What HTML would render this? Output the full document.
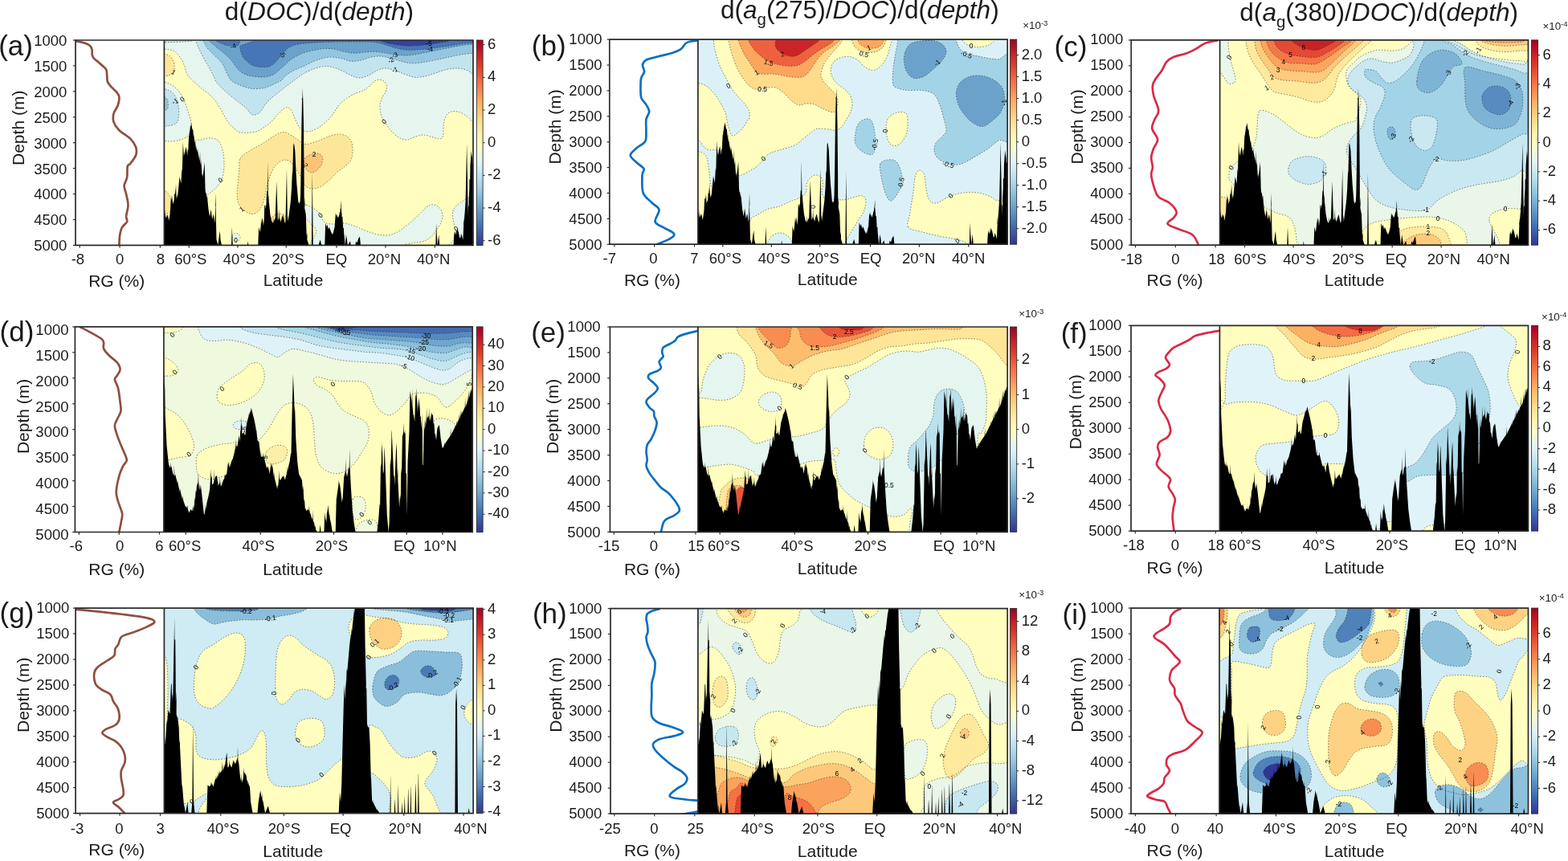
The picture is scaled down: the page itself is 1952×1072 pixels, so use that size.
<!DOCTYPE html>
<html><head><meta charset="utf-8"><title>Vertical gradients of DOC and CDOM along ocean sections</title>
<style>html,body{margin:0;padding:0;background:#fff;overflow:hidden}svg{display:block}</style>
</head><body>
<svg width="1952" height="1072" viewBox="0 0 1952 1072" font-family="'Liberation Sans', Arial, sans-serif" fill="#1a1a1a"><rect width="1952" height="1072" fill="#fff"/><text x="279.8" y="25.1" font-size="31.6">d(<tspan font-style="italic">DOC</tspan>)/d(<tspan font-style="italic">depth</tspan>)</text><text x="896.9" y="22.5" font-size="31.6">d(<tspan font-style="italic">a</tspan><tspan font-size="20.4" dy="8">g</tspan><tspan dy="-8">(275)/</tspan><tspan font-style="italic">DOC</tspan>)/d(<tspan font-style="italic">depth</tspan>)</text><text x="1543.3" y="25.6" font-size="31.6">d(<tspan font-style="italic">a</tspan><tspan font-size="20.4" dy="8">g</tspan><tspan dy="-8">(380)/</tspan><tspan font-style="italic">DOC</tspan>)/d(<tspan font-style="italic">depth</tspan>)</text><clipPath id="clip00"><rect x="204.4" y="50.0" width="384.6" height="255.4"/></clipPath><g clip-path="url(#clip00)"><rect x="204.4" y="50.0" width="384.6" height="255.39999999999998" fill="#fffebe"/><path d="M199.0,61.0 C200.2,64.1 201.2,60.6 204.0,61.0 C206.8,61.4 212.6,61.5 216.0,63.2 C219.4,65.0 222.2,68.7 224.5,71.8 C226.8,74.8 228.1,78.0 229.5,81.5 C230.9,85.0 231.2,89.2 233.0,92.5 C234.8,95.8 237.7,98.2 240.5,101.0 C243.3,103.8 246.6,106.7 250.0,109.5 C253.4,112.3 257.8,115.0 261.0,118.0 C264.2,121.0 266.9,123.9 269.5,127.5 C272.1,131.1 274.5,135.9 276.8,139.8 C279.0,143.6 280.3,147.1 282.8,150.5 C285.2,153.9 288.6,157.5 291.5,160.0 C294.4,162.5 295.5,164.6 300.0,165.2 C304.5,165.9 313.9,165.0 318.5,164.0 C323.1,163.0 324.7,161.0 327.8,159.0 C330.8,157.0 333.9,155.1 337.0,152.2 C340.1,149.4 343.4,145.0 346.2,142.0 C349.1,139.0 352.2,135.8 354.2,134.5 C356.3,133.2 357.3,134.0 358.5,134.2 C359.7,134.5 360.5,134.5 361.5,135.8 C362.5,137.0 363.7,139.8 364.8,142.0 C365.8,144.2 366.8,147.0 367.8,149.2 C368.8,151.5 369.7,153.7 370.8,155.5 C371.8,157.3 372.5,158.9 374.0,160.2 C375.5,161.6 378.0,163.0 380.0,163.5 C382.0,164.0 384.2,163.9 386.2,163.5 C388.3,163.1 390.0,162.3 392.5,161.0 C395.0,159.7 398.5,157.9 401.5,155.5 C404.5,153.1 408.2,149.6 410.8,146.8 C413.3,143.9 415.0,141.0 417.0,138.2 C419.0,135.5 420.3,132.6 422.8,130.0 C425.2,127.4 428.2,124.8 431.5,122.5 C434.8,120.2 439.2,117.9 442.8,116.2 C446.3,114.6 449.8,114.0 452.8,112.5 C455.7,111.0 458.0,108.9 460.2,107.0 C462.5,105.1 464.0,102.5 466.0,101.2 C468.0,100.0 470.0,99.2 472.0,99.2 C474.0,99.2 476.2,100.0 477.8,101.2 C479.3,102.5 481.1,104.8 481.5,107.0 C481.9,109.2 481.0,112.0 480.0,114.5 C479.0,117.0 476.7,119.3 475.5,122.0 C474.3,124.7 473.2,127.0 473.0,130.5 C472.8,134.0 473.4,139.2 474.5,143.0 C475.6,146.8 477.4,149.7 479.5,153.0 C481.6,156.3 484.1,159.9 487.0,163.0 C489.9,166.1 493.7,169.7 497.0,171.5 C500.3,173.3 503.7,174.2 507.0,174.0 C510.3,173.8 513.7,171.2 517.0,170.2 C520.3,169.2 523.7,168.0 527.0,168.0 C530.3,168.0 533.8,169.4 537.0,170.2 C540.2,171.1 544.1,173.1 546.5,173.0 C548.9,172.9 550.5,172.5 551.5,169.5 C552.5,166.5 551.6,159.2 552.2,155.0 C552.9,150.8 553.9,146.7 555.5,144.0 C557.1,141.3 559.3,139.8 562.0,139.0 C564.7,138.2 568.2,138.5 571.5,139.5 C574.8,140.5 578.6,142.8 581.5,145.0 C584.4,147.2 586.5,150.8 589.0,152.5 C591.5,154.2 595.2,173.3 596.5,155.0 C597.8,136.7 663.2,61.2 596.5,42.5 C529.8,23.8 262.8,39.4 196.5,42.5 C130.2,45.6 197.8,57.9 199.0,61.0Z" fill="#e6f5ed"/><path d="M199.0,102.0 C199.8,89.8 202.0,101.6 204.0,102.0 C206.0,102.4 208.6,103.1 211.2,104.5 C213.9,105.9 217.1,107.9 219.8,110.5 C222.4,113.1 225.0,116.6 227.0,120.2 C229.0,123.9 230.6,128.7 232.0,132.5 C233.4,136.3 234.5,139.8 235.5,143.2 C236.5,146.7 237.8,149.8 238.0,153.0 C238.2,156.2 237.6,159.9 236.8,162.8 C235.9,165.6 235.4,168.0 233.0,170.0 C230.6,172.0 226.3,173.8 222.2,174.8 C218.2,175.8 211.8,175.9 208.8,176.0 C205.7,176.1 205.6,175.6 204.0,175.5 C202.4,175.4 199.8,187.8 199.0,175.5 C198.2,163.2 198.2,114.2 199.0,102.0Z" fill="#e6f5ed"/><path d="M241.5,182.5 C243.2,169.8 247.8,175.5 251.5,173.8 C255.2,172.0 260.5,171.6 264.0,172.0 C267.5,172.4 270.5,173.2 272.8,176.2 C275.0,179.2 276.7,184.8 277.8,190.0 C278.8,195.2 279.2,202.1 279.0,207.5 C278.8,212.9 278.0,218.3 276.5,222.5 C275.0,226.7 273.0,229.4 270.2,232.5 C267.5,235.6 263.4,238.8 260.2,241.2 C257.1,243.8 254.6,246.0 251.5,247.5 C248.4,249.0 243.2,260.8 241.5,250.0 C239.8,239.2 239.8,195.2 241.5,182.5Z" fill="#e6f5ed"/><path d="M381.2,255.2 C384.4,256.2 389.5,258.7 392.5,260.8 C395.5,262.8 397.4,264.8 399.2,267.5 C401.1,270.2 401.1,274.8 403.8,276.8 C406.4,278.7 410.9,278.8 415.0,279.0 C419.1,279.2 423.8,277.2 428.5,277.8 C433.2,278.3 438.0,280.4 443.2,282.2 C448.5,284.1 454.6,287.2 460.2,289.0 C465.9,290.8 472.1,292.6 477.0,293.0 C481.9,293.4 485.8,292.5 489.5,291.2 C493.2,290.0 495.9,288.2 499.5,285.8 C503.1,283.3 507.2,280.0 511.0,276.8 C514.8,273.5 518.9,269.7 522.2,266.5 C525.6,263.3 528.5,259.5 531.2,257.5 C534.0,255.5 536.4,254.6 539.0,254.8 C541.6,254.9 545.0,256.4 547.0,258.5 C549.0,260.6 550.6,264.5 551.0,267.5 C551.4,270.5 550.5,273.7 549.2,276.8 C548.0,279.8 545.6,282.8 543.5,285.8 C541.4,288.8 539.4,292.3 536.8,294.8 C534.1,297.2 531.1,299.0 527.8,300.2 C524.4,301.5 519.9,301.4 516.5,302.0 C513.1,302.6 509.8,303.2 507.5,303.8 C505.2,304.3 503.8,303.4 503.0,305.2 C502.2,307.1 521.4,313.4 503.0,315.0 C484.6,316.6 410.7,319.5 392.5,315.0 C374.3,310.5 394.7,294.0 393.8,288.0 C392.8,282.0 389.1,281.6 387.0,279.0 C384.9,276.4 383.0,274.9 381.2,272.2 C379.5,269.6 378.0,265.8 376.8,263.0 C375.5,260.2 372.8,256.5 373.5,255.2 C374.2,254.0 378.1,254.3 381.2,255.2Z" fill="#e6f5ed"/><path d="M563.8,263.0 C564.5,260.3 566.0,258.5 568.2,256.2 C570.5,254.0 574.6,251.2 577.2,249.5 C579.9,247.8 582.0,247.0 584.2,246.2 C586.5,245.5 589.4,245.2 591.0,245.0 C592.6,244.8 593.5,233.3 594.0,245.0 C594.5,256.7 599.8,303.3 594.0,315.0 C588.2,326.7 565.0,316.6 559.2,315.0 C553.5,313.4 558.5,307.9 559.2,305.2 C560.0,302.6 562.4,301.8 563.8,299.2 C565.1,296.8 566.9,293.2 567.2,290.2 C567.6,287.2 566.6,284.2 566.0,281.2 C565.4,278.2 564.1,275.3 563.8,272.2 C563.4,269.2 563.0,265.7 563.8,263.0Z" fill="#e6f5ed"/><path d="M289.0,293.8 C289.1,292.2 291.4,290.9 292.8,290.5 C294.1,290.1 296.0,290.7 297.0,291.5 C298.0,292.3 299.0,294.2 299.0,295.5 C299.0,296.8 298.2,298.8 297.0,299.5 C295.8,300.2 293.3,301.0 292.0,300.0 C290.7,299.0 288.9,295.3 289.0,293.8Z" fill="#e6f5ed"/><path d="M243.8,42.5 C185.0,43.8 243.1,47.5 243.8,50.5 C244.4,53.5 246.1,57.0 247.5,60.2 C248.9,63.5 250.6,66.9 252.2,70.0 C253.9,73.1 255.7,76.1 257.2,78.8 C258.8,81.4 260.1,83.3 261.5,86.0 C262.9,88.7 264.4,92.0 265.8,94.8 C267.1,97.5 267.7,100.0 269.5,102.5 C271.3,105.0 273.7,107.3 276.5,110.0 C279.3,112.7 283.6,116.2 286.5,118.8 C289.4,121.2 291.8,123.2 294.0,125.0 C296.2,126.8 298.0,127.9 300.0,129.5 C302.0,131.1 304.0,132.3 306.2,134.5 C308.5,136.7 311.3,141.2 313.5,142.5 C315.7,143.8 317.3,143.2 319.2,142.5 C321.2,141.8 323.2,140.2 325.0,138.2 C326.8,136.3 327.8,133.3 329.8,130.8 C331.8,128.2 334.2,125.3 337.0,122.8 C339.8,120.2 343.2,118.0 346.2,115.5 C349.3,113.0 352.4,110.4 355.5,108.0 C358.6,105.6 361.2,103.8 364.8,101.2 C368.2,98.7 372.0,95.1 376.5,92.5 C381.0,89.9 386.5,87.2 391.5,85.5 C396.5,83.8 401.5,82.4 406.5,82.5 C411.5,82.6 416.5,84.4 421.5,86.2 C426.5,88.1 432.1,92.0 436.5,93.8 C440.9,95.5 444.0,97.0 447.8,97.0 C451.5,97.0 455.5,95.2 459.0,93.8 C462.5,92.2 465.7,89.5 469.0,88.0 C472.3,86.5 475.2,85.1 479.0,85.0 C482.8,84.9 487.3,86.2 491.5,87.5 C495.7,88.8 499.8,91.0 504.0,92.5 C508.2,94.0 512.3,95.8 516.5,96.2 C520.7,96.7 524.8,95.8 529.0,95.0 C533.2,94.2 537.3,92.6 541.5,91.2 C545.7,89.9 549.4,88.0 554.0,87.0 C558.6,86.0 564.4,84.9 569.0,85.0 C573.6,85.1 578.2,86.2 581.5,87.5 C584.8,88.8 586.5,91.5 589.0,92.5 C591.5,93.5 595.2,102.1 596.5,93.8 C597.8,85.4 655.3,51.0 596.5,42.5 C537.7,34.0 302.5,41.2 243.8,42.5Z" fill="#c1e4ef"/><path d="M196.5,42.5 C204.0,40.8 234.0,41.2 241.5,42.5 C249.0,43.8 243.6,48.4 241.5,50.0 C239.4,51.6 233.6,51.6 229.0,52.0 C224.4,52.4 218.2,52.3 214.0,52.5 C209.8,52.7 206.9,52.9 204.0,53.0 C201.1,53.1 197.8,54.8 196.5,53.0 C195.2,51.2 189.0,44.2 196.5,42.5Z" fill="#c1e4ef"/><path d="M199.0,110.8 C199.8,103.1 202.0,110.4 204.0,110.8 C206.0,111.1 208.8,111.4 211.2,113.0 C213.7,114.6 216.7,117.0 218.5,120.2 C220.3,123.5 221.6,128.0 222.2,132.5 C222.9,137.0 222.9,143.4 222.2,147.0 C221.6,150.6 220.8,152.6 218.5,154.2 C216.2,155.9 211.2,156.3 208.8,156.8 C206.3,157.2 205.6,156.8 204.0,156.8 C202.4,156.8 199.8,164.4 199.0,156.8 C198.2,149.1 198.2,118.4 199.0,110.8Z" fill="#c1e4ef"/><path d="M199.0,120.2 C199.8,117.4 202.4,119.5 204.0,120.2 C205.6,121.0 208.0,122.5 208.8,125.0 C209.5,127.5 209.5,133.0 208.8,135.0 C208.0,137.0 205.6,136.9 204.0,137.2 C202.4,137.6 199.8,140.1 199.0,137.2 C198.2,134.4 198.2,123.1 199.0,120.2Z" fill="#94c7df"/><path d="M253.2,42.5 C196.0,43.8 252.4,47.5 253.2,50.5 C254.1,53.5 256.6,57.6 258.5,60.2 C260.4,62.9 262.2,64.2 264.5,66.5 C266.8,68.8 269.9,71.6 272.0,73.8 C274.1,75.9 275.7,77.2 277.0,79.2 C278.3,81.3 278.8,83.4 280.0,86.0 C281.2,88.6 282.8,92.2 284.2,94.8 C285.8,97.3 286.2,99.2 289.0,101.2 C291.8,103.3 297.1,105.5 301.0,107.0 C304.9,108.5 308.3,109.7 312.2,110.2 C316.2,110.8 320.9,110.6 324.5,110.2 C328.1,109.9 330.9,109.1 334.0,108.0 C337.1,106.9 340.2,105.1 343.0,103.8 C345.8,102.4 348.7,101.3 350.5,100.0 C352.3,98.7 352.2,97.5 353.8,96.0 C355.3,94.5 357.5,92.6 360.0,91.0 C362.5,89.4 365.8,87.8 369.0,86.2 C372.2,84.8 374.8,83.9 379.0,82.0 C383.2,80.1 389.0,76.8 394.0,75.0 C399.0,73.2 404.0,71.7 409.0,71.2 C414.0,70.8 419.4,71.7 424.0,72.5 C428.6,73.3 432.3,75.8 436.5,76.2 C440.7,76.7 444.8,75.8 449.0,75.0 C453.2,74.2 457.3,72.1 461.5,71.2 C465.7,70.4 469.8,69.8 474.0,70.0 C478.2,70.2 482.3,71.5 486.5,72.5 C490.7,73.5 494.8,75.2 499.0,76.2 C503.2,77.3 507.3,78.5 511.5,78.8 C515.7,79.0 519.8,78.5 524.0,78.0 C528.2,77.5 532.3,76.5 536.5,75.8 C540.7,75.0 544.8,74.1 549.0,73.2 C553.2,72.4 557.3,71.4 561.5,70.5 C565.7,69.6 569.4,68.7 574.0,68.0 C578.6,67.3 585.2,66.5 589.0,66.2 C592.8,66.0 595.2,70.2 596.5,66.2 C597.8,62.3 653.7,46.5 596.5,42.5 C539.3,38.5 310.5,41.2 253.2,42.5Z" fill="#94c7df"/><path d="M260.5,42.5 C204.5,43.8 259.3,48.0 260.5,50.5 C261.7,53.0 265.4,55.2 267.8,57.2 C270.1,59.3 272.4,61.0 274.5,62.8 C276.6,64.5 278.5,65.9 280.5,67.8 C282.5,69.6 285.0,71.8 286.8,73.8 C288.5,75.7 289.6,77.4 291.0,79.2 C292.4,81.1 293.7,83.2 295.2,85.0 C296.8,86.8 298.2,88.3 300.2,89.8 C302.3,91.2 304.8,92.6 307.5,93.5 C310.2,94.4 313.5,94.8 316.8,95.2 C320.0,95.7 324.2,96.1 327.2,96.0 C330.3,95.9 332.9,95.4 335.2,94.8 C337.6,94.1 339.5,93.5 341.5,92.2 C343.5,91.0 345.5,89.0 347.5,87.2 C349.5,85.5 351.7,83.7 353.8,81.8 C355.8,79.8 357.5,77.7 360.0,75.8 C362.5,73.8 365.8,71.7 369.0,70.0 C372.2,68.3 375.2,66.8 379.0,65.5 C382.8,64.2 387.3,63.3 391.5,62.5 C395.7,61.7 399.8,60.7 404.0,60.5 C408.2,60.3 412.3,60.6 416.5,61.2 C420.7,61.9 424.8,63.7 429.0,64.5 C433.2,65.3 437.3,66.2 441.5,66.2 C445.7,66.3 449.8,65.3 454.0,65.0 C458.2,64.7 462.3,64.1 466.5,64.2 C470.7,64.4 474.8,65.1 479.0,65.8 C483.2,66.4 487.3,67.5 491.5,68.0 C495.7,68.5 499.8,69.0 504.0,69.0 C508.2,69.0 512.3,68.6 516.5,68.0 C520.7,67.4 524.8,66.3 529.0,65.5 C533.2,64.7 537.3,63.8 541.5,63.0 C545.7,62.2 549.8,61.3 554.0,60.5 C558.2,59.7 562.3,58.8 566.5,58.0 C570.7,57.2 575.2,56.5 579.0,56.0 C582.8,55.5 586.1,55.2 589.0,55.0 C591.9,54.8 595.2,57.1 596.5,55.0 C597.8,52.9 652.5,44.6 596.5,42.5 C540.5,40.4 316.5,41.2 260.5,42.5Z" fill="#6ba2cb"/><path d="M315.5,42.5 C268.7,43.9 316.8,48.8 315.5,50.8 C314.2,52.7 310.2,52.9 307.5,54.0 C304.8,55.1 300.4,56.2 299.0,57.2 C297.6,58.3 298.8,58.8 299.0,60.2 C299.2,61.7 299.5,63.8 300.2,65.8 C301.0,67.7 302.0,70.2 303.2,72.0 C304.5,73.8 305.8,74.7 307.5,76.2 C309.2,77.8 311.5,80.1 313.8,81.2 C316.0,82.4 318.5,82.9 321.0,83.2 C323.5,83.6 326.5,83.6 329.0,83.5 C331.5,83.4 333.9,83.3 336.0,82.5 C338.1,81.7 339.8,80.2 341.5,78.8 C343.2,77.3 344.8,75.5 346.2,73.8 C347.8,72.0 349.0,70.1 350.5,68.2 C352.0,66.4 353.9,64.3 355.5,62.8 C357.1,61.2 357.8,60.2 360.0,59.0 C362.2,57.8 365.0,56.4 369.0,55.5 C373.0,54.6 378.2,54.0 384.0,53.5 C389.8,53.0 396.5,52.8 404.0,52.5 C411.5,52.2 420.7,52.1 429.0,52.0 C437.3,51.9 447.3,51.8 454.0,52.0 C460.7,52.2 464.8,52.4 469.0,53.0 C473.2,53.6 475.2,54.4 479.0,55.5 C482.8,56.6 487.3,58.4 491.5,59.5 C495.7,60.6 499.4,61.6 504.0,62.0 C508.6,62.4 514.0,62.2 519.0,62.0 C524.0,61.8 529.0,61.3 534.0,60.8 C539.0,60.2 544.0,59.2 549.0,58.5 C554.0,57.8 559.0,57.0 564.0,56.2 C569.0,55.5 573.6,54.6 579.0,54.0 C584.4,53.4 593.6,54.4 596.5,52.5 C599.4,50.6 643.3,44.2 596.5,42.5 C549.7,40.8 362.3,41.1 315.5,42.5Z" fill="#4676b5"/><path d="M269.0,42.5 C264.3,43.8 268.1,48.7 269.0,50.5 C269.9,52.3 272.7,52.6 274.5,53.5 C276.3,54.4 278.1,55.4 280.0,56.0 C281.9,56.6 283.8,56.9 286.0,57.0 C288.2,57.1 291.6,56.8 293.5,56.5 C295.4,56.2 296.6,57.8 297.2,55.5 C297.9,53.2 302.0,44.7 297.2,42.5 C292.5,40.3 273.7,41.2 269.0,42.5Z" fill="#4676b5"/><path d="M469.0,42.5 C454.0,43.7 468.2,48.1 469.0,49.5 C469.8,50.9 471.1,50.2 474.0,51.0 C476.9,51.8 481.5,53.5 486.5,54.5 C491.5,55.5 498.6,56.6 504.0,57.0 C509.4,57.4 514.0,57.0 519.0,56.8 C524.0,56.5 529.0,55.9 534.0,55.2 C539.0,54.6 544.8,53.5 549.0,52.8 C553.2,52.0 557.3,52.2 559.0,50.5 C560.7,48.8 574.0,43.8 559.0,42.5 C544.0,41.2 484.0,41.3 469.0,42.5Z" fill="#35429b"/><path d="M199.0,67.0 C199.8,62.4 202.0,66.6 204.0,67.0 C206.0,67.4 209.2,67.9 211.2,69.5 C213.2,71.1 215.0,74.1 216.0,76.8 C217.0,79.4 217.4,82.8 217.2,85.2 C217.1,87.7 216.4,89.8 215.0,91.2 C213.6,92.8 210.6,93.7 208.8,94.2 C206.9,94.8 205.6,94.7 204.0,94.8 C202.4,94.8 199.8,99.4 199.0,94.8 C198.2,90.1 198.2,71.6 199.0,67.0Z" fill="#fee699"/><path d="M199.0,236.2 C199.8,231.0 202.1,235.2 204.0,236.2 C205.9,237.3 208.6,239.8 210.2,242.5 C211.9,245.2 213.6,249.2 214.0,252.5 C214.4,255.8 214.4,260.0 212.8,262.5 C211.1,265.0 206.3,266.7 204.0,267.5 C201.7,268.3 199.8,272.7 199.0,267.5 C198.2,262.3 198.2,241.5 199.0,236.2Z" fill="#fee699"/><path d="M299.0,197.5 C300.9,194.0 304.0,192.1 309.0,188.8 C314.0,185.4 323.2,181.0 329.0,177.5 C334.8,174.0 339.8,169.7 344.0,167.5 C348.2,165.3 350.7,164.2 354.0,164.5 C357.3,164.8 360.7,167.5 364.0,169.5 C367.3,171.5 371.1,174.6 374.0,176.2 C376.9,177.9 378.2,179.5 381.5,179.5 C384.8,179.5 389.4,177.8 394.0,176.2 C398.6,174.7 404.4,171.5 409.0,170.0 C413.6,168.5 417.8,167.1 421.5,167.0 C425.2,166.9 428.8,167.8 431.5,169.5 C434.2,171.2 436.5,174.1 437.8,177.5 C439.0,180.9 439.2,186.2 439.0,190.0 C438.8,193.8 438.2,197.1 436.5,200.0 C434.8,202.9 431.9,205.0 429.0,207.5 C426.1,210.0 422.3,212.1 419.0,215.0 C415.7,217.9 412.3,222.1 409.0,225.0 C405.7,227.9 402.3,230.8 399.0,232.5 C395.7,234.2 391.9,235.0 389.0,235.0 C386.1,235.0 383.6,234.2 381.5,232.5 C379.4,230.8 378.2,227.9 376.5,225.0 C374.8,222.1 373.2,217.9 371.5,215.0 C369.8,212.1 368.2,209.8 366.5,207.5 C364.8,205.2 363.6,202.6 361.5,201.2 C359.4,199.9 356.5,199.0 354.0,199.2 C351.5,199.5 348.8,200.7 346.5,202.5 C344.2,204.3 342.1,206.7 340.2,210.0 C338.4,213.3 336.7,218.3 335.2,222.5 C333.8,226.7 332.5,230.8 331.5,235.0 C330.5,239.2 330.2,243.3 329.0,247.5 C327.8,251.7 326.1,256.9 324.0,260.0 C321.9,263.1 319.0,265.4 316.5,266.2 C314.0,267.1 311.5,266.0 309.0,265.0 C306.5,264.0 303.6,262.1 301.5,260.0 C299.4,257.9 297.5,255.8 296.5,252.5 C295.5,249.2 295.2,244.6 295.2,240.0 C295.2,235.4 296.1,230.0 296.5,225.0 C296.9,220.0 297.3,214.6 297.8,210.0 C298.2,205.4 297.1,201.0 299.0,197.5Z" fill="#fee699"/><path d="M339.0,270.0 C340.5,267.3 344.0,266.7 346.5,266.2 C349.0,265.8 351.9,266.0 354.0,267.5 C356.1,269.0 358.4,271.7 359.0,275.0 C359.6,278.3 359.0,284.2 357.8,287.5 C356.5,290.8 354.2,294.0 351.5,295.0 C348.8,296.0 343.8,295.8 341.5,293.8 C339.2,291.7 338.2,286.5 337.8,282.5 C337.3,278.5 337.5,272.7 339.0,270.0Z" fill="#fee699"/><path d="M379.0,197.5 C380.2,195.4 383.6,193.5 386.5,192.5 C389.4,191.5 394.0,190.6 396.5,191.2 C399.0,191.9 400.9,194.0 401.5,196.2 C402.1,198.5 401.5,202.3 400.2,205.0 C399.0,207.7 396.1,210.8 394.0,212.5 C391.9,214.2 389.8,215.2 387.8,215.0 C385.7,214.8 383.0,212.9 381.5,211.2 C380.0,209.6 379.4,207.3 379.0,205.0 C378.6,202.7 377.8,199.6 379.0,197.5Z" fill="#fdc374"/><g fill="none" stroke="#222" stroke-width="0.7" stroke-dasharray="1.5 2" stroke-opacity="0.8"><path d="M199.0,61.0 C200.2,64.1 201.2,60.6 204.0,61.0 C206.8,61.4 212.6,61.5 216.0,63.2 C219.4,65.0 222.2,68.7 224.5,71.8 C226.8,74.8 228.1,78.0 229.5,81.5 C230.9,85.0 231.2,89.2 233.0,92.5 C234.8,95.8 237.7,98.2 240.5,101.0 C243.3,103.8 246.6,106.7 250.0,109.5 C253.4,112.3 257.8,115.0 261.0,118.0 C264.2,121.0 266.9,123.9 269.5,127.5 C272.1,131.1 274.5,135.9 276.8,139.8 C279.0,143.6 280.3,147.1 282.8,150.5 C285.2,153.9 288.6,157.5 291.5,160.0 C294.4,162.5 295.5,164.6 300.0,165.2 C304.5,165.9 313.9,165.0 318.5,164.0 C323.1,163.0 324.7,161.0 327.8,159.0 C330.8,157.0 333.9,155.1 337.0,152.2 C340.1,149.4 343.4,145.0 346.2,142.0 C349.1,139.0 352.2,135.8 354.2,134.5 C356.3,133.2 357.3,134.0 358.5,134.2 C359.7,134.5 360.5,134.5 361.5,135.8 C362.5,137.0 363.7,139.8 364.8,142.0 C365.8,144.2 366.8,147.0 367.8,149.2 C368.8,151.5 369.7,153.7 370.8,155.5 C371.8,157.3 372.5,158.9 374.0,160.2 C375.5,161.6 378.0,163.0 380.0,163.5 C382.0,164.0 384.2,163.9 386.2,163.5 C388.3,163.1 390.0,162.3 392.5,161.0 C395.0,159.7 398.5,157.9 401.5,155.5 C404.5,153.1 408.2,149.6 410.8,146.8 C413.3,143.9 415.0,141.0 417.0,138.2 C419.0,135.5 420.3,132.6 422.8,130.0 C425.2,127.4 428.2,124.8 431.5,122.5 C434.8,120.2 439.2,117.9 442.8,116.2 C446.3,114.6 449.8,114.0 452.8,112.5 C455.7,111.0 458.0,108.9 460.2,107.0 C462.5,105.1 464.0,102.5 466.0,101.2 C468.0,100.0 470.0,99.2 472.0,99.2 C474.0,99.2 476.2,100.0 477.8,101.2 C479.3,102.5 481.1,104.8 481.5,107.0 C481.9,109.2 481.0,112.0 480.0,114.5 C479.0,117.0 476.7,119.3 475.5,122.0 C474.3,124.7 473.2,127.0 473.0,130.5 C472.8,134.0 473.4,139.2 474.5,143.0 C475.6,146.8 477.4,149.7 479.5,153.0 C481.6,156.3 484.1,159.9 487.0,163.0 C489.9,166.1 493.7,169.7 497.0,171.5 C500.3,173.3 503.7,174.2 507.0,174.0 C510.3,173.8 513.7,171.2 517.0,170.2 C520.3,169.2 523.7,168.0 527.0,168.0 C530.3,168.0 533.8,169.4 537.0,170.2 C540.2,171.1 544.1,173.1 546.5,173.0 C548.9,172.9 550.5,172.5 551.5,169.5 C552.5,166.5 551.6,159.2 552.2,155.0 C552.9,150.8 553.9,146.7 555.5,144.0 C557.1,141.3 559.3,139.8 562.0,139.0 C564.7,138.2 568.2,138.5 571.5,139.5 C574.8,140.5 578.6,142.8 581.5,145.0 C584.4,147.2 586.5,150.8 589.0,152.5 C591.5,154.2 595.2,173.3 596.5,155.0 C597.8,136.7 663.2,61.2 596.5,42.5 C529.8,23.8 262.8,39.4 196.5,42.5 C130.2,45.6 197.8,57.9 199.0,61.0Z"/><path d="M199.0,102.0 C199.8,89.8 202.0,101.6 204.0,102.0 C206.0,102.4 208.6,103.1 211.2,104.5 C213.9,105.9 217.1,107.9 219.8,110.5 C222.4,113.1 225.0,116.6 227.0,120.2 C229.0,123.9 230.6,128.7 232.0,132.5 C233.4,136.3 234.5,139.8 235.5,143.2 C236.5,146.7 237.8,149.8 238.0,153.0 C238.2,156.2 237.6,159.9 236.8,162.8 C235.9,165.6 235.4,168.0 233.0,170.0 C230.6,172.0 226.3,173.8 222.2,174.8 C218.2,175.8 211.8,175.9 208.8,176.0 C205.7,176.1 205.6,175.6 204.0,175.5 C202.4,175.4 199.8,187.8 199.0,175.5 C198.2,163.2 198.2,114.2 199.0,102.0Z"/><path d="M241.5,182.5 C243.2,169.8 247.8,175.5 251.5,173.8 C255.2,172.0 260.5,171.6 264.0,172.0 C267.5,172.4 270.5,173.2 272.8,176.2 C275.0,179.2 276.7,184.8 277.8,190.0 C278.8,195.2 279.2,202.1 279.0,207.5 C278.8,212.9 278.0,218.3 276.5,222.5 C275.0,226.7 273.0,229.4 270.2,232.5 C267.5,235.6 263.4,238.8 260.2,241.2 C257.1,243.8 254.6,246.0 251.5,247.5 C248.4,249.0 243.2,260.8 241.5,250.0 C239.8,239.2 239.8,195.2 241.5,182.5Z"/><path d="M381.2,255.2 C384.4,256.2 389.5,258.7 392.5,260.8 C395.5,262.8 397.4,264.8 399.2,267.5 C401.1,270.2 401.1,274.8 403.8,276.8 C406.4,278.7 410.9,278.8 415.0,279.0 C419.1,279.2 423.8,277.2 428.5,277.8 C433.2,278.3 438.0,280.4 443.2,282.2 C448.5,284.1 454.6,287.2 460.2,289.0 C465.9,290.8 472.1,292.6 477.0,293.0 C481.9,293.4 485.8,292.5 489.5,291.2 C493.2,290.0 495.9,288.2 499.5,285.8 C503.1,283.3 507.2,280.0 511.0,276.8 C514.8,273.5 518.9,269.7 522.2,266.5 C525.6,263.3 528.5,259.5 531.2,257.5 C534.0,255.5 536.4,254.6 539.0,254.8 C541.6,254.9 545.0,256.4 547.0,258.5 C549.0,260.6 550.6,264.5 551.0,267.5 C551.4,270.5 550.5,273.7 549.2,276.8 C548.0,279.8 545.6,282.8 543.5,285.8 C541.4,288.8 539.4,292.3 536.8,294.8 C534.1,297.2 531.1,299.0 527.8,300.2 C524.4,301.5 519.9,301.4 516.5,302.0 C513.1,302.6 509.8,303.2 507.5,303.8 C505.2,304.3 503.8,303.4 503.0,305.2 C502.2,307.1 521.4,313.4 503.0,315.0 C484.6,316.6 410.7,319.5 392.5,315.0 C374.3,310.5 394.7,294.0 393.8,288.0 C392.8,282.0 389.1,281.6 387.0,279.0 C384.9,276.4 383.0,274.9 381.2,272.2 C379.5,269.6 378.0,265.8 376.8,263.0 C375.5,260.2 372.8,256.5 373.5,255.2 C374.2,254.0 378.1,254.3 381.2,255.2Z"/><path d="M563.8,263.0 C564.5,260.3 566.0,258.5 568.2,256.2 C570.5,254.0 574.6,251.2 577.2,249.5 C579.9,247.8 582.0,247.0 584.2,246.2 C586.5,245.5 589.4,245.2 591.0,245.0 C592.6,244.8 593.5,233.3 594.0,245.0 C594.5,256.7 599.8,303.3 594.0,315.0 C588.2,326.7 565.0,316.6 559.2,315.0 C553.5,313.4 558.5,307.9 559.2,305.2 C560.0,302.6 562.4,301.8 563.8,299.2 C565.1,296.8 566.9,293.2 567.2,290.2 C567.6,287.2 566.6,284.2 566.0,281.2 C565.4,278.2 564.1,275.3 563.8,272.2 C563.4,269.2 563.0,265.7 563.8,263.0Z"/><path d="M289.0,293.8 C289.1,292.2 291.4,290.9 292.8,290.5 C294.1,290.1 296.0,290.7 297.0,291.5 C298.0,292.3 299.0,294.2 299.0,295.5 C299.0,296.8 298.2,298.8 297.0,299.5 C295.8,300.2 293.3,301.0 292.0,300.0 C290.7,299.0 288.9,295.3 289.0,293.8Z"/><path d="M243.8,42.5 C185.0,43.8 243.1,47.5 243.8,50.5 C244.4,53.5 246.1,57.0 247.5,60.2 C248.9,63.5 250.6,66.9 252.2,70.0 C253.9,73.1 255.7,76.1 257.2,78.8 C258.8,81.4 260.1,83.3 261.5,86.0 C262.9,88.7 264.4,92.0 265.8,94.8 C267.1,97.5 267.7,100.0 269.5,102.5 C271.3,105.0 273.7,107.3 276.5,110.0 C279.3,112.7 283.6,116.2 286.5,118.8 C289.4,121.2 291.8,123.2 294.0,125.0 C296.2,126.8 298.0,127.9 300.0,129.5 C302.0,131.1 304.0,132.3 306.2,134.5 C308.5,136.7 311.3,141.2 313.5,142.5 C315.7,143.8 317.3,143.2 319.2,142.5 C321.2,141.8 323.2,140.2 325.0,138.2 C326.8,136.3 327.8,133.3 329.8,130.8 C331.8,128.2 334.2,125.3 337.0,122.8 C339.8,120.2 343.2,118.0 346.2,115.5 C349.3,113.0 352.4,110.4 355.5,108.0 C358.6,105.6 361.2,103.8 364.8,101.2 C368.2,98.7 372.0,95.1 376.5,92.5 C381.0,89.9 386.5,87.2 391.5,85.5 C396.5,83.8 401.5,82.4 406.5,82.5 C411.5,82.6 416.5,84.4 421.5,86.2 C426.5,88.1 432.1,92.0 436.5,93.8 C440.9,95.5 444.0,97.0 447.8,97.0 C451.5,97.0 455.5,95.2 459.0,93.8 C462.5,92.2 465.7,89.5 469.0,88.0 C472.3,86.5 475.2,85.1 479.0,85.0 C482.8,84.9 487.3,86.2 491.5,87.5 C495.7,88.8 499.8,91.0 504.0,92.5 C508.2,94.0 512.3,95.8 516.5,96.2 C520.7,96.7 524.8,95.8 529.0,95.0 C533.2,94.2 537.3,92.6 541.5,91.2 C545.7,89.9 549.4,88.0 554.0,87.0 C558.6,86.0 564.4,84.9 569.0,85.0 C573.6,85.1 578.2,86.2 581.5,87.5 C584.8,88.8 586.5,91.5 589.0,92.5 C591.5,93.5 595.2,102.1 596.5,93.8 C597.8,85.4 655.3,51.0 596.5,42.5 C537.7,34.0 302.5,41.2 243.8,42.5Z"/><path d="M196.5,42.5 C204.0,40.8 234.0,41.2 241.5,42.5 C249.0,43.8 243.6,48.4 241.5,50.0 C239.4,51.6 233.6,51.6 229.0,52.0 C224.4,52.4 218.2,52.3 214.0,52.5 C209.8,52.7 206.9,52.9 204.0,53.0 C201.1,53.1 197.8,54.8 196.5,53.0 C195.2,51.2 189.0,44.2 196.5,42.5Z"/><path d="M199.0,110.8 C199.8,103.1 202.0,110.4 204.0,110.8 C206.0,111.1 208.8,111.4 211.2,113.0 C213.7,114.6 216.7,117.0 218.5,120.2 C220.3,123.5 221.6,128.0 222.2,132.5 C222.9,137.0 222.9,143.4 222.2,147.0 C221.6,150.6 220.8,152.6 218.5,154.2 C216.2,155.9 211.2,156.3 208.8,156.8 C206.3,157.2 205.6,156.8 204.0,156.8 C202.4,156.8 199.8,164.4 199.0,156.8 C198.2,149.1 198.2,118.4 199.0,110.8Z"/><path d="M199.0,120.2 C199.8,117.4 202.4,119.5 204.0,120.2 C205.6,121.0 208.0,122.5 208.8,125.0 C209.5,127.5 209.5,133.0 208.8,135.0 C208.0,137.0 205.6,136.9 204.0,137.2 C202.4,137.6 199.8,140.1 199.0,137.2 C198.2,134.4 198.2,123.1 199.0,120.2Z"/><path d="M253.2,42.5 C196.0,43.8 252.4,47.5 253.2,50.5 C254.1,53.5 256.6,57.6 258.5,60.2 C260.4,62.9 262.2,64.2 264.5,66.5 C266.8,68.8 269.9,71.6 272.0,73.8 C274.1,75.9 275.7,77.2 277.0,79.2 C278.3,81.3 278.8,83.4 280.0,86.0 C281.2,88.6 282.8,92.2 284.2,94.8 C285.8,97.3 286.2,99.2 289.0,101.2 C291.8,103.3 297.1,105.5 301.0,107.0 C304.9,108.5 308.3,109.7 312.2,110.2 C316.2,110.8 320.9,110.6 324.5,110.2 C328.1,109.9 330.9,109.1 334.0,108.0 C337.1,106.9 340.2,105.1 343.0,103.8 C345.8,102.4 348.7,101.3 350.5,100.0 C352.3,98.7 352.2,97.5 353.8,96.0 C355.3,94.5 357.5,92.6 360.0,91.0 C362.5,89.4 365.8,87.8 369.0,86.2 C372.2,84.8 374.8,83.9 379.0,82.0 C383.2,80.1 389.0,76.8 394.0,75.0 C399.0,73.2 404.0,71.7 409.0,71.2 C414.0,70.8 419.4,71.7 424.0,72.5 C428.6,73.3 432.3,75.8 436.5,76.2 C440.7,76.7 444.8,75.8 449.0,75.0 C453.2,74.2 457.3,72.1 461.5,71.2 C465.7,70.4 469.8,69.8 474.0,70.0 C478.2,70.2 482.3,71.5 486.5,72.5 C490.7,73.5 494.8,75.2 499.0,76.2 C503.2,77.3 507.3,78.5 511.5,78.8 C515.7,79.0 519.8,78.5 524.0,78.0 C528.2,77.5 532.3,76.5 536.5,75.8 C540.7,75.0 544.8,74.1 549.0,73.2 C553.2,72.4 557.3,71.4 561.5,70.5 C565.7,69.6 569.4,68.7 574.0,68.0 C578.6,67.3 585.2,66.5 589.0,66.2 C592.8,66.0 595.2,70.2 596.5,66.2 C597.8,62.3 653.7,46.5 596.5,42.5 C539.3,38.5 310.5,41.2 253.2,42.5Z"/><path d="M260.5,42.5 C204.5,43.8 259.3,48.0 260.5,50.5 C261.7,53.0 265.4,55.2 267.8,57.2 C270.1,59.3 272.4,61.0 274.5,62.8 C276.6,64.5 278.5,65.9 280.5,67.8 C282.5,69.6 285.0,71.8 286.8,73.8 C288.5,75.7 289.6,77.4 291.0,79.2 C292.4,81.1 293.7,83.2 295.2,85.0 C296.8,86.8 298.2,88.3 300.2,89.8 C302.3,91.2 304.8,92.6 307.5,93.5 C310.2,94.4 313.5,94.8 316.8,95.2 C320.0,95.7 324.2,96.1 327.2,96.0 C330.3,95.9 332.9,95.4 335.2,94.8 C337.6,94.1 339.5,93.5 341.5,92.2 C343.5,91.0 345.5,89.0 347.5,87.2 C349.5,85.5 351.7,83.7 353.8,81.8 C355.8,79.8 357.5,77.7 360.0,75.8 C362.5,73.8 365.8,71.7 369.0,70.0 C372.2,68.3 375.2,66.8 379.0,65.5 C382.8,64.2 387.3,63.3 391.5,62.5 C395.7,61.7 399.8,60.7 404.0,60.5 C408.2,60.3 412.3,60.6 416.5,61.2 C420.7,61.9 424.8,63.7 429.0,64.5 C433.2,65.3 437.3,66.2 441.5,66.2 C445.7,66.3 449.8,65.3 454.0,65.0 C458.2,64.7 462.3,64.1 466.5,64.2 C470.7,64.4 474.8,65.1 479.0,65.8 C483.2,66.4 487.3,67.5 491.5,68.0 C495.7,68.5 499.8,69.0 504.0,69.0 C508.2,69.0 512.3,68.6 516.5,68.0 C520.7,67.4 524.8,66.3 529.0,65.5 C533.2,64.7 537.3,63.8 541.5,63.0 C545.7,62.2 549.8,61.3 554.0,60.5 C558.2,59.7 562.3,58.8 566.5,58.0 C570.7,57.2 575.2,56.5 579.0,56.0 C582.8,55.5 586.1,55.2 589.0,55.0 C591.9,54.8 595.2,57.1 596.5,55.0 C597.8,52.9 652.5,44.6 596.5,42.5 C540.5,40.4 316.5,41.2 260.5,42.5Z"/><path d="M315.5,42.5 C268.7,43.9 316.8,48.8 315.5,50.8 C314.2,52.7 310.2,52.9 307.5,54.0 C304.8,55.1 300.4,56.2 299.0,57.2 C297.6,58.3 298.8,58.8 299.0,60.2 C299.2,61.7 299.5,63.8 300.2,65.8 C301.0,67.7 302.0,70.2 303.2,72.0 C304.5,73.8 305.8,74.7 307.5,76.2 C309.2,77.8 311.5,80.1 313.8,81.2 C316.0,82.4 318.5,82.9 321.0,83.2 C323.5,83.6 326.5,83.6 329.0,83.5 C331.5,83.4 333.9,83.3 336.0,82.5 C338.1,81.7 339.8,80.2 341.5,78.8 C343.2,77.3 344.8,75.5 346.2,73.8 C347.8,72.0 349.0,70.1 350.5,68.2 C352.0,66.4 353.9,64.3 355.5,62.8 C357.1,61.2 357.8,60.2 360.0,59.0 C362.2,57.8 365.0,56.4 369.0,55.5 C373.0,54.6 378.2,54.0 384.0,53.5 C389.8,53.0 396.5,52.8 404.0,52.5 C411.5,52.2 420.7,52.1 429.0,52.0 C437.3,51.9 447.3,51.8 454.0,52.0 C460.7,52.2 464.8,52.4 469.0,53.0 C473.2,53.6 475.2,54.4 479.0,55.5 C482.8,56.6 487.3,58.4 491.5,59.5 C495.7,60.6 499.4,61.6 504.0,62.0 C508.6,62.4 514.0,62.2 519.0,62.0 C524.0,61.8 529.0,61.3 534.0,60.8 C539.0,60.2 544.0,59.2 549.0,58.5 C554.0,57.8 559.0,57.0 564.0,56.2 C569.0,55.5 573.6,54.6 579.0,54.0 C584.4,53.4 593.6,54.4 596.5,52.5 C599.4,50.6 643.3,44.2 596.5,42.5 C549.7,40.8 362.3,41.1 315.5,42.5Z"/><path d="M269.0,42.5 C264.3,43.8 268.1,48.7 269.0,50.5 C269.9,52.3 272.7,52.6 274.5,53.5 C276.3,54.4 278.1,55.4 280.0,56.0 C281.9,56.6 283.8,56.9 286.0,57.0 C288.2,57.1 291.6,56.8 293.5,56.5 C295.4,56.2 296.6,57.8 297.2,55.5 C297.9,53.2 302.0,44.7 297.2,42.5 C292.5,40.3 273.7,41.2 269.0,42.5Z"/><path d="M469.0,42.5 C454.0,43.7 468.2,48.1 469.0,49.5 C469.8,50.9 471.1,50.2 474.0,51.0 C476.9,51.8 481.5,53.5 486.5,54.5 C491.5,55.5 498.6,56.6 504.0,57.0 C509.4,57.4 514.0,57.0 519.0,56.8 C524.0,56.5 529.0,55.9 534.0,55.2 C539.0,54.6 544.8,53.5 549.0,52.8 C553.2,52.0 557.3,52.2 559.0,50.5 C560.7,48.8 574.0,43.8 559.0,42.5 C544.0,41.2 484.0,41.3 469.0,42.5Z"/><path d="M199.0,67.0 C199.8,62.4 202.0,66.6 204.0,67.0 C206.0,67.4 209.2,67.9 211.2,69.5 C213.2,71.1 215.0,74.1 216.0,76.8 C217.0,79.4 217.4,82.8 217.2,85.2 C217.1,87.7 216.4,89.8 215.0,91.2 C213.6,92.8 210.6,93.7 208.8,94.2 C206.9,94.8 205.6,94.7 204.0,94.8 C202.4,94.8 199.8,99.4 199.0,94.8 C198.2,90.1 198.2,71.6 199.0,67.0Z"/><path d="M199.0,236.2 C199.8,231.0 202.1,235.2 204.0,236.2 C205.9,237.3 208.6,239.8 210.2,242.5 C211.9,245.2 213.6,249.2 214.0,252.5 C214.4,255.8 214.4,260.0 212.8,262.5 C211.1,265.0 206.3,266.7 204.0,267.5 C201.7,268.3 199.8,272.7 199.0,267.5 C198.2,262.3 198.2,241.5 199.0,236.2Z"/><path d="M299.0,197.5 C300.9,194.0 304.0,192.1 309.0,188.8 C314.0,185.4 323.2,181.0 329.0,177.5 C334.8,174.0 339.8,169.7 344.0,167.5 C348.2,165.3 350.7,164.2 354.0,164.5 C357.3,164.8 360.7,167.5 364.0,169.5 C367.3,171.5 371.1,174.6 374.0,176.2 C376.9,177.9 378.2,179.5 381.5,179.5 C384.8,179.5 389.4,177.8 394.0,176.2 C398.6,174.7 404.4,171.5 409.0,170.0 C413.6,168.5 417.8,167.1 421.5,167.0 C425.2,166.9 428.8,167.8 431.5,169.5 C434.2,171.2 436.5,174.1 437.8,177.5 C439.0,180.9 439.2,186.2 439.0,190.0 C438.8,193.8 438.2,197.1 436.5,200.0 C434.8,202.9 431.9,205.0 429.0,207.5 C426.1,210.0 422.3,212.1 419.0,215.0 C415.7,217.9 412.3,222.1 409.0,225.0 C405.7,227.9 402.3,230.8 399.0,232.5 C395.7,234.2 391.9,235.0 389.0,235.0 C386.1,235.0 383.6,234.2 381.5,232.5 C379.4,230.8 378.2,227.9 376.5,225.0 C374.8,222.1 373.2,217.9 371.5,215.0 C369.8,212.1 368.2,209.8 366.5,207.5 C364.8,205.2 363.6,202.6 361.5,201.2 C359.4,199.9 356.5,199.0 354.0,199.2 C351.5,199.5 348.8,200.7 346.5,202.5 C344.2,204.3 342.1,206.7 340.2,210.0 C338.4,213.3 336.7,218.3 335.2,222.5 C333.8,226.7 332.5,230.8 331.5,235.0 C330.5,239.2 330.2,243.3 329.0,247.5 C327.8,251.7 326.1,256.9 324.0,260.0 C321.9,263.1 319.0,265.4 316.5,266.2 C314.0,267.1 311.5,266.0 309.0,265.0 C306.5,264.0 303.6,262.1 301.5,260.0 C299.4,257.9 297.5,255.8 296.5,252.5 C295.5,249.2 295.2,244.6 295.2,240.0 C295.2,235.4 296.1,230.0 296.5,225.0 C296.9,220.0 297.3,214.6 297.8,210.0 C298.2,205.4 297.1,201.0 299.0,197.5Z"/><path d="M339.0,270.0 C340.5,267.3 344.0,266.7 346.5,266.2 C349.0,265.8 351.9,266.0 354.0,267.5 C356.1,269.0 358.4,271.7 359.0,275.0 C359.6,278.3 359.0,284.2 357.8,287.5 C356.5,290.8 354.2,294.0 351.5,295.0 C348.8,296.0 343.8,295.8 341.5,293.8 C339.2,291.7 338.2,286.5 337.8,282.5 C337.3,278.5 337.5,272.7 339.0,270.0Z"/><path d="M379.0,197.5 C380.2,195.4 383.6,193.5 386.5,192.5 C389.4,191.5 394.0,190.6 396.5,191.2 C399.0,191.9 400.9,194.0 401.5,196.2 C402.1,198.5 401.5,202.3 400.2,205.0 C399.0,207.7 396.1,210.8 394.0,212.5 C391.9,214.2 389.8,215.2 387.8,215.0 C385.7,214.8 383.0,212.9 381.5,211.2 C380.0,209.6 379.4,207.3 379.0,205.0 C378.6,202.7 377.8,199.6 379.0,197.5Z"/></g><g font-size="8.4" fill="#000" text-anchor="middle"><text x="290.2" y="60.3" transform="rotate(-15 290.2 57.5)">-4</text><text x="351.5" y="70.8" transform="rotate(40 351.5 68.0)">-5</text><text x="534.0" y="56.5" transform="rotate(0 534.0 53.8)">-5</text><text x="535.2" y="64.0" transform="rotate(0 535.2 61.2)">-4</text><text x="491.5" y="71.5" transform="rotate(-20 491.5 68.8)">-3</text><text x="486.5" y="77.8" transform="rotate(-30 486.5 75.0)">-2</text><text x="491.5" y="89.8" transform="rotate(-20 491.5 87.0)">-1</text><text x="216.0" y="92.8" transform="rotate(30 216.0 90.0)">1</text><text x="217.8" y="129.1" transform="rotate(-30 217.8 126.2)">-1</text><text x="227.0" y="126.5" transform="rotate(-40 227.0 123.8)">0</text><text x="478.2" y="154.1" transform="rotate(-40 478.2 151.2)">0</text><text x="274.5" y="227.1" transform="rotate(-40 274.5 224.2)">0</text><text x="301.0" y="263.3" transform="rotate(-40 301.0 260.5)">1</text><text x="391.0" y="195.3" transform="rotate(0 391.0 192.5)">2</text><text x="380.2" y="208.6" transform="rotate(60 380.2 205.8)">2</text><text x="399.0" y="270.8" transform="rotate(-40 399.0 268.0)">0</text><text x="567.8" y="287.8" transform="rotate(-30 567.8 285.0)">0</text><text x="293.5" y="302.3" transform="rotate(0 293.5 299.5)">0</text></g><path d="M203.2,310.4 L203.2,314.5 L204.0,266.9 L204.8,266.9 L205.1,269.1 L205.5,260.7 L205.9,269.1 L206.6,272.1 L207.0,264.9 L207.4,272.1 L207.1,271.6 L208.7,266.9 L210.3,274.8 L211.9,263.7 L212.6,249.5 L213.0,247.2 L213.4,249.5 L213.5,241.5 L214.1,250.2 L214.5,243.7 L214.9,250.2 L215.1,254.2 L216.7,249.4 L217.1,242.1 L217.5,241.0 L217.9,242.1 L218.2,233.6 L218.6,240.9 L219.0,228.1 L219.4,240.9 L219.8,247.9 L220.1,246.1 L220.5,242.3 L220.9,246.1 L221.4,241.5 L223.1,224.5 L223.5,219.1 L223.9,224.5 L223.8,220.9 L225.4,228.8 L226.1,214.4 L226.5,209.6 L226.9,214.4 L227.0,206.6 L227.8,176.5 L228.9,195.5 L229.1,193.3 L229.5,188.8 L229.9,193.3 L230.5,187.6 L231.7,182.8 L233.3,193.9 L233.6,187.3 L234.0,185.4 L234.4,187.3 L234.6,179.7 L235.1,170.3 L235.5,167.2 L235.9,170.3 L235.7,167.0 L236.8,159.0 L236.6,159.0 L237.0,155.9 L237.4,159.0 L238.1,152.7 L239.3,160.6 L240.4,162.2 L241.1,171.8 L241.5,166.7 L241.9,171.8 L241.6,171.7 L242.8,178.1 L242.6,179.8 L243.0,175.9 L243.4,179.8 L244.1,186.0 L244.1,187.1 L244.5,181.0 L244.9,187.1 L245.6,188.4 L246.0,184.5 L246.4,188.4 L246.0,187.6 L247.6,195.5 L248.6,200.5 L249.0,187.8 L249.4,200.5 L249.2,200.3 L250.1,206.3 L250.5,198.7 L250.9,206.3 L250.8,206.6 L251.6,219.5 L252.0,216.0 L252.4,219.5 L252.3,222.5 L253.6,211.4 L254.7,201.9 L255.5,235.2 L256.1,240.7 L256.5,239.9 L256.9,240.7 L256.8,241.5 L257.9,247.9 L257.6,249.2 L258.0,242.3 L258.4,249.2 L259.5,260.5 L261.1,270.1 L262.6,260.5 L264.2,273.2 L265.1,269.1 L265.5,266.5 L265.9,269.1 L265.8,266.9 L267.4,278.0 L268.1,257.6 L268.5,240.1 L268.9,257.6 L268.5,255.8 L269.5,298.6 L271.4,304.9 L273.0,292.3 L273.8,287.5 L274.5,298.6 L276.1,305.7 L288.0,305.7 L288.8,282.7 L289.8,305.7 L307.9,305.7 L308.6,300.2 L309.4,305.7 L321.3,305.7 L322.1,282.7 L323.7,289.1 L324.7,281.4 L325.1,271.4 L325.5,281.4 L325.3,279.6 L326.2,273.7 L326.6,271.1 L327.0,273.7 L326.9,271.6 L327.7,281.1 L328.1,273.6 L328.5,281.1 L328.5,282.7 L329.3,254.2 L329.2,256.4 L329.6,254.9 L330.0,256.4 L330.8,260.5 L330.7,256.9 L331.1,254.2 L331.5,256.9 L331.6,247.9 L332.2,238.8 L332.6,237.1 L333.0,238.8 L332.9,235.2 L333.2,200.3 L333.9,243.1 L333.7,246.1 L334.1,242.3 L334.5,246.1 L334.8,251.0 L336.4,266.9 L338.0,274.8 L339.6,278.0 L339.7,277.7 L340.1,269.3 L340.5,277.7 L341.2,274.8 L342.7,271.6 L344.3,225.6 L345.1,251.0 L345.9,274.8 L347.5,270.1 L347.2,271.3 L347.6,260.1 L348.0,271.3 L349.1,276.4 L348.7,277.1 L349.1,273.1 L349.5,277.1 L350.7,271.6 L352.3,266.9 L353.2,274.5 L353.6,268.3 L354.0,274.5 L353.8,274.8 L354.7,278.2 L355.1,275.2 L355.5,278.2 L355.4,278.0 L357.0,209.8 L357.8,270.1 L357.7,273.4 L358.1,268.0 L358.5,273.4 L358.6,276.4 L360.2,263.7 L361.8,251.0 L363.0,235.2 L363.7,217.4 L364.1,213.9 L364.5,217.4 L364.2,216.1 L365.2,180.2 L365.6,179.1 L366.0,180.2 L365.7,176.5 L367.3,187.6 L368.4,211.4 L369.4,228.8 L371.3,251.0 L372.9,254.2 L372.7,252.8 L373.1,250.7 L373.5,252.8 L374.1,243.1 L374.8,203.4 L375.4,155.9 L376.1,124.1 L375.7,123.2 L376.1,121.2 L376.5,123.2 L376.7,109.5 L377.3,124.1 L378.0,155.9 L378.6,219.3 L378.7,253.7 L379.1,245.2 L379.5,253.7 L379.2,259.0 L380.8,266.9 L381.7,294.0 L382.1,289.4 L382.5,294.0 L382.4,298.6 L384.8,305.7 L387.9,305.7 L388.4,251.0 L388.7,214.5 L389.2,251.0 L389.7,305.7 L396.3,305.7 L398.7,298.6 L400.3,305.7 L404.3,305.7 L405.1,278.0 L406.7,282.7 L407.4,279.6 L409.0,285.9 L409.2,284.6 L409.6,282.9 L410.0,284.6 L409.8,282.7 L412.2,289.1 L413.8,292.3 L413.7,292.2 L414.1,288.5 L414.5,292.2 L415.4,287.5 L416.6,282.7 L417.8,265.3 L418.5,270.1 L418.2,270.8 L418.6,264.5 L419.0,270.8 L419.3,266.9 L420.9,271.6 L422.5,266.9 L422.7,264.5 L423.1,263.5 L423.5,264.5 L423.6,260.5 L424.2,258.2 L424.6,249.1 L425.0,258.2 L424.6,257.4 L425.5,266.9 L425.7,270.4 L426.1,269.5 L426.5,270.4 L426.5,271.6 L427.2,284.4 L427.6,283.3 L428.0,284.4 L428.1,289.1 L429.7,305.7 L430.9,292.3 L432.0,298.6 L432.8,305.7 L436.0,300.2 L436.9,305.7 L442.3,305.7 L443.1,300.2 L444.2,302.5 L444.6,301.6 L445.0,302.5 L444.7,301.8 L446.3,297.0 L447.9,294.6 L449.0,305.7 L542.3,305.7 L543.1,278.0 L543.8,292.3 L544.6,305.7 L546.2,292.3 L547.3,305.7 L564.5,305.7 L565.3,292.3 L566.1,287.5 L566.4,291.1 L566.8,289.6 L567.2,291.1 L566.8,290.7 L567.6,292.3 L567.9,290.0 L568.3,284.7 L568.7,290.0 L569.2,284.3 L570.8,289.1 L572.4,297.0 L572.4,296.4 L572.8,295.5 L573.2,296.4 L574.0,290.7 L575.6,295.4 L576.4,298.6 L577.2,279.6 L576.9,279.5 L577.3,271.4 L577.7,279.5 L577.9,273.2 L578.7,263.7 L579.5,251.0 L580.3,219.3 L581.1,178.1 L581.9,219.3 L582.7,270.1 L582.9,257.6 L583.3,255.2 L583.7,257.6 L583.5,251.0 L584.3,235.2 L584.4,223.9 L584.8,222.5 L585.2,223.9 L585.4,206.6 L586.7,187.6 L587.5,195.5 L587.4,199.3 L587.8,192.9 L588.2,199.3 L588.3,203.4 L588.9,204.2 L589.3,201.2 L589.7,204.2 L590.4,204.2 L590.8,202.4 L591.2,204.2 L591.4,203.4 L591.4,314.5 L591.4,310.4Z" fill="#000"/></g><rect x="94.0" y="50.0" width="110.4" height="255.4" fill="#fff"/><clipPath id="lclip00"><rect x="94.0" y="50.0" width="110.4" height="255.4"/></clipPath><path d="M94.80,51.30 C96.43,51.65 101.88,52.58 104.60,53.40 C107.32,54.22 109.47,54.92 111.10,56.20 C112.73,57.48 113.78,59.05 114.40,61.10 C115.02,63.15 114.38,66.58 114.80,68.50 C115.22,70.42 115.60,71.10 116.90,72.60 C118.20,74.10 120.55,75.72 122.60,77.50 C124.65,79.28 127.55,81.65 129.20,83.30 C130.85,84.95 131.82,85.35 132.50,87.40 C133.18,89.45 133.03,93.15 133.30,95.60 C133.57,98.05 133.15,99.92 134.10,102.10 C135.05,104.28 137.18,106.63 139.00,108.70 C140.82,110.77 143.43,112.48 145.00,114.50 C146.57,116.52 148.12,118.02 148.40,120.80 C148.68,123.58 147.85,127.75 146.70,131.20 C145.55,134.65 142.37,138.05 141.50,141.50 C140.63,144.95 140.35,148.45 141.50,151.90 C142.65,155.35 144.95,158.75 148.40,162.20 C151.85,165.65 158.75,169.13 162.20,172.60 C165.65,176.07 167.95,179.55 169.10,183.00 C170.25,186.45 170.25,189.85 169.10,193.30 C167.95,196.75 163.92,201.40 162.20,203.70 C160.48,206.00 159.48,204.23 158.80,207.10 C158.12,209.97 158.80,216.87 158.10,220.90 C157.40,224.93 154.77,227.85 154.60,231.30 C154.43,234.75 156.28,237.58 157.10,241.60 C157.92,245.62 159.50,250.80 159.50,255.40 C159.50,260.00 157.33,265.75 157.10,269.20 C156.87,272.65 158.97,273.78 158.10,276.10 C157.23,278.42 153.40,280.22 151.90,283.10 C150.40,285.98 149.68,289.67 149.10,293.40 C148.52,297.13 148.52,303.48 148.40,305.50" fill="none" stroke="#8f4f3f" stroke-width="2.7" stroke-linejoin="round" stroke-linecap="round" clip-path="url(#lclip00)"/><path d="M94.0,50.0 H589.0 V305.4 H94.0 Z M204.4,50.0 V305.4" fill="none" stroke="#2b2b2b" stroke-width="1.7"/><line x1="90.8" y1="50.0" x2="94.0" y2="50.0" stroke="#2b2b2b" stroke-width="1.2"/><text x="83.4" y="56.9" font-size="18.5" text-anchor="end">1000</text><line x1="90.8" y1="81.9" x2="94.0" y2="81.9" stroke="#2b2b2b" stroke-width="1.2"/><text x="83.4" y="88.8" font-size="18.5" text-anchor="end">1500</text><line x1="90.8" y1="113.8" x2="94.0" y2="113.8" stroke="#2b2b2b" stroke-width="1.2"/><text x="83.4" y="120.7" font-size="18.5" text-anchor="end">2000</text><line x1="90.8" y1="145.8" x2="94.0" y2="145.8" stroke="#2b2b2b" stroke-width="1.2"/><text x="83.4" y="152.6" font-size="18.5" text-anchor="end">2500</text><line x1="90.8" y1="177.7" x2="94.0" y2="177.7" stroke="#2b2b2b" stroke-width="1.2"/><text x="83.4" y="184.5" font-size="18.5" text-anchor="end">3000</text><line x1="90.8" y1="209.6" x2="94.0" y2="209.6" stroke="#2b2b2b" stroke-width="1.2"/><text x="83.4" y="216.5" font-size="18.5" text-anchor="end">3500</text><line x1="90.8" y1="241.5" x2="94.0" y2="241.5" stroke="#2b2b2b" stroke-width="1.2"/><text x="83.4" y="248.4" font-size="18.5" text-anchor="end">4000</text><line x1="90.8" y1="273.5" x2="94.0" y2="273.5" stroke="#2b2b2b" stroke-width="1.2"/><text x="83.4" y="280.3" font-size="18.5" text-anchor="end">4500</text><line x1="90.8" y1="305.4" x2="94.0" y2="305.4" stroke="#2b2b2b" stroke-width="1.2"/><text x="83.4" y="312.2" font-size="18.5" text-anchor="end">5000</text><line x1="99.2" y1="305.4" x2="99.2" y2="308.6" stroke="#2b2b2b" stroke-width="1.2"/><text x="96.9" y="328.9" font-size="18.5" text-anchor="middle">-8</text><line x1="149.1" y1="305.4" x2="149.1" y2="308.6" stroke="#2b2b2b" stroke-width="1.2"/><text x="149.1" y="328.9" font-size="18.5" text-anchor="middle">0</text><line x1="199.4" y1="305.4" x2="199.4" y2="308.6" stroke="#2b2b2b" stroke-width="1.2"/><text x="199.8" y="328.9" font-size="18.5" text-anchor="middle">8</text><line x1="235.3" y1="305.4" x2="235.3" y2="308.6" stroke="#2b2b2b" stroke-width="1.2"/><text x="237.3" y="328.9" font-size="18.5" text-anchor="middle">60°S</text><line x1="295.9" y1="305.4" x2="295.9" y2="308.6" stroke="#2b2b2b" stroke-width="1.2"/><text x="297.9" y="328.9" font-size="18.5" text-anchor="middle">40°S</text><line x1="356.2" y1="305.4" x2="356.2" y2="308.6" stroke="#2b2b2b" stroke-width="1.2"/><text x="358.7" y="328.9" font-size="18.5" text-anchor="middle">20°S</text><line x1="419.0" y1="305.4" x2="419.0" y2="308.6" stroke="#2b2b2b" stroke-width="1.2"/><text x="418.8" y="328.9" font-size="18.5" text-anchor="middle">EQ</text><line x1="479.9" y1="305.4" x2="479.9" y2="308.6" stroke="#2b2b2b" stroke-width="1.2"/><text x="478.4" y="328.9" font-size="18.5" text-anchor="middle">20°N</text><line x1="541.3" y1="305.4" x2="541.3" y2="308.6" stroke="#2b2b2b" stroke-width="1.2"/><text x="539.6" y="328.9" font-size="18.5" text-anchor="middle">40°N</text><text x="145.2" y="356.7" font-size="21" text-anchor="middle">RG (%)</text><text x="365.0" y="356.3" font-size="21" text-anchor="middle">Latitude</text><text x="0" y="0" font-size="21" text-anchor="middle" transform="translate(29.9,159.3) rotate(-90)">Depth (m)</text><text x="40.9" y="68.9" font-size="35" text-anchor="end">(a)</text><linearGradient id="cbg00" x1="0" y1="0" x2="0" y2="1"><stop offset="0.000" stop-color="#a50026"/><stop offset="0.025" stop-color="#b10b26"/><stop offset="0.050" stop-color="#bd1726"/><stop offset="0.075" stop-color="#ca2427"/><stop offset="0.100" stop-color="#d62f27"/><stop offset="0.125" stop-color="#dd3d2d"/><stop offset="0.150" stop-color="#e54e35"/><stop offset="0.175" stop-color="#ec5c3b"/><stop offset="0.200" stop-color="#f46d43"/><stop offset="0.225" stop-color="#f67c4a"/><stop offset="0.250" stop-color="#f88c51"/><stop offset="0.275" stop-color="#fb9d59"/><stop offset="0.300" stop-color="#fdad60"/><stop offset="0.325" stop-color="#fdbb6d"/><stop offset="0.350" stop-color="#fdc778"/><stop offset="0.375" stop-color="#fed283"/><stop offset="0.400" stop-color="#fee090"/><stop offset="0.425" stop-color="#fee79b"/><stop offset="0.450" stop-color="#fff0a8"/><stop offset="0.475" stop-color="#fff7b3"/><stop offset="0.500" stop-color="#fffebe"/><stop offset="0.525" stop-color="#f7fcce"/><stop offset="0.550" stop-color="#f0f9db"/><stop offset="0.575" stop-color="#e7f6eb"/><stop offset="0.600" stop-color="#e0f3f8"/><stop offset="0.625" stop-color="#d4edf4"/><stop offset="0.650" stop-color="#c5e6f0"/><stop offset="0.675" stop-color="#b9e0ed"/><stop offset="0.700" stop-color="#aad8e9"/><stop offset="0.725" stop-color="#9dcee3"/><stop offset="0.750" stop-color="#90c3dd"/><stop offset="0.775" stop-color="#81b7d7"/><stop offset="0.800" stop-color="#74add1"/><stop offset="0.825" stop-color="#679ec9"/><stop offset="0.850" stop-color="#5c90c2"/><stop offset="0.875" stop-color="#5183bb"/><stop offset="0.900" stop-color="#4574b3"/><stop offset="0.925" stop-color="#4065ac"/><stop offset="0.950" stop-color="#3a54a4"/><stop offset="0.975" stop-color="#36459c"/><stop offset="1.000" stop-color="#313695"/></linearGradient><rect x="593.3" y="50.0" width="7.8" height="255.4" fill="url(#cbg00)" stroke="#2b2b2b" stroke-width="0.9"/><line x1="601.1" y1="55.7" x2="603.6" y2="55.7" stroke="#2b2b2b" stroke-width="1"/><text x="607.1" y="60.7" font-size="18.5" text-anchor="start">6</text><line x1="601.1" y1="96.4" x2="603.6" y2="96.4" stroke="#2b2b2b" stroke-width="1"/><text x="607.1" y="101.4" font-size="18.5" text-anchor="start">4</text><line x1="601.1" y1="137.0" x2="603.6" y2="137.0" stroke="#2b2b2b" stroke-width="1"/><text x="607.1" y="142.0" font-size="18.5" text-anchor="start">2</text><line x1="601.1" y1="177.7" x2="603.6" y2="177.7" stroke="#2b2b2b" stroke-width="1"/><text x="607.1" y="182.7" font-size="18.5" text-anchor="start">0</text><line x1="601.1" y1="218.4" x2="603.6" y2="218.4" stroke="#2b2b2b" stroke-width="1"/><text x="607.1" y="223.4" font-size="18.5" text-anchor="start">-2</text><line x1="601.1" y1="259.0" x2="603.6" y2="259.0" stroke="#2b2b2b" stroke-width="1"/><text x="607.1" y="264.0" font-size="18.5" text-anchor="start">-4</text><line x1="601.1" y1="299.7" x2="603.6" y2="299.7" stroke="#2b2b2b" stroke-width="1"/><text x="607.1" y="304.7" font-size="18.5" text-anchor="start">-6</text><clipPath id="clip01"><rect x="868.9" y="49.1" width="385.3" height="255.1"/></clipPath><g clip-path="url(#clip01)"><rect x="868.9" y="49.1" width="385.3" height="255.1" fill="#dcf1f7"/><path d="M888.5,42.5 C851.3,43.8 888.3,47.0 888.5,50.0 C888.7,53.0 888.6,56.0 889.5,60.2 C890.4,64.5 892.2,71.1 893.8,75.8 C895.3,80.4 896.9,84.1 898.8,88.0 C900.6,91.9 903.0,95.5 905.0,99.2 C907.0,103.0 908.6,106.9 911.0,110.5 C913.4,114.1 916.5,117.5 919.2,120.8 C922.0,124.0 925.2,126.9 927.5,130.0 C929.8,133.1 931.9,136.3 932.8,139.2 C933.6,142.2 933.1,145.7 932.8,147.5 C932.4,149.3 931.7,148.2 930.5,150.0 C929.3,151.8 927.7,155.5 925.5,158.2 C923.3,161.0 919.7,164.8 917.2,166.5 C914.8,168.2 912.7,169.9 911.0,168.5 C909.3,167.1 908.0,161.3 907.0,158.2 C906.0,155.2 905.7,153.0 905.0,150.0 C904.3,147.0 904.4,143.9 903.0,140.2 C901.6,136.6 899.2,132.1 896.8,128.0 C894.3,123.9 891.6,119.3 888.5,115.8 C885.4,112.2 881.7,108.6 878.2,106.5 C874.8,104.4 871.0,103.8 868.0,103.2 C865.0,102.7 861.8,91.3 860.5,103.2 C859.2,115.2 858.9,162.8 860.5,174.8 C862.1,186.7 867.4,173.4 870.0,174.8 C872.6,176.1 874.2,180.8 876.2,182.8 C878.3,184.7 879.7,185.8 882.2,186.5 C884.8,187.2 887.6,186.0 891.5,187.0 C895.4,188.0 901.2,187.5 905.5,192.5 C909.8,197.5 913.9,212.7 917.2,216.8 C920.6,220.8 922.8,217.5 925.5,216.8 C928.2,216.0 931.0,214.0 933.8,212.5 C936.5,211.0 939.5,209.5 942.0,207.5 C944.5,205.5 946.8,202.7 949.0,200.2 C951.2,197.8 953.0,194.9 955.2,193.0 C957.5,191.1 960.0,190.0 962.5,189.0 C965.0,188.0 967.4,187.9 970.5,187.0 C973.6,186.1 977.5,185.0 981.0,183.8 C984.5,182.5 987.8,181.8 991.2,179.8 C994.7,177.7 997.6,174.6 1001.5,171.5 C1005.4,168.4 1011.3,163.1 1014.8,161.2 C1018.2,159.4 1019.1,160.2 1022.0,160.2 C1024.9,160.2 1029.2,160.9 1032.2,161.2 C1035.3,161.6 1038.0,162.8 1040.5,162.2 C1043.0,161.8 1045.4,160.3 1047.5,158.2 C1049.6,156.2 1051.1,153.2 1053.0,150.0 C1054.9,146.8 1057.4,142.6 1058.8,139.2 C1060.1,135.9 1061.0,133.2 1061.0,130.0 C1061.0,126.8 1060.3,122.8 1058.8,119.8 C1057.2,116.7 1054.5,114.0 1051.8,111.5 C1049.0,109.0 1045.1,107.0 1042.5,104.5 C1039.9,102.0 1037.6,99.3 1036.2,96.2 C1034.9,93.2 1033.9,89.2 1034.2,86.0 C1034.6,82.8 1036.0,79.2 1038.2,76.8 C1040.5,74.3 1044.2,72.5 1047.5,71.5 C1050.8,70.5 1054.3,70.0 1057.8,70.5 C1061.2,71.0 1065.0,72.8 1068.0,74.8 C1071.0,76.8 1072.6,80.4 1075.5,82.5 C1078.4,84.6 1082.6,87.1 1085.5,87.5 C1088.4,87.9 1090.5,86.7 1093.0,85.0 C1095.5,83.3 1098.4,80.4 1100.5,77.5 C1102.6,74.6 1104.2,70.8 1105.5,67.5 C1106.8,64.2 1107.2,60.4 1108.0,57.5 C1108.8,54.6 1109.9,52.5 1110.5,50.0 C1111.1,47.5 1148.8,43.8 1111.8,42.5 C1074.8,41.2 925.7,41.2 888.5,42.5Z" fill="#fffebe"/><path d="M1198.0,42.5 C1191.3,43.8 1196.8,47.7 1198.0,50.0 C1199.2,52.3 1202.2,54.8 1205.5,56.2 C1208.8,57.7 1213.8,58.8 1218.0,58.8 C1222.2,58.8 1227.2,57.7 1230.5,56.2 C1233.8,54.8 1236.8,52.3 1238.0,50.0 C1239.2,47.7 1244.7,43.8 1238.0,42.5 C1231.3,41.2 1204.7,41.2 1198.0,42.5Z" fill="#fffebe"/><path d="M860.5,189.0 C862.1,168.0 867.4,188.7 870.0,189.0 C872.6,189.3 874.5,189.6 876.2,191.0 C878.0,192.4 879.2,194.5 880.2,197.2 C881.2,200.0 881.7,203.8 882.2,207.5 C882.8,211.2 883.1,216.0 883.5,219.8 C883.9,223.5 883.8,227.4 884.5,230.0 C885.2,232.6 886.5,231.9 887.5,235.2 C888.5,238.6 890.0,236.7 890.5,250.0 C891.0,263.3 895.5,304.2 890.5,315.0 C885.5,325.8 865.5,336.0 860.5,315.0 C855.5,294.0 858.9,210.0 860.5,189.0Z" fill="#fffebe"/><path d="M930.5,315.0 C911.4,308.5 931.4,284.2 933.5,276.2 C935.6,268.3 939.3,270.1 943.0,267.5 C946.7,264.9 951.3,262.2 955.5,260.5 C959.7,258.8 963.4,259.0 968.0,257.5 C972.6,256.0 978.0,253.3 983.0,251.2 C988.0,249.2 994.6,247.0 998.0,245.0 C1001.4,243.0 1002.4,242.1 1003.5,239.2 C1004.6,236.4 1003.5,231.1 1004.5,228.0 C1005.5,224.9 1007.6,222.5 1009.5,220.8 C1011.4,219.0 1013.7,217.8 1015.8,217.8 C1017.8,217.8 1020.5,218.7 1022.0,220.8 C1023.5,222.8 1024.3,226.9 1024.5,230.0 C1024.7,233.1 1022.4,236.3 1023.0,239.2 C1023.6,242.2 1024.7,245.9 1028.0,247.5 C1031.3,249.1 1038.9,248.6 1043.0,248.8 C1047.1,248.9 1049.4,249.0 1052.8,248.5 C1056.1,248.0 1059.6,246.3 1063.0,245.5 C1066.4,244.7 1070.5,243.0 1073.0,243.8 C1075.5,244.5 1077.6,246.9 1078.0,250.0 C1078.4,253.1 1077.2,258.3 1075.5,262.5 C1073.8,266.7 1070.5,270.8 1068.0,275.0 C1065.5,279.2 1063.0,283.3 1060.5,287.5 C1058.0,291.7 1055.1,295.4 1053.0,300.0 C1050.9,304.6 1068.4,312.5 1048.0,315.0 C1027.6,317.5 949.6,321.5 930.5,315.0Z" fill="#fffebe"/><path d="M1130.5,282.5 C1128.0,278.5 1132.0,272.1 1133.0,265.0 C1134.0,257.9 1135.7,247.5 1136.8,240.0 C1137.8,232.5 1138.0,224.7 1139.2,220.0 C1140.5,215.3 1142.4,212.5 1144.2,212.0 C1146.1,211.5 1149.0,213.2 1150.5,217.0 C1152.0,220.8 1152.0,229.7 1153.0,235.0 C1154.0,240.3 1154.7,245.8 1156.8,248.8 C1158.8,251.8 1161.5,253.5 1165.5,253.0 C1169.5,252.5 1175.1,247.7 1180.5,245.5 C1185.9,243.3 1191.8,240.9 1198.0,240.0 C1204.2,239.1 1212.2,239.2 1218.0,240.0 C1223.8,240.8 1228.8,243.3 1233.0,245.0 C1237.2,246.7 1238.4,250.0 1243.0,250.0 C1247.6,250.0 1257.6,234.2 1260.5,245.0 C1263.4,255.8 1268.4,303.3 1260.5,315.0 C1252.6,326.7 1222.6,317.1 1213.0,315.0 C1203.4,312.9 1207.2,305.4 1203.0,302.5 C1198.8,299.6 1193.8,299.0 1188.0,297.5 C1182.2,296.0 1174.7,295.2 1168.0,293.8 C1161.3,292.3 1154.2,290.6 1148.0,288.8 C1141.8,286.9 1133.0,286.5 1130.5,282.5Z" fill="#fffebe"/><path d="M1103.0,160.0 C1103.0,155.4 1103.4,150.8 1105.5,147.5 C1107.6,144.2 1111.8,141.5 1115.5,140.5 C1119.2,139.5 1125.6,138.8 1128.0,141.2 C1130.4,143.7 1130.0,150.6 1130.0,155.0 C1130.0,159.4 1129.6,163.5 1128.0,167.5 C1126.4,171.5 1123.2,176.5 1120.5,178.8 C1117.8,181.0 1114.2,181.9 1111.8,181.2 C1109.2,180.6 1107.0,178.5 1105.5,175.0 C1104.0,171.5 1103.0,164.6 1103.0,160.0Z" fill="#fffebe"/><path d="M955.5,315.0 C950.5,312.1 955.9,301.6 958.0,297.5 C960.1,293.4 964.7,291.4 968.0,290.5 C971.3,289.6 975.1,290.4 978.0,292.0 C980.9,293.6 983.8,296.2 985.5,300.0 C987.2,303.8 993.0,312.5 988.0,315.0 C983.0,317.5 960.5,317.9 955.5,315.0Z" fill="#dcf1f7"/><path d="M907.0,42.5 C883.4,43.8 906.3,46.0 907.0,50.0 C907.7,54.0 909.3,60.9 911.0,66.5 C912.7,72.1 914.8,78.5 917.2,83.8 C919.7,89.0 922.6,94.1 925.5,98.2 C928.4,102.4 931.7,106.3 934.8,108.5 C937.8,110.7 940.6,111.3 944.0,111.5 C947.4,111.7 951.7,109.9 955.2,109.5 C958.8,109.1 962.1,108.0 965.5,109.0 C968.9,110.0 972.3,112.9 975.8,115.8 C979.2,118.6 982.8,123.5 986.0,126.0 C989.2,128.5 992.3,130.5 995.2,131.0 C998.2,131.5 1000.4,129.2 1003.5,129.0 C1006.6,128.8 1010.3,129.0 1013.8,130.0 C1017.2,131.0 1020.6,133.7 1024.0,135.2 C1027.4,136.8 1031.5,138.8 1034.2,139.2 C1037.0,139.8 1039.0,140.6 1040.5,138.2 C1042.0,135.9 1043.4,128.9 1043.0,125.0 C1042.6,121.1 1040.1,117.9 1038.0,115.0 C1035.9,112.1 1032.8,110.0 1030.5,107.5 C1028.2,105.0 1025.7,102.2 1024.2,100.0 C1022.8,97.8 1022.0,97.0 1022.0,94.2 C1022.0,91.5 1023.0,86.8 1024.0,83.8 C1025.0,80.7 1026.0,78.8 1028.0,75.8 C1030.0,72.7 1033.5,68.8 1036.2,65.5 C1039.0,62.2 1042.5,58.8 1044.5,56.2 C1046.5,53.7 1047.8,52.3 1048.5,50.0 C1049.2,47.7 1072.1,43.8 1048.5,42.5 C1024.9,41.2 930.6,41.2 907.0,42.5Z" fill="#fedc8c"/><path d="M1060.5,42.5 C1053.4,43.8 1059.7,47.1 1060.5,50.0 C1061.3,52.9 1063.0,57.5 1065.5,60.0 C1068.0,62.5 1071.8,64.2 1075.5,65.0 C1079.2,65.8 1084.2,65.8 1088.0,65.0 C1091.8,64.2 1095.5,62.5 1098.0,60.0 C1100.5,57.5 1102.2,52.9 1103.0,50.0 C1103.8,47.1 1110.1,43.8 1103.0,42.5 C1095.9,41.2 1067.6,41.2 1060.5,42.5Z" fill="#fedc8c"/><path d="M919.2,42.5 C898.2,43.8 918.2,46.2 919.2,50.0 C920.3,53.8 923.1,60.7 925.5,65.5 C927.9,70.3 930.7,74.5 933.8,78.8 C936.8,83.0 939.6,88.8 944.0,91.0 C948.4,93.2 955.8,91.7 960.2,92.0 C964.7,92.3 967.0,92.5 970.5,93.0 C974.0,93.5 976.7,94.7 981.0,95.2 C985.3,95.8 992.5,96.6 996.2,96.2 C1000.0,95.9 1001.3,94.7 1003.5,93.0 C1005.7,91.3 1007.8,88.2 1009.5,86.0 C1011.2,83.8 1012.0,82.3 1013.8,79.8 C1015.5,77.2 1017.6,73.2 1020.0,70.5 C1022.4,67.8 1025.3,65.3 1028.0,63.2 C1030.7,61.2 1033.8,60.0 1036.2,58.2 C1038.7,56.5 1041.0,54.4 1042.5,53.0 C1044.0,51.6 1045.0,51.8 1045.5,50.0 C1046.0,48.2 1066.5,43.8 1045.5,42.5 C1024.5,41.2 940.3,41.2 919.2,42.5Z" fill="#fca55d"/><path d="M1068.0,42.5 C1062.6,43.3 1067.6,45.4 1068.0,47.5 C1068.4,49.6 1068.4,52.9 1070.5,55.0 C1072.6,57.1 1076.8,59.4 1080.5,60.0 C1084.2,60.6 1089.9,60.0 1093.0,58.8 C1096.1,57.5 1098.0,55.2 1099.2,52.5 C1100.5,49.8 1105.7,44.2 1100.5,42.5 C1095.3,40.8 1073.4,41.7 1068.0,42.5Z" fill="#fca55d"/><path d="M931.8,42.5 C914.0,43.8 930.8,47.0 931.8,50.0 C932.8,53.0 935.0,56.8 937.8,60.2 C940.5,63.7 944.2,67.6 948.0,70.5 C951.8,73.4 955.6,75.9 960.2,77.8 C964.9,79.6 970.6,81.1 975.8,81.8 C980.9,82.4 987.0,82.6 991.2,81.8 C995.5,80.9 998.1,79.0 1001.5,76.8 C1004.9,74.5 1008.3,71.1 1011.8,68.5 C1015.2,65.9 1018.6,63.5 1022.0,61.2 C1025.4,59.0 1029.5,57.1 1032.2,55.2 C1035.0,53.4 1037.2,52.1 1038.2,50.0 C1039.2,47.9 1056.0,43.8 1038.2,42.5 C1020.5,41.2 949.5,41.2 931.8,42.5Z" fill="#ee613e"/><path d="M965.5,42.5 C956.4,43.8 965.5,47.4 965.5,50.0 C965.5,52.6 964.7,55.9 965.5,58.2 C966.3,60.6 967.9,62.4 970.5,64.2 C973.1,66.1 977.5,68.6 981.0,69.5 C984.5,70.4 987.8,70.5 991.2,69.5 C994.7,68.5 998.1,65.5 1001.5,63.2 C1004.9,61.0 1008.7,58.5 1011.8,56.2 C1014.8,54.0 1018.6,52.3 1020.0,50.0 C1021.4,47.7 1029.1,43.8 1020.0,42.5 C1010.9,41.2 974.6,41.2 965.5,42.5Z" fill="#ca2427"/><path d="M1118.0,42.5 C1105.9,43.8 1118.6,45.4 1118.0,50.0 C1117.4,54.6 1115.3,63.8 1114.2,70.0 C1113.2,76.2 1112.2,81.7 1111.8,87.5 C1111.3,93.3 1110.7,101.2 1111.8,105.0 C1112.8,108.8 1114.9,108.8 1118.0,110.0 C1121.1,111.2 1125.5,112.1 1130.5,112.5 C1135.5,112.9 1142.6,111.7 1148.0,112.5 C1153.4,113.3 1159.2,114.2 1163.0,117.5 C1166.8,120.8 1168.4,127.1 1170.5,132.5 C1172.6,137.9 1174.2,145.0 1175.5,150.0 C1176.8,155.0 1178.4,159.2 1178.0,162.5 C1177.6,165.8 1175.1,167.5 1173.0,170.0 C1170.9,172.5 1167.2,174.6 1165.5,177.5 C1163.8,180.4 1162.6,184.2 1163.0,187.5 C1163.4,190.8 1165.1,194.8 1168.0,197.5 C1170.9,200.2 1176.3,202.5 1180.5,203.8 C1184.7,205.0 1188.8,205.6 1193.0,205.0 C1197.2,204.4 1201.3,202.1 1205.5,200.0 C1209.7,197.9 1213.8,195.0 1218.0,192.5 C1222.2,190.0 1226.3,187.9 1230.5,185.0 C1234.7,182.1 1238.0,177.9 1243.0,175.0 C1248.0,172.1 1257.6,184.6 1260.5,167.5 C1263.4,150.4 1263.4,88.1 1260.5,72.5 C1257.6,56.9 1248.0,73.8 1243.0,73.8 C1238.0,73.8 1234.7,73.1 1230.5,72.5 C1226.3,71.9 1222.2,70.8 1218.0,70.0 C1213.8,69.2 1208.8,68.5 1205.5,67.5 C1202.2,66.5 1200.1,65.4 1198.0,63.8 C1195.9,62.1 1194.2,59.8 1193.0,57.5 C1191.8,55.2 1190.9,52.5 1190.5,50.0 C1190.1,47.5 1202.6,43.8 1190.5,42.5 C1178.4,41.2 1130.1,41.2 1118.0,42.5Z" fill="#a3d3e6"/><path d="M1064.2,172.5 C1064.5,167.9 1065.7,159.1 1068.0,155.0 C1070.3,150.9 1075.1,148.6 1078.0,148.0 C1080.9,147.4 1083.6,148.0 1085.5,151.2 C1087.4,154.5 1088.6,161.9 1089.2,167.5 C1089.9,173.1 1089.9,180.8 1089.2,185.0 C1088.6,189.2 1087.8,191.7 1085.5,192.5 C1083.2,193.3 1078.6,191.7 1075.5,190.0 C1072.4,188.3 1068.6,185.4 1066.8,182.5 C1064.9,179.6 1064.0,177.1 1064.2,172.5Z" fill="#a3d3e6"/><path d="M1095.5,205.0 C1096.3,200.8 1099.9,200.3 1103.0,199.5 C1106.1,198.7 1111.3,198.2 1114.2,200.0 C1117.2,201.8 1119.0,205.8 1120.5,210.0 C1122.0,214.2 1123.4,220.0 1123.0,225.0 C1122.6,230.0 1120.3,235.8 1118.0,240.0 C1115.7,244.2 1111.8,249.6 1109.2,250.0 C1106.8,250.4 1104.9,246.7 1103.0,242.5 C1101.1,238.3 1099.2,231.2 1098.0,225.0 C1096.8,218.8 1094.7,209.2 1095.5,205.0Z" fill="#a3d3e6"/><path d="M1126.8,65.0 C1128.0,61.2 1129.9,57.3 1133.0,55.0 C1136.1,52.7 1140.5,52.0 1145.5,51.2 C1150.5,50.5 1158.2,49.9 1163.0,50.8 C1167.8,51.6 1171.8,53.9 1174.2,56.2 C1176.8,58.6 1178.2,61.9 1178.0,65.0 C1177.8,68.1 1175.5,71.7 1173.0,75.0 C1170.5,78.3 1166.8,81.7 1163.0,85.0 C1159.2,88.3 1154.7,92.9 1150.5,95.0 C1146.3,97.1 1141.5,98.3 1138.0,97.5 C1134.5,96.7 1131.3,93.3 1129.2,90.0 C1127.2,86.7 1125.9,81.7 1125.5,77.5 C1125.1,73.3 1125.5,68.8 1126.8,65.0Z" fill="#6ba2cb"/><path d="M1190.5,115.0 C1190.9,110.4 1192.6,105.8 1195.5,102.5 C1198.4,99.2 1203.4,96.3 1208.0,95.0 C1212.6,93.7 1218.0,93.7 1223.0,94.5 C1228.0,95.3 1233.8,97.4 1238.0,100.0 C1242.2,102.6 1245.9,105.8 1248.0,110.0 C1250.1,114.2 1250.9,120.0 1250.5,125.0 C1250.1,130.0 1248.0,135.8 1245.5,140.0 C1243.0,144.2 1239.2,147.1 1235.5,150.0 C1231.8,152.9 1227.2,157.1 1223.0,157.5 C1218.8,157.9 1214.2,155.0 1210.5,152.5 C1206.8,150.0 1203.4,146.2 1200.5,142.5 C1197.6,138.8 1194.7,134.6 1193.0,130.0 C1191.3,125.4 1190.1,119.6 1190.5,115.0Z" fill="#6ba2cb"/><g fill="none" stroke="#222" stroke-width="0.7" stroke-dasharray="1.5 2" stroke-opacity="0.8"><path d="M888.5,42.5 C851.3,43.8 888.3,47.0 888.5,50.0 C888.7,53.0 888.6,56.0 889.5,60.2 C890.4,64.5 892.2,71.1 893.8,75.8 C895.3,80.4 896.9,84.1 898.8,88.0 C900.6,91.9 903.0,95.5 905.0,99.2 C907.0,103.0 908.6,106.9 911.0,110.5 C913.4,114.1 916.5,117.5 919.2,120.8 C922.0,124.0 925.2,126.9 927.5,130.0 C929.8,133.1 931.9,136.3 932.8,139.2 C933.6,142.2 933.1,145.7 932.8,147.5 C932.4,149.3 931.7,148.2 930.5,150.0 C929.3,151.8 927.7,155.5 925.5,158.2 C923.3,161.0 919.7,164.8 917.2,166.5 C914.8,168.2 912.7,169.9 911.0,168.5 C909.3,167.1 908.0,161.3 907.0,158.2 C906.0,155.2 905.7,153.0 905.0,150.0 C904.3,147.0 904.4,143.9 903.0,140.2 C901.6,136.6 899.2,132.1 896.8,128.0 C894.3,123.9 891.6,119.3 888.5,115.8 C885.4,112.2 881.7,108.6 878.2,106.5 C874.8,104.4 871.0,103.8 868.0,103.2 C865.0,102.7 861.8,91.3 860.5,103.2 C859.2,115.2 858.9,162.8 860.5,174.8 C862.1,186.7 867.4,173.4 870.0,174.8 C872.6,176.1 874.2,180.8 876.2,182.8 C878.3,184.7 879.7,185.8 882.2,186.5 C884.8,187.2 887.6,186.0 891.5,187.0 C895.4,188.0 901.2,187.5 905.5,192.5 C909.8,197.5 913.9,212.7 917.2,216.8 C920.6,220.8 922.8,217.5 925.5,216.8 C928.2,216.0 931.0,214.0 933.8,212.5 C936.5,211.0 939.5,209.5 942.0,207.5 C944.5,205.5 946.8,202.7 949.0,200.2 C951.2,197.8 953.0,194.9 955.2,193.0 C957.5,191.1 960.0,190.0 962.5,189.0 C965.0,188.0 967.4,187.9 970.5,187.0 C973.6,186.1 977.5,185.0 981.0,183.8 C984.5,182.5 987.8,181.8 991.2,179.8 C994.7,177.7 997.6,174.6 1001.5,171.5 C1005.4,168.4 1011.3,163.1 1014.8,161.2 C1018.2,159.4 1019.1,160.2 1022.0,160.2 C1024.9,160.2 1029.2,160.9 1032.2,161.2 C1035.3,161.6 1038.0,162.8 1040.5,162.2 C1043.0,161.8 1045.4,160.3 1047.5,158.2 C1049.6,156.2 1051.1,153.2 1053.0,150.0 C1054.9,146.8 1057.4,142.6 1058.8,139.2 C1060.1,135.9 1061.0,133.2 1061.0,130.0 C1061.0,126.8 1060.3,122.8 1058.8,119.8 C1057.2,116.7 1054.5,114.0 1051.8,111.5 C1049.0,109.0 1045.1,107.0 1042.5,104.5 C1039.9,102.0 1037.6,99.3 1036.2,96.2 C1034.9,93.2 1033.9,89.2 1034.2,86.0 C1034.6,82.8 1036.0,79.2 1038.2,76.8 C1040.5,74.3 1044.2,72.5 1047.5,71.5 C1050.8,70.5 1054.3,70.0 1057.8,70.5 C1061.2,71.0 1065.0,72.8 1068.0,74.8 C1071.0,76.8 1072.6,80.4 1075.5,82.5 C1078.4,84.6 1082.6,87.1 1085.5,87.5 C1088.4,87.9 1090.5,86.7 1093.0,85.0 C1095.5,83.3 1098.4,80.4 1100.5,77.5 C1102.6,74.6 1104.2,70.8 1105.5,67.5 C1106.8,64.2 1107.2,60.4 1108.0,57.5 C1108.8,54.6 1109.9,52.5 1110.5,50.0 C1111.1,47.5 1148.8,43.8 1111.8,42.5 C1074.8,41.2 925.7,41.2 888.5,42.5Z"/><path d="M1198.0,42.5 C1191.3,43.8 1196.8,47.7 1198.0,50.0 C1199.2,52.3 1202.2,54.8 1205.5,56.2 C1208.8,57.7 1213.8,58.8 1218.0,58.8 C1222.2,58.8 1227.2,57.7 1230.5,56.2 C1233.8,54.8 1236.8,52.3 1238.0,50.0 C1239.2,47.7 1244.7,43.8 1238.0,42.5 C1231.3,41.2 1204.7,41.2 1198.0,42.5Z"/><path d="M860.5,189.0 C862.1,168.0 867.4,188.7 870.0,189.0 C872.6,189.3 874.5,189.6 876.2,191.0 C878.0,192.4 879.2,194.5 880.2,197.2 C881.2,200.0 881.7,203.8 882.2,207.5 C882.8,211.2 883.1,216.0 883.5,219.8 C883.9,223.5 883.8,227.4 884.5,230.0 C885.2,232.6 886.5,231.9 887.5,235.2 C888.5,238.6 890.0,236.7 890.5,250.0 C891.0,263.3 895.5,304.2 890.5,315.0 C885.5,325.8 865.5,336.0 860.5,315.0 C855.5,294.0 858.9,210.0 860.5,189.0Z"/><path d="M930.5,315.0 C911.4,308.5 931.4,284.2 933.5,276.2 C935.6,268.3 939.3,270.1 943.0,267.5 C946.7,264.9 951.3,262.2 955.5,260.5 C959.7,258.8 963.4,259.0 968.0,257.5 C972.6,256.0 978.0,253.3 983.0,251.2 C988.0,249.2 994.6,247.0 998.0,245.0 C1001.4,243.0 1002.4,242.1 1003.5,239.2 C1004.6,236.4 1003.5,231.1 1004.5,228.0 C1005.5,224.9 1007.6,222.5 1009.5,220.8 C1011.4,219.0 1013.7,217.8 1015.8,217.8 C1017.8,217.8 1020.5,218.7 1022.0,220.8 C1023.5,222.8 1024.3,226.9 1024.5,230.0 C1024.7,233.1 1022.4,236.3 1023.0,239.2 C1023.6,242.2 1024.7,245.9 1028.0,247.5 C1031.3,249.1 1038.9,248.6 1043.0,248.8 C1047.1,248.9 1049.4,249.0 1052.8,248.5 C1056.1,248.0 1059.6,246.3 1063.0,245.5 C1066.4,244.7 1070.5,243.0 1073.0,243.8 C1075.5,244.5 1077.6,246.9 1078.0,250.0 C1078.4,253.1 1077.2,258.3 1075.5,262.5 C1073.8,266.7 1070.5,270.8 1068.0,275.0 C1065.5,279.2 1063.0,283.3 1060.5,287.5 C1058.0,291.7 1055.1,295.4 1053.0,300.0 C1050.9,304.6 1068.4,312.5 1048.0,315.0 C1027.6,317.5 949.6,321.5 930.5,315.0Z"/><path d="M1130.5,282.5 C1128.0,278.5 1132.0,272.1 1133.0,265.0 C1134.0,257.9 1135.7,247.5 1136.8,240.0 C1137.8,232.5 1138.0,224.7 1139.2,220.0 C1140.5,215.3 1142.4,212.5 1144.2,212.0 C1146.1,211.5 1149.0,213.2 1150.5,217.0 C1152.0,220.8 1152.0,229.7 1153.0,235.0 C1154.0,240.3 1154.7,245.8 1156.8,248.8 C1158.8,251.8 1161.5,253.5 1165.5,253.0 C1169.5,252.5 1175.1,247.7 1180.5,245.5 C1185.9,243.3 1191.8,240.9 1198.0,240.0 C1204.2,239.1 1212.2,239.2 1218.0,240.0 C1223.8,240.8 1228.8,243.3 1233.0,245.0 C1237.2,246.7 1238.4,250.0 1243.0,250.0 C1247.6,250.0 1257.6,234.2 1260.5,245.0 C1263.4,255.8 1268.4,303.3 1260.5,315.0 C1252.6,326.7 1222.6,317.1 1213.0,315.0 C1203.4,312.9 1207.2,305.4 1203.0,302.5 C1198.8,299.6 1193.8,299.0 1188.0,297.5 C1182.2,296.0 1174.7,295.2 1168.0,293.8 C1161.3,292.3 1154.2,290.6 1148.0,288.8 C1141.8,286.9 1133.0,286.5 1130.5,282.5Z"/><path d="M1103.0,160.0 C1103.0,155.4 1103.4,150.8 1105.5,147.5 C1107.6,144.2 1111.8,141.5 1115.5,140.5 C1119.2,139.5 1125.6,138.8 1128.0,141.2 C1130.4,143.7 1130.0,150.6 1130.0,155.0 C1130.0,159.4 1129.6,163.5 1128.0,167.5 C1126.4,171.5 1123.2,176.5 1120.5,178.8 C1117.8,181.0 1114.2,181.9 1111.8,181.2 C1109.2,180.6 1107.0,178.5 1105.5,175.0 C1104.0,171.5 1103.0,164.6 1103.0,160.0Z"/><path d="M955.5,315.0 C950.5,312.1 955.9,301.6 958.0,297.5 C960.1,293.4 964.7,291.4 968.0,290.5 C971.3,289.6 975.1,290.4 978.0,292.0 C980.9,293.6 983.8,296.2 985.5,300.0 C987.2,303.8 993.0,312.5 988.0,315.0 C983.0,317.5 960.5,317.9 955.5,315.0Z"/><path d="M907.0,42.5 C883.4,43.8 906.3,46.0 907.0,50.0 C907.7,54.0 909.3,60.9 911.0,66.5 C912.7,72.1 914.8,78.5 917.2,83.8 C919.7,89.0 922.6,94.1 925.5,98.2 C928.4,102.4 931.7,106.3 934.8,108.5 C937.8,110.7 940.6,111.3 944.0,111.5 C947.4,111.7 951.7,109.9 955.2,109.5 C958.8,109.1 962.1,108.0 965.5,109.0 C968.9,110.0 972.3,112.9 975.8,115.8 C979.2,118.6 982.8,123.5 986.0,126.0 C989.2,128.5 992.3,130.5 995.2,131.0 C998.2,131.5 1000.4,129.2 1003.5,129.0 C1006.6,128.8 1010.3,129.0 1013.8,130.0 C1017.2,131.0 1020.6,133.7 1024.0,135.2 C1027.4,136.8 1031.5,138.8 1034.2,139.2 C1037.0,139.8 1039.0,140.6 1040.5,138.2 C1042.0,135.9 1043.4,128.9 1043.0,125.0 C1042.6,121.1 1040.1,117.9 1038.0,115.0 C1035.9,112.1 1032.8,110.0 1030.5,107.5 C1028.2,105.0 1025.7,102.2 1024.2,100.0 C1022.8,97.8 1022.0,97.0 1022.0,94.2 C1022.0,91.5 1023.0,86.8 1024.0,83.8 C1025.0,80.7 1026.0,78.8 1028.0,75.8 C1030.0,72.7 1033.5,68.8 1036.2,65.5 C1039.0,62.2 1042.5,58.8 1044.5,56.2 C1046.5,53.7 1047.8,52.3 1048.5,50.0 C1049.2,47.7 1072.1,43.8 1048.5,42.5 C1024.9,41.2 930.6,41.2 907.0,42.5Z"/><path d="M1060.5,42.5 C1053.4,43.8 1059.7,47.1 1060.5,50.0 C1061.3,52.9 1063.0,57.5 1065.5,60.0 C1068.0,62.5 1071.8,64.2 1075.5,65.0 C1079.2,65.8 1084.2,65.8 1088.0,65.0 C1091.8,64.2 1095.5,62.5 1098.0,60.0 C1100.5,57.5 1102.2,52.9 1103.0,50.0 C1103.8,47.1 1110.1,43.8 1103.0,42.5 C1095.9,41.2 1067.6,41.2 1060.5,42.5Z"/><path d="M919.2,42.5 C898.2,43.8 918.2,46.2 919.2,50.0 C920.3,53.8 923.1,60.7 925.5,65.5 C927.9,70.3 930.7,74.5 933.8,78.8 C936.8,83.0 939.6,88.8 944.0,91.0 C948.4,93.2 955.8,91.7 960.2,92.0 C964.7,92.3 967.0,92.5 970.5,93.0 C974.0,93.5 976.7,94.7 981.0,95.2 C985.3,95.8 992.5,96.6 996.2,96.2 C1000.0,95.9 1001.3,94.7 1003.5,93.0 C1005.7,91.3 1007.8,88.2 1009.5,86.0 C1011.2,83.8 1012.0,82.3 1013.8,79.8 C1015.5,77.2 1017.6,73.2 1020.0,70.5 C1022.4,67.8 1025.3,65.3 1028.0,63.2 C1030.7,61.2 1033.8,60.0 1036.2,58.2 C1038.7,56.5 1041.0,54.4 1042.5,53.0 C1044.0,51.6 1045.0,51.8 1045.5,50.0 C1046.0,48.2 1066.5,43.8 1045.5,42.5 C1024.5,41.2 940.3,41.2 919.2,42.5Z"/><path d="M1068.0,42.5 C1062.6,43.3 1067.6,45.4 1068.0,47.5 C1068.4,49.6 1068.4,52.9 1070.5,55.0 C1072.6,57.1 1076.8,59.4 1080.5,60.0 C1084.2,60.6 1089.9,60.0 1093.0,58.8 C1096.1,57.5 1098.0,55.2 1099.2,52.5 C1100.5,49.8 1105.7,44.2 1100.5,42.5 C1095.3,40.8 1073.4,41.7 1068.0,42.5Z"/><path d="M931.8,42.5 C914.0,43.8 930.8,47.0 931.8,50.0 C932.8,53.0 935.0,56.8 937.8,60.2 C940.5,63.7 944.2,67.6 948.0,70.5 C951.8,73.4 955.6,75.9 960.2,77.8 C964.9,79.6 970.6,81.1 975.8,81.8 C980.9,82.4 987.0,82.6 991.2,81.8 C995.5,80.9 998.1,79.0 1001.5,76.8 C1004.9,74.5 1008.3,71.1 1011.8,68.5 C1015.2,65.9 1018.6,63.5 1022.0,61.2 C1025.4,59.0 1029.5,57.1 1032.2,55.2 C1035.0,53.4 1037.2,52.1 1038.2,50.0 C1039.2,47.9 1056.0,43.8 1038.2,42.5 C1020.5,41.2 949.5,41.2 931.8,42.5Z"/><path d="M965.5,42.5 C956.4,43.8 965.5,47.4 965.5,50.0 C965.5,52.6 964.7,55.9 965.5,58.2 C966.3,60.6 967.9,62.4 970.5,64.2 C973.1,66.1 977.5,68.6 981.0,69.5 C984.5,70.4 987.8,70.5 991.2,69.5 C994.7,68.5 998.1,65.5 1001.5,63.2 C1004.9,61.0 1008.7,58.5 1011.8,56.2 C1014.8,54.0 1018.6,52.3 1020.0,50.0 C1021.4,47.7 1029.1,43.8 1020.0,42.5 C1010.9,41.2 974.6,41.2 965.5,42.5Z"/><path d="M1118.0,42.5 C1105.9,43.8 1118.6,45.4 1118.0,50.0 C1117.4,54.6 1115.3,63.8 1114.2,70.0 C1113.2,76.2 1112.2,81.7 1111.8,87.5 C1111.3,93.3 1110.7,101.2 1111.8,105.0 C1112.8,108.8 1114.9,108.8 1118.0,110.0 C1121.1,111.2 1125.5,112.1 1130.5,112.5 C1135.5,112.9 1142.6,111.7 1148.0,112.5 C1153.4,113.3 1159.2,114.2 1163.0,117.5 C1166.8,120.8 1168.4,127.1 1170.5,132.5 C1172.6,137.9 1174.2,145.0 1175.5,150.0 C1176.8,155.0 1178.4,159.2 1178.0,162.5 C1177.6,165.8 1175.1,167.5 1173.0,170.0 C1170.9,172.5 1167.2,174.6 1165.5,177.5 C1163.8,180.4 1162.6,184.2 1163.0,187.5 C1163.4,190.8 1165.1,194.8 1168.0,197.5 C1170.9,200.2 1176.3,202.5 1180.5,203.8 C1184.7,205.0 1188.8,205.6 1193.0,205.0 C1197.2,204.4 1201.3,202.1 1205.5,200.0 C1209.7,197.9 1213.8,195.0 1218.0,192.5 C1222.2,190.0 1226.3,187.9 1230.5,185.0 C1234.7,182.1 1238.0,177.9 1243.0,175.0 C1248.0,172.1 1257.6,184.6 1260.5,167.5 C1263.4,150.4 1263.4,88.1 1260.5,72.5 C1257.6,56.9 1248.0,73.8 1243.0,73.8 C1238.0,73.8 1234.7,73.1 1230.5,72.5 C1226.3,71.9 1222.2,70.8 1218.0,70.0 C1213.8,69.2 1208.8,68.5 1205.5,67.5 C1202.2,66.5 1200.1,65.4 1198.0,63.8 C1195.9,62.1 1194.2,59.8 1193.0,57.5 C1191.8,55.2 1190.9,52.5 1190.5,50.0 C1190.1,47.5 1202.6,43.8 1190.5,42.5 C1178.4,41.2 1130.1,41.2 1118.0,42.5Z"/><path d="M1064.2,172.5 C1064.5,167.9 1065.7,159.1 1068.0,155.0 C1070.3,150.9 1075.1,148.6 1078.0,148.0 C1080.9,147.4 1083.6,148.0 1085.5,151.2 C1087.4,154.5 1088.6,161.9 1089.2,167.5 C1089.9,173.1 1089.9,180.8 1089.2,185.0 C1088.6,189.2 1087.8,191.7 1085.5,192.5 C1083.2,193.3 1078.6,191.7 1075.5,190.0 C1072.4,188.3 1068.6,185.4 1066.8,182.5 C1064.9,179.6 1064.0,177.1 1064.2,172.5Z"/><path d="M1095.5,205.0 C1096.3,200.8 1099.9,200.3 1103.0,199.5 C1106.1,198.7 1111.3,198.2 1114.2,200.0 C1117.2,201.8 1119.0,205.8 1120.5,210.0 C1122.0,214.2 1123.4,220.0 1123.0,225.0 C1122.6,230.0 1120.3,235.8 1118.0,240.0 C1115.7,244.2 1111.8,249.6 1109.2,250.0 C1106.8,250.4 1104.9,246.7 1103.0,242.5 C1101.1,238.3 1099.2,231.2 1098.0,225.0 C1096.8,218.8 1094.7,209.2 1095.5,205.0Z"/><path d="M1126.8,65.0 C1128.0,61.2 1129.9,57.3 1133.0,55.0 C1136.1,52.7 1140.5,52.0 1145.5,51.2 C1150.5,50.5 1158.2,49.9 1163.0,50.8 C1167.8,51.6 1171.8,53.9 1174.2,56.2 C1176.8,58.6 1178.2,61.9 1178.0,65.0 C1177.8,68.1 1175.5,71.7 1173.0,75.0 C1170.5,78.3 1166.8,81.7 1163.0,85.0 C1159.2,88.3 1154.7,92.9 1150.5,95.0 C1146.3,97.1 1141.5,98.3 1138.0,97.5 C1134.5,96.7 1131.3,93.3 1129.2,90.0 C1127.2,86.7 1125.9,81.7 1125.5,77.5 C1125.1,73.3 1125.5,68.8 1126.8,65.0Z"/><path d="M1190.5,115.0 C1190.9,110.4 1192.6,105.8 1195.5,102.5 C1198.4,99.2 1203.4,96.3 1208.0,95.0 C1212.6,93.7 1218.0,93.7 1223.0,94.5 C1228.0,95.3 1233.8,97.4 1238.0,100.0 C1242.2,102.6 1245.9,105.8 1248.0,110.0 C1250.1,114.2 1250.9,120.0 1250.5,125.0 C1250.1,130.0 1248.0,135.8 1245.5,140.0 C1243.0,144.2 1239.2,147.1 1235.5,150.0 C1231.8,152.9 1227.2,157.1 1223.0,157.5 C1218.8,157.9 1214.2,155.0 1210.5,152.5 C1206.8,150.0 1203.4,146.2 1200.5,142.5 C1197.6,138.8 1194.7,134.6 1193.0,130.0 C1191.3,125.4 1190.1,119.6 1190.5,115.0Z"/></g><g font-size="8.4" fill="#000" text-anchor="middle"><text x="974.2" y="70.3" transform="rotate(-20 974.2 67.5)">2</text><text x="956.8" y="80.8" transform="rotate(15 956.8 78.0)">1.5</text><text x="941.8" y="93.3" transform="rotate(-30 941.8 90.5)">1</text><text x="906.8" y="109.8" transform="rotate(-30 906.8 107.0)">0</text><text x="949.2" y="114.0" transform="rotate(0 949.2 111.2)">0.5</text><text x="1075.5" y="70.3" transform="rotate(15 1075.5 67.5)">0.5</text><text x="1081.8" y="62.3" transform="rotate(-20 1081.8 59.5)">1</text><text x="1209.2" y="59.8" transform="rotate(0 1209.2 57.0)">0</text><text x="1203.0" y="70.8" transform="rotate(20 1203.0 68.0)">-0.5</text><text x="1166.8" y="81.0" transform="rotate(-40 1166.8 78.2)">-1</text><text x="1101.8" y="165.8" transform="rotate(-90 1101.8 163.0)">0</text><text x="1089.2" y="182.8" transform="rotate(-80 1089.2 180.0)">-0.5</text><text x="1121.8" y="230.8" transform="rotate(-80 1121.8 228.0)">-0.5</text><text x="950.5" y="200.3" transform="rotate(-40 950.5 197.5)">0</text><text x="1183.5" y="246.6" transform="rotate(-40 1183.5 243.8)">0</text><text x="1180.5" y="207.8" transform="rotate(15 1180.5 205.0)">-0.5</text><text x="1011.8" y="260.3" transform="rotate(-90 1011.8 257.5)">0</text><text x="1191.8" y="302.8" transform="rotate(-30 1191.8 300.0)">0</text><text x="1250.5" y="130.3" transform="rotate(-90 1250.5 127.5)">-1</text></g><path d="M867.7,309.2 L867.7,313.6 L868.5,266.0 L869.3,266.0 L869.6,268.2 L870.0,259.8 L870.4,268.2 L871.1,271.2 L871.5,264.0 L871.9,271.2 L871.6,270.7 L873.2,266.0 L874.8,273.9 L876.4,262.8 L877.1,248.6 L877.5,246.3 L877.9,248.6 L878.0,240.6 L878.6,249.3 L879.0,242.8 L879.4,249.3 L879.6,253.3 L881.2,248.5 L881.6,241.2 L882.0,240.1 L882.4,241.2 L882.7,232.7 L883.1,240.0 L883.5,227.2 L883.9,240.0 L884.3,247.0 L884.6,245.2 L885.0,241.4 L885.4,245.2 L885.9,240.6 L887.6,223.6 L888.0,218.2 L888.4,223.6 L888.3,220.0 L889.9,227.9 L890.6,213.5 L891.0,208.7 L891.4,213.5 L891.5,205.7 L892.3,175.6 L893.4,194.6 L893.6,192.4 L894.0,187.9 L894.4,192.4 L895.0,186.7 L896.2,181.9 L897.8,193.0 L898.1,186.4 L898.5,184.5 L898.9,186.4 L899.1,178.8 L899.6,169.4 L900.0,166.3 L900.4,169.4 L900.2,166.1 L901.3,158.1 L901.1,158.1 L901.5,155.0 L901.9,158.1 L902.6,151.8 L903.8,159.7 L904.9,161.3 L905.6,170.9 L906.0,165.8 L906.4,170.9 L906.1,170.8 L907.3,177.2 L907.1,178.9 L907.5,175.0 L907.9,178.9 L908.6,185.1 L908.6,186.2 L909.0,180.1 L909.4,186.2 L910.1,187.5 L910.5,183.6 L910.9,187.5 L910.5,186.7 L912.1,194.6 L913.1,199.6 L913.5,186.9 L913.9,199.6 L913.7,199.4 L914.6,205.4 L915.0,197.8 L915.4,205.4 L915.3,205.7 L916.1,218.6 L916.5,215.1 L916.9,218.6 L916.8,221.6 L918.1,210.5 L919.2,201.0 L920.0,234.3 L920.6,239.8 L921.0,239.0 L921.4,239.8 L921.3,240.6 L922.4,247.0 L922.1,248.3 L922.5,241.4 L922.9,248.3 L924.0,259.6 L925.6,269.2 L927.1,259.6 L928.7,272.3 L929.6,268.2 L930.0,265.6 L930.4,268.2 L930.3,266.0 L931.9,277.1 L932.6,256.7 L933.0,239.2 L933.4,256.7 L933.0,254.9 L934.0,297.7 L935.9,304.0 L937.5,291.4 L938.3,286.6 L939.0,297.7 L940.6,304.8 L952.5,304.8 L953.3,281.8 L954.3,304.8 L972.4,304.8 L973.1,299.3 L973.9,304.8 L985.8,304.8 L986.6,281.8 L988.2,288.2 L989.2,280.5 L989.6,270.5 L990.0,280.5 L989.8,278.7 L990.7,272.8 L991.1,270.2 L991.5,272.8 L991.4,270.7 L992.2,280.2 L992.6,272.7 L993.0,280.2 L993.0,281.8 L993.8,253.3 L993.7,255.5 L994.1,254.0 L994.5,255.5 L995.3,259.6 L995.2,256.0 L995.6,253.3 L996.0,256.0 L996.1,247.0 L996.7,237.9 L997.1,236.2 L997.5,237.9 L997.4,234.3 L997.7,199.4 L998.4,242.2 L998.2,245.2 L998.6,241.4 L999.0,245.2 L999.3,250.1 L1000.9,266.0 L1002.5,273.9 L1004.1,277.1 L1004.2,276.8 L1004.6,268.4 L1005.0,276.8 L1005.7,273.9 L1007.2,270.7 L1008.8,224.7 L1009.6,250.1 L1010.4,273.9 L1012.0,269.2 L1011.7,270.4 L1012.1,259.2 L1012.5,270.4 L1013.6,275.5 L1013.2,276.2 L1013.6,272.2 L1014.0,276.2 L1015.2,270.7 L1016.8,266.0 L1017.7,273.6 L1018.1,267.4 L1018.5,273.6 L1018.3,273.9 L1019.2,277.3 L1019.6,274.3 L1020.0,277.3 L1019.9,277.1 L1021.5,208.9 L1022.3,269.2 L1022.2,272.5 L1022.6,267.1 L1023.0,272.5 L1023.1,275.5 L1024.7,262.8 L1026.3,250.1 L1027.5,234.3 L1028.2,216.5 L1028.6,213.0 L1029.0,216.5 L1028.7,215.2 L1029.7,179.3 L1030.1,178.2 L1030.5,179.3 L1030.2,175.6 L1031.8,186.7 L1032.9,210.5 L1033.9,227.9 L1035.8,250.1 L1037.4,253.3 L1037.2,251.9 L1037.6,249.8 L1038.0,251.9 L1038.6,242.2 L1039.3,202.5 L1039.9,155.0 L1040.6,123.2 L1040.2,122.3 L1040.6,120.3 L1041.0,122.3 L1041.2,108.6 L1041.8,123.2 L1042.5,155.0 L1043.1,218.4 L1043.2,252.8 L1043.6,244.3 L1044.0,252.8 L1043.7,258.1 L1045.3,266.0 L1046.2,293.1 L1046.6,288.5 L1047.0,293.1 L1046.9,297.7 L1049.3,304.8 L1052.4,304.8 L1052.9,250.1 L1053.2,213.6 L1053.7,250.1 L1054.2,304.8 L1060.8,304.8 L1063.2,297.7 L1064.8,304.8 L1068.8,304.8 L1069.6,277.1 L1071.2,281.8 L1071.9,278.7 L1073.5,285.0 L1073.7,283.7 L1074.1,282.0 L1074.5,283.7 L1074.3,281.8 L1076.7,288.2 L1078.3,291.4 L1078.2,291.3 L1078.6,287.6 L1079.0,291.3 L1079.9,286.6 L1081.1,281.8 L1082.3,264.4 L1083.0,269.2 L1082.7,269.9 L1083.1,263.6 L1083.5,269.9 L1083.8,266.0 L1085.4,270.7 L1087.0,266.0 L1087.2,263.6 L1087.6,262.6 L1088.0,263.6 L1088.1,259.6 L1088.7,257.3 L1089.1,248.2 L1089.5,257.3 L1089.1,256.5 L1090.0,266.0 L1090.2,269.5 L1090.6,268.6 L1091.0,269.5 L1091.0,270.7 L1091.7,283.5 L1092.1,282.4 L1092.5,283.5 L1092.6,288.2 L1094.2,304.8 L1095.4,291.4 L1096.5,297.7 L1097.3,304.8 L1100.5,299.3 L1101.4,304.8 L1106.8,304.8 L1107.6,299.3 L1108.7,301.6 L1109.1,300.7 L1109.5,301.6 L1109.2,300.9 L1110.8,296.1 L1112.4,293.7 L1113.5,304.8 L1206.8,304.8 L1207.6,277.1 L1208.3,291.4 L1209.1,304.8 L1210.7,291.4 L1211.8,304.8 L1229.0,304.8 L1229.8,291.4 L1230.6,286.6 L1230.9,290.2 L1231.3,288.7 L1231.7,290.2 L1231.3,289.8 L1232.1,291.4 L1232.4,289.1 L1232.8,283.8 L1233.2,289.1 L1233.7,283.4 L1235.3,288.2 L1236.9,296.1 L1236.9,295.5 L1237.3,294.6 L1237.7,295.5 L1238.5,289.8 L1240.1,294.5 L1240.9,297.7 L1241.7,278.7 L1241.4,278.6 L1241.8,270.5 L1242.2,278.6 L1242.4,272.3 L1243.2,262.8 L1244.0,250.1 L1244.8,218.4 L1245.6,177.2 L1246.4,218.4 L1247.2,269.2 L1247.4,256.7 L1247.8,254.3 L1248.2,256.7 L1248.0,250.1 L1248.8,234.3 L1248.9,223.0 L1249.3,221.6 L1249.7,223.0 L1249.9,205.7 L1251.2,186.7 L1252.0,194.6 L1251.9,198.4 L1252.3,192.0 L1252.7,198.4 L1252.8,202.5 L1253.4,203.3 L1253.8,200.3 L1254.2,203.3 L1254.9,203.3 L1255.3,201.5 L1255.7,203.3 L1255.9,202.5 L1255.9,313.6 L1255.9,309.2Z" fill="#000"/></g><rect x="758.8" y="49.1" width="110.1" height="255.1" fill="#fff"/><clipPath id="lclip01"><rect x="758.8" y="49.1" width="110.1" height="255.1"/></clipPath><path d="M868.70,50.40 C867.25,50.58 862.47,50.95 860.00,51.50 C857.53,52.05 855.95,52.10 853.90,53.70 C851.85,55.30 850.58,59.05 847.70,61.10 C844.82,63.15 841.75,64.35 836.60,66.00 C831.45,67.65 822.17,69.55 816.80,71.00 C811.43,72.45 807.20,73.07 804.40,74.70 C801.60,76.33 800.40,78.33 800.00,80.80 C799.60,83.27 802.28,86.82 802.00,89.50 C801.72,92.18 799.05,94.02 798.30,96.90 C797.55,99.78 797.50,102.68 797.50,106.80 C797.50,110.92 797.15,117.68 798.30,121.60 C799.45,125.52 802.75,127.42 804.40,130.30 C806.05,133.18 808.20,135.82 808.20,138.90 C808.20,141.98 805.03,144.67 804.40,148.80 C803.77,152.93 804.60,159.17 804.40,163.70 C804.20,168.23 805.25,172.50 803.20,176.00 C801.15,179.50 795.18,181.82 792.10,184.70 C789.02,187.58 784.70,190.42 784.70,193.30 C784.70,196.18 789.30,199.20 792.10,202.00 C794.90,204.80 800.27,207.42 801.50,210.10 C802.73,212.78 799.63,213.07 799.50,218.10 C799.37,223.13 798.63,234.53 800.70,240.30 C802.77,246.07 808.60,249.20 811.90,252.70 C815.20,256.20 819.88,257.40 820.50,261.30 C821.12,265.20 814.57,272.38 815.60,276.10 C816.63,279.82 822.80,281.12 826.70,283.60 C830.60,286.08 837.77,288.73 839.00,291.00 C840.23,293.27 837.60,295.00 834.10,297.20 C830.60,299.40 820.68,303.03 818.00,304.20" fill="none" stroke="#0b6fbf" stroke-width="2.7" stroke-linejoin="round" stroke-linecap="round" clip-path="url(#lclip01)"/><path d="M758.8,49.1 H1254.2 V304.2 H758.8 Z M868.9,49.1 V304.2" fill="none" stroke="#2b2b2b" stroke-width="1.7"/><line x1="755.6" y1="49.1" x2="758.8" y2="49.1" stroke="#2b2b2b" stroke-width="1.2"/><text x="749.5" y="55.4" font-size="18.5" text-anchor="end">1000</text><line x1="755.6" y1="81.0" x2="758.8" y2="81.0" stroke="#2b2b2b" stroke-width="1.2"/><text x="749.5" y="87.3" font-size="18.5" text-anchor="end">1500</text><line x1="755.6" y1="112.9" x2="758.8" y2="112.9" stroke="#2b2b2b" stroke-width="1.2"/><text x="749.5" y="119.2" font-size="18.5" text-anchor="end">2000</text><line x1="755.6" y1="144.8" x2="758.8" y2="144.8" stroke="#2b2b2b" stroke-width="1.2"/><text x="749.5" y="151.1" font-size="18.5" text-anchor="end">2500</text><line x1="755.6" y1="176.7" x2="758.8" y2="176.7" stroke="#2b2b2b" stroke-width="1.2"/><text x="749.5" y="183.0" font-size="18.5" text-anchor="end">3000</text><line x1="755.6" y1="208.5" x2="758.8" y2="208.5" stroke="#2b2b2b" stroke-width="1.2"/><text x="749.5" y="214.8" font-size="18.5" text-anchor="end">3500</text><line x1="755.6" y1="240.4" x2="758.8" y2="240.4" stroke="#2b2b2b" stroke-width="1.2"/><text x="749.5" y="246.7" font-size="18.5" text-anchor="end">4000</text><line x1="755.6" y1="272.3" x2="758.8" y2="272.3" stroke="#2b2b2b" stroke-width="1.2"/><text x="749.5" y="278.6" font-size="18.5" text-anchor="end">4500</text><line x1="755.6" y1="304.2" x2="758.8" y2="304.2" stroke="#2b2b2b" stroke-width="1.2"/><text x="749.5" y="310.5" font-size="18.5" text-anchor="end">5000</text><line x1="764.9" y1="304.2" x2="764.9" y2="307.4" stroke="#2b2b2b" stroke-width="1.2"/><text x="758.7" y="327.7" font-size="18.5" text-anchor="middle">-7</text><line x1="814.7" y1="304.2" x2="814.7" y2="307.4" stroke="#2b2b2b" stroke-width="1.2"/><text x="813.3" y="327.7" font-size="18.5" text-anchor="middle">0</text><line x1="864.5" y1="304.2" x2="864.5" y2="307.4" stroke="#2b2b2b" stroke-width="1.2"/><text x="864.5" y="327.7" font-size="18.5" text-anchor="middle">7</text><line x1="899.8" y1="304.2" x2="899.8" y2="307.4" stroke="#2b2b2b" stroke-width="1.2"/><text x="902.9" y="327.7" font-size="18.5" text-anchor="middle">60°S</text><line x1="960.4" y1="304.2" x2="960.4" y2="307.4" stroke="#2b2b2b" stroke-width="1.2"/><text x="963.8" y="327.7" font-size="18.5" text-anchor="middle">40°S</text><line x1="1020.7" y1="304.2" x2="1020.7" y2="307.4" stroke="#2b2b2b" stroke-width="1.2"/><text x="1024.6" y="327.7" font-size="18.5" text-anchor="middle">20°S</text><line x1="1083.5" y1="304.2" x2="1083.5" y2="307.4" stroke="#2b2b2b" stroke-width="1.2"/><text x="1084.1" y="327.7" font-size="18.5" text-anchor="middle">EQ</text><line x1="1144.4" y1="304.2" x2="1144.4" y2="307.4" stroke="#2b2b2b" stroke-width="1.2"/><text x="1143.6" y="327.7" font-size="18.5" text-anchor="middle">20°N</text><line x1="1205.8" y1="304.2" x2="1205.8" y2="307.4" stroke="#2b2b2b" stroke-width="1.2"/><text x="1205.7" y="327.7" font-size="18.5" text-anchor="middle">40°N</text><text x="811.9" y="355.5" font-size="21" text-anchor="middle">RG (%)</text><text x="1030.2" y="355.1" font-size="21" text-anchor="middle">Latitude</text><text x="0" y="0" font-size="21" text-anchor="middle" transform="translate(698.2,157.9) rotate(-90)">Depth (m)</text><text x="704.6" y="69.1" font-size="35" text-anchor="end">(b)</text><linearGradient id="cbg01" x1="0" y1="0" x2="0" y2="1"><stop offset="0.000" stop-color="#a50026"/><stop offset="0.025" stop-color="#b10b26"/><stop offset="0.050" stop-color="#bd1726"/><stop offset="0.075" stop-color="#ca2427"/><stop offset="0.100" stop-color="#d62f27"/><stop offset="0.125" stop-color="#dd3d2d"/><stop offset="0.150" stop-color="#e54e35"/><stop offset="0.175" stop-color="#ec5c3b"/><stop offset="0.200" stop-color="#f46d43"/><stop offset="0.225" stop-color="#f67c4a"/><stop offset="0.250" stop-color="#f88c51"/><stop offset="0.275" stop-color="#fb9d59"/><stop offset="0.300" stop-color="#fdad60"/><stop offset="0.325" stop-color="#fdbb6d"/><stop offset="0.350" stop-color="#fdc778"/><stop offset="0.375" stop-color="#fed283"/><stop offset="0.400" stop-color="#fee090"/><stop offset="0.425" stop-color="#fee79b"/><stop offset="0.450" stop-color="#fff0a8"/><stop offset="0.475" stop-color="#fff7b3"/><stop offset="0.500" stop-color="#fffebe"/><stop offset="0.525" stop-color="#f7fcce"/><stop offset="0.550" stop-color="#f0f9db"/><stop offset="0.575" stop-color="#e7f6eb"/><stop offset="0.600" stop-color="#e0f3f8"/><stop offset="0.625" stop-color="#d4edf4"/><stop offset="0.650" stop-color="#c5e6f0"/><stop offset="0.675" stop-color="#b9e0ed"/><stop offset="0.700" stop-color="#aad8e9"/><stop offset="0.725" stop-color="#9dcee3"/><stop offset="0.750" stop-color="#90c3dd"/><stop offset="0.775" stop-color="#81b7d7"/><stop offset="0.800" stop-color="#74add1"/><stop offset="0.825" stop-color="#679ec9"/><stop offset="0.850" stop-color="#5c90c2"/><stop offset="0.875" stop-color="#5183bb"/><stop offset="0.900" stop-color="#4574b3"/><stop offset="0.925" stop-color="#4065ac"/><stop offset="0.950" stop-color="#3a54a4"/><stop offset="0.975" stop-color="#36459c"/><stop offset="1.000" stop-color="#313695"/></linearGradient><rect x="1257.6" y="49.1" width="8.1" height="255.1" fill="url(#cbg01)" stroke="#2b2b2b" stroke-width="0.9"/><line x1="1265.7" y1="68.6" x2="1268.2" y2="68.6" stroke="#2b2b2b" stroke-width="1"/><text x="1271.7" y="73.6" font-size="18.5" text-anchor="start">2.0</text><line x1="1265.7" y1="95.6" x2="1268.2" y2="95.6" stroke="#2b2b2b" stroke-width="1"/><text x="1271.7" y="100.6" font-size="18.5" text-anchor="start">1.5</text><line x1="1265.7" y1="122.6" x2="1268.2" y2="122.6" stroke="#2b2b2b" stroke-width="1"/><text x="1271.7" y="127.6" font-size="18.5" text-anchor="start">1.0</text><line x1="1265.7" y1="149.6" x2="1268.2" y2="149.6" stroke="#2b2b2b" stroke-width="1"/><text x="1271.7" y="154.6" font-size="18.5" text-anchor="start">0.5</text><line x1="1265.7" y1="176.7" x2="1268.2" y2="176.7" stroke="#2b2b2b" stroke-width="1"/><text x="1271.7" y="181.7" font-size="18.5" text-anchor="start">0</text><line x1="1265.7" y1="203.7" x2="1268.2" y2="203.7" stroke="#2b2b2b" stroke-width="1"/><text x="1271.7" y="208.7" font-size="18.5" text-anchor="start">-0.5</text><line x1="1265.7" y1="230.7" x2="1268.2" y2="230.7" stroke="#2b2b2b" stroke-width="1"/><text x="1271.7" y="235.7" font-size="18.5" text-anchor="start">-1.0</text><line x1="1265.7" y1="257.7" x2="1268.2" y2="257.7" stroke="#2b2b2b" stroke-width="1"/><text x="1271.7" y="262.7" font-size="18.5" text-anchor="start">-1.5</text><line x1="1265.7" y1="284.7" x2="1268.2" y2="284.7" stroke="#2b2b2b" stroke-width="1"/><text x="1271.7" y="289.7" font-size="18.5" text-anchor="start">-2.0</text><text x="1273.2" y="35.8" font-size="13.4">×10<tspan font-size="9.6" dy="-4">-3</tspan></text><clipPath id="clip02"><rect x="1518.6" y="49.9" width="383.9" height="255.2"/></clipPath><g clip-path="url(#clip02)"><rect x="1518.6" y="49.9" width="383.9" height="255.20000000000002" fill="#e9f6e8"/><path d="M1529.0,42.5 C1490.9,43.8 1528.8,46.3 1529.0,50.0 C1529.2,53.7 1529.2,59.2 1530.0,64.5 C1530.8,69.8 1532.5,76.5 1533.8,81.5 C1535.0,86.5 1536.9,91.3 1537.5,94.8 C1538.1,98.2 1538.8,100.6 1537.5,102.2 C1536.2,103.9 1534.3,104.1 1530.0,104.5 C1525.7,104.9 1514.6,69.8 1511.5,104.5 C1508.4,139.2 1494.4,277.8 1511.5,312.5 C1528.6,347.2 1596.9,314.6 1614.0,312.5 C1631.1,310.4 1614.4,305.0 1614.0,300.0 C1613.6,295.0 1613.2,287.5 1611.5,282.5 C1609.8,277.5 1607.8,272.9 1604.0,270.0 C1600.2,267.1 1594.0,267.1 1589.0,265.0 C1584.0,262.9 1578.2,260.8 1574.0,257.5 C1569.8,254.2 1568.6,248.8 1564.0,245.0 C1559.4,241.2 1551.1,237.5 1546.5,235.0 C1541.9,232.5 1539.2,232.1 1536.5,230.0 C1533.8,227.9 1531.1,225.8 1530.2,222.5 C1529.4,219.2 1530.0,213.3 1531.5,210.0 C1533.0,206.7 1536.1,205.0 1539.0,202.5 C1541.9,200.0 1545.7,197.9 1549.0,195.0 C1552.3,192.1 1556.5,189.2 1559.0,185.0 C1561.5,180.8 1563.0,175.0 1564.0,170.0 C1565.0,165.0 1564.8,159.8 1565.2,155.0 C1565.7,150.2 1565.5,144.0 1566.5,141.0 C1567.5,138.0 1568.2,137.0 1571.2,137.2 C1574.3,137.5 1580.5,140.0 1584.8,142.2 C1589.0,144.5 1592.7,147.8 1596.8,150.8 C1600.8,153.8 1605.0,157.4 1609.0,160.2 C1613.0,163.1 1617.0,165.9 1621.0,167.8 C1625.0,169.6 1629.2,170.9 1633.2,171.2 C1637.3,171.6 1641.2,171.6 1645.2,170.0 C1649.3,168.4 1653.5,163.9 1657.5,161.5 C1661.5,159.1 1665.5,157.1 1669.5,155.5 C1673.5,153.9 1678.7,152.8 1681.8,151.8 C1684.8,150.8 1686.0,152.3 1687.8,149.5 C1689.5,146.7 1691.5,139.0 1692.5,135.0 C1693.5,131.0 1694.1,128.1 1693.8,125.2 C1693.4,122.4 1692.7,121.0 1690.2,118.0 C1687.8,115.0 1681.7,110.7 1679.2,107.0 C1676.8,103.3 1676.1,99.4 1675.8,96.0 C1675.4,92.6 1675.4,89.5 1677.0,86.5 C1678.6,83.5 1682.5,80.7 1685.2,78.0 C1688.0,75.3 1690.8,72.5 1693.8,70.5 C1696.7,68.5 1699.5,67.1 1703.0,65.8 C1706.5,64.4 1710.0,62.7 1715.0,62.2 C1720.0,61.8 1728.2,63.5 1733.2,63.2 C1738.3,63.0 1742.0,62.4 1745.5,61.0 C1749.0,59.6 1752.0,56.6 1754.0,54.8 C1756.0,52.9 1756.9,52.0 1757.5,50.0 C1758.1,48.0 1795.6,43.8 1757.5,42.5 C1719.4,41.2 1567.1,41.2 1529.0,42.5Z" fill="#fffebe"/><path d="M1796.5,42.5 C1778.8,43.8 1797.4,47.8 1800.0,50.0 C1802.6,52.2 1808.2,54.0 1812.2,56.0 C1816.3,58.0 1820.2,60.2 1824.2,62.2 C1828.3,64.3 1831.5,66.7 1836.5,68.2 C1841.5,69.8 1848.5,70.8 1854.5,71.8 C1860.5,72.8 1866.7,73.6 1872.8,74.2 C1878.8,74.9 1885.4,75.5 1891.0,75.5 C1896.6,75.5 1903.9,79.8 1906.5,74.2 C1909.1,68.8 1924.8,47.8 1906.5,42.5 C1888.2,37.2 1814.2,41.2 1796.5,42.5Z" fill="#fffebe"/><path d="M1694.0,312.5 C1671.9,311.2 1693.6,309.2 1694.0,305.0 C1694.4,300.8 1694.0,292.1 1696.5,287.5 C1699.0,282.9 1703.6,279.8 1709.0,277.5 C1714.4,275.2 1721.9,274.8 1729.0,273.8 C1736.1,272.7 1743.6,271.9 1751.5,271.2 C1759.4,270.6 1769.0,269.8 1776.5,270.0 C1784.0,270.2 1790.2,270.8 1796.5,272.5 C1802.8,274.2 1809.4,277.1 1814.0,280.0 C1818.6,282.9 1821.9,285.8 1824.0,290.0 C1826.1,294.2 1826.1,301.2 1826.5,305.0 C1826.9,308.8 1848.6,311.2 1826.5,312.5 C1804.4,313.8 1716.1,313.8 1694.0,312.5Z" fill="#fffebe"/><path d="M1854.0,275.0 C1853.2,270.0 1855.7,267.5 1859.0,265.0 C1862.3,262.5 1869.0,260.8 1874.0,260.0 C1879.0,259.2 1883.6,259.2 1889.0,260.0 C1894.4,260.8 1903.6,256.2 1906.5,265.0 C1909.4,273.8 1911.9,304.6 1906.5,312.5 C1901.1,320.4 1881.1,315.4 1874.0,312.5 C1866.9,309.6 1867.3,301.2 1864.0,295.0 C1860.7,288.8 1854.8,280.0 1854.0,275.0Z" fill="#fffebe"/><path d="M1550.8,42.5 C1524.7,43.8 1550.3,46.5 1550.8,50.0 C1551.2,53.5 1551.8,58.8 1553.2,63.2 C1554.7,67.7 1556.6,72.1 1559.2,76.8 C1561.9,81.4 1565.8,86.4 1569.0,91.2 C1572.2,96.1 1575.9,101.9 1578.8,105.8 C1581.6,109.6 1582.0,112.2 1586.0,114.2 C1590.0,116.3 1597.8,116.8 1603.0,118.0 C1608.2,119.2 1612.5,120.1 1617.5,121.5 C1622.5,122.9 1628.6,125.7 1633.2,126.5 C1637.9,127.3 1641.6,127.5 1645.2,126.5 C1648.9,125.5 1652.3,122.9 1655.0,120.2 C1657.7,117.6 1659.8,114.0 1661.2,110.8 C1662.7,107.5 1662.5,104.2 1663.5,101.0 C1664.5,97.8 1665.2,94.7 1667.2,91.2 C1669.3,87.8 1672.3,84.1 1675.8,80.2 C1679.2,76.4 1683.7,72.1 1687.8,68.2 C1691.8,64.4 1696.8,60.3 1700.0,57.2 C1703.2,54.2 1706.0,52.5 1707.2,50.0 C1708.5,47.5 1733.3,43.8 1707.2,42.5 C1681.2,41.2 1576.8,41.2 1550.8,42.5Z" fill="#fee99d"/><path d="M1834.0,42.5 C1822.3,43.8 1835.1,47.5 1836.5,50.0 C1837.9,52.5 1839.5,55.2 1842.5,57.2 C1845.5,59.3 1849.5,61.0 1854.5,62.2 C1859.5,63.5 1866.7,64.3 1872.8,64.5 C1878.8,64.7 1885.4,63.8 1891.0,63.2 C1896.6,62.7 1903.9,64.5 1906.5,61.0 C1909.1,57.5 1918.6,45.6 1906.5,42.5 C1894.4,39.4 1845.7,41.2 1834.0,42.5Z" fill="#fee99d"/><path d="M1734.0,312.5 C1721.9,311.2 1732.3,309.2 1734.0,305.0 C1735.7,300.8 1739.0,291.2 1744.0,287.5 C1749.0,283.8 1757.3,283.3 1764.0,282.5 C1770.7,281.7 1778.2,281.7 1784.0,282.5 C1789.8,283.3 1795.2,283.8 1799.0,287.5 C1802.8,291.2 1805.2,300.8 1806.5,305.0 C1807.8,309.2 1818.6,311.2 1806.5,312.5 C1794.4,313.8 1746.1,313.8 1734.0,312.5Z" fill="#fee99d"/><path d="M1511.5,245.0 C1512.7,235.4 1515.6,244.6 1518.5,245.0 C1521.4,245.4 1526.0,245.4 1529.0,247.5 C1532.0,249.6 1534.8,252.9 1536.5,257.5 C1538.2,262.1 1539.0,269.6 1539.0,275.0 C1539.0,280.4 1538.2,285.8 1536.5,290.0 C1534.8,294.2 1532.0,297.9 1529.0,300.0 C1526.0,302.1 1521.4,302.1 1518.5,302.5 C1515.6,302.9 1512.7,312.1 1511.5,302.5 C1510.3,292.9 1510.3,254.6 1511.5,245.0Z" fill="#fee99d"/><path d="M1561.8,42.5 C1539.1,43.8 1561.4,46.7 1561.8,50.0 C1562.1,53.3 1562.6,58.2 1564.0,62.2 C1565.4,66.3 1567.8,70.2 1570.2,74.2 C1572.7,78.3 1576.1,82.9 1578.8,86.5 C1581.4,90.1 1583.0,93.8 1586.0,96.0 C1589.0,98.2 1591.9,98.9 1596.8,99.8 C1601.6,100.6 1608.9,100.4 1615.0,101.0 C1621.1,101.6 1628.2,103.2 1633.2,103.2 C1638.3,103.2 1641.8,102.6 1645.2,101.0 C1648.7,99.4 1651.1,96.6 1653.8,93.8 C1656.4,90.9 1658.4,87.2 1661.2,84.0 C1664.1,80.8 1667.3,77.5 1670.8,74.2 C1674.2,71.0 1678.3,67.5 1681.8,64.5 C1685.2,61.5 1688.9,58.4 1691.5,56.0 C1694.1,53.6 1696.5,52.2 1697.5,50.0 C1698.5,47.8 1720.1,43.8 1697.5,42.5 C1674.9,41.2 1584.4,41.2 1561.8,42.5Z" fill="#feca7c"/><path d="M1840.2,42.5 C1829.6,43.8 1840.1,48.0 1842.5,50.0 C1844.9,52.0 1849.5,53.5 1854.5,54.8 C1859.5,56.0 1866.7,57.0 1872.8,57.2 C1878.8,57.5 1885.4,56.6 1891.0,56.0 C1896.6,55.4 1903.9,56.0 1906.5,53.8 C1909.1,51.5 1917.5,44.4 1906.5,42.5 C1895.5,40.6 1850.9,41.2 1840.2,42.5Z" fill="#feca7c"/><path d="M1744.0,312.5 C1735.7,311.2 1741.5,308.1 1744.0,305.0 C1746.5,301.9 1753.2,296.0 1759.0,293.8 C1764.8,291.5 1773.6,290.6 1779.0,291.2 C1784.4,291.9 1789.0,295.2 1791.5,297.5 C1794.0,299.8 1793.6,302.5 1794.0,305.0 C1794.4,307.5 1802.3,311.2 1794.0,312.5 C1785.7,313.8 1752.3,313.8 1744.0,312.5Z" fill="#feca7c"/><path d="M1569.0,42.5 C1549.2,43.8 1568.4,46.9 1569.0,50.0 C1569.6,53.1 1570.5,57.0 1572.5,61.0 C1574.5,65.0 1578.0,70.4 1581.0,74.2 C1584.0,78.1 1587.1,81.8 1590.8,84.0 C1594.4,86.2 1598.0,86.7 1603.0,87.5 C1608.0,88.3 1615.0,88.3 1621.0,88.8 C1627.0,89.2 1634.6,90.4 1639.2,90.0 C1643.9,89.6 1646.0,88.3 1649.0,86.5 C1652.0,84.7 1654.5,81.8 1657.5,79.0 C1660.5,76.2 1663.8,72.7 1667.2,69.5 C1670.7,66.3 1674.6,63.0 1678.0,59.8 C1681.4,56.5 1686.1,52.9 1687.8,50.0 C1689.4,47.1 1707.5,43.8 1687.8,42.5 C1668.0,41.2 1588.8,41.2 1569.0,42.5Z" fill="#fca55d"/><path d="M1844.0,42.5 C1835.5,43.8 1843.2,48.3 1846.0,50.0 C1848.8,51.7 1855.3,52.0 1860.8,52.5 C1866.2,53.0 1872.7,53.2 1878.8,53.0 C1884.8,52.8 1894.0,53.0 1897.0,51.2 C1900.0,49.5 1905.8,44.0 1897.0,42.5 C1888.2,41.0 1852.5,41.2 1844.0,42.5Z" fill="#fca55d"/><path d="M1576.2,42.5 C1558.5,43.8 1575.5,46.7 1576.2,50.0 C1577.0,53.3 1578.6,58.6 1581.0,62.2 C1583.4,65.9 1587.1,69.1 1590.8,71.8 C1594.4,74.4 1598.0,76.8 1603.0,78.0 C1608.0,79.2 1615.4,78.7 1621.0,79.0 C1626.6,79.3 1632.1,80.5 1636.8,79.8 C1641.4,79.0 1644.9,76.6 1649.0,74.2 C1653.1,71.9 1657.2,68.6 1661.2,65.8 C1665.3,62.9 1669.6,59.9 1673.2,57.2 C1676.9,54.6 1681.4,52.5 1683.0,50.0 C1684.6,47.5 1700.8,43.8 1683.0,42.5 C1665.2,41.2 1594.0,41.2 1576.2,42.5Z" fill="#f57748"/><path d="M1586.0,42.5 C1571.2,43.8 1585.2,47.1 1586.0,50.0 C1586.8,52.9 1587.9,56.9 1590.8,59.8 C1593.6,62.6 1598.0,65.2 1603.0,67.0 C1608.0,68.8 1615.0,69.8 1621.0,70.5 C1627.0,71.2 1634.2,72.0 1639.2,71.2 C1644.3,70.5 1647.5,67.9 1651.5,65.8 C1655.5,63.6 1659.7,61.1 1663.5,58.5 C1667.3,55.9 1672.7,52.7 1674.5,50.0 C1676.3,47.3 1689.2,43.8 1674.5,42.5 C1659.8,41.2 1600.8,41.2 1586.0,42.5Z" fill="#e34933"/><path d="M1607.8,42.5 C1598.5,43.8 1606.5,47.8 1607.8,50.0 C1609.0,52.2 1611.8,54.2 1615.0,56.0 C1618.2,57.8 1623.2,60.0 1627.2,61.0 C1631.3,62.0 1635.2,62.9 1639.2,62.2 C1643.3,61.6 1647.5,59.3 1651.5,57.2 C1655.5,55.2 1661.5,52.5 1663.5,50.0 C1665.5,47.5 1672.8,43.8 1663.5,42.5 C1654.2,41.2 1617.0,41.2 1607.8,42.5Z" fill="#c82227"/><path d="M1749.0,42.5 C1740.3,43.8 1755.7,47.5 1757.5,50.0 C1759.3,52.5 1760.4,54.2 1760.0,57.2 C1759.6,60.3 1757.7,65.4 1755.2,68.2 C1752.8,71.1 1749.2,72.6 1745.5,74.2 C1741.8,75.9 1737.3,77.6 1733.2,78.0 C1729.2,78.4 1725.3,77.6 1721.2,76.8 C1717.2,75.9 1712.7,73.3 1709.0,73.0 C1705.3,72.7 1702.3,73.4 1699.0,75.0 C1695.7,76.6 1691.9,80.0 1689.0,82.5 C1686.1,85.0 1683.4,87.1 1681.5,90.0 C1679.6,92.9 1677.8,96.7 1677.8,100.0 C1677.8,103.3 1679.2,107.1 1681.5,110.0 C1683.8,112.9 1688.6,115.0 1691.5,117.5 C1694.4,120.0 1697.3,122.1 1699.0,125.0 C1700.7,127.9 1701.5,131.2 1701.5,135.0 C1701.5,138.8 1700.2,143.3 1699.0,147.5 C1697.8,151.7 1696.5,156.2 1694.0,160.0 C1691.5,163.8 1686.7,166.7 1684.0,170.0 C1681.3,173.3 1679.0,176.7 1677.8,180.0 C1676.5,183.3 1675.9,186.7 1676.5,190.0 C1677.1,193.3 1679.4,196.2 1681.5,200.0 C1683.6,203.8 1686.5,208.3 1689.0,212.5 C1691.5,216.7 1694.0,220.8 1696.5,225.0 C1699.0,229.2 1701.1,233.3 1704.0,237.5 C1706.9,241.7 1709.8,246.7 1714.0,250.0 C1718.2,253.3 1723.2,255.6 1729.0,257.5 C1734.8,259.4 1742.3,260.4 1749.0,261.2 C1755.7,262.1 1764.0,262.7 1769.0,262.5 C1774.0,262.3 1775.7,262.1 1779.0,260.0 C1782.3,257.9 1785.2,252.9 1789.0,250.0 C1792.8,247.1 1796.5,245.0 1801.5,242.5 C1806.5,240.0 1812.8,237.1 1819.0,235.0 C1825.2,232.9 1833.2,231.2 1839.0,230.0 C1844.8,228.8 1849.0,228.3 1854.0,227.5 C1859.0,226.7 1864.0,226.2 1869.0,225.0 C1874.0,223.8 1879.8,222.1 1884.0,220.0 C1888.2,217.9 1890.2,215.0 1894.0,212.5 C1897.8,210.0 1904.4,226.8 1906.5,205.0 C1908.6,183.2 1908.1,102.3 1906.5,81.5 C1904.9,60.7 1901.6,80.8 1897.0,80.2 C1892.4,79.7 1884.8,79.0 1878.8,78.0 C1872.7,77.0 1866.8,75.9 1860.8,74.2 C1854.7,72.6 1847.6,70.2 1842.5,68.2 C1837.4,66.2 1834.1,64.5 1830.2,62.2 C1826.4,60.0 1822.9,56.8 1819.5,54.8 C1816.1,52.7 1811.4,52.0 1809.8,50.0 C1808.1,48.0 1819.9,43.8 1809.8,42.5 C1799.6,41.2 1757.7,41.2 1749.0,42.5Z" fill="#c9e8f2"/><path d="M1604.0,210.0 C1604.6,207.1 1605.7,202.5 1609.0,200.0 C1612.3,197.5 1619.0,195.6 1624.0,195.0 C1629.0,194.4 1634.8,195.0 1639.0,196.2 C1643.2,197.5 1647.1,199.4 1649.0,202.5 C1650.9,205.6 1651.1,211.2 1650.2,215.0 C1649.4,218.8 1647.5,222.6 1644.0,225.0 C1640.5,227.4 1634.0,229.5 1629.0,229.5 C1624.0,229.5 1618.0,227.0 1614.0,225.0 C1610.0,223.0 1606.9,220.0 1605.2,217.5 C1603.6,215.0 1603.4,212.9 1604.0,210.0Z" fill="#c9e8f2"/><path d="M1773.2,42.5 C1769.6,43.8 1773.6,47.5 1773.2,50.0 C1772.9,52.5 1772.2,54.2 1771.0,57.2 C1769.8,60.3 1768.0,64.4 1766.0,68.2 C1764.0,72.1 1761.6,76.4 1758.8,80.2 C1755.9,84.1 1752.6,87.8 1749.0,91.2 C1745.4,94.7 1740.6,99.0 1737.0,101.0 C1733.4,103.0 1729.9,103.7 1727.2,103.2 C1724.6,102.8 1723.7,100.9 1721.2,98.5 C1718.8,96.1 1715.8,90.8 1712.8,88.8 C1709.7,86.8 1705.3,86.7 1703.0,86.5 C1700.7,86.3 1699.5,85.9 1699.0,87.5 C1698.5,89.1 1698.2,93.5 1700.2,96.2 C1702.3,99.0 1708.0,101.7 1711.5,103.8 C1715.0,105.8 1719.4,106.5 1721.5,108.8 C1723.6,111.0 1724.4,113.5 1724.0,117.5 C1723.6,121.5 1721.1,127.5 1719.0,132.5 C1716.9,137.5 1713.0,142.5 1711.5,147.5 C1710.0,152.5 1709.8,157.1 1710.2,162.5 C1710.7,167.9 1712.1,174.2 1714.0,180.0 C1715.9,185.8 1719.0,192.5 1721.5,197.5 C1724.0,202.5 1726.1,206.2 1729.0,210.0 C1731.9,213.8 1735.2,216.7 1739.0,220.0 C1742.8,223.3 1747.8,227.3 1751.5,230.0 C1755.2,232.7 1758.6,235.8 1761.5,236.2 C1764.4,236.7 1766.5,236.0 1769.0,232.5 C1771.5,229.0 1774.4,219.6 1776.5,215.0 C1778.6,210.4 1779.4,207.9 1781.5,205.0 C1783.6,202.1 1785.7,198.3 1789.0,197.5 C1792.3,196.7 1796.5,199.6 1801.5,200.0 C1806.5,200.4 1812.8,200.8 1819.0,200.0 C1825.2,199.2 1832.3,197.1 1839.0,195.0 C1845.7,192.9 1852.8,190.4 1859.0,187.5 C1865.2,184.6 1870.7,180.8 1876.5,177.5 C1882.3,174.2 1889.0,170.4 1894.0,167.5 C1899.0,164.6 1904.4,171.9 1906.5,160.0 C1908.6,148.1 1908.1,107.5 1906.5,96.0 C1904.9,84.5 1900.6,92.8 1897.0,91.2 C1893.4,89.7 1890.0,88.1 1885.0,86.5 C1880.0,84.9 1872.8,83.1 1866.8,81.5 C1860.7,79.9 1854.6,78.6 1848.5,76.8 C1842.4,74.9 1835.3,72.8 1830.2,70.5 C1825.2,68.2 1822.3,65.9 1818.2,63.2 C1814.2,60.6 1809.8,57.0 1806.0,54.8 C1802.2,52.5 1797.0,52.0 1795.2,50.0 C1793.5,48.0 1798.9,43.8 1795.2,42.5 C1791.6,41.2 1776.9,41.2 1773.2,42.5Z" fill="#a3d3e6"/><path d="M1756.2,153.0 C1756.8,149.0 1758.0,147.2 1761.2,145.8 C1764.5,144.2 1771.3,143.6 1775.8,144.0 C1780.2,144.4 1785.8,145.7 1788.0,148.2 C1790.2,150.8 1789.2,155.4 1789.0,159.2 C1788.8,163.1 1787.8,167.4 1786.8,171.2 C1785.7,175.1 1784.9,179.8 1782.8,182.5 C1780.6,185.2 1777.1,187.5 1774.0,187.5 C1770.9,187.5 1766.7,185.4 1764.0,182.5 C1761.3,179.6 1759.0,174.9 1757.8,170.0 C1756.5,165.1 1755.7,157.0 1756.2,153.0Z" fill="#c9e8f2"/><path d="M1763.8,101.0 C1764.2,95.9 1766.1,85.7 1768.5,80.2 C1770.9,74.8 1774.0,71.2 1778.2,68.2 C1782.5,65.2 1788.8,62.7 1794.0,62.2 C1799.2,61.8 1805.7,63.8 1809.8,65.8 C1813.8,67.8 1816.6,71.8 1818.2,74.2 C1819.9,76.7 1820.9,78.8 1819.5,80.2 C1818.1,81.7 1812.6,80.7 1809.8,82.8 C1806.9,84.8 1804.9,88.9 1802.5,92.5 C1800.1,96.1 1798.1,101.1 1795.2,104.5 C1792.4,107.9 1788.8,111.2 1785.5,113.0 C1782.2,114.8 1779.0,115.9 1775.8,115.5 C1772.5,115.1 1768.0,113.2 1766.0,110.8 C1764.0,108.3 1763.3,106.1 1763.8,101.0Z" fill="#7db4d5"/><path d="M1824.2,84.0 C1828.4,81.4 1840.4,87.0 1848.5,88.8 C1856.6,90.5 1866.3,92.7 1872.8,94.8 C1879.2,96.8 1883.6,98.0 1887.2,101.0 C1890.9,104.0 1893.1,108.4 1894.5,113.0 C1895.9,117.6 1896.1,123.5 1895.8,128.8 C1895.4,134.0 1894.0,140.0 1892.2,144.5 C1890.5,149.0 1888.7,152.9 1885.0,155.5 C1881.3,158.1 1875.3,159.6 1870.2,160.2 C1865.2,160.9 1859.8,160.8 1854.5,159.2 C1849.2,157.7 1843.2,154.2 1838.8,150.8 C1834.3,147.3 1830.4,142.8 1828.0,138.5 C1825.6,134.2 1825.0,130.9 1824.2,125.2 C1823.5,119.6 1823.8,111.4 1823.8,104.5 C1823.8,97.6 1820.1,86.6 1824.2,84.0Z" fill="#7db4d5"/><path d="M1727.2,161.5 C1727.7,159.3 1729.6,158.2 1731.0,158.0 C1732.4,157.8 1734.8,158.5 1735.8,160.2 C1736.8,162.0 1737.4,166.5 1737.0,168.8 C1736.6,171.0 1734.7,173.3 1733.2,173.8 C1731.8,174.2 1729.5,173.3 1728.5,171.2 C1727.5,169.2 1726.8,163.7 1727.2,161.5Z" fill="#7db4d5"/><path d="M1845.0,120.2 C1845.6,116.6 1848.4,113.0 1851.0,110.8 C1853.6,108.5 1857.1,107.2 1860.8,107.0 C1864.4,106.8 1869.5,107.7 1872.8,109.5 C1876.0,111.3 1878.8,114.2 1880.0,118.0 C1881.2,121.8 1880.8,128.9 1880.0,132.5 C1879.2,136.1 1877.5,138.0 1875.2,139.8 C1873.0,141.5 1870.0,142.8 1866.8,142.8 C1863.5,142.8 1859.0,141.5 1855.8,139.8 C1852.5,138.0 1849.0,135.8 1847.2,132.5 C1845.5,129.2 1844.4,123.9 1845.0,120.2Z" fill="#588cc0"/><g fill="none" stroke="#222" stroke-width="0.7" stroke-dasharray="1.5 2" stroke-opacity="0.8"><path d="M1529.0,42.5 C1490.9,43.8 1528.8,46.3 1529.0,50.0 C1529.2,53.7 1529.2,59.2 1530.0,64.5 C1530.8,69.8 1532.5,76.5 1533.8,81.5 C1535.0,86.5 1536.9,91.3 1537.5,94.8 C1538.1,98.2 1538.8,100.6 1537.5,102.2 C1536.2,103.9 1534.3,104.1 1530.0,104.5 C1525.7,104.9 1514.6,69.8 1511.5,104.5 C1508.4,139.2 1494.4,277.8 1511.5,312.5 C1528.6,347.2 1596.9,314.6 1614.0,312.5 C1631.1,310.4 1614.4,305.0 1614.0,300.0 C1613.6,295.0 1613.2,287.5 1611.5,282.5 C1609.8,277.5 1607.8,272.9 1604.0,270.0 C1600.2,267.1 1594.0,267.1 1589.0,265.0 C1584.0,262.9 1578.2,260.8 1574.0,257.5 C1569.8,254.2 1568.6,248.8 1564.0,245.0 C1559.4,241.2 1551.1,237.5 1546.5,235.0 C1541.9,232.5 1539.2,232.1 1536.5,230.0 C1533.8,227.9 1531.1,225.8 1530.2,222.5 C1529.4,219.2 1530.0,213.3 1531.5,210.0 C1533.0,206.7 1536.1,205.0 1539.0,202.5 C1541.9,200.0 1545.7,197.9 1549.0,195.0 C1552.3,192.1 1556.5,189.2 1559.0,185.0 C1561.5,180.8 1563.0,175.0 1564.0,170.0 C1565.0,165.0 1564.8,159.8 1565.2,155.0 C1565.7,150.2 1565.5,144.0 1566.5,141.0 C1567.5,138.0 1568.2,137.0 1571.2,137.2 C1574.3,137.5 1580.5,140.0 1584.8,142.2 C1589.0,144.5 1592.7,147.8 1596.8,150.8 C1600.8,153.8 1605.0,157.4 1609.0,160.2 C1613.0,163.1 1617.0,165.9 1621.0,167.8 C1625.0,169.6 1629.2,170.9 1633.2,171.2 C1637.3,171.6 1641.2,171.6 1645.2,170.0 C1649.3,168.4 1653.5,163.9 1657.5,161.5 C1661.5,159.1 1665.5,157.1 1669.5,155.5 C1673.5,153.9 1678.7,152.8 1681.8,151.8 C1684.8,150.8 1686.0,152.3 1687.8,149.5 C1689.5,146.7 1691.5,139.0 1692.5,135.0 C1693.5,131.0 1694.1,128.1 1693.8,125.2 C1693.4,122.4 1692.7,121.0 1690.2,118.0 C1687.8,115.0 1681.7,110.7 1679.2,107.0 C1676.8,103.3 1676.1,99.4 1675.8,96.0 C1675.4,92.6 1675.4,89.5 1677.0,86.5 C1678.6,83.5 1682.5,80.7 1685.2,78.0 C1688.0,75.3 1690.8,72.5 1693.8,70.5 C1696.7,68.5 1699.5,67.1 1703.0,65.8 C1706.5,64.4 1710.0,62.7 1715.0,62.2 C1720.0,61.8 1728.2,63.5 1733.2,63.2 C1738.3,63.0 1742.0,62.4 1745.5,61.0 C1749.0,59.6 1752.0,56.6 1754.0,54.8 C1756.0,52.9 1756.9,52.0 1757.5,50.0 C1758.1,48.0 1795.6,43.8 1757.5,42.5 C1719.4,41.2 1567.1,41.2 1529.0,42.5Z"/><path d="M1796.5,42.5 C1778.8,43.8 1797.4,47.8 1800.0,50.0 C1802.6,52.2 1808.2,54.0 1812.2,56.0 C1816.3,58.0 1820.2,60.2 1824.2,62.2 C1828.3,64.3 1831.5,66.7 1836.5,68.2 C1841.5,69.8 1848.5,70.8 1854.5,71.8 C1860.5,72.8 1866.7,73.6 1872.8,74.2 C1878.8,74.9 1885.4,75.5 1891.0,75.5 C1896.6,75.5 1903.9,79.8 1906.5,74.2 C1909.1,68.8 1924.8,47.8 1906.5,42.5 C1888.2,37.2 1814.2,41.2 1796.5,42.5Z"/><path d="M1694.0,312.5 C1671.9,311.2 1693.6,309.2 1694.0,305.0 C1694.4,300.8 1694.0,292.1 1696.5,287.5 C1699.0,282.9 1703.6,279.8 1709.0,277.5 C1714.4,275.2 1721.9,274.8 1729.0,273.8 C1736.1,272.7 1743.6,271.9 1751.5,271.2 C1759.4,270.6 1769.0,269.8 1776.5,270.0 C1784.0,270.2 1790.2,270.8 1796.5,272.5 C1802.8,274.2 1809.4,277.1 1814.0,280.0 C1818.6,282.9 1821.9,285.8 1824.0,290.0 C1826.1,294.2 1826.1,301.2 1826.5,305.0 C1826.9,308.8 1848.6,311.2 1826.5,312.5 C1804.4,313.8 1716.1,313.8 1694.0,312.5Z"/><path d="M1854.0,275.0 C1853.2,270.0 1855.7,267.5 1859.0,265.0 C1862.3,262.5 1869.0,260.8 1874.0,260.0 C1879.0,259.2 1883.6,259.2 1889.0,260.0 C1894.4,260.8 1903.6,256.2 1906.5,265.0 C1909.4,273.8 1911.9,304.6 1906.5,312.5 C1901.1,320.4 1881.1,315.4 1874.0,312.5 C1866.9,309.6 1867.3,301.2 1864.0,295.0 C1860.7,288.8 1854.8,280.0 1854.0,275.0Z"/><path d="M1550.8,42.5 C1524.7,43.8 1550.3,46.5 1550.8,50.0 C1551.2,53.5 1551.8,58.8 1553.2,63.2 C1554.7,67.7 1556.6,72.1 1559.2,76.8 C1561.9,81.4 1565.8,86.4 1569.0,91.2 C1572.2,96.1 1575.9,101.9 1578.8,105.8 C1581.6,109.6 1582.0,112.2 1586.0,114.2 C1590.0,116.3 1597.8,116.8 1603.0,118.0 C1608.2,119.2 1612.5,120.1 1617.5,121.5 C1622.5,122.9 1628.6,125.7 1633.2,126.5 C1637.9,127.3 1641.6,127.5 1645.2,126.5 C1648.9,125.5 1652.3,122.9 1655.0,120.2 C1657.7,117.6 1659.8,114.0 1661.2,110.8 C1662.7,107.5 1662.5,104.2 1663.5,101.0 C1664.5,97.8 1665.2,94.7 1667.2,91.2 C1669.3,87.8 1672.3,84.1 1675.8,80.2 C1679.2,76.4 1683.7,72.1 1687.8,68.2 C1691.8,64.4 1696.8,60.3 1700.0,57.2 C1703.2,54.2 1706.0,52.5 1707.2,50.0 C1708.5,47.5 1733.3,43.8 1707.2,42.5 C1681.2,41.2 1576.8,41.2 1550.8,42.5Z"/><path d="M1834.0,42.5 C1822.3,43.8 1835.1,47.5 1836.5,50.0 C1837.9,52.5 1839.5,55.2 1842.5,57.2 C1845.5,59.3 1849.5,61.0 1854.5,62.2 C1859.5,63.5 1866.7,64.3 1872.8,64.5 C1878.8,64.7 1885.4,63.8 1891.0,63.2 C1896.6,62.7 1903.9,64.5 1906.5,61.0 C1909.1,57.5 1918.6,45.6 1906.5,42.5 C1894.4,39.4 1845.7,41.2 1834.0,42.5Z"/><path d="M1734.0,312.5 C1721.9,311.2 1732.3,309.2 1734.0,305.0 C1735.7,300.8 1739.0,291.2 1744.0,287.5 C1749.0,283.8 1757.3,283.3 1764.0,282.5 C1770.7,281.7 1778.2,281.7 1784.0,282.5 C1789.8,283.3 1795.2,283.8 1799.0,287.5 C1802.8,291.2 1805.2,300.8 1806.5,305.0 C1807.8,309.2 1818.6,311.2 1806.5,312.5 C1794.4,313.8 1746.1,313.8 1734.0,312.5Z"/><path d="M1511.5,245.0 C1512.7,235.4 1515.6,244.6 1518.5,245.0 C1521.4,245.4 1526.0,245.4 1529.0,247.5 C1532.0,249.6 1534.8,252.9 1536.5,257.5 C1538.2,262.1 1539.0,269.6 1539.0,275.0 C1539.0,280.4 1538.2,285.8 1536.5,290.0 C1534.8,294.2 1532.0,297.9 1529.0,300.0 C1526.0,302.1 1521.4,302.1 1518.5,302.5 C1515.6,302.9 1512.7,312.1 1511.5,302.5 C1510.3,292.9 1510.3,254.6 1511.5,245.0Z"/><path d="M1561.8,42.5 C1539.1,43.8 1561.4,46.7 1561.8,50.0 C1562.1,53.3 1562.6,58.2 1564.0,62.2 C1565.4,66.3 1567.8,70.2 1570.2,74.2 C1572.7,78.3 1576.1,82.9 1578.8,86.5 C1581.4,90.1 1583.0,93.8 1586.0,96.0 C1589.0,98.2 1591.9,98.9 1596.8,99.8 C1601.6,100.6 1608.9,100.4 1615.0,101.0 C1621.1,101.6 1628.2,103.2 1633.2,103.2 C1638.3,103.2 1641.8,102.6 1645.2,101.0 C1648.7,99.4 1651.1,96.6 1653.8,93.8 C1656.4,90.9 1658.4,87.2 1661.2,84.0 C1664.1,80.8 1667.3,77.5 1670.8,74.2 C1674.2,71.0 1678.3,67.5 1681.8,64.5 C1685.2,61.5 1688.9,58.4 1691.5,56.0 C1694.1,53.6 1696.5,52.2 1697.5,50.0 C1698.5,47.8 1720.1,43.8 1697.5,42.5 C1674.9,41.2 1584.4,41.2 1561.8,42.5Z"/><path d="M1840.2,42.5 C1829.6,43.8 1840.1,48.0 1842.5,50.0 C1844.9,52.0 1849.5,53.5 1854.5,54.8 C1859.5,56.0 1866.7,57.0 1872.8,57.2 C1878.8,57.5 1885.4,56.6 1891.0,56.0 C1896.6,55.4 1903.9,56.0 1906.5,53.8 C1909.1,51.5 1917.5,44.4 1906.5,42.5 C1895.5,40.6 1850.9,41.2 1840.2,42.5Z"/><path d="M1744.0,312.5 C1735.7,311.2 1741.5,308.1 1744.0,305.0 C1746.5,301.9 1753.2,296.0 1759.0,293.8 C1764.8,291.5 1773.6,290.6 1779.0,291.2 C1784.4,291.9 1789.0,295.2 1791.5,297.5 C1794.0,299.8 1793.6,302.5 1794.0,305.0 C1794.4,307.5 1802.3,311.2 1794.0,312.5 C1785.7,313.8 1752.3,313.8 1744.0,312.5Z"/><path d="M1569.0,42.5 C1549.2,43.8 1568.4,46.9 1569.0,50.0 C1569.6,53.1 1570.5,57.0 1572.5,61.0 C1574.5,65.0 1578.0,70.4 1581.0,74.2 C1584.0,78.1 1587.1,81.8 1590.8,84.0 C1594.4,86.2 1598.0,86.7 1603.0,87.5 C1608.0,88.3 1615.0,88.3 1621.0,88.8 C1627.0,89.2 1634.6,90.4 1639.2,90.0 C1643.9,89.6 1646.0,88.3 1649.0,86.5 C1652.0,84.7 1654.5,81.8 1657.5,79.0 C1660.5,76.2 1663.8,72.7 1667.2,69.5 C1670.7,66.3 1674.6,63.0 1678.0,59.8 C1681.4,56.5 1686.1,52.9 1687.8,50.0 C1689.4,47.1 1707.5,43.8 1687.8,42.5 C1668.0,41.2 1588.8,41.2 1569.0,42.5Z"/><path d="M1844.0,42.5 C1835.5,43.8 1843.2,48.3 1846.0,50.0 C1848.8,51.7 1855.3,52.0 1860.8,52.5 C1866.2,53.0 1872.7,53.2 1878.8,53.0 C1884.8,52.8 1894.0,53.0 1897.0,51.2 C1900.0,49.5 1905.8,44.0 1897.0,42.5 C1888.2,41.0 1852.5,41.2 1844.0,42.5Z"/><path d="M1576.2,42.5 C1558.5,43.8 1575.5,46.7 1576.2,50.0 C1577.0,53.3 1578.6,58.6 1581.0,62.2 C1583.4,65.9 1587.1,69.1 1590.8,71.8 C1594.4,74.4 1598.0,76.8 1603.0,78.0 C1608.0,79.2 1615.4,78.7 1621.0,79.0 C1626.6,79.3 1632.1,80.5 1636.8,79.8 C1641.4,79.0 1644.9,76.6 1649.0,74.2 C1653.1,71.9 1657.2,68.6 1661.2,65.8 C1665.3,62.9 1669.6,59.9 1673.2,57.2 C1676.9,54.6 1681.4,52.5 1683.0,50.0 C1684.6,47.5 1700.8,43.8 1683.0,42.5 C1665.2,41.2 1594.0,41.2 1576.2,42.5Z"/><path d="M1586.0,42.5 C1571.2,43.8 1585.2,47.1 1586.0,50.0 C1586.8,52.9 1587.9,56.9 1590.8,59.8 C1593.6,62.6 1598.0,65.2 1603.0,67.0 C1608.0,68.8 1615.0,69.8 1621.0,70.5 C1627.0,71.2 1634.2,72.0 1639.2,71.2 C1644.3,70.5 1647.5,67.9 1651.5,65.8 C1655.5,63.6 1659.7,61.1 1663.5,58.5 C1667.3,55.9 1672.7,52.7 1674.5,50.0 C1676.3,47.3 1689.2,43.8 1674.5,42.5 C1659.8,41.2 1600.8,41.2 1586.0,42.5Z"/><path d="M1607.8,42.5 C1598.5,43.8 1606.5,47.8 1607.8,50.0 C1609.0,52.2 1611.8,54.2 1615.0,56.0 C1618.2,57.8 1623.2,60.0 1627.2,61.0 C1631.3,62.0 1635.2,62.9 1639.2,62.2 C1643.3,61.6 1647.5,59.3 1651.5,57.2 C1655.5,55.2 1661.5,52.5 1663.5,50.0 C1665.5,47.5 1672.8,43.8 1663.5,42.5 C1654.2,41.2 1617.0,41.2 1607.8,42.5Z"/><path d="M1749.0,42.5 C1740.3,43.8 1755.7,47.5 1757.5,50.0 C1759.3,52.5 1760.4,54.2 1760.0,57.2 C1759.6,60.3 1757.7,65.4 1755.2,68.2 C1752.8,71.1 1749.2,72.6 1745.5,74.2 C1741.8,75.9 1737.3,77.6 1733.2,78.0 C1729.2,78.4 1725.3,77.6 1721.2,76.8 C1717.2,75.9 1712.7,73.3 1709.0,73.0 C1705.3,72.7 1702.3,73.4 1699.0,75.0 C1695.7,76.6 1691.9,80.0 1689.0,82.5 C1686.1,85.0 1683.4,87.1 1681.5,90.0 C1679.6,92.9 1677.8,96.7 1677.8,100.0 C1677.8,103.3 1679.2,107.1 1681.5,110.0 C1683.8,112.9 1688.6,115.0 1691.5,117.5 C1694.4,120.0 1697.3,122.1 1699.0,125.0 C1700.7,127.9 1701.5,131.2 1701.5,135.0 C1701.5,138.8 1700.2,143.3 1699.0,147.5 C1697.8,151.7 1696.5,156.2 1694.0,160.0 C1691.5,163.8 1686.7,166.7 1684.0,170.0 C1681.3,173.3 1679.0,176.7 1677.8,180.0 C1676.5,183.3 1675.9,186.7 1676.5,190.0 C1677.1,193.3 1679.4,196.2 1681.5,200.0 C1683.6,203.8 1686.5,208.3 1689.0,212.5 C1691.5,216.7 1694.0,220.8 1696.5,225.0 C1699.0,229.2 1701.1,233.3 1704.0,237.5 C1706.9,241.7 1709.8,246.7 1714.0,250.0 C1718.2,253.3 1723.2,255.6 1729.0,257.5 C1734.8,259.4 1742.3,260.4 1749.0,261.2 C1755.7,262.1 1764.0,262.7 1769.0,262.5 C1774.0,262.3 1775.7,262.1 1779.0,260.0 C1782.3,257.9 1785.2,252.9 1789.0,250.0 C1792.8,247.1 1796.5,245.0 1801.5,242.5 C1806.5,240.0 1812.8,237.1 1819.0,235.0 C1825.2,232.9 1833.2,231.2 1839.0,230.0 C1844.8,228.8 1849.0,228.3 1854.0,227.5 C1859.0,226.7 1864.0,226.2 1869.0,225.0 C1874.0,223.8 1879.8,222.1 1884.0,220.0 C1888.2,217.9 1890.2,215.0 1894.0,212.5 C1897.8,210.0 1904.4,226.8 1906.5,205.0 C1908.6,183.2 1908.1,102.3 1906.5,81.5 C1904.9,60.7 1901.6,80.8 1897.0,80.2 C1892.4,79.7 1884.8,79.0 1878.8,78.0 C1872.7,77.0 1866.8,75.9 1860.8,74.2 C1854.7,72.6 1847.6,70.2 1842.5,68.2 C1837.4,66.2 1834.1,64.5 1830.2,62.2 C1826.4,60.0 1822.9,56.8 1819.5,54.8 C1816.1,52.7 1811.4,52.0 1809.8,50.0 C1808.1,48.0 1819.9,43.8 1809.8,42.5 C1799.6,41.2 1757.7,41.2 1749.0,42.5Z"/><path d="M1604.0,210.0 C1604.6,207.1 1605.7,202.5 1609.0,200.0 C1612.3,197.5 1619.0,195.6 1624.0,195.0 C1629.0,194.4 1634.8,195.0 1639.0,196.2 C1643.2,197.5 1647.1,199.4 1649.0,202.5 C1650.9,205.6 1651.1,211.2 1650.2,215.0 C1649.4,218.8 1647.5,222.6 1644.0,225.0 C1640.5,227.4 1634.0,229.5 1629.0,229.5 C1624.0,229.5 1618.0,227.0 1614.0,225.0 C1610.0,223.0 1606.9,220.0 1605.2,217.5 C1603.6,215.0 1603.4,212.9 1604.0,210.0Z"/><path d="M1773.2,42.5 C1769.6,43.8 1773.6,47.5 1773.2,50.0 C1772.9,52.5 1772.2,54.2 1771.0,57.2 C1769.8,60.3 1768.0,64.4 1766.0,68.2 C1764.0,72.1 1761.6,76.4 1758.8,80.2 C1755.9,84.1 1752.6,87.8 1749.0,91.2 C1745.4,94.7 1740.6,99.0 1737.0,101.0 C1733.4,103.0 1729.9,103.7 1727.2,103.2 C1724.6,102.8 1723.7,100.9 1721.2,98.5 C1718.8,96.1 1715.8,90.8 1712.8,88.8 C1709.7,86.8 1705.3,86.7 1703.0,86.5 C1700.7,86.3 1699.5,85.9 1699.0,87.5 C1698.5,89.1 1698.2,93.5 1700.2,96.2 C1702.3,99.0 1708.0,101.7 1711.5,103.8 C1715.0,105.8 1719.4,106.5 1721.5,108.8 C1723.6,111.0 1724.4,113.5 1724.0,117.5 C1723.6,121.5 1721.1,127.5 1719.0,132.5 C1716.9,137.5 1713.0,142.5 1711.5,147.5 C1710.0,152.5 1709.8,157.1 1710.2,162.5 C1710.7,167.9 1712.1,174.2 1714.0,180.0 C1715.9,185.8 1719.0,192.5 1721.5,197.5 C1724.0,202.5 1726.1,206.2 1729.0,210.0 C1731.9,213.8 1735.2,216.7 1739.0,220.0 C1742.8,223.3 1747.8,227.3 1751.5,230.0 C1755.2,232.7 1758.6,235.8 1761.5,236.2 C1764.4,236.7 1766.5,236.0 1769.0,232.5 C1771.5,229.0 1774.4,219.6 1776.5,215.0 C1778.6,210.4 1779.4,207.9 1781.5,205.0 C1783.6,202.1 1785.7,198.3 1789.0,197.5 C1792.3,196.7 1796.5,199.6 1801.5,200.0 C1806.5,200.4 1812.8,200.8 1819.0,200.0 C1825.2,199.2 1832.3,197.1 1839.0,195.0 C1845.7,192.9 1852.8,190.4 1859.0,187.5 C1865.2,184.6 1870.7,180.8 1876.5,177.5 C1882.3,174.2 1889.0,170.4 1894.0,167.5 C1899.0,164.6 1904.4,171.9 1906.5,160.0 C1908.6,148.1 1908.1,107.5 1906.5,96.0 C1904.9,84.5 1900.6,92.8 1897.0,91.2 C1893.4,89.7 1890.0,88.1 1885.0,86.5 C1880.0,84.9 1872.8,83.1 1866.8,81.5 C1860.7,79.9 1854.6,78.6 1848.5,76.8 C1842.4,74.9 1835.3,72.8 1830.2,70.5 C1825.2,68.2 1822.3,65.9 1818.2,63.2 C1814.2,60.6 1809.8,57.0 1806.0,54.8 C1802.2,52.5 1797.0,52.0 1795.2,50.0 C1793.5,48.0 1798.9,43.8 1795.2,42.5 C1791.6,41.2 1776.9,41.2 1773.2,42.5Z"/><path d="M1756.2,153.0 C1756.8,149.0 1758.0,147.2 1761.2,145.8 C1764.5,144.2 1771.3,143.6 1775.8,144.0 C1780.2,144.4 1785.8,145.7 1788.0,148.2 C1790.2,150.8 1789.2,155.4 1789.0,159.2 C1788.8,163.1 1787.8,167.4 1786.8,171.2 C1785.7,175.1 1784.9,179.8 1782.8,182.5 C1780.6,185.2 1777.1,187.5 1774.0,187.5 C1770.9,187.5 1766.7,185.4 1764.0,182.5 C1761.3,179.6 1759.0,174.9 1757.8,170.0 C1756.5,165.1 1755.7,157.0 1756.2,153.0Z"/><path d="M1763.8,101.0 C1764.2,95.9 1766.1,85.7 1768.5,80.2 C1770.9,74.8 1774.0,71.2 1778.2,68.2 C1782.5,65.2 1788.8,62.7 1794.0,62.2 C1799.2,61.8 1805.7,63.8 1809.8,65.8 C1813.8,67.8 1816.6,71.8 1818.2,74.2 C1819.9,76.7 1820.9,78.8 1819.5,80.2 C1818.1,81.7 1812.6,80.7 1809.8,82.8 C1806.9,84.8 1804.9,88.9 1802.5,92.5 C1800.1,96.1 1798.1,101.1 1795.2,104.5 C1792.4,107.9 1788.8,111.2 1785.5,113.0 C1782.2,114.8 1779.0,115.9 1775.8,115.5 C1772.5,115.1 1768.0,113.2 1766.0,110.8 C1764.0,108.3 1763.3,106.1 1763.8,101.0Z"/><path d="M1824.2,84.0 C1828.4,81.4 1840.4,87.0 1848.5,88.8 C1856.6,90.5 1866.3,92.7 1872.8,94.8 C1879.2,96.8 1883.6,98.0 1887.2,101.0 C1890.9,104.0 1893.1,108.4 1894.5,113.0 C1895.9,117.6 1896.1,123.5 1895.8,128.8 C1895.4,134.0 1894.0,140.0 1892.2,144.5 C1890.5,149.0 1888.7,152.9 1885.0,155.5 C1881.3,158.1 1875.3,159.6 1870.2,160.2 C1865.2,160.9 1859.8,160.8 1854.5,159.2 C1849.2,157.7 1843.2,154.2 1838.8,150.8 C1834.3,147.3 1830.4,142.8 1828.0,138.5 C1825.6,134.2 1825.0,130.9 1824.2,125.2 C1823.5,119.6 1823.8,111.4 1823.8,104.5 C1823.8,97.6 1820.1,86.6 1824.2,84.0Z"/><path d="M1727.2,161.5 C1727.7,159.3 1729.6,158.2 1731.0,158.0 C1732.4,157.8 1734.8,158.5 1735.8,160.2 C1736.8,162.0 1737.4,166.5 1737.0,168.8 C1736.6,171.0 1734.7,173.3 1733.2,173.8 C1731.8,174.2 1729.5,173.3 1728.5,171.2 C1727.5,169.2 1726.8,163.7 1727.2,161.5Z"/><path d="M1845.0,120.2 C1845.6,116.6 1848.4,113.0 1851.0,110.8 C1853.6,108.5 1857.1,107.2 1860.8,107.0 C1864.4,106.8 1869.5,107.7 1872.8,109.5 C1876.0,111.3 1878.8,114.2 1880.0,118.0 C1881.2,121.8 1880.8,128.9 1880.0,132.5 C1879.2,136.1 1877.5,138.0 1875.2,139.8 C1873.0,141.5 1870.0,142.8 1866.8,142.8 C1863.5,142.8 1859.0,141.5 1855.8,139.8 C1852.5,138.0 1849.0,135.8 1847.2,132.5 C1845.5,129.2 1844.4,123.9 1845.0,120.2Z"/></g><g font-size="8.4" fill="#000" text-anchor="middle"><text x="1530.2" y="74.0" transform="rotate(-60 1530.2 71.2)">0</text><text x="1622.8" y="62.3" transform="rotate(0 1622.8 59.5)">6</text><text x="1606.5" y="70.8" transform="rotate(0 1606.5 68.0)">5</text><text x="1597.8" y="80.3" transform="rotate(0 1597.8 77.5)">4</text><text x="1591.0" y="89.8" transform="rotate(0 1591.0 87.0)">3</text><text x="1583.5" y="99.0" transform="rotate(-20 1583.5 96.2)">2</text><text x="1577.0" y="112.3" transform="rotate(-30 1577.0 109.5)">1</text><text x="1802.8" y="94.0" transform="rotate(-60 1802.8 91.2)">-3</text><text x="1889.0" y="110.3" transform="rotate(-60 1889.0 107.5)">-3</text><text x="1880.2" y="131.6" transform="rotate(-60 1880.2 128.8)">-4</text><text x="1824.0" y="69.0" transform="rotate(-40 1824.0 66.2)">-2</text><text x="1840.2" y="65.3" transform="rotate(-60 1840.2 62.5)">-1</text><text x="1734.0" y="172.8" transform="rotate(-60 1734.0 170.0)">-3</text><text x="1756.5" y="176.6" transform="rotate(-60 1756.5 173.8)">-2</text><text x="1787.8" y="200.8" transform="rotate(0 1787.8 198.0)">-2</text><text x="1647.8" y="219.1" transform="rotate(-60 1647.8 216.2)">-1</text><text x="1532.8" y="211.6" transform="rotate(-60 1532.8 208.8)">0</text><text x="1775.2" y="264.1" transform="rotate(0 1775.2 261.2)">-1</text><text x="1790.2" y="275.3" transform="rotate(0 1790.2 272.5)">0</text><text x="1777.8" y="285.3" transform="rotate(0 1777.8 282.5)">1</text><text x="1777.8" y="293.3" transform="rotate(0 1777.8 290.5)">2</text><text x="1874.0" y="262.8" transform="rotate(0 1874.0 260.0)">0</text></g><path d="M1517.4,310.1 L1517.4,314.4 L1518.2,266.8 L1519.0,266.8 L1519.3,269.0 L1519.7,260.6 L1520.1,269.0 L1520.8,272.0 L1521.2,264.8 L1521.6,272.0 L1521.3,271.5 L1522.9,266.8 L1524.5,274.7 L1526.1,263.6 L1526.8,249.4 L1527.2,247.1 L1527.6,249.4 L1527.7,241.4 L1528.3,250.1 L1528.7,243.6 L1529.1,250.1 L1529.3,254.1 L1530.9,249.3 L1531.3,242.0 L1531.7,240.9 L1532.1,242.0 L1532.4,233.5 L1532.8,240.8 L1533.2,228.0 L1533.6,240.8 L1534.0,247.8 L1534.3,246.0 L1534.7,242.2 L1535.1,246.0 L1535.6,241.4 L1537.3,224.4 L1537.7,219.0 L1538.1,224.4 L1538.0,220.8 L1539.6,228.7 L1540.3,214.3 L1540.7,209.5 L1541.1,214.3 L1541.2,206.5 L1542.0,176.4 L1543.1,195.4 L1543.3,193.2 L1543.7,188.7 L1544.1,193.2 L1544.7,187.5 L1545.9,182.7 L1547.5,193.8 L1547.8,187.2 L1548.2,185.3 L1548.6,187.2 L1548.8,179.6 L1549.3,170.2 L1549.7,167.1 L1550.1,170.2 L1549.9,166.9 L1551.0,158.9 L1550.8,158.9 L1551.2,155.8 L1551.6,158.9 L1552.3,152.6 L1553.5,160.5 L1554.6,162.1 L1555.3,171.7 L1555.7,166.6 L1556.1,171.7 L1555.8,171.6 L1557.0,178.0 L1556.8,179.7 L1557.2,175.8 L1557.6,179.7 L1558.3,185.9 L1558.3,187.0 L1558.7,180.9 L1559.1,187.0 L1559.8,188.3 L1560.2,184.4 L1560.6,188.3 L1560.2,187.5 L1561.8,195.4 L1562.8,200.4 L1563.2,187.7 L1563.6,200.4 L1563.4,200.2 L1564.3,206.2 L1564.7,198.6 L1565.1,206.2 L1565.0,206.5 L1565.8,219.4 L1566.2,215.9 L1566.6,219.4 L1566.5,222.4 L1567.8,211.3 L1568.9,201.8 L1569.7,235.1 L1570.3,240.6 L1570.7,239.8 L1571.1,240.6 L1571.0,241.4 L1572.1,247.8 L1571.8,249.1 L1572.2,242.2 L1572.6,249.1 L1573.7,260.4 L1575.3,270.0 L1576.8,260.4 L1578.4,273.1 L1579.3,269.0 L1579.7,266.4 L1580.1,269.0 L1580.0,266.8 L1581.6,277.9 L1582.3,257.5 L1582.7,240.0 L1583.1,257.5 L1582.7,255.7 L1583.7,298.5 L1585.6,304.8 L1587.2,292.2 L1588.0,287.4 L1588.7,298.5 L1590.3,305.6 L1602.2,305.6 L1603.0,282.6 L1604.0,305.6 L1622.1,305.6 L1622.8,300.1 L1623.6,305.6 L1635.5,305.6 L1636.3,282.6 L1637.9,289.0 L1638.9,281.3 L1639.3,271.3 L1639.7,281.3 L1639.5,279.5 L1640.4,273.6 L1640.8,271.0 L1641.2,273.6 L1641.1,271.5 L1641.9,281.0 L1642.3,273.5 L1642.7,281.0 L1642.7,282.6 L1643.5,254.1 L1643.4,256.3 L1643.8,254.8 L1644.2,256.3 L1645.0,260.4 L1644.9,256.8 L1645.3,254.1 L1645.7,256.8 L1645.8,247.8 L1646.4,238.7 L1646.8,237.0 L1647.2,238.7 L1647.1,235.1 L1647.4,200.2 L1648.1,243.0 L1647.9,246.0 L1648.3,242.2 L1648.7,246.0 L1649.0,250.9 L1650.6,266.8 L1652.2,274.7 L1653.8,277.9 L1653.9,277.6 L1654.3,269.2 L1654.7,277.6 L1655.4,274.7 L1656.9,271.5 L1658.5,225.5 L1659.3,250.9 L1660.1,274.7 L1661.7,270.0 L1661.4,271.2 L1661.8,260.0 L1662.2,271.2 L1663.3,276.3 L1662.9,277.0 L1663.3,273.0 L1663.7,277.0 L1664.9,271.5 L1666.5,266.8 L1667.4,274.4 L1667.8,268.2 L1668.2,274.4 L1668.0,274.7 L1668.9,278.1 L1669.3,275.1 L1669.7,278.1 L1669.6,277.9 L1671.2,209.7 L1672.0,270.0 L1671.9,273.3 L1672.3,267.9 L1672.7,273.3 L1672.8,276.3 L1674.4,263.6 L1676.0,250.9 L1677.2,235.1 L1677.9,217.3 L1678.3,213.8 L1678.7,217.3 L1678.4,216.0 L1679.4,180.1 L1679.8,179.0 L1680.2,180.1 L1679.9,176.4 L1681.5,187.5 L1682.6,211.3 L1683.6,228.7 L1685.5,250.9 L1687.1,254.1 L1686.9,252.7 L1687.3,250.6 L1687.7,252.7 L1688.3,243.0 L1689.0,203.3 L1689.6,155.8 L1690.3,124.0 L1689.9,123.1 L1690.3,121.1 L1690.7,123.1 L1690.9,109.4 L1691.5,124.0 L1692.2,155.8 L1692.8,219.2 L1692.9,253.6 L1693.3,245.1 L1693.7,253.6 L1693.4,258.9 L1695.0,266.8 L1695.9,293.9 L1696.3,289.3 L1696.7,293.9 L1696.6,298.5 L1699.0,305.6 L1702.1,305.6 L1702.6,250.9 L1702.9,214.4 L1703.4,250.9 L1703.9,305.6 L1710.5,305.6 L1712.9,298.5 L1714.5,305.6 L1718.5,305.6 L1719.3,277.9 L1720.9,282.6 L1721.6,279.5 L1723.2,285.8 L1723.4,284.5 L1723.8,282.8 L1724.2,284.5 L1724.0,282.6 L1726.4,289.0 L1728.0,292.2 L1727.9,292.1 L1728.3,288.4 L1728.7,292.1 L1729.6,287.4 L1730.8,282.6 L1732.0,265.2 L1732.7,270.0 L1732.4,270.7 L1732.8,264.4 L1733.2,270.7 L1733.5,266.8 L1735.1,271.5 L1736.7,266.8 L1736.9,264.4 L1737.3,263.4 L1737.7,264.4 L1737.8,260.4 L1738.4,258.1 L1738.8,249.0 L1739.2,258.1 L1738.8,257.3 L1739.7,266.8 L1739.9,270.3 L1740.3,269.4 L1740.7,270.3 L1740.7,271.5 L1741.4,284.3 L1741.8,283.2 L1742.2,284.3 L1742.3,289.0 L1743.9,305.6 L1745.1,292.2 L1746.2,298.5 L1747.0,305.6 L1750.2,300.1 L1751.1,305.6 L1756.5,305.6 L1757.3,300.1 L1758.4,302.4 L1758.8,301.5 L1759.2,302.4 L1758.9,301.7 L1760.5,296.9 L1762.1,294.5 L1763.2,305.6 L1856.5,305.6 L1857.3,277.9 L1858.0,292.2 L1858.8,305.6 L1860.4,292.2 L1861.5,305.6 L1878.7,305.6 L1879.5,292.2 L1880.3,287.4 L1880.6,291.0 L1881.0,289.5 L1881.4,291.0 L1881.0,290.6 L1881.8,292.2 L1882.1,289.9 L1882.5,284.6 L1882.9,289.9 L1883.4,284.2 L1885.0,289.0 L1886.6,296.9 L1886.6,296.3 L1887.0,295.4 L1887.4,296.3 L1888.2,290.6 L1889.8,295.3 L1890.6,298.5 L1891.4,279.5 L1891.1,279.4 L1891.5,271.3 L1891.9,279.4 L1892.1,273.1 L1892.9,263.6 L1893.7,250.9 L1894.5,219.2 L1895.3,178.0 L1896.1,219.2 L1896.9,270.0 L1897.1,257.5 L1897.5,255.1 L1897.9,257.5 L1897.7,250.9 L1898.5,235.1 L1898.6,223.8 L1899.0,222.4 L1899.4,223.8 L1899.6,206.5 L1900.9,187.5 L1901.7,195.4 L1901.6,199.2 L1902.0,192.8 L1902.4,199.2 L1902.5,203.3 L1903.1,204.1 L1903.5,201.1 L1903.9,204.1 L1904.6,204.1 L1905.0,202.3 L1905.4,204.1 L1905.6,203.3 L1905.6,314.4 L1905.6,310.1Z" fill="#000"/></g><rect x="1408.2" y="49.9" width="110.4" height="255.2" fill="#fff"/><clipPath id="lclip02"><rect x="1408.2" y="49.9" width="110.4" height="255.2"/></clipPath><path d="M1515.30,50.40 C1512.83,50.95 1504.62,52.13 1500.50,53.70 C1496.38,55.27 1494.32,57.75 1490.60,59.80 C1486.88,61.85 1483.15,64.13 1478.20,66.00 C1473.25,67.87 1465.23,69.15 1460.90,71.00 C1456.57,72.85 1454.67,74.22 1452.20,77.10 C1449.73,79.98 1448.37,84.78 1446.10,88.30 C1443.83,91.82 1440.47,95.12 1438.60,98.20 C1436.73,101.28 1435.30,103.30 1434.90,106.80 C1434.50,110.30 1434.97,114.05 1436.20,119.20 C1437.43,124.35 1442.10,132.77 1442.30,137.70 C1442.50,142.63 1438.75,145.08 1437.40,148.80 C1436.05,152.52 1433.58,155.87 1434.20,160.00 C1434.82,164.13 1440.77,169.48 1441.10,173.60 C1441.43,177.72 1437.52,181.00 1436.20,184.70 C1434.88,188.40 1433.42,191.88 1433.20,195.80 C1432.98,199.72 1434.90,204.48 1434.90,208.20 C1434.90,211.92 1432.78,213.57 1433.20,218.10 C1433.62,222.63 1435.88,230.88 1437.40,235.40 C1438.92,239.92 1439.20,242.32 1442.30,245.20 C1445.40,248.08 1452.28,249.60 1456.00,252.70 C1459.72,255.80 1463.78,260.72 1464.60,263.80 C1465.42,266.88 1462.75,268.73 1460.90,271.20 C1459.05,273.67 1452.67,276.33 1453.50,278.60 C1454.33,280.87 1460.75,282.53 1465.90,284.80 C1471.05,287.07 1480.08,288.90 1484.40,292.20 C1488.72,295.50 1490.57,302.53 1491.80,304.60" fill="none" stroke="#d92a48" stroke-width="2.7" stroke-linejoin="round" stroke-linecap="round" clip-path="url(#lclip02)"/><path d="M1408.2,49.9 H1902.5 V305.1 H1408.2 Z M1518.6,49.9 V305.1" fill="none" stroke="#2b2b2b" stroke-width="1.7"/><line x1="1405.0" y1="49.9" x2="1408.2" y2="49.9" stroke="#2b2b2b" stroke-width="1.2"/><text x="1398.4" y="55.4" font-size="18.5" text-anchor="end">1000</text><line x1="1405.0" y1="81.8" x2="1408.2" y2="81.8" stroke="#2b2b2b" stroke-width="1.2"/><text x="1398.4" y="87.3" font-size="18.5" text-anchor="end">1500</text><line x1="1405.0" y1="113.7" x2="1408.2" y2="113.7" stroke="#2b2b2b" stroke-width="1.2"/><text x="1398.4" y="119.2" font-size="18.5" text-anchor="end">2000</text><line x1="1405.0" y1="145.6" x2="1408.2" y2="145.6" stroke="#2b2b2b" stroke-width="1.2"/><text x="1398.4" y="151.1" font-size="18.5" text-anchor="end">2500</text><line x1="1405.0" y1="177.5" x2="1408.2" y2="177.5" stroke="#2b2b2b" stroke-width="1.2"/><text x="1398.4" y="183.0" font-size="18.5" text-anchor="end">3000</text><line x1="1405.0" y1="209.4" x2="1408.2" y2="209.4" stroke="#2b2b2b" stroke-width="1.2"/><text x="1398.4" y="214.9" font-size="18.5" text-anchor="end">3500</text><line x1="1405.0" y1="241.3" x2="1408.2" y2="241.3" stroke="#2b2b2b" stroke-width="1.2"/><text x="1398.4" y="246.8" font-size="18.5" text-anchor="end">4000</text><line x1="1405.0" y1="273.2" x2="1408.2" y2="273.2" stroke="#2b2b2b" stroke-width="1.2"/><text x="1398.4" y="278.7" font-size="18.5" text-anchor="end">4500</text><line x1="1405.0" y1="305.1" x2="1408.2" y2="305.1" stroke="#2b2b2b" stroke-width="1.2"/><text x="1398.4" y="310.6" font-size="18.5" text-anchor="end">5000</text><line x1="1413.5" y1="305.1" x2="1413.5" y2="308.3" stroke="#2b2b2b" stroke-width="1.2"/><text x="1408.7" y="328.6" font-size="18.5" text-anchor="middle">-18</text><line x1="1463.3" y1="305.1" x2="1463.3" y2="308.3" stroke="#2b2b2b" stroke-width="1.2"/><text x="1463.3" y="328.6" font-size="18.5" text-anchor="middle">0</text><line x1="1513.1" y1="305.1" x2="1513.1" y2="308.3" stroke="#2b2b2b" stroke-width="1.2"/><text x="1514.5" y="328.6" font-size="18.5" text-anchor="middle">18</text><line x1="1549.5" y1="305.1" x2="1549.5" y2="308.3" stroke="#2b2b2b" stroke-width="1.2"/><text x="1556.5" y="328.6" font-size="18.5" text-anchor="middle">60°S</text><line x1="1610.1" y1="305.1" x2="1610.1" y2="308.3" stroke="#2b2b2b" stroke-width="1.2"/><text x="1617.4" y="328.6" font-size="18.5" text-anchor="middle">40°S</text><line x1="1670.4" y1="305.1" x2="1670.4" y2="308.3" stroke="#2b2b2b" stroke-width="1.2"/><text x="1678.3" y="328.6" font-size="18.5" text-anchor="middle">20°S</text><line x1="1733.2" y1="305.1" x2="1733.2" y2="308.3" stroke="#2b2b2b" stroke-width="1.2"/><text x="1738.0" y="328.6" font-size="18.5" text-anchor="middle">EQ</text><line x1="1794.1" y1="305.1" x2="1794.1" y2="308.3" stroke="#2b2b2b" stroke-width="1.2"/><text x="1797.5" y="328.6" font-size="18.5" text-anchor="middle">20°N</text><line x1="1855.5" y1="305.1" x2="1855.5" y2="308.3" stroke="#2b2b2b" stroke-width="1.2"/><text x="1859.2" y="328.6" font-size="18.5" text-anchor="middle">40°N</text><text x="1462.6" y="356.4" font-size="21" text-anchor="middle">RG (%)</text><text x="1686.1" y="356.0" font-size="21" text-anchor="middle">Latitude</text><text x="0" y="0" font-size="21" text-anchor="middle" transform="translate(1348.2,157.9) rotate(-90)">Depth (m)</text><text x="1353.3" y="69.6" font-size="35" text-anchor="end">(c)</text><linearGradient id="cbg02" x1="0" y1="0" x2="0" y2="1"><stop offset="0.000" stop-color="#a50026"/><stop offset="0.025" stop-color="#b10b26"/><stop offset="0.050" stop-color="#bd1726"/><stop offset="0.075" stop-color="#ca2427"/><stop offset="0.100" stop-color="#d62f27"/><stop offset="0.125" stop-color="#dd3d2d"/><stop offset="0.150" stop-color="#e54e35"/><stop offset="0.175" stop-color="#ec5c3b"/><stop offset="0.200" stop-color="#f46d43"/><stop offset="0.225" stop-color="#f67c4a"/><stop offset="0.250" stop-color="#f88c51"/><stop offset="0.275" stop-color="#fb9d59"/><stop offset="0.300" stop-color="#fdad60"/><stop offset="0.325" stop-color="#fdbb6d"/><stop offset="0.350" stop-color="#fdc778"/><stop offset="0.375" stop-color="#fed283"/><stop offset="0.400" stop-color="#fee090"/><stop offset="0.425" stop-color="#fee79b"/><stop offset="0.450" stop-color="#fff0a8"/><stop offset="0.475" stop-color="#fff7b3"/><stop offset="0.500" stop-color="#fffebe"/><stop offset="0.525" stop-color="#f7fcce"/><stop offset="0.550" stop-color="#f0f9db"/><stop offset="0.575" stop-color="#e7f6eb"/><stop offset="0.600" stop-color="#e0f3f8"/><stop offset="0.625" stop-color="#d4edf4"/><stop offset="0.650" stop-color="#c5e6f0"/><stop offset="0.675" stop-color="#b9e0ed"/><stop offset="0.700" stop-color="#aad8e9"/><stop offset="0.725" stop-color="#9dcee3"/><stop offset="0.750" stop-color="#90c3dd"/><stop offset="0.775" stop-color="#81b7d7"/><stop offset="0.800" stop-color="#74add1"/><stop offset="0.825" stop-color="#679ec9"/><stop offset="0.850" stop-color="#5c90c2"/><stop offset="0.875" stop-color="#5183bb"/><stop offset="0.900" stop-color="#4574b3"/><stop offset="0.925" stop-color="#4065ac"/><stop offset="0.950" stop-color="#3a54a4"/><stop offset="0.975" stop-color="#36459c"/><stop offset="1.000" stop-color="#313695"/></linearGradient><rect x="1906.4" y="49.9" width="8.2" height="255.2" fill="url(#cbg02)" stroke="#2b2b2b" stroke-width="0.9"/><line x1="1914.6" y1="68.6" x2="1917.1" y2="68.6" stroke="#2b2b2b" stroke-width="1"/><text x="1920.6" y="73.6" font-size="18.5" text-anchor="start">6</text><line x1="1914.6" y1="104.9" x2="1917.1" y2="104.9" stroke="#2b2b2b" stroke-width="1"/><text x="1920.6" y="109.9" font-size="18.5" text-anchor="start">4</text><line x1="1914.6" y1="141.2" x2="1917.1" y2="141.2" stroke="#2b2b2b" stroke-width="1"/><text x="1920.6" y="146.2" font-size="18.5" text-anchor="start">2</text><line x1="1914.6" y1="177.5" x2="1917.1" y2="177.5" stroke="#2b2b2b" stroke-width="1"/><text x="1920.6" y="182.5" font-size="18.5" text-anchor="start">0</text><line x1="1914.6" y1="213.8" x2="1917.1" y2="213.8" stroke="#2b2b2b" stroke-width="1"/><text x="1920.6" y="218.8" font-size="18.5" text-anchor="start">-2</text><line x1="1914.6" y1="250.1" x2="1917.1" y2="250.1" stroke="#2b2b2b" stroke-width="1"/><text x="1920.6" y="255.1" font-size="18.5" text-anchor="start">-4</text><line x1="1914.6" y1="286.4" x2="1917.1" y2="286.4" stroke="#2b2b2b" stroke-width="1"/><text x="1920.6" y="291.4" font-size="18.5" text-anchor="start">-6</text><text x="1920.4" y="36.9" font-size="13.4">×10<tspan font-size="9.6" dy="-4">-4</tspan></text><clipPath id="clip10"><rect x="203.9" y="406.9" width="384.3" height="255.6"/></clipPath><g clip-path="url(#clip10)"><rect x="203.9" y="406.9" width="384.3" height="255.60000000000002" fill="#eff9dd"/><path d="M196.5,399.5 C201.9,397.0 224.0,397.8 229.0,399.5 C234.0,401.2 228.2,407.2 226.5,409.5 C224.8,411.8 221.9,412.4 219.0,413.2 C216.1,414.1 212.8,414.3 209.0,414.5 C205.2,414.7 198.6,417.0 196.5,414.5 C194.4,412.0 191.1,402.0 196.5,399.5Z" fill="#fffebe"/><path d="M196.5,444.5 C198.6,441.0 205.2,445.3 209.0,447.0 C212.8,448.7 216.9,452.0 219.0,454.5 C221.1,457.0 221.9,459.9 221.5,462.0 C221.1,464.1 219.0,466.0 216.5,467.0 C214.0,468.0 209.8,468.0 206.5,468.2 C203.2,468.5 198.2,472.2 196.5,468.2 C194.8,464.3 194.4,448.0 196.5,444.5Z" fill="#fffebe"/><path d="M270.2,492.0 C270.5,488.9 271.3,485.3 274.0,482.0 C276.7,478.7 281.9,475.3 286.5,472.0 C291.1,468.7 297.3,465.1 301.5,462.0 C305.7,458.9 308.2,454.9 311.5,453.2 C314.8,451.6 318.8,451.0 321.5,452.0 C324.2,453.0 326.5,456.2 327.8,459.5 C329.0,462.8 329.6,467.8 329.0,472.0 C328.4,476.2 326.5,480.8 324.0,484.5 C321.5,488.2 318.2,491.6 314.0,494.5 C309.8,497.4 304.0,500.3 299.0,502.0 C294.0,503.7 288.4,504.7 284.0,504.5 C279.6,504.3 275.0,502.8 272.8,500.8 C270.5,498.7 270.0,495.1 270.2,492.0Z" fill="#fffebe"/><path d="M196.5,507.0 C198.6,496.6 204.8,507.8 209.0,509.5 C213.2,511.2 217.8,513.7 221.5,517.0 C225.2,520.3 228.6,524.9 231.5,529.5 C234.4,534.1 237.3,539.9 239.0,544.5 C240.7,549.1 241.9,553.2 241.5,557.0 C241.1,560.8 239.4,564.9 236.5,567.0 C233.6,569.1 228.2,568.7 224.0,569.5 C219.8,570.3 216.1,571.6 211.5,572.0 C206.9,572.4 199.0,582.8 196.5,572.0 C194.0,561.2 194.4,517.4 196.5,507.0Z" fill="#fffebe"/><path d="M245.2,567.0 C246.8,563.2 250.0,561.6 254.0,559.5 C258.0,557.4 263.6,555.8 269.0,554.5 C274.4,553.2 281.9,552.0 286.5,552.0 C291.1,552.0 294.8,547.0 296.5,554.5 C298.2,562.0 299.4,590.5 296.5,597.0 C293.6,603.5 284.8,593.2 279.0,593.2 C273.2,593.2 266.7,597.2 261.5,597.0 C256.3,596.8 250.6,594.5 247.8,592.0 C244.9,589.5 244.9,586.2 244.5,582.0 C244.1,577.8 243.7,570.8 245.2,567.0Z" fill="#fffebe"/><path d="M319.0,557.0 C319.8,536.2 321.5,550.8 324.0,547.0 C326.5,543.2 330.7,539.5 334.0,534.5 C337.3,529.5 340.7,522.0 344.0,517.0 C347.3,512.0 350.2,507.1 354.0,504.5 C357.8,501.9 362.3,501.3 366.5,501.5 C370.7,501.7 375.7,503.6 379.0,505.8 C382.3,507.9 384.6,510.5 386.5,514.5 C388.4,518.5 389.4,523.7 390.2,529.5 C391.1,535.3 390.9,542.8 391.5,549.5 C392.1,556.2 392.3,563.9 394.0,569.5 C395.7,575.1 397.8,579.9 401.5,583.2 C405.2,586.6 411.9,588.9 416.5,589.5 C421.1,590.1 425.0,588.9 429.0,587.0 C433.0,585.1 436.7,582.2 440.2,578.2 C443.8,574.3 447.3,568.0 450.2,563.2 C453.2,558.5 456.3,554.3 457.8,549.5 C459.2,544.7 459.6,538.7 459.0,534.5 C458.4,530.3 456.9,527.2 454.0,524.5 C451.1,521.8 445.7,520.3 441.5,518.2 C437.3,516.2 432.3,514.3 429.0,512.0 C425.7,509.7 424.0,507.8 421.5,504.5 C419.0,501.2 416.9,495.3 414.0,492.0 C411.1,488.7 407.3,486.6 404.0,484.5 C400.7,482.4 396.3,481.6 394.0,479.5 C391.7,477.4 389.8,473.7 390.2,472.0 C390.7,470.3 393.0,469.3 396.5,469.5 C400.0,469.7 406.1,472.4 411.5,473.2 C416.9,474.1 423.6,474.3 429.0,474.5 C434.4,474.7 439.8,474.1 444.0,474.5 C448.2,474.9 451.1,474.9 454.0,477.0 C456.9,479.1 459.4,482.8 461.5,487.0 C463.6,491.2 464.4,497.8 466.5,502.0 C468.6,506.2 471.1,509.5 474.0,512.0 C476.9,514.5 480.7,517.0 484.0,517.0 C487.3,517.0 490.7,514.5 494.0,512.0 C497.3,509.5 501.1,505.3 504.0,502.0 C506.9,498.7 509.0,494.1 511.5,492.0 C514.0,489.9 515.7,489.9 519.0,489.5 C522.3,489.1 527.3,488.7 531.5,489.5 C535.7,490.3 540.7,492.0 544.0,494.5 C547.3,497.0 549.4,502.4 551.5,504.5 C553.6,506.6 554.4,507.4 556.5,507.0 C558.6,506.6 561.1,504.5 564.0,502.0 C566.9,499.5 571.1,495.3 574.0,492.0 C576.9,488.7 579.4,485.3 581.5,482.0 C583.6,478.7 584.4,475.3 586.5,472.0 C588.6,468.7 592.8,428.7 594.0,462.0 C595.2,495.3 639.8,637.0 594.0,672.0 C548.2,707.0 364.8,691.2 319.0,672.0 C273.2,652.8 318.2,577.8 319.0,557.0Z" fill="#fffebe"/><path d="M540.2,524.5 C541.9,521.0 545.9,521.0 549.0,520.8 C552.1,520.5 556.1,521.8 559.0,523.2 C561.9,524.7 565.7,525.5 566.5,529.5 C567.3,533.5 566.1,542.4 564.0,547.0 C561.9,551.6 557.3,555.8 554.0,557.0 C550.7,558.2 546.5,557.0 544.0,554.5 C541.5,552.0 539.6,547.0 539.0,542.0 C538.4,537.0 538.6,528.0 540.2,524.5Z" fill="#eff9dd"/><path d="M439.0,622.0 C439.8,618.5 441.7,618.5 444.0,618.2 C446.3,618.0 450.9,618.5 452.8,620.8 C454.6,623.0 455.5,628.5 455.2,632.0 C455.0,635.5 453.4,639.5 451.5,642.0 C449.6,644.5 446.1,647.4 444.0,647.0 C441.9,646.6 439.8,643.7 439.0,639.5 C438.2,635.3 438.2,625.5 439.0,622.0Z" fill="#eff9dd"/><path d="M444.0,672.0 C439.8,669.1 443.6,658.5 445.2,654.5 C446.9,650.5 450.9,649.5 454.0,648.2 C457.1,647.0 461.5,646.4 464.0,647.0 C466.5,647.6 468.0,647.8 469.0,652.0 C470.0,656.2 474.4,668.7 470.2,672.0 C466.1,675.3 448.2,674.9 444.0,672.0Z" fill="#eff9dd"/><path d="M330.2,567.0 C330.2,564.1 331.7,561.6 334.0,559.5 C336.3,557.4 340.7,555.1 344.0,554.5 C347.3,553.9 351.7,554.5 354.0,555.8 C356.3,557.0 357.8,559.3 357.8,562.0 C357.8,564.7 356.3,569.5 354.0,572.0 C351.7,574.5 347.3,576.2 344.0,577.0 C340.7,577.8 336.3,578.7 334.0,577.0 C331.7,575.3 330.2,569.9 330.2,567.0Z" fill="#feefa6"/><path d="M290.2,529.5 C290.5,528.1 291.9,525.9 294.0,525.0 C296.1,524.1 300.2,523.7 302.8,524.0 C305.2,524.3 308.2,525.5 309.0,527.0 C309.8,528.5 309.2,531.9 307.8,533.2 C306.3,534.6 302.8,535.0 300.2,535.0 C297.8,535.0 294.4,534.2 292.8,533.2 C291.1,532.3 290.0,530.9 290.2,529.5Z" fill="#def2f7"/><path d="M246.5,399.5 C188.2,400.8 246.3,404.9 246.5,407.0 C246.7,409.1 246.5,409.5 247.8,412.0 C249.0,414.5 250.9,419.9 254.0,422.0 C257.1,424.1 261.5,424.3 266.5,424.5 C271.5,424.7 277.8,422.8 284.0,423.2 C290.2,423.7 297.3,425.1 304.0,427.0 C310.7,428.9 318.2,432.0 324.0,434.5 C329.8,437.0 335.2,440.3 339.0,442.0 C342.8,443.7 344.0,444.9 346.5,444.5 C349.0,444.1 351.1,441.2 354.0,439.5 C356.9,437.8 359.8,434.9 364.0,434.5 C368.2,434.1 373.2,435.8 379.0,437.0 C384.8,438.2 392.8,440.3 399.0,442.0 C405.2,443.7 410.7,445.8 416.5,447.0 C422.3,448.2 427.8,448.9 434.0,449.5 C440.2,450.1 447.3,450.3 454.0,450.8 C460.7,451.2 467.8,451.6 474.0,452.0 C480.2,452.4 486.5,452.4 491.5,453.2 C496.5,454.1 499.8,455.1 504.0,457.0 C508.2,458.9 512.3,462.0 516.5,464.5 C520.7,467.0 524.8,469.9 529.0,472.0 C533.2,474.1 537.3,476.0 541.5,477.0 C545.7,478.0 549.8,479.1 554.0,478.2 C558.2,477.4 562.3,474.3 566.5,472.0 C570.7,469.7 575.2,466.6 579.0,464.5 C582.8,462.4 586.1,460.8 589.0,459.5 C591.9,458.2 595.2,467.0 596.5,457.0 C597.8,447.0 654.8,409.1 596.5,399.5 C538.2,389.9 304.8,398.2 246.5,399.5Z" fill="#def2f7"/><path d="M299.0,399.5 C249.4,400.8 298.2,405.1 299.0,407.0 C299.8,408.9 301.1,409.5 304.0,410.8 C306.9,412.0 311.5,413.5 316.5,414.5 C321.5,415.5 327.8,416.2 334.0,417.0 C340.2,417.8 347.3,418.5 354.0,419.5 C360.7,420.5 367.3,421.6 374.0,423.2 C380.7,424.9 387.3,427.8 394.0,429.5 C400.7,431.2 407.3,432.2 414.0,433.2 C420.7,434.3 427.3,434.9 434.0,435.8 C440.7,436.6 447.3,437.6 454.0,438.2 C460.7,438.9 467.8,438.9 474.0,439.5 C480.2,440.1 486.5,441.2 491.5,442.0 C496.5,442.8 499.4,443.2 504.0,444.5 C508.6,445.8 514.0,447.6 519.0,449.5 C524.0,451.4 529.0,453.9 534.0,455.8 C539.0,457.6 544.8,460.1 549.0,460.8 C553.2,461.4 555.7,461.0 559.0,459.5 C562.3,458.0 565.7,454.1 569.0,452.0 C572.3,449.9 575.7,448.0 579.0,447.0 C582.3,446.0 586.1,446.0 589.0,445.8 C591.9,445.5 595.2,453.5 596.5,445.8 C597.8,438.0 646.1,407.2 596.5,399.5 C546.9,391.8 348.6,398.2 299.0,399.5Z" fill="#c3e5f0"/><path d="M344.0,399.5 C301.9,400.8 342.3,405.1 344.0,407.0 C345.7,408.9 349.0,409.5 354.0,410.8 C359.0,412.0 367.3,413.0 374.0,414.5 C380.7,416.0 387.3,417.8 394.0,419.5 C400.7,421.2 407.3,423.0 414.0,424.5 C420.7,426.0 427.3,427.2 434.0,428.2 C440.7,429.3 447.3,429.9 454.0,430.8 C460.7,431.6 467.3,432.6 474.0,433.2 C480.7,433.9 488.2,433.9 494.0,434.5 C499.8,435.1 504.0,435.8 509.0,437.0 C514.0,438.2 519.0,440.3 524.0,442.0 C529.0,443.7 534.0,445.8 539.0,447.0 C544.0,448.2 549.4,449.9 554.0,449.5 C558.6,449.1 562.3,446.2 566.5,444.5 C570.7,442.8 575.2,440.5 579.0,439.5 C582.8,438.5 586.1,438.5 589.0,438.2 C591.9,438.0 595.2,444.7 596.5,438.2 C597.8,431.8 638.6,406.0 596.5,399.5 C554.4,393.0 386.1,398.2 344.0,399.5Z" fill="#a8d6e8"/><path d="M379.0,399.5 C342.8,400.8 377.8,405.3 379.0,407.0 C380.2,408.7 382.3,408.2 386.5,409.5 C390.7,410.8 397.8,412.8 404.0,414.5 C410.2,416.2 417.3,418.0 424.0,419.5 C430.7,421.0 437.3,422.1 444.0,423.2 C450.7,424.4 457.3,425.7 464.0,426.5 C470.7,427.3 477.3,427.5 484.0,428.2 C490.7,429.0 497.8,429.7 504.0,430.8 C510.2,431.8 516.1,433.2 521.5,434.5 C526.9,435.8 531.1,437.4 536.5,438.2 C541.9,439.1 549.0,439.9 554.0,439.5 C559.0,439.1 562.3,437.0 566.5,435.8 C570.7,434.5 574.0,432.8 579.0,432.0 C584.0,431.2 593.6,436.2 596.5,430.8 C599.4,425.3 632.8,404.7 596.5,399.5 C560.2,394.3 415.2,398.2 379.0,399.5Z" fill="#8abeda"/><path d="M394.0,399.5 C360.2,400.8 392.8,405.3 394.0,407.0 C395.2,408.7 397.8,408.5 401.5,409.5 C405.2,410.5 411.1,412.0 416.5,413.2 C421.9,414.5 427.8,415.8 434.0,417.0 C440.2,418.2 447.3,419.8 454.0,420.8 C460.7,421.7 467.3,422.0 474.0,422.5 C480.7,423.0 487.3,423.5 494.0,424.0 C500.7,424.5 508.2,425.0 514.0,425.8 C519.8,426.5 524.0,427.4 529.0,428.2 C534.0,429.1 539.0,430.3 544.0,430.8 C549.0,431.2 554.0,431.4 559.0,430.8 C564.0,430.1 567.8,428.0 574.0,427.0 C580.2,426.0 592.8,429.1 596.5,424.5 C600.2,419.9 630.2,403.7 596.5,399.5 C562.8,395.3 427.8,398.2 394.0,399.5Z" fill="#6ea6ce"/><path d="M404.0,399.5 C371.9,400.8 402.8,405.3 404.0,407.0 C405.2,408.7 407.8,408.6 411.5,409.5 C415.2,410.4 421.1,411.7 426.5,412.5 C431.9,413.3 437.8,413.8 444.0,414.5 C450.2,415.2 457.3,416.4 464.0,417.0 C470.7,417.6 477.3,417.8 484.0,418.2 C490.7,418.7 497.3,419.1 504.0,419.5 C510.7,419.9 517.8,420.2 524.0,420.8 C530.2,421.2 535.7,422.2 541.5,422.5 C547.3,422.8 553.2,423.0 559.0,422.5 C564.8,422.0 570.2,420.3 576.5,419.5 C582.8,418.7 593.2,420.8 596.5,417.5 C599.8,414.2 628.6,402.5 596.5,399.5 C564.4,396.5 436.1,398.2 404.0,399.5Z" fill="#578abf"/><path d="M409.0,399.5 C377.8,400.8 408.2,405.4 409.0,407.0 C409.8,408.6 410.7,408.2 414.0,409.0 C417.3,409.8 424.0,411.2 429.0,411.5 C434.0,411.8 438.2,410.6 444.0,410.8 C449.8,410.9 457.3,412.1 464.0,412.5 C470.7,412.9 477.3,413.0 484.0,413.2 C490.7,413.5 496.5,413.7 504.0,414.0 C511.5,414.3 520.7,414.8 529.0,415.0 C537.3,415.2 546.5,415.3 554.0,415.0 C561.5,414.7 566.9,414.0 574.0,413.2 C581.1,412.5 592.8,413.0 596.5,410.8 C600.2,408.5 627.8,401.4 596.5,399.5 C565.2,397.6 440.2,398.2 409.0,399.5Z" fill="#426cb0"/><path d="M411.5,399.5 C406.5,400.8 410.7,405.4 411.5,407.0 C412.3,408.6 414.4,408.4 416.5,409.0 C418.6,409.6 421.1,410.7 424.0,410.8 C426.9,410.8 431.1,410.1 434.0,409.5 C436.9,408.9 440.2,408.7 441.5,407.0 C442.8,405.3 446.5,400.8 441.5,399.5 C436.5,398.2 416.5,398.2 411.5,399.5Z" fill="#384ca0"/><g fill="none" stroke="#222" stroke-width="0.7" stroke-dasharray="1.5 2" stroke-opacity="0.8"><path d="M196.5,399.5 C201.9,397.0 224.0,397.8 229.0,399.5 C234.0,401.2 228.2,407.2 226.5,409.5 C224.8,411.8 221.9,412.4 219.0,413.2 C216.1,414.1 212.8,414.3 209.0,414.5 C205.2,414.7 198.6,417.0 196.5,414.5 C194.4,412.0 191.1,402.0 196.5,399.5Z"/><path d="M196.5,444.5 C198.6,441.0 205.2,445.3 209.0,447.0 C212.8,448.7 216.9,452.0 219.0,454.5 C221.1,457.0 221.9,459.9 221.5,462.0 C221.1,464.1 219.0,466.0 216.5,467.0 C214.0,468.0 209.8,468.0 206.5,468.2 C203.2,468.5 198.2,472.2 196.5,468.2 C194.8,464.3 194.4,448.0 196.5,444.5Z"/><path d="M270.2,492.0 C270.5,488.9 271.3,485.3 274.0,482.0 C276.7,478.7 281.9,475.3 286.5,472.0 C291.1,468.7 297.3,465.1 301.5,462.0 C305.7,458.9 308.2,454.9 311.5,453.2 C314.8,451.6 318.8,451.0 321.5,452.0 C324.2,453.0 326.5,456.2 327.8,459.5 C329.0,462.8 329.6,467.8 329.0,472.0 C328.4,476.2 326.5,480.8 324.0,484.5 C321.5,488.2 318.2,491.6 314.0,494.5 C309.8,497.4 304.0,500.3 299.0,502.0 C294.0,503.7 288.4,504.7 284.0,504.5 C279.6,504.3 275.0,502.8 272.8,500.8 C270.5,498.7 270.0,495.1 270.2,492.0Z"/><path d="M196.5,507.0 C198.6,496.6 204.8,507.8 209.0,509.5 C213.2,511.2 217.8,513.7 221.5,517.0 C225.2,520.3 228.6,524.9 231.5,529.5 C234.4,534.1 237.3,539.9 239.0,544.5 C240.7,549.1 241.9,553.2 241.5,557.0 C241.1,560.8 239.4,564.9 236.5,567.0 C233.6,569.1 228.2,568.7 224.0,569.5 C219.8,570.3 216.1,571.6 211.5,572.0 C206.9,572.4 199.0,582.8 196.5,572.0 C194.0,561.2 194.4,517.4 196.5,507.0Z"/><path d="M245.2,567.0 C246.8,563.2 250.0,561.6 254.0,559.5 C258.0,557.4 263.6,555.8 269.0,554.5 C274.4,553.2 281.9,552.0 286.5,552.0 C291.1,552.0 294.8,547.0 296.5,554.5 C298.2,562.0 299.4,590.5 296.5,597.0 C293.6,603.5 284.8,593.2 279.0,593.2 C273.2,593.2 266.7,597.2 261.5,597.0 C256.3,596.8 250.6,594.5 247.8,592.0 C244.9,589.5 244.9,586.2 244.5,582.0 C244.1,577.8 243.7,570.8 245.2,567.0Z"/><path d="M319.0,557.0 C319.8,536.2 321.5,550.8 324.0,547.0 C326.5,543.2 330.7,539.5 334.0,534.5 C337.3,529.5 340.7,522.0 344.0,517.0 C347.3,512.0 350.2,507.1 354.0,504.5 C357.8,501.9 362.3,501.3 366.5,501.5 C370.7,501.7 375.7,503.6 379.0,505.8 C382.3,507.9 384.6,510.5 386.5,514.5 C388.4,518.5 389.4,523.7 390.2,529.5 C391.1,535.3 390.9,542.8 391.5,549.5 C392.1,556.2 392.3,563.9 394.0,569.5 C395.7,575.1 397.8,579.9 401.5,583.2 C405.2,586.6 411.9,588.9 416.5,589.5 C421.1,590.1 425.0,588.9 429.0,587.0 C433.0,585.1 436.7,582.2 440.2,578.2 C443.8,574.3 447.3,568.0 450.2,563.2 C453.2,558.5 456.3,554.3 457.8,549.5 C459.2,544.7 459.6,538.7 459.0,534.5 C458.4,530.3 456.9,527.2 454.0,524.5 C451.1,521.8 445.7,520.3 441.5,518.2 C437.3,516.2 432.3,514.3 429.0,512.0 C425.7,509.7 424.0,507.8 421.5,504.5 C419.0,501.2 416.9,495.3 414.0,492.0 C411.1,488.7 407.3,486.6 404.0,484.5 C400.7,482.4 396.3,481.6 394.0,479.5 C391.7,477.4 389.8,473.7 390.2,472.0 C390.7,470.3 393.0,469.3 396.5,469.5 C400.0,469.7 406.1,472.4 411.5,473.2 C416.9,474.1 423.6,474.3 429.0,474.5 C434.4,474.7 439.8,474.1 444.0,474.5 C448.2,474.9 451.1,474.9 454.0,477.0 C456.9,479.1 459.4,482.8 461.5,487.0 C463.6,491.2 464.4,497.8 466.5,502.0 C468.6,506.2 471.1,509.5 474.0,512.0 C476.9,514.5 480.7,517.0 484.0,517.0 C487.3,517.0 490.7,514.5 494.0,512.0 C497.3,509.5 501.1,505.3 504.0,502.0 C506.9,498.7 509.0,494.1 511.5,492.0 C514.0,489.9 515.7,489.9 519.0,489.5 C522.3,489.1 527.3,488.7 531.5,489.5 C535.7,490.3 540.7,492.0 544.0,494.5 C547.3,497.0 549.4,502.4 551.5,504.5 C553.6,506.6 554.4,507.4 556.5,507.0 C558.6,506.6 561.1,504.5 564.0,502.0 C566.9,499.5 571.1,495.3 574.0,492.0 C576.9,488.7 579.4,485.3 581.5,482.0 C583.6,478.7 584.4,475.3 586.5,472.0 C588.6,468.7 592.8,428.7 594.0,462.0 C595.2,495.3 639.8,637.0 594.0,672.0 C548.2,707.0 364.8,691.2 319.0,672.0 C273.2,652.8 318.2,577.8 319.0,557.0Z"/><path d="M540.2,524.5 C541.9,521.0 545.9,521.0 549.0,520.8 C552.1,520.5 556.1,521.8 559.0,523.2 C561.9,524.7 565.7,525.5 566.5,529.5 C567.3,533.5 566.1,542.4 564.0,547.0 C561.9,551.6 557.3,555.8 554.0,557.0 C550.7,558.2 546.5,557.0 544.0,554.5 C541.5,552.0 539.6,547.0 539.0,542.0 C538.4,537.0 538.6,528.0 540.2,524.5Z"/><path d="M439.0,622.0 C439.8,618.5 441.7,618.5 444.0,618.2 C446.3,618.0 450.9,618.5 452.8,620.8 C454.6,623.0 455.5,628.5 455.2,632.0 C455.0,635.5 453.4,639.5 451.5,642.0 C449.6,644.5 446.1,647.4 444.0,647.0 C441.9,646.6 439.8,643.7 439.0,639.5 C438.2,635.3 438.2,625.5 439.0,622.0Z"/><path d="M444.0,672.0 C439.8,669.1 443.6,658.5 445.2,654.5 C446.9,650.5 450.9,649.5 454.0,648.2 C457.1,647.0 461.5,646.4 464.0,647.0 C466.5,647.6 468.0,647.8 469.0,652.0 C470.0,656.2 474.4,668.7 470.2,672.0 C466.1,675.3 448.2,674.9 444.0,672.0Z"/><path d="M330.2,567.0 C330.2,564.1 331.7,561.6 334.0,559.5 C336.3,557.4 340.7,555.1 344.0,554.5 C347.3,553.9 351.7,554.5 354.0,555.8 C356.3,557.0 357.8,559.3 357.8,562.0 C357.8,564.7 356.3,569.5 354.0,572.0 C351.7,574.5 347.3,576.2 344.0,577.0 C340.7,577.8 336.3,578.7 334.0,577.0 C331.7,575.3 330.2,569.9 330.2,567.0Z"/><path d="M290.2,529.5 C290.5,528.1 291.9,525.9 294.0,525.0 C296.1,524.1 300.2,523.7 302.8,524.0 C305.2,524.3 308.2,525.5 309.0,527.0 C309.8,528.5 309.2,531.9 307.8,533.2 C306.3,534.6 302.8,535.0 300.2,535.0 C297.8,535.0 294.4,534.2 292.8,533.2 C291.1,532.3 290.0,530.9 290.2,529.5Z"/><path d="M246.5,399.5 C188.2,400.8 246.3,404.9 246.5,407.0 C246.7,409.1 246.5,409.5 247.8,412.0 C249.0,414.5 250.9,419.9 254.0,422.0 C257.1,424.1 261.5,424.3 266.5,424.5 C271.5,424.7 277.8,422.8 284.0,423.2 C290.2,423.7 297.3,425.1 304.0,427.0 C310.7,428.9 318.2,432.0 324.0,434.5 C329.8,437.0 335.2,440.3 339.0,442.0 C342.8,443.7 344.0,444.9 346.5,444.5 C349.0,444.1 351.1,441.2 354.0,439.5 C356.9,437.8 359.8,434.9 364.0,434.5 C368.2,434.1 373.2,435.8 379.0,437.0 C384.8,438.2 392.8,440.3 399.0,442.0 C405.2,443.7 410.7,445.8 416.5,447.0 C422.3,448.2 427.8,448.9 434.0,449.5 C440.2,450.1 447.3,450.3 454.0,450.8 C460.7,451.2 467.8,451.6 474.0,452.0 C480.2,452.4 486.5,452.4 491.5,453.2 C496.5,454.1 499.8,455.1 504.0,457.0 C508.2,458.9 512.3,462.0 516.5,464.5 C520.7,467.0 524.8,469.9 529.0,472.0 C533.2,474.1 537.3,476.0 541.5,477.0 C545.7,478.0 549.8,479.1 554.0,478.2 C558.2,477.4 562.3,474.3 566.5,472.0 C570.7,469.7 575.2,466.6 579.0,464.5 C582.8,462.4 586.1,460.8 589.0,459.5 C591.9,458.2 595.2,467.0 596.5,457.0 C597.8,447.0 654.8,409.1 596.5,399.5 C538.2,389.9 304.8,398.2 246.5,399.5Z"/><path d="M299.0,399.5 C249.4,400.8 298.2,405.1 299.0,407.0 C299.8,408.9 301.1,409.5 304.0,410.8 C306.9,412.0 311.5,413.5 316.5,414.5 C321.5,415.5 327.8,416.2 334.0,417.0 C340.2,417.8 347.3,418.5 354.0,419.5 C360.7,420.5 367.3,421.6 374.0,423.2 C380.7,424.9 387.3,427.8 394.0,429.5 C400.7,431.2 407.3,432.2 414.0,433.2 C420.7,434.3 427.3,434.9 434.0,435.8 C440.7,436.6 447.3,437.6 454.0,438.2 C460.7,438.9 467.8,438.9 474.0,439.5 C480.2,440.1 486.5,441.2 491.5,442.0 C496.5,442.8 499.4,443.2 504.0,444.5 C508.6,445.8 514.0,447.6 519.0,449.5 C524.0,451.4 529.0,453.9 534.0,455.8 C539.0,457.6 544.8,460.1 549.0,460.8 C553.2,461.4 555.7,461.0 559.0,459.5 C562.3,458.0 565.7,454.1 569.0,452.0 C572.3,449.9 575.7,448.0 579.0,447.0 C582.3,446.0 586.1,446.0 589.0,445.8 C591.9,445.5 595.2,453.5 596.5,445.8 C597.8,438.0 646.1,407.2 596.5,399.5 C546.9,391.8 348.6,398.2 299.0,399.5Z"/><path d="M344.0,399.5 C301.9,400.8 342.3,405.1 344.0,407.0 C345.7,408.9 349.0,409.5 354.0,410.8 C359.0,412.0 367.3,413.0 374.0,414.5 C380.7,416.0 387.3,417.8 394.0,419.5 C400.7,421.2 407.3,423.0 414.0,424.5 C420.7,426.0 427.3,427.2 434.0,428.2 C440.7,429.3 447.3,429.9 454.0,430.8 C460.7,431.6 467.3,432.6 474.0,433.2 C480.7,433.9 488.2,433.9 494.0,434.5 C499.8,435.1 504.0,435.8 509.0,437.0 C514.0,438.2 519.0,440.3 524.0,442.0 C529.0,443.7 534.0,445.8 539.0,447.0 C544.0,448.2 549.4,449.9 554.0,449.5 C558.6,449.1 562.3,446.2 566.5,444.5 C570.7,442.8 575.2,440.5 579.0,439.5 C582.8,438.5 586.1,438.5 589.0,438.2 C591.9,438.0 595.2,444.7 596.5,438.2 C597.8,431.8 638.6,406.0 596.5,399.5 C554.4,393.0 386.1,398.2 344.0,399.5Z"/><path d="M379.0,399.5 C342.8,400.8 377.8,405.3 379.0,407.0 C380.2,408.7 382.3,408.2 386.5,409.5 C390.7,410.8 397.8,412.8 404.0,414.5 C410.2,416.2 417.3,418.0 424.0,419.5 C430.7,421.0 437.3,422.1 444.0,423.2 C450.7,424.4 457.3,425.7 464.0,426.5 C470.7,427.3 477.3,427.5 484.0,428.2 C490.7,429.0 497.8,429.7 504.0,430.8 C510.2,431.8 516.1,433.2 521.5,434.5 C526.9,435.8 531.1,437.4 536.5,438.2 C541.9,439.1 549.0,439.9 554.0,439.5 C559.0,439.1 562.3,437.0 566.5,435.8 C570.7,434.5 574.0,432.8 579.0,432.0 C584.0,431.2 593.6,436.2 596.5,430.8 C599.4,425.3 632.8,404.7 596.5,399.5 C560.2,394.3 415.2,398.2 379.0,399.5Z"/><path d="M394.0,399.5 C360.2,400.8 392.8,405.3 394.0,407.0 C395.2,408.7 397.8,408.5 401.5,409.5 C405.2,410.5 411.1,412.0 416.5,413.2 C421.9,414.5 427.8,415.8 434.0,417.0 C440.2,418.2 447.3,419.8 454.0,420.8 C460.7,421.7 467.3,422.0 474.0,422.5 C480.7,423.0 487.3,423.5 494.0,424.0 C500.7,424.5 508.2,425.0 514.0,425.8 C519.8,426.5 524.0,427.4 529.0,428.2 C534.0,429.1 539.0,430.3 544.0,430.8 C549.0,431.2 554.0,431.4 559.0,430.8 C564.0,430.1 567.8,428.0 574.0,427.0 C580.2,426.0 592.8,429.1 596.5,424.5 C600.2,419.9 630.2,403.7 596.5,399.5 C562.8,395.3 427.8,398.2 394.0,399.5Z"/><path d="M404.0,399.5 C371.9,400.8 402.8,405.3 404.0,407.0 C405.2,408.7 407.8,408.6 411.5,409.5 C415.2,410.4 421.1,411.7 426.5,412.5 C431.9,413.3 437.8,413.8 444.0,414.5 C450.2,415.2 457.3,416.4 464.0,417.0 C470.7,417.6 477.3,417.8 484.0,418.2 C490.7,418.7 497.3,419.1 504.0,419.5 C510.7,419.9 517.8,420.2 524.0,420.8 C530.2,421.2 535.7,422.2 541.5,422.5 C547.3,422.8 553.2,423.0 559.0,422.5 C564.8,422.0 570.2,420.3 576.5,419.5 C582.8,418.7 593.2,420.8 596.5,417.5 C599.8,414.2 628.6,402.5 596.5,399.5 C564.4,396.5 436.1,398.2 404.0,399.5Z"/><path d="M409.0,399.5 C377.8,400.8 408.2,405.4 409.0,407.0 C409.8,408.6 410.7,408.2 414.0,409.0 C417.3,409.8 424.0,411.2 429.0,411.5 C434.0,411.8 438.2,410.6 444.0,410.8 C449.8,410.9 457.3,412.1 464.0,412.5 C470.7,412.9 477.3,413.0 484.0,413.2 C490.7,413.5 496.5,413.7 504.0,414.0 C511.5,414.3 520.7,414.8 529.0,415.0 C537.3,415.2 546.5,415.3 554.0,415.0 C561.5,414.7 566.9,414.0 574.0,413.2 C581.1,412.5 592.8,413.0 596.5,410.8 C600.2,408.5 627.8,401.4 596.5,399.5 C565.2,397.6 440.2,398.2 409.0,399.5Z"/><path d="M411.5,399.5 C406.5,400.8 410.7,405.4 411.5,407.0 C412.3,408.6 414.4,408.4 416.5,409.0 C418.6,409.6 421.1,410.7 424.0,410.8 C426.9,410.8 431.1,410.1 434.0,409.5 C436.9,408.9 440.2,408.7 441.5,407.0 C442.8,405.3 446.5,400.8 441.5,399.5 C436.5,398.2 416.5,398.2 411.5,399.5Z"/></g><g font-size="8.4" fill="#000" text-anchor="middle"><text x="214.5" y="419.8" transform="rotate(-40 214.5 417.0)">0</text><text x="217.8" y="466.1" transform="rotate(-40 217.8 463.2)">0</text><text x="276.5" y="486.8" transform="rotate(-40 276.5 484.0)">0</text><text x="235.2" y="568.5" transform="rotate(-40 235.2 565.8)">0</text><text x="414.5" y="481.1" transform="rotate(-40 414.5 478.2)">0</text><text x="450.2" y="643.5" transform="rotate(-40 450.2 640.8)">0</text><text x="460.2" y="653.5" transform="rotate(-40 460.2 650.8)">0</text><text x="422.8" y="414.3" transform="rotate(0 422.8 411.5)">-40</text><text x="430.2" y="416.8" transform="rotate(0 430.2 414.0)">-35</text><text x="530.2" y="421.1" transform="rotate(0 530.2 418.2)">-30</text><text x="527.8" y="429.3" transform="rotate(0 527.8 426.5)">-25</text><text x="524.0" y="436.8" transform="rotate(0 524.0 434.0)">-20</text><text x="511.5" y="439.3" transform="rotate(20 511.5 436.5)">-15</text><text x="510.2" y="447.8" transform="rotate(20 510.2 445.0)">-10</text><text x="502.8" y="458.6" transform="rotate(20 502.8 455.8)">-5</text><text x="584.0" y="481.1" transform="rotate(-90 584.0 478.2)">5</text><text x="304.0" y="537.3" transform="rotate(-90 304.0 534.5)">-5</text><text x="330.2" y="572.3" transform="rotate(-90 330.2 569.5)">5</text></g><path d="M201.9,667.5 L201.9,448.5 L203.0,451.2 L203.4,442.8 L203.8,451.2 L203.4,450.4 L204.8,479.1 L204.5,485.2 L204.9,478.0 L205.3,485.2 L205.7,517.4 L207.6,555.6 L209.6,574.7 L210.5,580.9 L210.9,578.6 L211.3,580.9 L211.5,582.4 L212.0,582.2 L212.4,575.7 L212.8,582.2 L213.4,580.5 L215.3,590.0 L215.0,590.9 L215.4,589.8 L215.8,590.9 L216.5,591.9 L216.9,579.1 L217.3,591.9 L218.2,591.9 L218.0,593.6 L218.4,589.7 L218.8,593.6 L221.0,601.5 L221.0,603.4 L221.4,598.0 L221.8,603.4 L224.0,612.4 L224.4,607.7 L224.8,612.4 L224.9,613.0 L227.0,621.4 L227.4,616.9 L227.8,621.4 L228.7,624.4 L230.6,630.2 L231.5,631.4 L231.9,629.5 L232.3,631.4 L233.0,631.9 L233.4,628.8 L233.8,631.9 L233.5,631.1 L234.5,637.7 L234.9,634.7 L235.3,637.7 L235.4,638.8 L237.3,634.0 L239.0,636.2 L239.4,631.2 L239.8,636.2 L240.2,635.9 L240.5,632.9 L240.9,629.1 L241.3,632.9 L242.1,626.3 L242.0,624.6 L242.4,618.4 L242.8,624.6 L243.5,613.6 L243.9,609.7 L244.3,613.6 L244.9,605.3 L246.8,599.6 L246.5,600.8 L246.9,588.1 L247.3,600.8 L248.0,609.8 L248.4,602.2 L248.8,609.8 L248.8,611.1 L249.5,606.9 L249.9,603.3 L250.3,606.9 L250.1,605.3 L251.6,618.7 L254.0,640.9 L254.4,640.1 L254.8,640.9 L254.5,640.7 L255.5,634.4 L255.9,627.4 L256.3,634.4 L257.4,626.3 L259.3,618.7 L261.2,609.1 L262.7,584.3 L263.0,595.0 L263.4,592.4 L263.8,595.0 L264.1,603.4 L266.0,601.5 L266.0,600.5 L266.4,582.9 L266.8,600.5 L267.9,593.8 L269.8,591.9 L270.5,600.6 L270.9,590.6 L271.3,600.6 L271.7,605.3 L272.0,604.0 L272.4,601.3 L272.8,604.0 L273.6,599.6 L273.5,601.3 L273.9,593.7 L274.3,601.3 L275.0,605.8 L275.4,604.2 L275.8,605.8 L275.5,605.3 L276.5,602.0 L276.9,599.2 L277.3,602.0 L277.4,599.6 L278.0,597.8 L278.4,596.1 L278.8,597.8 L279.5,593.8 L279.9,590.0 L280.3,593.8 L280.3,591.9 L282.2,590.0 L284.1,574.7 L285.5,582.7 L285.9,574.3 L286.3,582.7 L286.0,582.4 L288.0,574.7 L289.9,570.9 L291.8,563.3 L293.0,557.5 L293.4,546.3 L293.8,557.5 L293.7,555.6 L294.5,556.4 L294.9,552.4 L295.3,556.4 L295.6,555.6 L297.5,542.2 L298.5,549.9 L299.0,541.2 L299.4,535.1 L299.8,541.2 L299.4,540.3 L300.4,517.4 L300.5,530.9 L300.9,527.9 L301.3,530.9 L301.3,540.3 L303.3,538.4 L303.5,540.5 L303.9,535.1 L304.3,540.5 L305.2,542.2 L307.1,526.9 L309.5,518.3 L309.9,514.7 L310.3,518.3 L309.9,517.4 L311.0,513.3 L311.4,512.2 L311.8,513.3 L312.8,507.8 L314.7,515.4 L316.6,523.1 L318.5,532.7 L318.5,536.4 L318.9,534.3 L319.3,536.4 L320.5,548.0 L321.5,550.2 L321.9,548.1 L322.3,550.2 L322.4,549.9 L324.3,567.1 L324.5,568.5 L324.9,560.1 L325.3,568.5 L326.2,569.0 L327.5,568.1 L327.9,563.5 L328.3,568.1 L328.1,567.1 L330.0,574.7 L331.9,582.4 L332.0,582.7 L332.4,581.0 L332.8,582.7 L333.8,580.5 L335.8,590.0 L336.5,582.7 L336.9,579.0 L337.3,582.7 L337.7,576.6 L339.6,582.4 L341.0,594.2 L341.4,587.9 L341.8,594.2 L341.5,593.8 L343.4,601.5 L345.3,609.1 L345.5,605.2 L345.9,604.2 L346.3,605.2 L347.2,593.8 L347.0,595.0 L347.4,586.0 L347.8,595.0 L348.5,598.0 L348.9,597.2 L349.3,598.0 L349.1,597.7 L350.0,595.9 L350.4,594.8 L350.8,595.9 L351.1,593.8 L351.5,593.8 L351.9,592.9 L352.3,593.8 L353.0,591.9 L354.9,597.7 L356.0,592.3 L356.4,590.8 L356.8,592.3 L356.8,590.0 L357.5,586.3 L357.9,581.1 L358.3,586.3 L358.7,582.4 L360.6,574.7 L362.0,564.7 L362.4,563.9 L362.8,564.7 L362.5,563.3 L363.5,517.4 L364.8,465.7 L366.3,498.2 L366.5,513.1 L366.9,505.0 L367.3,513.1 L368.3,546.0 L370.2,574.7 L372.1,590.0 L372.5,592.5 L372.9,590.1 L373.3,592.5 L374.0,593.8 L374.0,595.5 L374.4,594.0 L374.8,595.5 L375.9,597.7 L377.0,610.5 L377.4,604.1 L377.8,610.5 L377.8,613.0 L378.5,624.7 L378.9,621.6 L379.3,624.7 L379.7,632.1 L380.0,634.2 L380.4,632.4 L380.8,634.2 L381.6,635.9 L383.6,634.0 L384.5,636.2 L384.9,628.7 L385.3,636.2 L385.5,635.9 L386.0,640.5 L386.4,638.6 L386.8,640.5 L387.4,643.6 L387.5,645.4 L387.9,642.2 L388.3,645.4 L389.3,647.4 L389.0,648.4 L389.4,635.1 L389.8,648.4 L391.2,651.2 L392.0,656.8 L392.4,653.7 L392.8,656.8 L393.1,658.9 L395.0,662.7 L397.6,662.7 L398.6,653.1 L399.6,662.7 L403.4,662.7 L404.3,637.8 L405.4,649.1 L405.8,645.3 L406.2,649.1 L406.3,651.2 L406.9,638.9 L407.3,634.7 L407.7,638.9 L408.2,628.3 L410.1,643.6 L409.9,645.4 L410.3,639.4 L410.7,645.4 L412.0,651.2 L413.9,662.7 L417.7,662.7 L418.7,622.5 L420.6,609.1 L421.3,604.5 L421.7,596.9 L422.1,604.5 L422.5,599.6 L424.4,613.0 L425.8,626.1 L426.2,619.7 L426.6,626.1 L426.3,626.3 L428.2,593.8 L430.2,586.2 L430.3,589.1 L430.7,570.2 L431.1,589.1 L432.1,593.8 L433.3,586.6 L433.7,581.3 L434.1,586.6 L434.0,584.3 L434.8,581.3 L435.2,558.1 L435.6,581.3 L435.5,579.5 L436.8,605.3 L438.8,635.9 L440.7,651.2 L442.6,662.7 L469.3,662.7 L471.3,645.5 L472.4,629.8 L472.8,627.1 L473.2,629.8 L473.2,624.4 L473.9,581.7 L474.3,576.4 L474.7,581.7 L475.1,548.0 L475.4,565.0 L475.8,552.9 L476.2,565.0 L477.0,593.8 L476.9,589.9 L477.3,586.2 L477.7,589.9 L478.4,562.9 L478.8,556.3 L479.2,562.9 L478.9,559.4 L480.8,613.0 L481.8,641.6 L483.7,662.7 L484.6,651.2 L485.6,593.8 L485.7,579.4 L486.1,570.9 L486.5,579.4 L487.5,540.3 L487.2,543.5 L487.6,533.9 L488.0,543.5 L489.4,574.7 L490.2,595.0 L490.6,590.6 L491.0,595.0 L491.3,605.3 L493.3,551.8 L493.2,561.3 L493.6,551.1 L494.0,561.3 L494.7,594.3 L495.1,582.3 L495.5,594.3 L495.2,593.8 L497.1,632.1 L497.7,622.2 L498.1,616.2 L498.5,622.2 L499.0,613.0 L499.2,590.0 L499.6,582.2 L500.0,590.0 L500.9,544.1 L502.2,537.9 L502.6,525.9 L503.0,537.9 L502.8,536.5 L503.7,540.0 L504.1,535.1 L504.5,540.0 L504.7,540.3 L505.2,590.1 L505.6,589.1 L506.0,590.1 L506.6,641.6 L507.6,574.7 L509.5,536.5 L510.5,486.8 L512.4,498.2 L512.7,505.2 L513.1,483.4 L513.5,505.2 L514.3,513.5 L514.2,516.5 L514.6,515.4 L515.0,516.5 L516.2,525.0 L517.2,493.9 L517.6,490.8 L518.0,493.9 L518.1,482.9 L520.0,513.5 L520.2,508.1 L520.6,496.3 L521.0,508.1 L521.9,494.4 L523.2,519.2 L523.6,518.1 L524.0,519.2 L523.8,521.2 L524.7,532.4 L525.1,514.3 L525.5,532.4 L525.8,536.5 L526.2,580.1 L526.6,578.4 L527.0,580.1 L526.7,582.4 L527.7,536.5 L527.7,535.4 L528.1,523.1 L528.5,535.4 L529.6,528.8 L529.2,529.4 L529.6,521.0 L530.0,529.4 L530.7,523.4 L531.1,506.3 L531.5,523.4 L531.5,521.2 L533.4,517.4 L533.7,521.1 L534.1,507.0 L534.5,521.1 L535.3,525.0 L535.2,523.8 L535.6,516.5 L536.0,523.8 L537.2,513.5 L538.2,517.2 L538.6,515.8 L539.0,517.2 L539.1,517.4 L539.7,528.2 L540.1,526.5 L540.5,528.2 L541.1,536.5 L541.2,540.8 L541.6,539.8 L542.0,540.8 L543.0,548.0 L544.2,535.3 L544.6,530.9 L545.0,535.3 L544.9,532.7 L545.7,530.9 L546.1,528.9 L546.5,530.9 L546.8,528.8 L548.7,546.0 L550.6,557.5 L550.2,558.3 L550.6,557.4 L551.0,558.3 L553.2,553.8 L553.6,550.5 L554.0,553.8 L554.4,551.8 L558.3,546.0 L560.7,542.5 L561.1,532.7 L561.5,542.5 L562.1,540.3 L565.9,532.7 L566.7,531.0 L567.1,528.4 L567.5,531.0 L568.2,528.0 L568.6,523.7 L569.0,528.0 L569.7,525.0 L571.2,522.0 L571.6,515.7 L572.0,522.0 L572.7,519.0 L573.1,510.7 L573.5,519.0 L573.6,517.4 L574.2,516.0 L574.6,511.9 L575.0,516.0 L575.7,513.0 L576.1,511.0 L576.5,513.0 L577.4,509.7 L578.7,507.0 L579.1,495.0 L579.5,507.0 L581.2,502.1 L581.7,500.0 L582.1,491.4 L582.5,500.0 L583.2,495.5 L583.6,486.0 L584.0,495.5 L585.0,490.6 L584.7,491.1 L585.1,484.7 L585.5,491.1 L586.2,487.1 L586.6,484.2 L587.0,487.1 L587.9,482.9 L589.2,480.2 L589.6,474.1 L590.0,480.2 L589.8,479.1 L592.2,476.7 L592.6,466.8 L593.0,476.7 L595.2,473.2 L595.6,468.5 L596.0,473.2 L596.5,471.5 L596.5,670.3 L596.5,667.5Z" fill="#000"/></g><rect x="93.4" y="406.9" width="110.5" height="255.6" fill="#fff"/><clipPath id="lclip10"><rect x="93.4" y="406.9" width="110.5" height="255.6"/></clipPath><path d="M100.10,407.40 C101.97,408.35 106.97,410.70 111.30,413.10 C115.63,415.50 123.13,419.53 126.10,421.80 C129.07,424.07 128.60,424.65 129.10,426.70 C129.60,428.75 127.95,431.42 129.10,434.10 C130.25,436.78 133.20,439.92 136.00,442.80 C138.80,445.68 143.63,448.52 145.90,451.40 C148.17,454.28 149.60,457.42 149.60,460.10 C149.60,462.78 147.02,465.43 145.90,467.50 C144.78,469.57 142.70,469.82 142.90,472.50 C143.10,475.18 145.98,478.87 147.10,483.60 C148.22,488.33 149.05,496.17 149.60,500.90 C150.15,505.63 151.02,508.50 150.40,512.00 C149.78,515.50 147.15,518.80 145.90,521.90 C144.65,525.00 142.70,526.68 142.90,530.60 C143.10,534.52 145.57,540.87 147.10,545.40 C148.63,549.93 150.32,553.27 152.10,557.80 C153.88,562.33 157.60,568.90 157.80,572.60 C158.00,576.30 154.87,576.70 153.30,580.00 C151.73,583.30 149.83,587.05 148.40,592.40 C146.97,597.75 144.92,606.75 144.70,612.10 C144.48,617.45 145.87,619.97 147.10,624.50 C148.33,629.03 151.47,635.18 152.10,639.30 C152.73,643.42 151.52,645.42 150.90,649.20 C150.28,652.98 148.82,659.87 148.40,662.00" fill="none" stroke="#8f4f3f" stroke-width="2.7" stroke-linejoin="round" stroke-linecap="round" clip-path="url(#lclip10)"/><path d="M93.4,406.9 H588.2 V662.5 H93.4 Z M203.9,406.9 V662.5" fill="none" stroke="#2b2b2b" stroke-width="1.7"/><line x1="90.2" y1="406.9" x2="93.4" y2="406.9" stroke="#2b2b2b" stroke-width="1.2"/><text x="85.5" y="416.6" font-size="18.5" text-anchor="end">1000</text><line x1="90.2" y1="438.8" x2="93.4" y2="438.8" stroke="#2b2b2b" stroke-width="1.2"/><text x="85.5" y="448.5" font-size="18.5" text-anchor="end">1500</text><line x1="90.2" y1="470.8" x2="93.4" y2="470.8" stroke="#2b2b2b" stroke-width="1.2"/><text x="85.5" y="480.5" font-size="18.5" text-anchor="end">2000</text><line x1="90.2" y1="502.8" x2="93.4" y2="502.8" stroke="#2b2b2b" stroke-width="1.2"/><text x="85.5" y="512.5" font-size="18.5" text-anchor="end">2500</text><line x1="90.2" y1="534.7" x2="93.4" y2="534.7" stroke="#2b2b2b" stroke-width="1.2"/><text x="85.5" y="544.4" font-size="18.5" text-anchor="end">3000</text><line x1="90.2" y1="566.6" x2="93.4" y2="566.6" stroke="#2b2b2b" stroke-width="1.2"/><text x="85.5" y="576.3" font-size="18.5" text-anchor="end">3500</text><line x1="90.2" y1="598.6" x2="93.4" y2="598.6" stroke="#2b2b2b" stroke-width="1.2"/><text x="85.5" y="608.3" font-size="18.5" text-anchor="end">4000</text><line x1="90.2" y1="630.5" x2="93.4" y2="630.5" stroke="#2b2b2b" stroke-width="1.2"/><text x="85.5" y="640.2" font-size="18.5" text-anchor="end">4500</text><line x1="90.2" y1="662.5" x2="93.4" y2="662.5" stroke="#2b2b2b" stroke-width="1.2"/><text x="85.5" y="672.2" font-size="18.5" text-anchor="end">5000</text><line x1="98.4" y1="662.5" x2="98.4" y2="665.7" stroke="#2b2b2b" stroke-width="1.2"/><text x="94.8" y="686.4" font-size="18.5" text-anchor="middle">-6</text><line x1="148.3" y1="662.5" x2="148.3" y2="665.7" stroke="#2b2b2b" stroke-width="1.2"/><text x="149.1" y="686.4" font-size="18.5" text-anchor="middle">0</text><line x1="198.5" y1="662.5" x2="198.5" y2="665.7" stroke="#2b2b2b" stroke-width="1.2"/><text x="198.3" y="686.4" font-size="18.5" text-anchor="middle">6</text><line x1="231.2" y1="662.5" x2="231.2" y2="665.7" stroke="#2b2b2b" stroke-width="1.2"/><text x="230.2" y="686.4" font-size="18.5" text-anchor="middle">60°S</text><line x1="324.3" y1="662.5" x2="324.3" y2="665.7" stroke="#2b2b2b" stroke-width="1.2"/><text x="321.6" y="686.4" font-size="18.5" text-anchor="middle">40°S</text><line x1="415.5" y1="662.5" x2="415.5" y2="665.7" stroke="#2b2b2b" stroke-width="1.2"/><text x="413.0" y="686.4" font-size="18.5" text-anchor="middle">20°S</text><line x1="506.2" y1="662.5" x2="506.2" y2="665.7" stroke="#2b2b2b" stroke-width="1.2"/><text x="503.3" y="686.4" font-size="18.5" text-anchor="middle">EQ</text><line x1="550.9" y1="662.5" x2="550.9" y2="665.7" stroke="#2b2b2b" stroke-width="1.2"/><text x="547.9" y="686.4" font-size="18.5" text-anchor="middle">10°N</text><text x="145.3" y="715.8" font-size="21" text-anchor="middle">RG (%)</text><text x="364.7" y="715.6" font-size="21" text-anchor="middle">Latitude</text><text x="0" y="0" font-size="21" text-anchor="middle" transform="translate(36.4,518.4) rotate(-90)">Depth (m)</text><text x="42.3" y="425.3" font-size="35" text-anchor="end">(d)</text><linearGradient id="cbg10" x1="0" y1="0" x2="0" y2="1"><stop offset="0.000" stop-color="#a50026"/><stop offset="0.025" stop-color="#b10b26"/><stop offset="0.050" stop-color="#bd1726"/><stop offset="0.075" stop-color="#ca2427"/><stop offset="0.100" stop-color="#d62f27"/><stop offset="0.125" stop-color="#dd3d2d"/><stop offset="0.150" stop-color="#e54e35"/><stop offset="0.175" stop-color="#ec5c3b"/><stop offset="0.200" stop-color="#f46d43"/><stop offset="0.225" stop-color="#f67c4a"/><stop offset="0.250" stop-color="#f88c51"/><stop offset="0.275" stop-color="#fb9d59"/><stop offset="0.300" stop-color="#fdad60"/><stop offset="0.325" stop-color="#fdbb6d"/><stop offset="0.350" stop-color="#fdc778"/><stop offset="0.375" stop-color="#fed283"/><stop offset="0.400" stop-color="#fee090"/><stop offset="0.425" stop-color="#fee79b"/><stop offset="0.450" stop-color="#fff0a8"/><stop offset="0.475" stop-color="#fff7b3"/><stop offset="0.500" stop-color="#fffebe"/><stop offset="0.525" stop-color="#f7fcce"/><stop offset="0.550" stop-color="#f0f9db"/><stop offset="0.575" stop-color="#e7f6eb"/><stop offset="0.600" stop-color="#e0f3f8"/><stop offset="0.625" stop-color="#d4edf4"/><stop offset="0.650" stop-color="#c5e6f0"/><stop offset="0.675" stop-color="#b9e0ed"/><stop offset="0.700" stop-color="#aad8e9"/><stop offset="0.725" stop-color="#9dcee3"/><stop offset="0.750" stop-color="#90c3dd"/><stop offset="0.775" stop-color="#81b7d7"/><stop offset="0.800" stop-color="#74add1"/><stop offset="0.825" stop-color="#679ec9"/><stop offset="0.850" stop-color="#5c90c2"/><stop offset="0.875" stop-color="#5183bb"/><stop offset="0.900" stop-color="#4574b3"/><stop offset="0.925" stop-color="#4065ac"/><stop offset="0.950" stop-color="#3a54a4"/><stop offset="0.975" stop-color="#36459c"/><stop offset="1.000" stop-color="#313695"/></linearGradient><rect x="593.3" y="406.9" width="7.8" height="255.6" fill="url(#cbg10)" stroke="#2b2b2b" stroke-width="0.9"/><line x1="601.1" y1="429.2" x2="603.6" y2="429.2" stroke="#2b2b2b" stroke-width="1"/><text x="607.1" y="434.2" font-size="18.5" text-anchor="start">40</text><line x1="601.1" y1="455.6" x2="603.6" y2="455.6" stroke="#2b2b2b" stroke-width="1"/><text x="607.1" y="460.6" font-size="18.5" text-anchor="start">30</text><line x1="601.1" y1="481.9" x2="603.6" y2="481.9" stroke="#2b2b2b" stroke-width="1"/><text x="607.1" y="486.9" font-size="18.5" text-anchor="start">20</text><line x1="601.1" y1="508.3" x2="603.6" y2="508.3" stroke="#2b2b2b" stroke-width="1"/><text x="607.1" y="513.3" font-size="18.5" text-anchor="start">10</text><line x1="601.1" y1="534.7" x2="603.6" y2="534.7" stroke="#2b2b2b" stroke-width="1"/><text x="607.1" y="539.7" font-size="18.5" text-anchor="start">0</text><line x1="601.1" y1="561.1" x2="603.6" y2="561.1" stroke="#2b2b2b" stroke-width="1"/><text x="607.1" y="566.1" font-size="18.5" text-anchor="start">-10</text><line x1="601.1" y1="587.5" x2="603.6" y2="587.5" stroke="#2b2b2b" stroke-width="1"/><text x="607.1" y="592.5" font-size="18.5" text-anchor="start">-20</text><line x1="601.1" y1="613.8" x2="603.6" y2="613.8" stroke="#2b2b2b" stroke-width="1"/><text x="607.1" y="618.8" font-size="18.5" text-anchor="start">-30</text><line x1="601.1" y1="640.2" x2="603.6" y2="640.2" stroke="#2b2b2b" stroke-width="1"/><text x="607.1" y="645.2" font-size="18.5" text-anchor="start">-40</text><clipPath id="clip11"><rect x="868.9" y="407.0" width="385.3" height="255.3"/></clipPath><g clip-path="url(#clip11)"><rect x="868.9" y="407.0" width="385.3" height="255.29999999999995" fill="#fffebe"/><path d="M860.5,489.5 C862.4,488.7 869.2,492.4 871.8,489.5 C874.2,486.6 873.6,477.8 875.5,472.0 C877.4,466.2 879.7,459.3 883.0,454.5 C886.3,449.7 891.3,445.8 895.5,443.2 C899.7,440.8 903.8,439.5 908.0,439.5 C912.2,439.5 917.4,440.3 920.5,443.2 C923.6,446.2 925.9,451.4 926.8,457.0 C927.6,462.6 926.5,471.6 925.5,477.0 C924.5,482.4 923.4,486.2 920.5,489.5 C917.6,492.8 912.6,495.5 908.0,497.0 C903.4,498.5 898.0,498.5 893.0,498.2 C888.0,498.0 883.4,496.4 878.0,495.8 C872.6,495.1 863.4,495.5 860.5,494.5 C857.6,493.5 858.6,490.3 860.5,489.5Z" fill="#e5f5ef"/><path d="M944.2,502.0 C943.8,499.3 945.5,495.5 948.0,493.2 C950.5,491.0 955.7,488.7 959.2,488.2 C962.8,487.8 967.0,488.9 969.2,490.8 C971.5,492.6 972.8,496.4 973.0,499.5 C973.2,502.6 972.6,507.3 970.5,509.5 C968.4,511.7 963.8,512.5 960.5,512.5 C957.2,512.5 953.2,511.2 950.5,509.5 C947.8,507.8 944.7,504.7 944.2,502.0Z" fill="#e5f5ef"/><path d="M860.5,534.5 C862.6,525.3 867.6,532.8 873.0,532.0 C878.4,531.2 886.8,530.0 893.0,530.0 C899.2,530.0 905.1,530.4 910.5,532.0 C915.9,533.6 921.3,536.6 925.5,539.5 C929.7,542.4 932.6,547.4 935.5,549.5 C938.4,551.6 939.7,552.2 943.0,552.0 C946.3,551.8 951.3,549.5 955.5,548.2 C959.7,547.0 963.8,545.2 968.0,544.5 C972.2,543.8 976.3,544.2 980.5,544.0 C984.7,543.8 988.4,544.0 993.0,543.2 C997.6,542.5 1003.0,541.0 1008.0,539.5 C1013.0,538.0 1019.2,537.0 1023.0,534.5 C1026.8,532.0 1028.4,527.4 1030.5,524.5 C1032.6,521.6 1033.4,519.5 1035.5,517.0 C1037.6,514.5 1040.1,512.0 1043.0,509.5 C1045.9,507.0 1050.5,504.9 1053.0,502.0 C1055.5,499.1 1057.6,495.3 1058.0,492.0 C1058.4,488.7 1056.5,484.9 1055.5,482.0 C1054.5,479.1 1051.3,476.8 1051.8,474.5 C1052.2,472.2 1055.3,470.1 1058.0,468.2 C1060.7,466.4 1064.2,465.1 1068.0,463.2 C1071.8,461.4 1076.3,459.3 1080.5,457.0 C1084.7,454.7 1088.8,452.0 1093.0,449.5 C1097.2,447.0 1101.3,443.9 1105.5,442.0 C1109.7,440.1 1113.8,439.1 1118.0,438.2 C1122.2,437.4 1126.3,437.0 1130.5,437.0 C1134.7,437.0 1138.8,438.5 1143.0,438.2 C1147.2,438.0 1151.3,436.6 1155.5,435.8 C1159.7,434.9 1163.8,433.5 1168.0,433.2 C1172.2,433.0 1176.3,433.5 1180.5,434.5 C1184.7,435.5 1188.8,437.4 1193.0,439.5 C1197.2,441.6 1201.8,444.5 1205.5,447.0 C1209.2,449.5 1212.6,451.2 1215.5,454.5 C1218.4,457.8 1220.9,461.2 1223.0,467.0 C1225.1,472.8 1227.2,482.0 1228.0,489.5 C1228.8,497.0 1228.2,505.8 1228.0,512.0 C1227.8,518.2 1227.8,522.4 1226.8,527.0 C1225.7,531.6 1223.4,535.3 1221.8,539.5 C1220.1,543.7 1217.8,529.9 1216.8,552.0 C1215.7,574.1 1228.6,652.0 1215.5,672.0 C1202.4,692.0 1151.3,678.2 1138.0,672.0 C1124.7,665.8 1137.6,639.7 1135.5,634.5 C1133.4,629.3 1129.2,639.3 1125.5,640.8 C1121.8,642.2 1117.6,643.5 1113.0,643.2 C1108.4,643.0 1103.0,641.4 1098.0,639.5 C1093.0,637.6 1088.0,634.5 1083.0,632.0 C1078.0,629.5 1072.2,627.0 1068.0,624.5 C1063.8,622.0 1061.3,619.9 1058.0,617.0 C1054.7,614.1 1050.5,610.3 1048.0,607.0 C1045.5,603.7 1044.2,601.2 1043.0,597.0 C1041.8,592.8 1041.3,586.2 1040.5,582.0 C1039.7,577.8 1040.9,573.5 1038.0,572.0 C1035.1,570.5 1028.0,572.8 1023.0,573.2 C1018.0,573.7 1013.0,573.5 1008.0,574.5 C1003.0,575.5 996.8,578.2 993.0,579.5 C989.2,580.8 993.4,579.9 985.5,582.0 C977.6,584.1 953.4,591.2 945.5,592.0 C937.6,592.8 941.3,588.7 938.0,587.0 C934.7,585.3 930.1,583.5 925.5,582.0 C920.9,580.5 915.9,578.7 910.5,578.2 C905.1,577.8 898.4,578.9 893.0,579.5 C887.6,580.1 883.4,580.8 878.0,582.0 C872.6,583.2 863.4,594.9 860.5,587.0 C857.6,579.1 858.4,543.7 860.5,534.5Z" fill="#e5f5ef"/><path d="M1075.5,554.5 C1075.6,551.0 1075.9,545.5 1078.0,542.0 C1080.1,538.5 1084.2,534.7 1088.0,533.2 C1091.8,531.8 1097.0,531.8 1100.5,533.2 C1104.0,534.7 1107.4,538.5 1109.2,542.0 C1111.1,545.5 1112.0,550.3 1111.8,554.5 C1111.5,558.7 1110.5,564.1 1108.0,567.0 C1105.5,569.9 1100.5,571.6 1096.8,572.0 C1093.0,572.4 1088.7,571.0 1085.5,569.5 C1082.3,568.0 1079.2,565.8 1077.5,563.2 C1075.8,560.8 1075.4,558.0 1075.5,554.5Z" fill="#fffebe"/><path d="M1036.8,562.0 C1037.2,560.4 1039.2,557.7 1040.5,557.5 C1041.8,557.3 1043.8,559.2 1044.2,560.8 C1044.7,562.3 1044.0,566.0 1043.0,567.0 C1042.0,568.0 1039.0,567.8 1038.0,567.0 C1037.0,566.2 1036.3,563.6 1036.8,562.0Z" fill="#fffebe"/><path d="M1130.5,572.0 C1130.7,567.8 1130.9,561.2 1133.0,557.0 C1135.1,552.8 1139.2,551.2 1143.0,547.0 C1146.8,542.8 1152.4,537.0 1155.5,532.0 C1158.6,527.0 1160.5,522.0 1161.8,517.0 C1163.0,512.0 1162.0,506.6 1163.0,502.0 C1164.0,497.4 1165.5,492.4 1168.0,489.5 C1170.5,486.6 1174.2,484.9 1178.0,484.5 C1181.8,484.1 1187.2,484.5 1190.5,487.0 C1193.8,489.5 1196.3,494.9 1198.0,499.5 C1199.7,504.1 1200.9,509.1 1200.5,514.5 C1200.1,519.9 1197.6,526.6 1195.5,532.0 C1193.4,537.4 1190.5,542.0 1188.0,547.0 C1185.5,552.0 1183.8,557.0 1180.5,562.0 C1177.2,567.0 1172.2,573.2 1168.0,577.0 C1163.8,580.8 1160.1,582.8 1155.5,584.5 C1150.9,586.2 1144.5,587.4 1140.5,587.0 C1136.5,586.6 1133.4,584.5 1131.8,582.0 C1130.1,579.5 1130.3,576.2 1130.5,572.0Z" fill="#bbe1ed"/><path d="M916.8,399.5 C859.5,400.8 916.1,404.1 916.8,407.0 C917.4,409.9 918.2,413.7 920.5,417.0 C922.8,420.3 927.2,422.8 930.5,427.0 C933.8,431.2 938.4,437.0 940.5,442.0 C942.6,447.0 941.3,452.8 943.0,457.0 C944.7,461.2 947.2,464.5 950.5,467.0 C953.8,469.5 958.4,470.5 963.0,472.0 C967.6,473.5 973.4,474.5 978.0,475.8 C982.6,477.0 987.2,478.5 990.5,479.5 C993.8,480.5 995.7,482.4 998.0,482.0 C1000.3,481.6 1002.2,479.5 1004.2,477.0 C1006.3,474.5 1007.4,469.7 1010.5,467.0 C1013.6,464.3 1017.6,462.4 1023.0,460.8 C1028.4,459.1 1036.3,458.2 1043.0,457.0 C1049.7,455.8 1056.8,455.3 1063.0,453.2 C1069.2,451.2 1075.5,447.2 1080.5,444.5 C1085.5,441.8 1088.4,439.1 1093.0,437.0 C1097.6,434.9 1103.0,433.0 1108.0,432.0 C1113.0,431.0 1118.0,431.4 1123.0,430.8 C1128.0,430.1 1132.6,428.9 1138.0,428.2 C1143.4,427.6 1149.7,427.6 1155.5,427.0 C1161.3,426.4 1166.8,425.3 1173.0,424.5 C1179.2,423.7 1186.3,422.4 1193.0,422.0 C1199.7,421.6 1208.0,421.6 1213.0,422.0 C1218.0,422.4 1219.7,422.8 1223.0,424.5 C1226.3,426.2 1229.7,429.1 1233.0,432.0 C1236.3,434.9 1240.1,438.7 1243.0,442.0 C1245.9,445.3 1247.6,449.5 1250.5,452.0 C1253.4,454.5 1258.8,465.8 1260.5,457.0 C1262.2,448.2 1317.8,409.1 1260.5,399.5 C1203.2,389.9 974.0,398.2 916.8,399.5Z" fill="#fee597"/><path d="M895.5,647.0 C889.5,641.6 895.5,621.6 896.8,614.5 C898.0,607.4 900.3,607.4 903.0,604.5 C905.7,601.6 909.2,598.6 913.0,597.0 C916.8,595.4 922.0,594.6 925.5,595.0 C929.0,595.4 932.4,595.4 934.2,599.5 C936.1,603.6 937.0,611.6 936.8,619.5 C936.5,627.4 939.9,642.4 933.0,647.0 C926.1,651.6 901.5,652.4 895.5,647.0Z" fill="#fee597"/><path d="M940.5,399.5 C897.6,400.8 939.7,403.7 940.5,407.0 C941.3,410.3 943.4,415.8 945.5,419.5 C947.6,423.2 950.1,426.2 953.0,429.5 C955.9,432.8 959.7,435.8 963.0,439.5 C966.3,443.2 969.2,449.3 973.0,452.0 C976.8,454.7 981.3,456.2 985.5,455.8 C989.7,455.3 993.4,451.8 998.0,449.5 C1002.6,447.2 1007.6,444.1 1013.0,442.0 C1018.4,439.9 1024.7,438.2 1030.5,437.0 C1036.3,435.8 1042.6,435.8 1048.0,434.5 C1053.4,433.2 1058.0,431.2 1063.0,429.5 C1068.0,427.8 1073.0,426.2 1078.0,424.5 C1083.0,422.8 1088.0,421.2 1093.0,419.5 C1098.0,417.8 1103.0,415.8 1108.0,414.5 C1113.0,413.2 1117.2,412.6 1123.0,412.0 C1128.8,411.4 1135.5,411.2 1143.0,410.8 C1150.5,410.3 1159.7,409.6 1168.0,409.5 C1176.3,409.4 1188.0,410.4 1193.0,410.0 C1198.0,409.6 1197.2,408.8 1198.0,407.0 C1198.8,405.2 1240.9,400.8 1198.0,399.5 C1155.1,398.2 983.4,398.2 940.5,399.5Z" fill="#fdbd6f"/><path d="M905.5,647.0 C902.2,641.6 904.7,621.2 905.5,614.5 C906.3,607.8 908.4,608.7 910.5,607.0 C912.6,605.3 915.5,604.5 918.0,604.5 C920.5,604.5 923.8,604.5 925.5,607.0 C927.2,609.5 928.0,612.8 928.0,619.5 C928.0,626.2 929.2,642.4 925.5,647.0 C921.8,651.6 908.8,652.4 905.5,647.0Z" fill="#fdbd6f"/><path d="M943.0,399.5 C936.1,400.8 941.8,404.1 943.0,407.0 C944.2,409.9 947.6,413.7 950.5,417.0 C953.4,420.3 957.6,424.3 960.5,427.0 C963.4,429.7 965.1,432.6 968.0,433.2 C970.9,433.9 975.5,432.6 978.0,430.8 C980.5,428.9 982.0,425.1 983.0,422.0 C984.0,418.9 984.0,415.8 984.2,412.0 C984.5,408.2 991.1,401.6 984.2,399.5 C977.4,397.4 949.9,398.2 943.0,399.5Z" fill="#f88c51"/><path d="M995.5,399.5 C978.0,401.6 995.1,408.2 995.5,412.0 C995.9,415.8 996.3,419.1 998.0,422.0 C999.7,424.9 1002.2,427.8 1005.5,429.5 C1008.8,431.2 1013.4,431.8 1018.0,432.0 C1022.6,432.2 1028.0,431.6 1033.0,430.8 C1038.0,429.9 1042.6,428.5 1048.0,427.0 C1053.4,425.5 1060.1,423.7 1065.5,422.0 C1070.9,420.3 1075.9,418.7 1080.5,417.0 C1085.1,415.3 1089.7,413.7 1093.0,412.0 C1096.3,410.3 1099.2,409.1 1100.5,407.0 C1101.8,404.9 1118.0,400.8 1100.5,399.5 C1083.0,398.2 1013.0,397.4 995.5,399.5Z" fill="#f88c51"/><path d="M915.5,614.5 C916.1,610.3 918.6,607.8 920.5,607.0 C922.4,606.2 925.9,606.2 926.8,609.5 C927.6,612.8 926.3,621.6 925.5,627.0 C924.7,632.4 923.2,641.2 921.8,642.0 C920.3,642.8 917.8,636.6 916.8,632.0 C915.7,627.4 914.9,618.7 915.5,614.5Z" fill="#e95538"/><path d="M1020.5,399.5 C1009.5,401.2 1020.1,406.6 1021.8,409.5 C1023.4,412.4 1027.0,415.3 1030.5,417.0 C1034.0,418.7 1038.4,419.3 1043.0,419.5 C1047.6,419.7 1053.0,419.1 1058.0,418.2 C1063.0,417.4 1068.4,416.0 1073.0,414.5 C1077.6,413.0 1083.0,412.0 1085.5,409.5 C1088.0,407.0 1098.8,401.2 1088.0,399.5 C1077.2,397.8 1031.5,397.8 1020.5,399.5Z" fill="#e95538"/><path d="M1043.0,399.5 C1037.2,401.0 1043.0,406.4 1045.5,408.2 C1048.0,410.1 1053.4,410.5 1058.0,410.8 C1062.6,411.0 1069.2,411.4 1073.0,409.5 C1076.8,407.6 1085.5,401.2 1080.5,399.5 C1075.5,397.8 1048.8,398.0 1043.0,399.5Z" fill="#ca2427"/><g fill="none" stroke="#222" stroke-width="0.7" stroke-dasharray="1.5 2" stroke-opacity="0.8"><path d="M860.5,489.5 C862.4,488.7 869.2,492.4 871.8,489.5 C874.2,486.6 873.6,477.8 875.5,472.0 C877.4,466.2 879.7,459.3 883.0,454.5 C886.3,449.7 891.3,445.8 895.5,443.2 C899.7,440.8 903.8,439.5 908.0,439.5 C912.2,439.5 917.4,440.3 920.5,443.2 C923.6,446.2 925.9,451.4 926.8,457.0 C927.6,462.6 926.5,471.6 925.5,477.0 C924.5,482.4 923.4,486.2 920.5,489.5 C917.6,492.8 912.6,495.5 908.0,497.0 C903.4,498.5 898.0,498.5 893.0,498.2 C888.0,498.0 883.4,496.4 878.0,495.8 C872.6,495.1 863.4,495.5 860.5,494.5 C857.6,493.5 858.6,490.3 860.5,489.5Z"/><path d="M944.2,502.0 C943.8,499.3 945.5,495.5 948.0,493.2 C950.5,491.0 955.7,488.7 959.2,488.2 C962.8,487.8 967.0,488.9 969.2,490.8 C971.5,492.6 972.8,496.4 973.0,499.5 C973.2,502.6 972.6,507.3 970.5,509.5 C968.4,511.7 963.8,512.5 960.5,512.5 C957.2,512.5 953.2,511.2 950.5,509.5 C947.8,507.8 944.7,504.7 944.2,502.0Z"/><path d="M860.5,534.5 C862.6,525.3 867.6,532.8 873.0,532.0 C878.4,531.2 886.8,530.0 893.0,530.0 C899.2,530.0 905.1,530.4 910.5,532.0 C915.9,533.6 921.3,536.6 925.5,539.5 C929.7,542.4 932.6,547.4 935.5,549.5 C938.4,551.6 939.7,552.2 943.0,552.0 C946.3,551.8 951.3,549.5 955.5,548.2 C959.7,547.0 963.8,545.2 968.0,544.5 C972.2,543.8 976.3,544.2 980.5,544.0 C984.7,543.8 988.4,544.0 993.0,543.2 C997.6,542.5 1003.0,541.0 1008.0,539.5 C1013.0,538.0 1019.2,537.0 1023.0,534.5 C1026.8,532.0 1028.4,527.4 1030.5,524.5 C1032.6,521.6 1033.4,519.5 1035.5,517.0 C1037.6,514.5 1040.1,512.0 1043.0,509.5 C1045.9,507.0 1050.5,504.9 1053.0,502.0 C1055.5,499.1 1057.6,495.3 1058.0,492.0 C1058.4,488.7 1056.5,484.9 1055.5,482.0 C1054.5,479.1 1051.3,476.8 1051.8,474.5 C1052.2,472.2 1055.3,470.1 1058.0,468.2 C1060.7,466.4 1064.2,465.1 1068.0,463.2 C1071.8,461.4 1076.3,459.3 1080.5,457.0 C1084.7,454.7 1088.8,452.0 1093.0,449.5 C1097.2,447.0 1101.3,443.9 1105.5,442.0 C1109.7,440.1 1113.8,439.1 1118.0,438.2 C1122.2,437.4 1126.3,437.0 1130.5,437.0 C1134.7,437.0 1138.8,438.5 1143.0,438.2 C1147.2,438.0 1151.3,436.6 1155.5,435.8 C1159.7,434.9 1163.8,433.5 1168.0,433.2 C1172.2,433.0 1176.3,433.5 1180.5,434.5 C1184.7,435.5 1188.8,437.4 1193.0,439.5 C1197.2,441.6 1201.8,444.5 1205.5,447.0 C1209.2,449.5 1212.6,451.2 1215.5,454.5 C1218.4,457.8 1220.9,461.2 1223.0,467.0 C1225.1,472.8 1227.2,482.0 1228.0,489.5 C1228.8,497.0 1228.2,505.8 1228.0,512.0 C1227.8,518.2 1227.8,522.4 1226.8,527.0 C1225.7,531.6 1223.4,535.3 1221.8,539.5 C1220.1,543.7 1217.8,529.9 1216.8,552.0 C1215.7,574.1 1228.6,652.0 1215.5,672.0 C1202.4,692.0 1151.3,678.2 1138.0,672.0 C1124.7,665.8 1137.6,639.7 1135.5,634.5 C1133.4,629.3 1129.2,639.3 1125.5,640.8 C1121.8,642.2 1117.6,643.5 1113.0,643.2 C1108.4,643.0 1103.0,641.4 1098.0,639.5 C1093.0,637.6 1088.0,634.5 1083.0,632.0 C1078.0,629.5 1072.2,627.0 1068.0,624.5 C1063.8,622.0 1061.3,619.9 1058.0,617.0 C1054.7,614.1 1050.5,610.3 1048.0,607.0 C1045.5,603.7 1044.2,601.2 1043.0,597.0 C1041.8,592.8 1041.3,586.2 1040.5,582.0 C1039.7,577.8 1040.9,573.5 1038.0,572.0 C1035.1,570.5 1028.0,572.8 1023.0,573.2 C1018.0,573.7 1013.0,573.5 1008.0,574.5 C1003.0,575.5 996.8,578.2 993.0,579.5 C989.2,580.8 993.4,579.9 985.5,582.0 C977.6,584.1 953.4,591.2 945.5,592.0 C937.6,592.8 941.3,588.7 938.0,587.0 C934.7,585.3 930.1,583.5 925.5,582.0 C920.9,580.5 915.9,578.7 910.5,578.2 C905.1,577.8 898.4,578.9 893.0,579.5 C887.6,580.1 883.4,580.8 878.0,582.0 C872.6,583.2 863.4,594.9 860.5,587.0 C857.6,579.1 858.4,543.7 860.5,534.5Z"/><path d="M1075.5,554.5 C1075.6,551.0 1075.9,545.5 1078.0,542.0 C1080.1,538.5 1084.2,534.7 1088.0,533.2 C1091.8,531.8 1097.0,531.8 1100.5,533.2 C1104.0,534.7 1107.4,538.5 1109.2,542.0 C1111.1,545.5 1112.0,550.3 1111.8,554.5 C1111.5,558.7 1110.5,564.1 1108.0,567.0 C1105.5,569.9 1100.5,571.6 1096.8,572.0 C1093.0,572.4 1088.7,571.0 1085.5,569.5 C1082.3,568.0 1079.2,565.8 1077.5,563.2 C1075.8,560.8 1075.4,558.0 1075.5,554.5Z"/><path d="M1036.8,562.0 C1037.2,560.4 1039.2,557.7 1040.5,557.5 C1041.8,557.3 1043.8,559.2 1044.2,560.8 C1044.7,562.3 1044.0,566.0 1043.0,567.0 C1042.0,568.0 1039.0,567.8 1038.0,567.0 C1037.0,566.2 1036.3,563.6 1036.8,562.0Z"/><path d="M1130.5,572.0 C1130.7,567.8 1130.9,561.2 1133.0,557.0 C1135.1,552.8 1139.2,551.2 1143.0,547.0 C1146.8,542.8 1152.4,537.0 1155.5,532.0 C1158.6,527.0 1160.5,522.0 1161.8,517.0 C1163.0,512.0 1162.0,506.6 1163.0,502.0 C1164.0,497.4 1165.5,492.4 1168.0,489.5 C1170.5,486.6 1174.2,484.9 1178.0,484.5 C1181.8,484.1 1187.2,484.5 1190.5,487.0 C1193.8,489.5 1196.3,494.9 1198.0,499.5 C1199.7,504.1 1200.9,509.1 1200.5,514.5 C1200.1,519.9 1197.6,526.6 1195.5,532.0 C1193.4,537.4 1190.5,542.0 1188.0,547.0 C1185.5,552.0 1183.8,557.0 1180.5,562.0 C1177.2,567.0 1172.2,573.2 1168.0,577.0 C1163.8,580.8 1160.1,582.8 1155.5,584.5 C1150.9,586.2 1144.5,587.4 1140.5,587.0 C1136.5,586.6 1133.4,584.5 1131.8,582.0 C1130.1,579.5 1130.3,576.2 1130.5,572.0Z"/><path d="M916.8,399.5 C859.5,400.8 916.1,404.1 916.8,407.0 C917.4,409.9 918.2,413.7 920.5,417.0 C922.8,420.3 927.2,422.8 930.5,427.0 C933.8,431.2 938.4,437.0 940.5,442.0 C942.6,447.0 941.3,452.8 943.0,457.0 C944.7,461.2 947.2,464.5 950.5,467.0 C953.8,469.5 958.4,470.5 963.0,472.0 C967.6,473.5 973.4,474.5 978.0,475.8 C982.6,477.0 987.2,478.5 990.5,479.5 C993.8,480.5 995.7,482.4 998.0,482.0 C1000.3,481.6 1002.2,479.5 1004.2,477.0 C1006.3,474.5 1007.4,469.7 1010.5,467.0 C1013.6,464.3 1017.6,462.4 1023.0,460.8 C1028.4,459.1 1036.3,458.2 1043.0,457.0 C1049.7,455.8 1056.8,455.3 1063.0,453.2 C1069.2,451.2 1075.5,447.2 1080.5,444.5 C1085.5,441.8 1088.4,439.1 1093.0,437.0 C1097.6,434.9 1103.0,433.0 1108.0,432.0 C1113.0,431.0 1118.0,431.4 1123.0,430.8 C1128.0,430.1 1132.6,428.9 1138.0,428.2 C1143.4,427.6 1149.7,427.6 1155.5,427.0 C1161.3,426.4 1166.8,425.3 1173.0,424.5 C1179.2,423.7 1186.3,422.4 1193.0,422.0 C1199.7,421.6 1208.0,421.6 1213.0,422.0 C1218.0,422.4 1219.7,422.8 1223.0,424.5 C1226.3,426.2 1229.7,429.1 1233.0,432.0 C1236.3,434.9 1240.1,438.7 1243.0,442.0 C1245.9,445.3 1247.6,449.5 1250.5,452.0 C1253.4,454.5 1258.8,465.8 1260.5,457.0 C1262.2,448.2 1317.8,409.1 1260.5,399.5 C1203.2,389.9 974.0,398.2 916.8,399.5Z"/><path d="M895.5,647.0 C889.5,641.6 895.5,621.6 896.8,614.5 C898.0,607.4 900.3,607.4 903.0,604.5 C905.7,601.6 909.2,598.6 913.0,597.0 C916.8,595.4 922.0,594.6 925.5,595.0 C929.0,595.4 932.4,595.4 934.2,599.5 C936.1,603.6 937.0,611.6 936.8,619.5 C936.5,627.4 939.9,642.4 933.0,647.0 C926.1,651.6 901.5,652.4 895.5,647.0Z"/><path d="M940.5,399.5 C897.6,400.8 939.7,403.7 940.5,407.0 C941.3,410.3 943.4,415.8 945.5,419.5 C947.6,423.2 950.1,426.2 953.0,429.5 C955.9,432.8 959.7,435.8 963.0,439.5 C966.3,443.2 969.2,449.3 973.0,452.0 C976.8,454.7 981.3,456.2 985.5,455.8 C989.7,455.3 993.4,451.8 998.0,449.5 C1002.6,447.2 1007.6,444.1 1013.0,442.0 C1018.4,439.9 1024.7,438.2 1030.5,437.0 C1036.3,435.8 1042.6,435.8 1048.0,434.5 C1053.4,433.2 1058.0,431.2 1063.0,429.5 C1068.0,427.8 1073.0,426.2 1078.0,424.5 C1083.0,422.8 1088.0,421.2 1093.0,419.5 C1098.0,417.8 1103.0,415.8 1108.0,414.5 C1113.0,413.2 1117.2,412.6 1123.0,412.0 C1128.8,411.4 1135.5,411.2 1143.0,410.8 C1150.5,410.3 1159.7,409.6 1168.0,409.5 C1176.3,409.4 1188.0,410.4 1193.0,410.0 C1198.0,409.6 1197.2,408.8 1198.0,407.0 C1198.8,405.2 1240.9,400.8 1198.0,399.5 C1155.1,398.2 983.4,398.2 940.5,399.5Z"/><path d="M905.5,647.0 C902.2,641.6 904.7,621.2 905.5,614.5 C906.3,607.8 908.4,608.7 910.5,607.0 C912.6,605.3 915.5,604.5 918.0,604.5 C920.5,604.5 923.8,604.5 925.5,607.0 C927.2,609.5 928.0,612.8 928.0,619.5 C928.0,626.2 929.2,642.4 925.5,647.0 C921.8,651.6 908.8,652.4 905.5,647.0Z"/><path d="M943.0,399.5 C936.1,400.8 941.8,404.1 943.0,407.0 C944.2,409.9 947.6,413.7 950.5,417.0 C953.4,420.3 957.6,424.3 960.5,427.0 C963.4,429.7 965.1,432.6 968.0,433.2 C970.9,433.9 975.5,432.6 978.0,430.8 C980.5,428.9 982.0,425.1 983.0,422.0 C984.0,418.9 984.0,415.8 984.2,412.0 C984.5,408.2 991.1,401.6 984.2,399.5 C977.4,397.4 949.9,398.2 943.0,399.5Z"/><path d="M995.5,399.5 C978.0,401.6 995.1,408.2 995.5,412.0 C995.9,415.8 996.3,419.1 998.0,422.0 C999.7,424.9 1002.2,427.8 1005.5,429.5 C1008.8,431.2 1013.4,431.8 1018.0,432.0 C1022.6,432.2 1028.0,431.6 1033.0,430.8 C1038.0,429.9 1042.6,428.5 1048.0,427.0 C1053.4,425.5 1060.1,423.7 1065.5,422.0 C1070.9,420.3 1075.9,418.7 1080.5,417.0 C1085.1,415.3 1089.7,413.7 1093.0,412.0 C1096.3,410.3 1099.2,409.1 1100.5,407.0 C1101.8,404.9 1118.0,400.8 1100.5,399.5 C1083.0,398.2 1013.0,397.4 995.5,399.5Z"/><path d="M915.5,614.5 C916.1,610.3 918.6,607.8 920.5,607.0 C922.4,606.2 925.9,606.2 926.8,609.5 C927.6,612.8 926.3,621.6 925.5,627.0 C924.7,632.4 923.2,641.2 921.8,642.0 C920.3,642.8 917.8,636.6 916.8,632.0 C915.7,627.4 914.9,618.7 915.5,614.5Z"/><path d="M1020.5,399.5 C1009.5,401.2 1020.1,406.6 1021.8,409.5 C1023.4,412.4 1027.0,415.3 1030.5,417.0 C1034.0,418.7 1038.4,419.3 1043.0,419.5 C1047.6,419.7 1053.0,419.1 1058.0,418.2 C1063.0,417.4 1068.4,416.0 1073.0,414.5 C1077.6,413.0 1083.0,412.0 1085.5,409.5 C1088.0,407.0 1098.8,401.2 1088.0,399.5 C1077.2,397.8 1031.5,397.8 1020.5,399.5Z"/><path d="M1043.0,399.5 C1037.2,401.0 1043.0,406.4 1045.5,408.2 C1048.0,410.1 1053.4,410.5 1058.0,410.8 C1062.6,411.0 1069.2,411.4 1073.0,409.5 C1076.8,407.6 1085.5,401.2 1080.5,399.5 C1075.5,397.8 1048.8,398.0 1043.0,399.5Z"/></g><g font-size="8.4" fill="#000" text-anchor="middle"><text x="896.0" y="446.8" transform="rotate(-40 896.0 444.0)">0</text><text x="956.8" y="431.8" transform="rotate(30 956.8 429.0)">1.5</text><text x="1014.2" y="436.1" transform="rotate(0 1014.2 433.2)">1.5</text><text x="1039.2" y="421.8" transform="rotate(0 1039.2 419.0)">2</text><text x="1056.8" y="416.1" transform="rotate(0 1056.8 413.2)">2.5</text><text x="985.5" y="458.6" transform="rotate(-40 985.5 455.8)">1</text><text x="993.0" y="483.6" transform="rotate(20 993.0 480.8)">0.5</text><text x="1054.2" y="472.3" transform="rotate(-40 1054.2 469.5)">0</text><text x="970.5" y="511.1" transform="rotate(-40 970.5 508.2)">0</text><text x="1076.8" y="563.5" transform="rotate(-40 1076.8 560.8)">0</text><text x="1014.2" y="596.0" transform="rotate(-40 1014.2 593.2)">0</text><text x="1105.5" y="606.8" transform="rotate(0 1105.5 604.0)">-0.5</text></g><path d="M866.9,667.3 L866.9,448.6 L868.0,451.3 L868.4,442.9 L868.8,451.3 L868.4,450.5 L869.8,479.2 L869.5,485.3 L869.9,478.1 L870.3,485.3 L870.7,517.5 L872.6,555.7 L874.6,574.8 L875.5,581.0 L875.9,578.7 L876.3,581.0 L876.5,582.5 L877.0,582.3 L877.4,575.8 L877.8,582.3 L878.4,580.6 L880.3,590.1 L880.0,591.0 L880.4,589.9 L880.8,591.0 L881.5,592.0 L881.9,579.2 L882.3,592.0 L883.2,592.0 L883.0,593.7 L883.4,589.8 L883.8,593.7 L886.0,601.6 L886.0,603.5 L886.4,598.1 L886.8,603.5 L889.0,612.5 L889.4,607.8 L889.8,612.5 L889.9,613.1 L892.0,621.5 L892.4,617.0 L892.8,621.5 L893.7,624.5 L895.6,630.3 L896.5,631.5 L896.9,629.6 L897.3,631.5 L898.0,632.0 L898.4,628.9 L898.8,632.0 L898.5,631.2 L899.5,637.8 L899.9,634.8 L900.3,637.8 L900.4,638.9 L902.3,634.1 L904.0,636.3 L904.4,631.3 L904.8,636.3 L905.2,636.0 L905.5,633.0 L905.9,629.2 L906.3,633.0 L907.1,626.4 L907.0,624.7 L907.4,618.5 L907.8,624.7 L908.5,613.7 L908.9,609.8 L909.3,613.7 L909.9,605.4 L911.8,599.7 L911.5,600.9 L911.9,588.2 L912.3,600.9 L913.0,609.9 L913.4,602.3 L913.8,609.9 L913.8,611.2 L914.5,607.0 L914.9,603.4 L915.3,607.0 L915.1,605.4 L916.6,618.8 L919.0,641.0 L919.4,640.2 L919.8,641.0 L919.5,640.8 L920.5,634.5 L920.9,627.5 L921.3,634.5 L922.4,626.4 L924.3,618.8 L926.2,609.2 L927.7,584.4 L928.0,595.1 L928.4,592.5 L928.8,595.1 L929.1,603.5 L931.0,601.6 L931.0,600.6 L931.4,583.0 L931.8,600.6 L932.9,593.9 L934.8,592.0 L935.5,600.7 L935.9,590.7 L936.3,600.7 L936.7,605.4 L937.0,604.1 L937.4,601.4 L937.8,604.1 L938.6,599.7 L938.5,601.4 L938.9,593.8 L939.3,601.4 L940.0,605.9 L940.4,604.3 L940.8,605.9 L940.5,605.4 L941.5,602.1 L941.9,599.3 L942.3,602.1 L942.4,599.7 L943.0,597.9 L943.4,596.2 L943.8,597.9 L944.5,593.9 L944.9,590.1 L945.3,593.9 L945.3,592.0 L947.2,590.1 L949.1,574.8 L950.5,582.8 L950.9,574.4 L951.3,582.8 L951.0,582.5 L953.0,574.8 L954.9,571.0 L956.8,563.4 L958.0,557.6 L958.4,546.4 L958.8,557.6 L958.7,555.7 L959.5,556.5 L959.9,552.5 L960.3,556.5 L960.6,555.7 L962.5,542.3 L963.5,550.0 L964.0,541.3 L964.4,535.2 L964.8,541.3 L964.4,540.4 L965.4,517.5 L965.5,531.0 L965.9,528.0 L966.3,531.0 L966.3,540.4 L968.3,538.5 L968.5,540.6 L968.9,535.2 L969.3,540.6 L970.2,542.3 L972.1,527.0 L974.5,518.4 L974.9,514.8 L975.3,518.4 L974.9,517.5 L976.0,513.4 L976.4,512.3 L976.8,513.4 L977.8,507.9 L979.7,515.5 L981.6,523.2 L983.5,532.8 L983.5,536.5 L983.9,534.4 L984.3,536.5 L985.5,548.1 L986.5,550.3 L986.9,548.2 L987.3,550.3 L987.4,550.0 L989.3,567.2 L989.5,568.6 L989.9,560.2 L990.3,568.6 L991.2,569.1 L992.5,568.2 L992.9,563.6 L993.3,568.2 L993.1,567.2 L995.0,574.8 L996.9,582.5 L997.0,582.8 L997.4,581.1 L997.8,582.8 L998.8,580.6 L1000.8,590.1 L1001.5,582.8 L1001.9,579.1 L1002.3,582.8 L1002.7,576.7 L1004.6,582.5 L1006.0,594.3 L1006.4,588.0 L1006.8,594.3 L1006.5,593.9 L1008.4,601.6 L1010.3,609.2 L1010.5,605.3 L1010.9,604.3 L1011.3,605.3 L1012.2,593.9 L1012.0,595.1 L1012.4,586.1 L1012.8,595.1 L1013.5,598.1 L1013.9,597.3 L1014.3,598.1 L1014.1,597.8 L1015.0,596.0 L1015.4,594.9 L1015.8,596.0 L1016.1,593.9 L1016.5,593.9 L1016.9,593.0 L1017.3,593.9 L1018.0,592.0 L1019.9,597.8 L1021.0,592.4 L1021.4,590.9 L1021.8,592.4 L1021.8,590.1 L1022.5,586.4 L1022.9,581.2 L1023.3,586.4 L1023.7,582.5 L1025.6,574.8 L1027.0,564.8 L1027.4,564.0 L1027.8,564.8 L1027.5,563.4 L1028.5,517.5 L1029.8,465.8 L1031.3,498.3 L1031.5,513.2 L1031.9,505.1 L1032.3,513.2 L1033.3,546.1 L1035.2,574.8 L1037.1,590.1 L1037.5,592.6 L1037.9,590.2 L1038.3,592.6 L1039.0,593.9 L1039.0,595.6 L1039.4,594.1 L1039.8,595.6 L1040.9,597.8 L1042.0,610.6 L1042.4,604.2 L1042.8,610.6 L1042.8,613.1 L1043.5,624.8 L1043.9,621.7 L1044.3,624.8 L1044.7,632.2 L1045.0,634.3 L1045.4,632.5 L1045.8,634.3 L1046.6,636.0 L1048.6,634.1 L1049.5,636.3 L1049.9,628.8 L1050.3,636.3 L1050.5,636.0 L1051.0,640.6 L1051.4,638.7 L1051.8,640.6 L1052.4,643.7 L1052.5,645.5 L1052.9,642.3 L1053.3,645.5 L1054.3,647.5 L1054.0,648.5 L1054.4,635.2 L1054.8,648.5 L1056.2,651.3 L1057.0,656.9 L1057.4,653.8 L1057.8,656.9 L1058.1,659.0 L1060.0,662.8 L1062.6,662.8 L1063.6,653.2 L1064.6,662.8 L1068.4,662.8 L1069.3,637.9 L1070.4,649.2 L1070.8,645.4 L1071.2,649.2 L1071.3,651.3 L1071.9,639.0 L1072.3,634.8 L1072.7,639.0 L1073.2,628.4 L1075.1,643.7 L1074.9,645.5 L1075.3,639.5 L1075.7,645.5 L1077.0,651.3 L1078.9,662.8 L1082.7,662.8 L1083.7,622.6 L1085.6,609.2 L1086.3,604.6 L1086.7,597.0 L1087.1,604.6 L1087.5,599.7 L1089.4,613.1 L1090.8,626.2 L1091.2,619.8 L1091.6,626.2 L1091.3,626.4 L1093.2,593.9 L1095.2,586.3 L1095.3,589.2 L1095.7,570.3 L1096.1,589.2 L1097.1,593.9 L1098.3,586.7 L1098.7,581.4 L1099.1,586.7 L1099.0,584.4 L1099.8,581.4 L1100.2,558.2 L1100.6,581.4 L1100.5,579.6 L1101.8,605.4 L1103.8,636.0 L1105.7,651.3 L1107.6,662.8 L1134.3,662.8 L1136.3,645.6 L1137.4,629.9 L1137.8,627.2 L1138.2,629.9 L1138.2,624.5 L1138.9,581.8 L1139.3,576.5 L1139.7,581.8 L1140.1,548.1 L1140.4,565.1 L1140.8,553.0 L1141.2,565.1 L1142.0,593.9 L1141.9,590.0 L1142.3,586.3 L1142.7,590.0 L1143.4,563.0 L1143.8,556.4 L1144.2,563.0 L1143.9,559.5 L1145.8,613.1 L1146.8,641.7 L1148.7,662.8 L1149.6,651.3 L1150.6,593.9 L1150.7,579.5 L1151.1,571.0 L1151.5,579.5 L1152.5,540.4 L1152.2,543.6 L1152.6,534.0 L1153.0,543.6 L1154.4,574.8 L1155.2,595.1 L1155.6,590.7 L1156.0,595.1 L1156.3,605.4 L1158.3,551.9 L1158.2,561.4 L1158.6,551.2 L1159.0,561.4 L1159.7,594.4 L1160.1,582.4 L1160.5,594.4 L1160.2,593.9 L1162.1,632.2 L1162.7,622.3 L1163.1,616.3 L1163.5,622.3 L1164.0,613.1 L1164.2,590.1 L1164.6,582.3 L1165.0,590.1 L1165.9,544.2 L1167.2,538.0 L1167.6,526.0 L1168.0,538.0 L1167.8,536.6 L1168.7,540.1 L1169.1,535.2 L1169.5,540.1 L1169.7,540.4 L1170.2,590.2 L1170.6,589.2 L1171.0,590.2 L1171.6,641.7 L1172.6,574.8 L1174.5,536.6 L1175.5,486.9 L1177.4,498.3 L1177.7,505.3 L1178.1,483.5 L1178.5,505.3 L1179.3,513.6 L1179.2,516.6 L1179.6,515.5 L1180.0,516.6 L1181.2,525.1 L1182.2,494.0 L1182.6,490.9 L1183.0,494.0 L1183.1,483.0 L1185.0,513.6 L1185.2,508.2 L1185.6,496.4 L1186.0,508.2 L1186.9,494.5 L1188.2,519.3 L1188.6,518.2 L1189.0,519.3 L1188.8,521.3 L1189.7,532.5 L1190.1,514.4 L1190.5,532.5 L1190.8,536.6 L1191.2,580.2 L1191.6,578.5 L1192.0,580.2 L1191.7,582.5 L1192.7,536.6 L1192.7,535.5 L1193.1,523.2 L1193.5,535.5 L1194.6,528.9 L1194.2,529.5 L1194.6,521.1 L1195.0,529.5 L1195.7,523.5 L1196.1,506.4 L1196.5,523.5 L1196.5,521.3 L1198.4,517.5 L1198.7,521.2 L1199.1,507.1 L1199.5,521.2 L1200.3,525.1 L1200.2,523.9 L1200.6,516.6 L1201.0,523.9 L1202.2,513.6 L1203.2,517.3 L1203.6,515.9 L1204.0,517.3 L1204.1,517.5 L1204.7,528.3 L1205.1,526.6 L1205.5,528.3 L1206.1,536.6 L1206.2,540.9 L1206.6,539.9 L1207.0,540.9 L1208.0,548.1 L1209.2,535.4 L1209.6,531.0 L1210.0,535.4 L1209.9,532.8 L1210.7,531.0 L1211.1,529.0 L1211.5,531.0 L1211.8,528.9 L1213.7,546.1 L1215.6,557.6 L1215.2,558.4 L1215.6,557.5 L1216.0,558.4 L1218.2,553.9 L1218.6,550.6 L1219.0,553.9 L1219.4,551.9 L1223.3,546.1 L1225.7,542.6 L1226.1,532.8 L1226.5,542.6 L1227.1,540.4 L1230.9,532.8 L1231.7,531.1 L1232.1,528.5 L1232.5,531.1 L1233.2,528.1 L1233.6,523.8 L1234.0,528.1 L1234.7,525.1 L1236.2,522.1 L1236.6,515.8 L1237.0,522.1 L1237.7,519.1 L1238.1,510.8 L1238.5,519.1 L1238.6,517.5 L1239.2,516.1 L1239.6,512.0 L1240.0,516.1 L1240.7,513.1 L1241.1,511.1 L1241.5,513.1 L1242.4,509.8 L1243.7,507.1 L1244.1,495.1 L1244.5,507.1 L1246.2,502.2 L1246.7,500.1 L1247.1,491.5 L1247.5,500.1 L1248.2,495.6 L1248.6,486.1 L1249.0,495.6 L1250.0,490.7 L1249.7,491.2 L1250.1,484.8 L1250.5,491.2 L1251.2,487.2 L1251.6,484.3 L1252.0,487.2 L1252.9,483.0 L1254.2,480.3 L1254.6,474.2 L1255.0,480.3 L1254.8,479.2 L1257.2,476.8 L1257.6,466.9 L1258.0,476.8 L1260.2,473.3 L1260.6,468.6 L1261.0,473.3 L1261.5,471.6 L1261.5,670.4 L1261.5,667.3Z" fill="#000"/></g><rect x="759.4" y="407.0" width="109.5" height="255.3" fill="#fff"/><clipPath id="lclip11"><rect x="759.4" y="407.0" width="109.5" height="255.3"/></clipPath><path d="M868.80,411.90 C866.33,412.52 858.12,414.37 854.00,415.60 C849.88,416.83 846.37,417.87 844.10,419.30 C841.83,420.73 842.05,422.75 840.40,424.20 C838.75,425.65 836.68,426.55 834.20,428.00 C831.72,429.45 827.15,431.05 825.50,432.90 C823.85,434.75 824.30,437.25 824.30,439.10 C824.30,440.95 826.12,442.15 825.50,444.00 C824.88,445.85 821.02,447.93 820.60,450.20 C820.18,452.47 823.22,455.75 823.00,457.60 C822.78,459.45 821.77,459.85 819.30,461.30 C816.83,462.75 810.17,464.65 808.20,466.30 C806.23,467.95 806.47,469.35 807.50,471.20 C808.53,473.05 812.52,475.33 814.40,477.40 C816.28,479.47 818.80,481.53 818.80,483.60 C818.80,485.67 816.37,487.75 814.40,489.80 C812.43,491.85 808.65,494.05 807.00,495.90 C805.35,497.75 804.10,498.83 804.50,500.90 C804.90,502.97 807.83,506.45 809.40,508.30 C810.97,510.15 813.07,510.35 813.90,512.00 C814.73,513.65 813.78,515.93 814.40,518.20 C815.02,520.47 817.40,522.72 817.60,525.60 C817.80,528.48 816.75,532.00 815.60,535.50 C814.45,539.00 812.35,543.52 810.70,546.60 C809.05,549.68 806.73,551.32 805.70,554.00 C804.67,556.68 804.50,559.60 804.50,562.70 C804.50,565.80 805.70,569.72 805.70,572.60 C805.70,575.48 804.08,577.33 804.50,580.00 C804.92,582.67 806.35,585.52 808.20,588.60 C810.05,591.68 813.13,595.40 815.60,598.50 C818.07,601.60 820.32,604.72 823.00,607.20 C825.68,609.68 829.02,610.93 831.70,613.40 C834.38,615.87 836.83,618.92 839.10,622.00 C841.37,625.08 844.27,629.42 845.30,631.90 C846.33,634.38 846.33,635.25 845.30,636.90 C844.27,638.55 841.78,640.17 839.10,641.80 C836.42,643.43 831.47,645.05 829.20,646.70 C826.93,648.35 826.53,649.15 825.50,651.70 C824.47,654.25 823.42,660.28 823.00,662.00" fill="none" stroke="#0b6fbf" stroke-width="2.7" stroke-linejoin="round" stroke-linecap="round" clip-path="url(#lclip11)"/><path d="M759.4,407.0 H1254.2 V662.3 H759.4 Z M868.9,407.0 V662.3" fill="none" stroke="#2b2b2b" stroke-width="1.7"/><line x1="756.2" y1="407.0" x2="759.4" y2="407.0" stroke="#2b2b2b" stroke-width="1.2"/><text x="747.5" y="413.4" font-size="18.5" text-anchor="end">1000</text><line x1="756.2" y1="438.9" x2="759.4" y2="438.9" stroke="#2b2b2b" stroke-width="1.2"/><text x="747.5" y="445.3" font-size="18.5" text-anchor="end">1500</text><line x1="756.2" y1="470.8" x2="759.4" y2="470.8" stroke="#2b2b2b" stroke-width="1.2"/><text x="747.5" y="477.2" font-size="18.5" text-anchor="end">2000</text><line x1="756.2" y1="502.7" x2="759.4" y2="502.7" stroke="#2b2b2b" stroke-width="1.2"/><text x="747.5" y="509.1" font-size="18.5" text-anchor="end">2500</text><line x1="756.2" y1="534.6" x2="759.4" y2="534.6" stroke="#2b2b2b" stroke-width="1.2"/><text x="747.5" y="541.0" font-size="18.5" text-anchor="end">3000</text><line x1="756.2" y1="566.6" x2="759.4" y2="566.6" stroke="#2b2b2b" stroke-width="1.2"/><text x="747.5" y="573.0" font-size="18.5" text-anchor="end">3500</text><line x1="756.2" y1="598.5" x2="759.4" y2="598.5" stroke="#2b2b2b" stroke-width="1.2"/><text x="747.5" y="604.9" font-size="18.5" text-anchor="end">4000</text><line x1="756.2" y1="630.4" x2="759.4" y2="630.4" stroke="#2b2b2b" stroke-width="1.2"/><text x="747.5" y="636.8" font-size="18.5" text-anchor="end">4500</text><line x1="756.2" y1="662.3" x2="759.4" y2="662.3" stroke="#2b2b2b" stroke-width="1.2"/><text x="747.5" y="668.7" font-size="18.5" text-anchor="end">5000</text><line x1="764.3" y1="662.3" x2="764.3" y2="665.5" stroke="#2b2b2b" stroke-width="1.2"/><text x="758.0" y="686.2" font-size="18.5" text-anchor="middle">-15</text><line x1="814.7" y1="662.3" x2="814.7" y2="665.5" stroke="#2b2b2b" stroke-width="1.2"/><text x="814.0" y="686.2" font-size="18.5" text-anchor="middle">0</text><line x1="865.9" y1="662.3" x2="865.9" y2="665.5" stroke="#2b2b2b" stroke-width="1.2"/><text x="866.6" y="686.2" font-size="18.5" text-anchor="middle">15</text><line x1="896.2" y1="662.3" x2="896.2" y2="665.5" stroke="#2b2b2b" stroke-width="1.2"/><text x="901.1" y="686.2" font-size="18.5" text-anchor="middle">60°S</text><line x1="989.3" y1="662.3" x2="989.3" y2="665.5" stroke="#2b2b2b" stroke-width="1.2"/><text x="992.4" y="686.2" font-size="18.5" text-anchor="middle">40°S</text><line x1="1080.5" y1="662.3" x2="1080.5" y2="665.5" stroke="#2b2b2b" stroke-width="1.2"/><text x="1083.7" y="686.2" font-size="18.5" text-anchor="middle">20°S</text><line x1="1171.2" y1="662.3" x2="1171.2" y2="665.5" stroke="#2b2b2b" stroke-width="1.2"/><text x="1175.0" y="686.2" font-size="18.5" text-anchor="middle">EQ</text><line x1="1215.9" y1="662.3" x2="1215.9" y2="665.5" stroke="#2b2b2b" stroke-width="1.2"/><text x="1218.6" y="686.2" font-size="18.5" text-anchor="middle">10°N</text><text x="811.9" y="715.6" font-size="21" text-anchor="middle">RG (%)</text><text x="1030.2" y="715.4" font-size="21" text-anchor="middle">Latitude</text><text x="0" y="0" font-size="21" text-anchor="middle" transform="translate(695.2,518.4) rotate(-90)">Depth (m)</text><text x="704.0" y="425.6" font-size="35" text-anchor="end">(e)</text><linearGradient id="cbg11" x1="0" y1="0" x2="0" y2="1"><stop offset="0.000" stop-color="#a50026"/><stop offset="0.025" stop-color="#b10b26"/><stop offset="0.050" stop-color="#bd1726"/><stop offset="0.075" stop-color="#ca2427"/><stop offset="0.100" stop-color="#d62f27"/><stop offset="0.125" stop-color="#dd3d2d"/><stop offset="0.150" stop-color="#e54e35"/><stop offset="0.175" stop-color="#ec5c3b"/><stop offset="0.200" stop-color="#f46d43"/><stop offset="0.225" stop-color="#f67c4a"/><stop offset="0.250" stop-color="#f88c51"/><stop offset="0.275" stop-color="#fb9d59"/><stop offset="0.300" stop-color="#fdad60"/><stop offset="0.325" stop-color="#fdbb6d"/><stop offset="0.350" stop-color="#fdc778"/><stop offset="0.375" stop-color="#fed283"/><stop offset="0.400" stop-color="#fee090"/><stop offset="0.425" stop-color="#fee79b"/><stop offset="0.450" stop-color="#fff0a8"/><stop offset="0.475" stop-color="#fff7b3"/><stop offset="0.500" stop-color="#fffebe"/><stop offset="0.525" stop-color="#f7fcce"/><stop offset="0.550" stop-color="#f0f9db"/><stop offset="0.575" stop-color="#e7f6eb"/><stop offset="0.600" stop-color="#e0f3f8"/><stop offset="0.625" stop-color="#d4edf4"/><stop offset="0.650" stop-color="#c5e6f0"/><stop offset="0.675" stop-color="#b9e0ed"/><stop offset="0.700" stop-color="#aad8e9"/><stop offset="0.725" stop-color="#9dcee3"/><stop offset="0.750" stop-color="#90c3dd"/><stop offset="0.775" stop-color="#81b7d7"/><stop offset="0.800" stop-color="#74add1"/><stop offset="0.825" stop-color="#679ec9"/><stop offset="0.850" stop-color="#5c90c2"/><stop offset="0.875" stop-color="#5183bb"/><stop offset="0.900" stop-color="#4574b3"/><stop offset="0.925" stop-color="#4065ac"/><stop offset="0.950" stop-color="#3a54a4"/><stop offset="0.975" stop-color="#36459c"/><stop offset="1.000" stop-color="#313695"/></linearGradient><rect x="1257.6" y="407.0" width="8.1" height="255.3" fill="url(#cbg11)" stroke="#2b2b2b" stroke-width="0.9"/><line x1="1265.7" y1="448.4" x2="1268.2" y2="448.4" stroke="#2b2b2b" stroke-width="1"/><text x="1271.7" y="453.4" font-size="18.5" text-anchor="start">2</text><line x1="1265.7" y1="491.5" x2="1268.2" y2="491.5" stroke="#2b2b2b" stroke-width="1"/><text x="1271.7" y="496.5" font-size="18.5" text-anchor="start">1</text><line x1="1265.7" y1="534.6" x2="1268.2" y2="534.6" stroke="#2b2b2b" stroke-width="1"/><text x="1271.7" y="539.6" font-size="18.5" text-anchor="start">0</text><line x1="1265.7" y1="577.8" x2="1268.2" y2="577.8" stroke="#2b2b2b" stroke-width="1"/><text x="1271.7" y="582.8" font-size="18.5" text-anchor="start">-1</text><line x1="1265.7" y1="620.9" x2="1268.2" y2="620.9" stroke="#2b2b2b" stroke-width="1"/><text x="1271.7" y="625.9" font-size="18.5" text-anchor="start">-2</text><text x="1268.2" y="394.7" font-size="13.4">×10<tspan font-size="9.6" dy="-4">-3</tspan></text><clipPath id="clip12"><rect x="1518.4" y="405.3" width="384.1" height="255.8"/></clipPath><g clip-path="url(#clip12)"><rect x="1518.4" y="405.3" width="384.1" height="255.8" fill="#e0f3f8"/><path d="M1511.5,399.5 C1454.8,417.4 1509.4,489.9 1511.5,507.0 C1513.6,524.1 1521.7,506.2 1524.0,502.0 C1526.3,497.8 1524.8,489.5 1525.2,482.0 C1525.8,474.5 1526.2,464.1 1527.0,457.0 C1527.8,449.9 1528.2,443.8 1530.2,439.5 C1532.2,435.2 1535.5,433.2 1539.0,431.5 C1542.5,429.8 1547.3,429.4 1551.5,429.0 C1555.7,428.6 1559.8,428.5 1564.0,429.0 C1568.2,429.5 1573.2,429.8 1576.5,432.0 C1579.8,434.2 1582.3,437.8 1584.0,442.0 C1585.7,446.2 1585.7,452.8 1586.5,457.0 C1587.3,461.2 1586.9,464.3 1589.0,467.0 C1591.1,469.7 1594.8,472.1 1599.0,473.2 C1603.2,474.4 1607.9,473.9 1614.0,474.0 C1620.1,474.1 1628.8,475.2 1635.5,474.0 C1642.2,472.8 1648.4,469.2 1654.0,467.0 C1659.6,464.8 1664.0,462.6 1669.0,460.5 C1674.0,458.4 1678.4,456.7 1684.0,454.5 C1689.6,452.3 1695.2,449.8 1702.8,447.2 C1710.2,444.8 1720.6,441.8 1729.0,439.5 C1737.4,437.2 1744.7,435.8 1753.0,433.8 C1761.3,431.7 1770.6,429.2 1779.0,427.0 C1787.4,424.8 1796.0,422.3 1803.5,420.2 C1811.0,418.2 1818.4,416.2 1824.0,414.5 C1829.6,412.8 1832.8,411.7 1837.0,410.2 C1841.2,408.8 1846.6,407.5 1849.0,405.8 C1851.4,404.0 1907.8,400.5 1851.5,399.5 C1795.2,398.5 1568.2,381.6 1511.5,399.5Z" fill="#fffebe"/><path d="M1864.0,399.5 C1857.3,400.8 1866.8,404.7 1869.0,407.0 C1871.2,409.3 1874.2,410.7 1877.2,413.5 C1880.3,416.3 1885.9,419.8 1887.2,423.8 C1888.6,427.7 1886.9,432.0 1885.5,437.0 C1884.1,442.0 1880.4,448.4 1879.0,454.0 C1877.6,459.6 1876.7,465.2 1877.2,470.8 C1877.8,476.3 1880.0,481.9 1882.2,487.5 C1884.5,493.1 1887.4,500.3 1890.5,504.2 C1893.6,508.2 1897.7,509.7 1900.8,511.0 C1903.8,512.3 1907.6,530.6 1909.0,512.0 C1910.4,493.4 1916.5,418.2 1909.0,399.5 C1901.5,380.8 1870.7,398.2 1864.0,399.5Z" fill="#fffebe"/><path d="M1511.5,507.0 C1514.0,479.3 1521.9,504.3 1526.5,503.2 C1531.1,502.2 1532.8,501.2 1539.0,500.8 C1545.2,500.3 1556.9,500.1 1564.0,500.8 C1571.1,501.4 1575.7,502.6 1581.5,504.5 C1587.3,506.4 1593.6,509.9 1599.0,512.0 C1604.4,514.1 1609.4,517.0 1614.0,517.0 C1618.6,517.0 1622.8,513.9 1626.5,512.0 C1630.2,510.1 1633.2,507.8 1636.5,505.8 C1639.8,503.8 1643.6,500.8 1646.5,500.0 C1649.4,499.2 1651.5,499.2 1654.0,500.8 C1656.5,502.3 1659.4,506.0 1661.5,509.5 C1663.6,513.0 1665.9,517.8 1666.5,522.0 C1667.1,526.2 1666.5,531.4 1665.2,534.5 C1664.0,537.6 1662.1,539.5 1659.0,540.8 C1655.9,542.0 1650.2,541.6 1646.5,542.0 C1642.8,542.4 1640.2,542.4 1636.5,543.2 C1632.8,544.1 1628.2,546.0 1624.0,547.0 C1619.8,548.0 1615.7,548.9 1611.5,549.5 C1607.3,550.1 1603.2,550.3 1599.0,550.8 C1594.8,551.2 1591.1,551.4 1586.5,552.0 C1581.9,552.6 1575.2,552.4 1571.5,554.5 C1567.8,556.6 1565.2,560.8 1564.0,564.5 C1562.8,568.2 1563.2,573.2 1564.0,577.0 C1564.8,580.8 1566.5,582.8 1569.0,587.0 C1571.5,591.2 1576.9,588.2 1579.0,602.0 C1581.1,615.8 1592.8,658.2 1581.5,669.5 C1570.2,680.8 1523.2,696.6 1511.5,669.5 C1499.8,642.4 1509.0,534.7 1511.5,507.0Z" fill="#fffebe"/><path d="M1646.5,579.5 C1648.6,576.2 1656.7,577.6 1661.5,577.5 C1666.3,577.4 1672.8,577.4 1675.2,579.0 C1677.8,580.6 1677.1,583.2 1676.5,587.0 C1675.9,590.8 1674.4,598.7 1671.5,602.0 C1668.6,605.3 1662.8,607.8 1659.0,607.0 C1655.2,606.2 1651.1,601.6 1649.0,597.0 C1646.9,592.4 1644.4,582.8 1646.5,579.5Z" fill="#fffebe"/><path d="M1716.5,669.5 C1713.4,667.0 1716.9,657.8 1719.0,654.5 C1721.1,651.2 1726.1,649.5 1729.0,649.5 C1731.9,649.5 1735.0,651.2 1736.5,654.5 C1738.0,657.8 1741.1,667.0 1737.8,669.5 C1734.4,672.0 1719.6,672.0 1716.5,669.5Z" fill="#fffebe"/><path d="M1769.0,669.5 C1764.6,667.4 1771.1,659.7 1774.0,657.0 C1776.9,654.3 1782.3,653.7 1786.5,653.2 C1790.7,652.8 1796.7,651.8 1799.0,654.5 C1801.3,657.2 1805.2,667.0 1800.2,669.5 C1795.2,672.0 1773.4,671.6 1769.0,669.5Z" fill="#fffebe"/><path d="M1586.5,399.5 C1553.2,400.8 1586.9,404.1 1589.0,407.0 C1591.1,409.9 1595.2,412.8 1599.0,417.0 C1602.8,421.2 1607.3,427.4 1611.5,432.0 C1615.7,436.6 1619.4,442.0 1624.0,444.5 C1628.6,447.0 1633.2,447.0 1639.0,447.0 C1644.8,447.0 1652.8,445.3 1659.0,444.5 C1665.2,443.7 1670.7,443.0 1676.5,442.0 C1682.3,441.0 1687.8,439.9 1694.0,438.2 C1700.2,436.6 1708.2,434.3 1714.0,432.0 C1719.8,429.7 1724.0,427.0 1729.0,424.5 C1734.0,422.0 1739.0,419.1 1744.0,417.0 C1749.0,414.9 1754.0,413.2 1759.0,412.0 C1764.0,410.8 1769.0,410.3 1774.0,409.5 C1779.0,408.7 1786.5,408.7 1789.0,407.0 C1791.5,405.3 1822.8,400.8 1789.0,399.5 C1755.2,398.2 1619.8,398.2 1586.5,399.5Z" fill="#fee090"/><path d="M1599.0,399.5 C1576.1,400.8 1599.0,404.1 1601.5,407.0 C1604.0,409.9 1609.4,413.7 1614.0,417.0 C1618.6,420.3 1623.6,424.7 1629.0,427.0 C1634.4,429.3 1640.7,430.0 1646.5,430.8 C1652.3,431.5 1658.2,431.9 1664.0,431.5 C1669.8,431.1 1675.7,429.6 1681.5,428.2 C1687.3,426.9 1693.6,425.1 1699.0,423.2 C1704.4,421.4 1709.4,418.9 1714.0,417.0 C1718.6,415.1 1722.3,413.7 1726.5,412.0 C1730.7,410.3 1736.9,409.1 1739.0,407.0 C1741.1,404.9 1762.3,400.8 1739.0,399.5 C1715.7,398.2 1621.9,398.2 1599.0,399.5Z" fill="#fdaf62"/><path d="M1634.0,399.5 C1619.8,401.0 1634.0,405.8 1636.5,408.2 C1639.0,410.8 1644.4,412.8 1649.0,414.5 C1653.6,416.2 1659.0,417.5 1664.0,418.2 C1669.0,419.0 1674.0,419.2 1679.0,419.0 C1684.0,418.8 1689.0,418.0 1694.0,417.0 C1699.0,416.0 1704.8,414.7 1709.0,413.2 C1713.2,411.8 1716.9,410.5 1719.0,408.2 C1721.1,406.0 1735.7,401.0 1721.5,399.5 C1707.3,398.0 1648.2,398.0 1634.0,399.5Z" fill="#f46d43"/><path d="M1671.5,399.5 C1663.6,400.8 1673.6,405.1 1676.5,407.0 C1679.4,408.9 1684.8,409.9 1689.0,410.8 C1693.2,411.6 1697.3,412.1 1701.5,412.0 C1705.7,411.9 1710.2,412.1 1714.0,410.0 C1717.8,407.9 1731.1,401.2 1724.0,399.5 C1716.9,397.8 1679.4,398.2 1671.5,399.5Z" fill="#d83128"/><path d="M1755.2,457.0 C1754.8,454.3 1755.9,452.0 1759.0,450.8 C1762.1,449.5 1769.0,450.1 1774.0,449.5 C1779.0,448.9 1784.0,448.2 1789.0,447.0 C1794.0,445.8 1799.0,443.5 1804.0,442.0 C1809.0,440.5 1814.4,438.2 1819.0,438.2 C1823.6,438.2 1828.2,438.9 1831.5,442.0 C1834.8,445.1 1836.5,452.0 1839.0,457.0 C1841.5,462.0 1844.2,467.0 1846.5,472.0 C1848.8,477.0 1851.3,481.6 1852.8,487.0 C1854.2,492.4 1855.0,499.1 1855.2,504.5 C1855.5,509.9 1855.0,514.1 1854.0,519.5 C1853.0,524.9 1851.5,530.8 1849.0,537.0 C1846.5,543.2 1841.9,551.2 1839.0,557.0 C1836.1,562.8 1834.0,567.0 1831.5,572.0 C1829.0,577.0 1826.9,583.8 1824.0,587.0 C1821.1,590.2 1818.2,590.8 1814.0,591.5 C1809.8,592.2 1804.4,591.5 1799.0,591.5 C1793.6,591.5 1787.3,591.2 1781.5,591.5 C1775.7,591.8 1769.0,591.9 1764.0,593.2 C1759.0,594.6 1754.6,600.5 1751.5,599.5 C1748.4,598.5 1745.2,589.9 1745.2,587.0 C1745.2,584.1 1748.8,583.7 1751.5,582.0 C1754.2,580.3 1758.4,579.5 1761.5,577.0 C1764.6,574.5 1767.5,570.8 1770.2,567.0 C1773.0,563.2 1775.2,558.5 1777.8,554.5 C1780.2,550.5 1782.1,546.8 1785.2,543.2 C1788.4,539.7 1792.8,536.6 1796.5,533.2 C1800.2,529.9 1805.0,526.8 1807.8,523.2 C1810.5,519.7 1812.1,516.4 1812.8,512.0 C1813.4,507.6 1813.0,501.6 1811.5,497.0 C1810.0,492.4 1807.8,487.4 1804.0,484.5 C1800.2,481.6 1794.0,480.8 1789.0,479.5 C1784.0,478.2 1778.6,479.1 1774.0,477.0 C1769.4,474.9 1764.6,470.3 1761.5,467.0 C1758.4,463.7 1755.7,459.7 1755.2,457.0Z" fill="#acdae9"/><g fill="none" stroke="#222" stroke-width="0.7" stroke-dasharray="1.5 2" stroke-opacity="0.8"><path d="M1511.5,399.5 C1454.8,417.4 1509.4,489.9 1511.5,507.0 C1513.6,524.1 1521.7,506.2 1524.0,502.0 C1526.3,497.8 1524.8,489.5 1525.2,482.0 C1525.8,474.5 1526.2,464.1 1527.0,457.0 C1527.8,449.9 1528.2,443.8 1530.2,439.5 C1532.2,435.2 1535.5,433.2 1539.0,431.5 C1542.5,429.8 1547.3,429.4 1551.5,429.0 C1555.7,428.6 1559.8,428.5 1564.0,429.0 C1568.2,429.5 1573.2,429.8 1576.5,432.0 C1579.8,434.2 1582.3,437.8 1584.0,442.0 C1585.7,446.2 1585.7,452.8 1586.5,457.0 C1587.3,461.2 1586.9,464.3 1589.0,467.0 C1591.1,469.7 1594.8,472.1 1599.0,473.2 C1603.2,474.4 1607.9,473.9 1614.0,474.0 C1620.1,474.1 1628.8,475.2 1635.5,474.0 C1642.2,472.8 1648.4,469.2 1654.0,467.0 C1659.6,464.8 1664.0,462.6 1669.0,460.5 C1674.0,458.4 1678.4,456.7 1684.0,454.5 C1689.6,452.3 1695.2,449.8 1702.8,447.2 C1710.2,444.8 1720.6,441.8 1729.0,439.5 C1737.4,437.2 1744.7,435.8 1753.0,433.8 C1761.3,431.7 1770.6,429.2 1779.0,427.0 C1787.4,424.8 1796.0,422.3 1803.5,420.2 C1811.0,418.2 1818.4,416.2 1824.0,414.5 C1829.6,412.8 1832.8,411.7 1837.0,410.2 C1841.2,408.8 1846.6,407.5 1849.0,405.8 C1851.4,404.0 1907.8,400.5 1851.5,399.5 C1795.2,398.5 1568.2,381.6 1511.5,399.5Z"/><path d="M1864.0,399.5 C1857.3,400.8 1866.8,404.7 1869.0,407.0 C1871.2,409.3 1874.2,410.7 1877.2,413.5 C1880.3,416.3 1885.9,419.8 1887.2,423.8 C1888.6,427.7 1886.9,432.0 1885.5,437.0 C1884.1,442.0 1880.4,448.4 1879.0,454.0 C1877.6,459.6 1876.7,465.2 1877.2,470.8 C1877.8,476.3 1880.0,481.9 1882.2,487.5 C1884.5,493.1 1887.4,500.3 1890.5,504.2 C1893.6,508.2 1897.7,509.7 1900.8,511.0 C1903.8,512.3 1907.6,530.6 1909.0,512.0 C1910.4,493.4 1916.5,418.2 1909.0,399.5 C1901.5,380.8 1870.7,398.2 1864.0,399.5Z"/><path d="M1511.5,507.0 C1514.0,479.3 1521.9,504.3 1526.5,503.2 C1531.1,502.2 1532.8,501.2 1539.0,500.8 C1545.2,500.3 1556.9,500.1 1564.0,500.8 C1571.1,501.4 1575.7,502.6 1581.5,504.5 C1587.3,506.4 1593.6,509.9 1599.0,512.0 C1604.4,514.1 1609.4,517.0 1614.0,517.0 C1618.6,517.0 1622.8,513.9 1626.5,512.0 C1630.2,510.1 1633.2,507.8 1636.5,505.8 C1639.8,503.8 1643.6,500.8 1646.5,500.0 C1649.4,499.2 1651.5,499.2 1654.0,500.8 C1656.5,502.3 1659.4,506.0 1661.5,509.5 C1663.6,513.0 1665.9,517.8 1666.5,522.0 C1667.1,526.2 1666.5,531.4 1665.2,534.5 C1664.0,537.6 1662.1,539.5 1659.0,540.8 C1655.9,542.0 1650.2,541.6 1646.5,542.0 C1642.8,542.4 1640.2,542.4 1636.5,543.2 C1632.8,544.1 1628.2,546.0 1624.0,547.0 C1619.8,548.0 1615.7,548.9 1611.5,549.5 C1607.3,550.1 1603.2,550.3 1599.0,550.8 C1594.8,551.2 1591.1,551.4 1586.5,552.0 C1581.9,552.6 1575.2,552.4 1571.5,554.5 C1567.8,556.6 1565.2,560.8 1564.0,564.5 C1562.8,568.2 1563.2,573.2 1564.0,577.0 C1564.8,580.8 1566.5,582.8 1569.0,587.0 C1571.5,591.2 1576.9,588.2 1579.0,602.0 C1581.1,615.8 1592.8,658.2 1581.5,669.5 C1570.2,680.8 1523.2,696.6 1511.5,669.5 C1499.8,642.4 1509.0,534.7 1511.5,507.0Z"/><path d="M1646.5,579.5 C1648.6,576.2 1656.7,577.6 1661.5,577.5 C1666.3,577.4 1672.8,577.4 1675.2,579.0 C1677.8,580.6 1677.1,583.2 1676.5,587.0 C1675.9,590.8 1674.4,598.7 1671.5,602.0 C1668.6,605.3 1662.8,607.8 1659.0,607.0 C1655.2,606.2 1651.1,601.6 1649.0,597.0 C1646.9,592.4 1644.4,582.8 1646.5,579.5Z"/><path d="M1716.5,669.5 C1713.4,667.0 1716.9,657.8 1719.0,654.5 C1721.1,651.2 1726.1,649.5 1729.0,649.5 C1731.9,649.5 1735.0,651.2 1736.5,654.5 C1738.0,657.8 1741.1,667.0 1737.8,669.5 C1734.4,672.0 1719.6,672.0 1716.5,669.5Z"/><path d="M1769.0,669.5 C1764.6,667.4 1771.1,659.7 1774.0,657.0 C1776.9,654.3 1782.3,653.7 1786.5,653.2 C1790.7,652.8 1796.7,651.8 1799.0,654.5 C1801.3,657.2 1805.2,667.0 1800.2,669.5 C1795.2,672.0 1773.4,671.6 1769.0,669.5Z"/><path d="M1586.5,399.5 C1553.2,400.8 1586.9,404.1 1589.0,407.0 C1591.1,409.9 1595.2,412.8 1599.0,417.0 C1602.8,421.2 1607.3,427.4 1611.5,432.0 C1615.7,436.6 1619.4,442.0 1624.0,444.5 C1628.6,447.0 1633.2,447.0 1639.0,447.0 C1644.8,447.0 1652.8,445.3 1659.0,444.5 C1665.2,443.7 1670.7,443.0 1676.5,442.0 C1682.3,441.0 1687.8,439.9 1694.0,438.2 C1700.2,436.6 1708.2,434.3 1714.0,432.0 C1719.8,429.7 1724.0,427.0 1729.0,424.5 C1734.0,422.0 1739.0,419.1 1744.0,417.0 C1749.0,414.9 1754.0,413.2 1759.0,412.0 C1764.0,410.8 1769.0,410.3 1774.0,409.5 C1779.0,408.7 1786.5,408.7 1789.0,407.0 C1791.5,405.3 1822.8,400.8 1789.0,399.5 C1755.2,398.2 1619.8,398.2 1586.5,399.5Z"/><path d="M1599.0,399.5 C1576.1,400.8 1599.0,404.1 1601.5,407.0 C1604.0,409.9 1609.4,413.7 1614.0,417.0 C1618.6,420.3 1623.6,424.7 1629.0,427.0 C1634.4,429.3 1640.7,430.0 1646.5,430.8 C1652.3,431.5 1658.2,431.9 1664.0,431.5 C1669.8,431.1 1675.7,429.6 1681.5,428.2 C1687.3,426.9 1693.6,425.1 1699.0,423.2 C1704.4,421.4 1709.4,418.9 1714.0,417.0 C1718.6,415.1 1722.3,413.7 1726.5,412.0 C1730.7,410.3 1736.9,409.1 1739.0,407.0 C1741.1,404.9 1762.3,400.8 1739.0,399.5 C1715.7,398.2 1621.9,398.2 1599.0,399.5Z"/><path d="M1634.0,399.5 C1619.8,401.0 1634.0,405.8 1636.5,408.2 C1639.0,410.8 1644.4,412.8 1649.0,414.5 C1653.6,416.2 1659.0,417.5 1664.0,418.2 C1669.0,419.0 1674.0,419.2 1679.0,419.0 C1684.0,418.8 1689.0,418.0 1694.0,417.0 C1699.0,416.0 1704.8,414.7 1709.0,413.2 C1713.2,411.8 1716.9,410.5 1719.0,408.2 C1721.1,406.0 1735.7,401.0 1721.5,399.5 C1707.3,398.0 1648.2,398.0 1634.0,399.5Z"/><path d="M1671.5,399.5 C1663.6,400.8 1673.6,405.1 1676.5,407.0 C1679.4,408.9 1684.8,409.9 1689.0,410.8 C1693.2,411.6 1697.3,412.1 1701.5,412.0 C1705.7,411.9 1710.2,412.1 1714.0,410.0 C1717.8,407.9 1731.1,401.2 1724.0,399.5 C1716.9,397.8 1679.4,398.2 1671.5,399.5Z"/><path d="M1755.2,457.0 C1754.8,454.3 1755.9,452.0 1759.0,450.8 C1762.1,449.5 1769.0,450.1 1774.0,449.5 C1779.0,448.9 1784.0,448.2 1789.0,447.0 C1794.0,445.8 1799.0,443.5 1804.0,442.0 C1809.0,440.5 1814.4,438.2 1819.0,438.2 C1823.6,438.2 1828.2,438.9 1831.5,442.0 C1834.8,445.1 1836.5,452.0 1839.0,457.0 C1841.5,462.0 1844.2,467.0 1846.5,472.0 C1848.8,477.0 1851.3,481.6 1852.8,487.0 C1854.2,492.4 1855.0,499.1 1855.2,504.5 C1855.5,509.9 1855.0,514.1 1854.0,519.5 C1853.0,524.9 1851.5,530.8 1849.0,537.0 C1846.5,543.2 1841.9,551.2 1839.0,557.0 C1836.1,562.8 1834.0,567.0 1831.5,572.0 C1829.0,577.0 1826.9,583.8 1824.0,587.0 C1821.1,590.2 1818.2,590.8 1814.0,591.5 C1809.8,592.2 1804.4,591.5 1799.0,591.5 C1793.6,591.5 1787.3,591.2 1781.5,591.5 C1775.7,591.8 1769.0,591.9 1764.0,593.2 C1759.0,594.6 1754.6,600.5 1751.5,599.5 C1748.4,598.5 1745.2,589.9 1745.2,587.0 C1745.2,584.1 1748.8,583.7 1751.5,582.0 C1754.2,580.3 1758.4,579.5 1761.5,577.0 C1764.6,574.5 1767.5,570.8 1770.2,567.0 C1773.0,563.2 1775.2,558.5 1777.8,554.5 C1780.2,550.5 1782.1,546.8 1785.2,543.2 C1788.4,539.7 1792.8,536.6 1796.5,533.2 C1800.2,529.9 1805.0,526.8 1807.8,523.2 C1810.5,519.7 1812.1,516.4 1812.8,512.0 C1813.4,507.6 1813.0,501.6 1811.5,497.0 C1810.0,492.4 1807.8,487.4 1804.0,484.5 C1800.2,481.6 1794.0,480.8 1789.0,479.5 C1784.0,478.2 1778.6,479.1 1774.0,477.0 C1769.4,474.9 1764.6,470.3 1761.5,467.0 C1758.4,463.7 1755.7,459.7 1755.2,457.0Z"/></g><g font-size="8.4" fill="#000" text-anchor="middle"><text x="1693.5" y="414.8" transform="rotate(0 1693.5 412.0)">8</text><text x="1666.5" y="421.8" transform="rotate(0 1666.5 419.0)">6</text><text x="1641.5" y="431.8" transform="rotate(0 1641.5 429.0)">4</text><text x="1634.8" y="449.3" transform="rotate(0 1634.8 446.5)">2</text><text x="1622.8" y="476.8" transform="rotate(0 1622.8 474.0)">0</text><text x="1782.8" y="453.1" transform="rotate(0 1782.8 450.2)">-2</text><text x="1889.0" y="441.1" transform="rotate(-90 1889.0 438.2)">0</text><text x="1650.2" y="544.8" transform="rotate(0 1650.2 542.0)">0</text></g><path d="M1516.4,666.1 L1516.4,446.9 L1517.5,449.6 L1517.9,441.2 L1518.3,449.6 L1517.9,448.8 L1519.3,477.5 L1519.0,483.6 L1519.4,476.4 L1519.8,483.6 L1520.2,515.8 L1522.1,554.0 L1524.1,573.1 L1525.0,579.3 L1525.4,577.0 L1525.8,579.3 L1526.0,580.8 L1526.5,580.6 L1526.9,574.1 L1527.3,580.6 L1527.9,578.9 L1529.8,588.4 L1529.5,589.3 L1529.9,588.2 L1530.3,589.3 L1531.0,590.3 L1531.4,577.5 L1531.8,590.3 L1532.7,590.3 L1532.5,592.0 L1532.9,588.1 L1533.3,592.0 L1535.5,599.9 L1535.5,601.8 L1535.9,596.4 L1536.3,601.8 L1538.5,610.8 L1538.9,606.1 L1539.3,610.8 L1539.4,611.4 L1541.5,619.8 L1541.9,615.3 L1542.3,619.8 L1543.2,622.8 L1545.1,628.6 L1546.0,629.8 L1546.4,627.9 L1546.8,629.8 L1547.5,630.3 L1547.9,627.2 L1548.3,630.3 L1548.0,629.5 L1549.0,636.1 L1549.4,633.1 L1549.8,636.1 L1549.9,637.2 L1551.8,632.4 L1553.5,634.6 L1553.9,629.6 L1554.3,634.6 L1554.7,634.3 L1555.0,631.3 L1555.4,627.5 L1555.8,631.3 L1556.6,624.7 L1556.5,623.0 L1556.9,616.8 L1557.3,623.0 L1558.0,612.0 L1558.4,608.1 L1558.8,612.0 L1559.4,603.7 L1561.3,598.0 L1561.0,599.2 L1561.4,586.5 L1561.8,599.2 L1562.5,608.2 L1562.9,600.6 L1563.3,608.2 L1563.3,609.5 L1564.0,605.3 L1564.4,601.7 L1564.8,605.3 L1564.6,603.7 L1566.1,617.1 L1568.5,639.3 L1568.9,638.5 L1569.3,639.3 L1569.0,639.1 L1570.0,632.8 L1570.4,625.8 L1570.8,632.8 L1571.9,624.7 L1573.8,617.1 L1575.7,607.5 L1577.2,582.7 L1577.5,593.4 L1577.9,590.8 L1578.3,593.4 L1578.6,601.8 L1580.5,599.9 L1580.5,598.9 L1580.9,581.3 L1581.3,598.9 L1582.4,592.2 L1584.3,590.3 L1585.0,599.0 L1585.4,589.0 L1585.8,599.0 L1586.2,603.7 L1586.5,602.4 L1586.9,599.7 L1587.3,602.4 L1588.1,598.0 L1588.0,599.7 L1588.4,592.1 L1588.8,599.7 L1589.5,604.2 L1589.9,602.6 L1590.3,604.2 L1590.0,603.7 L1591.0,600.4 L1591.4,597.6 L1591.8,600.4 L1591.9,598.0 L1592.5,596.2 L1592.9,594.5 L1593.3,596.2 L1594.0,592.2 L1594.4,588.4 L1594.8,592.2 L1594.8,590.3 L1596.7,588.4 L1598.6,573.1 L1600.0,581.1 L1600.4,572.7 L1600.8,581.1 L1600.5,580.8 L1602.5,573.1 L1604.4,569.3 L1606.3,561.7 L1607.5,555.9 L1607.9,544.7 L1608.3,555.9 L1608.2,554.0 L1609.0,554.8 L1609.4,550.8 L1609.8,554.8 L1610.1,554.0 L1612.0,540.6 L1613.0,548.3 L1613.5,539.6 L1613.9,533.5 L1614.3,539.6 L1613.9,538.7 L1614.9,515.8 L1615.0,529.3 L1615.4,526.3 L1615.8,529.3 L1615.8,538.7 L1617.8,536.8 L1618.0,538.9 L1618.4,533.5 L1618.8,538.9 L1619.7,540.6 L1621.6,525.3 L1624.0,516.7 L1624.4,513.1 L1624.8,516.7 L1624.4,515.8 L1625.5,511.7 L1625.9,510.6 L1626.3,511.7 L1627.3,506.2 L1629.2,513.8 L1631.1,521.5 L1633.0,531.1 L1633.0,534.8 L1633.4,532.7 L1633.8,534.8 L1635.0,546.4 L1636.0,548.6 L1636.4,546.5 L1636.8,548.6 L1636.9,548.3 L1638.8,565.5 L1639.0,566.9 L1639.4,558.5 L1639.8,566.9 L1640.7,567.4 L1642.0,566.5 L1642.4,561.9 L1642.8,566.5 L1642.6,565.5 L1644.5,573.1 L1646.4,580.8 L1646.5,581.1 L1646.9,579.4 L1647.3,581.1 L1648.3,578.9 L1650.3,588.4 L1651.0,581.1 L1651.4,577.4 L1651.8,581.1 L1652.2,575.0 L1654.1,580.8 L1655.5,592.6 L1655.9,586.3 L1656.3,592.6 L1656.0,592.2 L1657.9,599.9 L1659.8,607.5 L1660.0,603.6 L1660.4,602.6 L1660.8,603.6 L1661.7,592.2 L1661.5,593.4 L1661.9,584.4 L1662.3,593.4 L1663.0,596.4 L1663.4,595.6 L1663.8,596.4 L1663.6,596.1 L1664.5,594.3 L1664.9,593.2 L1665.3,594.3 L1665.6,592.2 L1666.0,592.2 L1666.4,591.3 L1666.8,592.2 L1667.5,590.3 L1669.4,596.1 L1670.5,590.7 L1670.9,589.2 L1671.3,590.7 L1671.3,588.4 L1672.0,584.7 L1672.4,579.5 L1672.8,584.7 L1673.2,580.8 L1675.1,573.1 L1676.5,563.1 L1676.9,562.3 L1677.3,563.1 L1677.0,561.7 L1678.0,515.8 L1679.3,464.1 L1680.8,496.6 L1681.0,511.5 L1681.4,503.4 L1681.8,511.5 L1682.8,544.4 L1684.7,573.1 L1686.6,588.4 L1687.0,590.9 L1687.4,588.5 L1687.8,590.9 L1688.5,592.2 L1688.5,593.9 L1688.9,592.4 L1689.3,593.9 L1690.4,596.1 L1691.5,608.9 L1691.9,602.5 L1692.3,608.9 L1692.3,611.4 L1693.0,623.1 L1693.4,620.0 L1693.8,623.1 L1694.2,630.5 L1694.5,632.6 L1694.9,630.8 L1695.3,632.6 L1696.1,634.3 L1698.1,632.4 L1699.0,634.6 L1699.4,627.1 L1699.8,634.6 L1700.0,634.3 L1700.5,638.9 L1700.9,637.0 L1701.3,638.9 L1701.9,642.0 L1702.0,643.8 L1702.4,640.6 L1702.8,643.8 L1703.8,645.8 L1703.5,646.8 L1703.9,633.5 L1704.3,646.8 L1705.7,649.6 L1706.5,655.2 L1706.9,652.1 L1707.3,655.2 L1707.6,657.3 L1709.5,661.1 L1712.1,661.1 L1713.1,651.5 L1714.1,661.1 L1717.9,661.1 L1718.8,636.2 L1719.9,647.5 L1720.3,643.7 L1720.7,647.5 L1720.8,649.6 L1721.4,637.3 L1721.8,633.1 L1722.2,637.3 L1722.7,626.7 L1724.6,642.0 L1724.4,643.8 L1724.8,637.8 L1725.2,643.8 L1726.5,649.6 L1728.4,661.1 L1732.2,661.1 L1733.2,620.9 L1735.1,607.5 L1735.8,602.9 L1736.2,595.3 L1736.6,602.9 L1737.0,598.0 L1738.9,611.4 L1740.3,624.5 L1740.7,618.1 L1741.1,624.5 L1740.8,624.7 L1742.7,592.2 L1744.7,584.6 L1744.8,587.5 L1745.2,568.6 L1745.6,587.5 L1746.6,592.2 L1747.8,585.0 L1748.2,579.7 L1748.6,585.0 L1748.5,582.7 L1749.3,579.7 L1749.7,556.5 L1750.1,579.7 L1750.0,577.9 L1751.3,603.7 L1753.3,634.3 L1755.2,649.6 L1757.1,661.1 L1783.8,661.1 L1785.8,643.9 L1786.9,628.2 L1787.3,625.5 L1787.7,628.2 L1787.7,622.8 L1788.4,580.1 L1788.8,574.8 L1789.2,580.1 L1789.6,546.4 L1789.9,563.4 L1790.3,551.3 L1790.7,563.4 L1791.5,592.2 L1791.4,588.3 L1791.8,584.6 L1792.2,588.3 L1792.9,561.3 L1793.3,554.7 L1793.7,561.3 L1793.4,557.8 L1795.3,611.4 L1796.3,640.0 L1798.2,661.1 L1799.1,649.6 L1800.1,592.2 L1800.2,577.8 L1800.6,569.3 L1801.0,577.8 L1802.0,538.7 L1801.7,541.9 L1802.1,532.3 L1802.5,541.9 L1803.9,573.1 L1804.7,593.4 L1805.1,589.0 L1805.5,593.4 L1805.8,603.7 L1807.8,550.2 L1807.7,559.7 L1808.1,549.5 L1808.5,559.7 L1809.2,592.7 L1809.6,580.7 L1810.0,592.7 L1809.7,592.2 L1811.6,630.5 L1812.2,620.6 L1812.6,614.6 L1813.0,620.6 L1813.5,611.4 L1813.7,588.4 L1814.1,580.6 L1814.5,588.4 L1815.4,542.5 L1816.7,536.3 L1817.1,524.3 L1817.5,536.3 L1817.3,534.9 L1818.2,538.4 L1818.6,533.5 L1819.0,538.4 L1819.2,538.7 L1819.7,588.5 L1820.1,587.5 L1820.5,588.5 L1821.1,640.0 L1822.1,573.1 L1824.0,534.9 L1825.0,485.2 L1826.9,496.6 L1827.2,503.6 L1827.6,481.8 L1828.0,503.6 L1828.8,511.9 L1828.7,514.9 L1829.1,513.8 L1829.5,514.9 L1830.7,523.4 L1831.7,492.3 L1832.1,489.2 L1832.5,492.3 L1832.6,481.3 L1834.5,511.9 L1834.7,506.5 L1835.1,494.7 L1835.5,506.5 L1836.4,492.8 L1837.7,517.6 L1838.1,516.5 L1838.5,517.6 L1838.3,519.6 L1839.2,530.8 L1839.6,512.7 L1840.0,530.8 L1840.3,534.9 L1840.7,578.5 L1841.1,576.8 L1841.5,578.5 L1841.2,580.8 L1842.2,534.9 L1842.2,533.8 L1842.6,521.5 L1843.0,533.8 L1844.1,527.2 L1843.7,527.8 L1844.1,519.4 L1844.5,527.8 L1845.2,521.8 L1845.6,504.7 L1846.0,521.8 L1846.0,519.6 L1847.9,515.8 L1848.2,519.5 L1848.6,505.4 L1849.0,519.5 L1849.8,523.4 L1849.7,522.2 L1850.1,514.9 L1850.5,522.2 L1851.7,511.9 L1852.7,515.6 L1853.1,514.2 L1853.5,515.6 L1853.6,515.8 L1854.2,526.6 L1854.6,524.9 L1855.0,526.6 L1855.6,534.9 L1855.7,539.2 L1856.1,538.2 L1856.5,539.2 L1857.5,546.4 L1858.7,533.7 L1859.1,529.3 L1859.5,533.7 L1859.4,531.1 L1860.2,529.3 L1860.6,527.3 L1861.0,529.3 L1861.3,527.2 L1863.2,544.4 L1865.1,555.9 L1864.7,556.7 L1865.1,555.8 L1865.5,556.7 L1867.7,552.2 L1868.1,548.9 L1868.5,552.2 L1868.9,550.2 L1872.8,544.4 L1875.2,540.9 L1875.6,531.1 L1876.0,540.9 L1876.6,538.7 L1880.4,531.1 L1881.2,529.4 L1881.6,526.8 L1882.0,529.4 L1882.7,526.4 L1883.1,522.1 L1883.5,526.4 L1884.2,523.4 L1885.7,520.4 L1886.1,514.1 L1886.5,520.4 L1887.2,517.4 L1887.6,509.1 L1888.0,517.4 L1888.1,515.8 L1888.7,514.4 L1889.1,510.3 L1889.5,514.4 L1890.2,511.4 L1890.6,509.4 L1891.0,511.4 L1891.9,508.1 L1893.2,505.4 L1893.6,493.4 L1894.0,505.4 L1895.7,500.5 L1896.2,498.4 L1896.6,489.8 L1897.0,498.4 L1897.7,493.9 L1898.1,484.4 L1898.5,493.9 L1899.5,489.0 L1899.2,489.5 L1899.6,483.1 L1900.0,489.5 L1900.7,485.5 L1901.1,482.6 L1901.5,485.5 L1902.4,481.3 L1903.7,478.6 L1904.1,472.5 L1904.5,478.6 L1904.3,477.5 L1906.7,475.1 L1907.1,465.2 L1907.5,475.1 L1909.7,471.6 L1910.1,466.9 L1910.5,471.6 L1911.0,469.9 L1911.0,668.7 L1911.0,666.1Z" fill="#000"/></g><rect x="1408.0" y="405.3" width="110.4" height="255.8" fill="#fff"/><clipPath id="lclip12"><rect x="1408.0" y="405.3" width="110.4" height="255.8"/></clipPath><path d="M1517.80,411.90 C1515.33,412.32 1507.95,413.37 1503.00,414.40 C1498.05,415.43 1491.82,416.67 1488.10,418.10 C1484.38,419.53 1483.58,421.35 1480.70,423.00 C1477.82,424.65 1474.10,426.35 1470.80,428.00 C1467.50,429.65 1463.58,431.05 1460.90,432.90 C1458.22,434.75 1456.35,437.03 1454.70,439.10 C1453.05,441.17 1450.78,442.83 1451.00,445.30 C1451.22,447.77 1456.00,451.55 1456.00,453.90 C1456.00,456.25 1453.48,457.75 1451.00,459.40 C1448.52,461.05 1443.17,462.45 1441.10,463.80 C1439.03,465.15 1437.98,466.05 1438.60,467.50 C1439.22,468.95 1442.93,470.43 1444.80,472.50 C1446.67,474.57 1449.58,477.23 1449.80,479.90 C1450.02,482.57 1447.35,485.42 1446.10,488.50 C1444.85,491.58 1442.52,495.10 1442.30,498.40 C1442.08,501.70 1443.35,505.00 1444.80,508.30 C1446.25,511.60 1449.35,515.32 1451.00,518.20 C1452.65,521.08 1453.67,522.52 1454.70,525.60 C1455.73,528.68 1457.40,533.60 1457.20,536.70 C1457.00,539.80 1455.77,541.93 1453.50,544.20 C1451.23,546.47 1445.67,548.25 1443.60,550.30 C1441.53,552.35 1441.10,553.82 1441.10,556.50 C1441.10,559.18 1443.80,562.90 1443.60,566.40 C1443.40,569.90 1439.70,574.42 1439.90,577.50 C1440.10,580.58 1442.53,582.42 1444.80,584.90 C1447.07,587.38 1451.43,590.33 1453.50,592.40 C1455.57,594.47 1457.00,595.03 1457.20,597.30 C1457.40,599.57 1454.28,603.12 1454.70,606.00 C1455.12,608.88 1458.33,611.93 1459.70,614.60 C1461.07,617.27 1462.70,619.12 1462.90,622.00 C1463.10,624.88 1461.43,628.18 1460.90,631.90 C1460.37,635.62 1459.58,639.28 1459.70,644.30 C1459.82,649.32 1461.28,659.05 1461.60,662.00" fill="none" stroke="#d92a48" stroke-width="2.7" stroke-linejoin="round" stroke-linecap="round" clip-path="url(#lclip12)"/><path d="M1408.0,405.3 H1902.5 V661.1 H1408.0 Z M1518.4,405.3 V661.1" fill="none" stroke="#2b2b2b" stroke-width="1.7"/><line x1="1404.8" y1="405.3" x2="1408.0" y2="405.3" stroke="#2b2b2b" stroke-width="1.2"/><text x="1396.4" y="411.2" font-size="18.5" text-anchor="end">1000</text><line x1="1404.8" y1="437.3" x2="1408.0" y2="437.3" stroke="#2b2b2b" stroke-width="1.2"/><text x="1396.4" y="443.2" font-size="18.5" text-anchor="end">1500</text><line x1="1404.8" y1="469.2" x2="1408.0" y2="469.2" stroke="#2b2b2b" stroke-width="1.2"/><text x="1396.4" y="475.1" font-size="18.5" text-anchor="end">2000</text><line x1="1404.8" y1="501.2" x2="1408.0" y2="501.2" stroke="#2b2b2b" stroke-width="1.2"/><text x="1396.4" y="507.1" font-size="18.5" text-anchor="end">2500</text><line x1="1404.8" y1="533.2" x2="1408.0" y2="533.2" stroke="#2b2b2b" stroke-width="1.2"/><text x="1396.4" y="539.1" font-size="18.5" text-anchor="end">3000</text><line x1="1404.8" y1="565.2" x2="1408.0" y2="565.2" stroke="#2b2b2b" stroke-width="1.2"/><text x="1396.4" y="571.1" font-size="18.5" text-anchor="end">3500</text><line x1="1404.8" y1="597.2" x2="1408.0" y2="597.2" stroke="#2b2b2b" stroke-width="1.2"/><text x="1396.4" y="603.1" font-size="18.5" text-anchor="end">4000</text><line x1="1404.8" y1="629.1" x2="1408.0" y2="629.1" stroke="#2b2b2b" stroke-width="1.2"/><text x="1396.4" y="635.0" font-size="18.5" text-anchor="end">4500</text><line x1="1404.8" y1="661.1" x2="1408.0" y2="661.1" stroke="#2b2b2b" stroke-width="1.2"/><text x="1396.4" y="667.0" font-size="18.5" text-anchor="end">5000</text><line x1="1413.3" y1="661.1" x2="1413.3" y2="664.3" stroke="#2b2b2b" stroke-width="1.2"/><text x="1411.4" y="685.0" font-size="18.5" text-anchor="middle">-18</text><line x1="1463.3" y1="661.1" x2="1463.3" y2="664.3" stroke="#2b2b2b" stroke-width="1.2"/><text x="1462.9" y="685.0" font-size="18.5" text-anchor="middle">0</text><line x1="1513.3" y1="661.1" x2="1513.3" y2="664.3" stroke="#2b2b2b" stroke-width="1.2"/><text x="1513.8" y="685.0" font-size="18.5" text-anchor="middle">18</text><line x1="1545.7" y1="661.1" x2="1545.7" y2="664.3" stroke="#2b2b2b" stroke-width="1.2"/><text x="1549.8" y="685.0" font-size="18.5" text-anchor="middle">60°S</text><line x1="1638.8" y1="661.1" x2="1638.8" y2="664.3" stroke="#2b2b2b" stroke-width="1.2"/><text x="1641.7" y="685.0" font-size="18.5" text-anchor="middle">40°S</text><line x1="1730.0" y1="661.1" x2="1730.0" y2="664.3" stroke="#2b2b2b" stroke-width="1.2"/><text x="1733.0" y="685.0" font-size="18.5" text-anchor="middle">20°S</text><line x1="1820.7" y1="661.1" x2="1820.7" y2="664.3" stroke="#2b2b2b" stroke-width="1.2"/><text x="1823.9" y="685.0" font-size="18.5" text-anchor="middle">EQ</text><line x1="1865.4" y1="661.1" x2="1865.4" y2="664.3" stroke="#2b2b2b" stroke-width="1.2"/><text x="1867.9" y="685.0" font-size="18.5" text-anchor="middle">10°N</text><text x="1462.6" y="714.4" font-size="21" text-anchor="middle">RG (%)</text><text x="1686.1" y="714.2" font-size="21" text-anchor="middle">Latitude</text><text x="0" y="0" font-size="21" text-anchor="middle" transform="translate(1346.4,512.9) rotate(-90)">Depth (m)</text><text x="1353.7" y="426.8" font-size="35" text-anchor="end">(f)</text><linearGradient id="cbg12" x1="0" y1="0" x2="0" y2="1"><stop offset="0.000" stop-color="#a50026"/><stop offset="0.025" stop-color="#b10b26"/><stop offset="0.050" stop-color="#bd1726"/><stop offset="0.075" stop-color="#ca2427"/><stop offset="0.100" stop-color="#d62f27"/><stop offset="0.125" stop-color="#dd3d2d"/><stop offset="0.150" stop-color="#e54e35"/><stop offset="0.175" stop-color="#ec5c3b"/><stop offset="0.200" stop-color="#f46d43"/><stop offset="0.225" stop-color="#f67c4a"/><stop offset="0.250" stop-color="#f88c51"/><stop offset="0.275" stop-color="#fb9d59"/><stop offset="0.300" stop-color="#fdad60"/><stop offset="0.325" stop-color="#fdbb6d"/><stop offset="0.350" stop-color="#fdc778"/><stop offset="0.375" stop-color="#fed283"/><stop offset="0.400" stop-color="#fee090"/><stop offset="0.425" stop-color="#fee79b"/><stop offset="0.450" stop-color="#fff0a8"/><stop offset="0.475" stop-color="#fff7b3"/><stop offset="0.500" stop-color="#fffebe"/><stop offset="0.525" stop-color="#f7fcce"/><stop offset="0.550" stop-color="#f0f9db"/><stop offset="0.575" stop-color="#e7f6eb"/><stop offset="0.600" stop-color="#e0f3f8"/><stop offset="0.625" stop-color="#d4edf4"/><stop offset="0.650" stop-color="#c5e6f0"/><stop offset="0.675" stop-color="#b9e0ed"/><stop offset="0.700" stop-color="#aad8e9"/><stop offset="0.725" stop-color="#9dcee3"/><stop offset="0.750" stop-color="#90c3dd"/><stop offset="0.775" stop-color="#81b7d7"/><stop offset="0.800" stop-color="#74add1"/><stop offset="0.825" stop-color="#679ec9"/><stop offset="0.850" stop-color="#5c90c2"/><stop offset="0.875" stop-color="#5183bb"/><stop offset="0.900" stop-color="#4574b3"/><stop offset="0.925" stop-color="#4065ac"/><stop offset="0.950" stop-color="#3a54a4"/><stop offset="0.975" stop-color="#36459c"/><stop offset="1.000" stop-color="#313695"/></linearGradient><rect x="1906.4" y="405.3" width="8.2" height="255.8" fill="url(#cbg12)" stroke="#2b2b2b" stroke-width="0.9"/><line x1="1914.6" y1="431.4" x2="1917.1" y2="431.4" stroke="#2b2b2b" stroke-width="1"/><text x="1920.6" y="436.4" font-size="18.5" text-anchor="start">8</text><line x1="1914.6" y1="456.8" x2="1917.1" y2="456.8" stroke="#2b2b2b" stroke-width="1"/><text x="1920.6" y="461.8" font-size="18.5" text-anchor="start">6</text><line x1="1914.6" y1="482.3" x2="1917.1" y2="482.3" stroke="#2b2b2b" stroke-width="1"/><text x="1920.6" y="487.3" font-size="18.5" text-anchor="start">4</text><line x1="1914.6" y1="507.7" x2="1917.1" y2="507.7" stroke="#2b2b2b" stroke-width="1"/><text x="1920.6" y="512.7" font-size="18.5" text-anchor="start">2</text><line x1="1914.6" y1="533.2" x2="1917.1" y2="533.2" stroke="#2b2b2b" stroke-width="1"/><text x="1920.6" y="538.2" font-size="18.5" text-anchor="start">0</text><line x1="1914.6" y1="558.7" x2="1917.1" y2="558.7" stroke="#2b2b2b" stroke-width="1"/><text x="1920.6" y="563.7" font-size="18.5" text-anchor="start">-2</text><line x1="1914.6" y1="584.1" x2="1917.1" y2="584.1" stroke="#2b2b2b" stroke-width="1"/><text x="1920.6" y="589.1" font-size="18.5" text-anchor="start">-4</text><line x1="1914.6" y1="609.6" x2="1917.1" y2="609.6" stroke="#2b2b2b" stroke-width="1"/><text x="1920.6" y="614.6" font-size="18.5" text-anchor="start">-6</text><line x1="1914.6" y1="635.0" x2="1917.1" y2="635.0" stroke="#2b2b2b" stroke-width="1"/><text x="1920.6" y="640.0" font-size="18.5" text-anchor="start">-8</text><text x="1919.1" y="398.7" font-size="13.4">×10<tspan font-size="9.6" dy="-4">-4</tspan></text><clipPath id="clip20"><rect x="204.4" y="757.1" width="384.7" height="255.5"/></clipPath><g clip-path="url(#clip20)"><rect x="204.4" y="757.1" width="384.7" height="255.5" fill="#cfebf3"/><path d="M241.5,852.0 C241.7,845.8 242.3,836.2 244.0,829.5 C245.7,822.8 247.8,816.6 251.5,812.0 C255.2,807.4 261.1,805.5 266.5,802.0 C271.9,798.5 279.0,793.0 284.0,790.8 C289.0,788.5 293.2,787.6 296.5,788.2 C299.8,788.9 302.5,790.5 304.0,794.5 C305.5,798.5 305.7,805.8 305.2,812.0 C304.8,818.2 303.4,825.8 301.5,832.0 C299.6,838.2 296.9,844.1 294.0,849.5 C291.1,854.9 287.8,859.9 284.0,864.5 C280.2,869.1 275.2,874.1 271.5,877.0 C267.8,879.9 265.2,882.0 261.5,882.0 C257.8,882.0 252.1,879.5 249.0,877.0 C245.9,874.5 244.0,871.2 242.8,867.0 C241.5,862.8 241.3,858.2 241.5,852.0Z" fill="#fffebe"/><path d="M342.8,857.0 C342.8,848.7 343.2,828.7 344.0,819.5 C344.8,810.3 345.7,806.6 347.8,802.0 C349.8,797.4 353.4,793.5 356.5,792.0 C359.6,790.5 362.8,791.2 366.5,793.2 C370.2,795.3 374.4,801.0 379.0,804.5 C383.6,808.0 389.0,811.2 394.0,814.5 C399.0,817.8 405.5,820.8 409.0,824.5 C412.5,828.2 414.0,832.4 415.2,837.0 C416.5,841.6 416.7,847.4 416.5,852.0 C416.3,856.6 415.7,861.4 414.0,864.5 C412.3,867.6 409.0,870.3 406.5,870.8 C404.0,871.2 401.9,868.7 399.0,867.0 C396.1,865.3 392.8,862.2 389.0,860.8 C385.2,859.3 380.2,858.0 376.5,858.2 C372.8,858.5 369.4,859.7 366.5,862.0 C363.6,864.3 361.7,869.5 359.0,872.0 C356.3,874.5 352.8,877.4 350.2,877.0 C347.8,876.6 345.2,872.8 344.0,869.5 C342.8,866.2 342.8,865.3 342.8,857.0Z" fill="#fffebe"/><path d="M367.8,912.0 C368.2,908.7 368.8,902.4 371.5,899.5 C374.2,896.6 379.4,894.9 384.0,894.5 C388.6,894.1 395.7,894.5 399.0,897.0 C402.3,899.5 403.6,905.3 404.0,909.5 C404.4,913.7 404.0,918.7 401.5,922.0 C399.0,925.3 393.2,928.5 389.0,929.5 C384.8,930.5 379.8,929.9 376.5,928.2 C373.2,926.6 370.5,922.2 369.0,919.5 C367.5,916.8 367.3,915.3 367.8,912.0Z" fill="#fffebe"/><path d="M196.5,814.5 C197.8,782.4 202.1,812.4 204.0,814.5 C205.9,816.6 206.9,819.9 207.8,827.0 C208.6,834.1 208.8,845.8 209.0,857.0 C209.2,868.2 207.3,888.2 209.0,894.5 C210.7,900.8 215.7,894.1 219.0,894.5 C222.3,894.9 225.7,895.3 229.0,897.0 C232.3,898.7 236.5,901.2 239.0,904.5 C241.5,907.8 243.2,912.4 244.0,917.0 C244.8,921.6 243.2,927.8 244.0,932.0 C244.8,936.2 245.7,939.7 249.0,942.0 C252.3,944.3 258.6,945.3 264.0,945.8 C269.4,946.2 275.7,945.5 281.5,944.5 C287.3,943.5 294.0,941.6 299.0,939.5 C304.0,937.4 308.2,935.3 311.5,932.0 C314.8,928.7 316.9,923.0 319.0,919.5 C321.1,916.0 322.3,912.0 324.0,910.8 C325.7,909.5 327.8,909.3 329.0,912.0 C330.2,914.7 331.1,921.2 331.5,927.0 C331.9,932.8 331.1,940.3 331.5,947.0 C331.9,953.7 332.3,962.0 334.0,967.0 C335.7,972.0 338.2,974.9 341.5,977.0 C344.8,979.1 348.6,979.3 354.0,979.5 C359.4,979.7 367.3,979.5 374.0,978.2 C380.7,977.0 389.0,974.3 394.0,972.0 C399.0,969.7 400.7,967.4 404.0,964.5 C407.3,961.6 411.1,957.2 414.0,954.5 C416.9,951.8 419.0,949.1 421.5,948.2 C424.0,947.4 427.8,937.2 429.0,949.5 C430.2,961.8 457.3,1009.9 429.0,1022.0 C400.7,1034.1 287.3,1027.4 259.0,1022.0 C230.7,1016.6 261.9,993.7 259.0,989.5 C256.1,985.3 246.5,995.1 241.5,997.0 C236.5,998.9 236.5,999.1 229.0,1000.8 C221.5,1002.4 201.9,1038.0 196.5,1007.0 C191.1,976.0 195.2,846.6 196.5,814.5Z" fill="#fffebe"/><path d="M434.0,782.0 C434.2,777.8 436.1,772.2 439.0,769.5 C441.9,766.8 446.9,766.0 451.5,765.8 C456.1,765.5 461.9,767.6 466.5,768.2 C471.1,768.9 473.6,768.5 479.0,769.5 C484.4,770.5 492.8,773.2 499.0,774.5 C505.2,775.8 510.2,776.4 516.5,777.0 C522.8,777.6 530.7,777.6 536.5,778.2 C542.3,778.9 548.0,779.3 551.5,780.8 C555.0,782.2 557.3,784.7 557.8,787.0 C558.2,789.3 556.7,792.8 554.0,794.5 C551.3,796.2 546.5,796.6 541.5,797.0 C536.5,797.4 529.4,796.6 524.0,797.0 C518.6,797.4 513.2,797.8 509.0,799.5 C504.8,801.2 502.8,804.5 499.0,807.0 C495.2,809.5 491.1,812.6 486.5,814.5 C481.9,816.4 476.1,817.6 471.5,818.2 C466.9,818.9 462.5,818.7 459.0,818.2 C455.5,817.8 452.8,817.6 450.2,815.8 C447.8,813.9 446.1,810.5 444.0,807.0 C441.9,803.5 439.4,798.7 437.8,794.5 C436.1,790.3 433.8,786.2 434.0,782.0Z" fill="#fffebe"/><path d="M459.0,907.0 C460.5,898.5 466.1,904.9 469.0,905.8 C471.9,906.6 474.0,908.9 476.5,912.0 C479.0,915.1 481.1,920.3 484.0,924.5 C486.9,928.7 490.7,933.9 494.0,937.0 C497.3,940.1 499.8,942.4 504.0,943.2 C508.2,944.1 514.4,943.2 519.0,942.0 C523.6,940.8 528.0,936.6 531.5,935.8 C535.0,934.9 538.2,935.1 540.2,937.0 C542.3,938.9 544.2,943.2 544.0,947.0 C543.8,950.8 541.1,955.8 539.0,959.5 C536.9,963.2 533.2,966.6 531.5,969.5 C529.8,972.4 528.2,974.1 529.0,977.0 C529.8,979.9 534.2,983.2 536.5,987.0 C538.8,990.8 541.3,993.7 542.8,999.5 C544.2,1005.3 554.2,1018.2 545.2,1022.0 C536.3,1025.8 498.8,1027.0 489.0,1022.0 C479.2,1017.0 488.2,999.5 486.5,992.0 C484.8,984.5 482.3,981.6 479.0,977.0 C475.7,972.4 469.6,967.8 466.5,964.5 C463.4,961.2 461.5,966.6 460.2,957.0 C459.0,947.4 457.5,915.5 459.0,907.0Z" fill="#fffebe"/><path d="M577.8,887.0 C578.0,883.9 579.6,879.7 581.5,877.0 C583.4,874.3 586.5,871.8 589.0,870.8 C591.5,869.7 595.2,865.1 596.5,870.8 C597.8,876.4 597.8,899.1 596.5,904.5 C595.2,909.9 591.7,904.7 589.0,903.2 C586.3,901.8 582.1,898.5 580.2,895.8 C578.4,893.0 577.5,890.1 577.8,887.0Z" fill="#fffebe"/><path d="M460.2,782.0 C461.1,778.5 463.4,775.3 466.5,773.2 C469.6,771.2 474.8,769.7 479.0,769.5 C483.2,769.3 488.2,769.9 491.5,772.0 C494.8,774.1 497.8,778.2 499.0,782.0 C500.2,785.8 500.2,790.8 499.0,794.5 C497.8,798.2 494.8,802.2 491.5,804.5 C488.2,806.8 482.8,808.2 479.0,808.2 C475.2,808.2 471.9,806.8 469.0,804.5 C466.1,802.2 463.0,798.2 461.5,794.5 C460.0,790.8 459.4,785.5 460.2,782.0Z" fill="#fed081"/><path d="M241.5,749.5 C218.2,750.8 240.7,754.5 241.5,757.0 C242.3,759.5 244.0,762.0 246.5,764.5 C249.0,767.0 253.2,769.9 256.5,772.0 C259.8,774.1 262.8,776.6 266.5,777.0 C270.2,777.4 273.6,775.3 279.0,774.5 C284.4,773.7 292.8,772.4 299.0,772.0 C305.2,771.6 310.7,772.2 316.5,772.0 C322.3,771.8 328.6,771.6 334.0,770.8 C339.4,769.9 344.0,768.0 349.0,767.0 C354.0,766.0 359.0,765.8 364.0,764.5 C369.0,763.2 376.1,762.0 379.0,759.5 C381.9,757.0 404.4,751.2 381.5,749.5 C358.6,747.8 264.8,748.2 241.5,749.5Z" fill="#8abeda"/><path d="M461.5,749.5 C439.0,750.8 458.6,755.3 461.5,757.0 C464.4,758.7 471.9,758.7 479.0,759.5 C486.1,760.3 495.7,760.8 504.0,762.0 C512.3,763.2 521.5,765.5 529.0,767.0 C536.5,768.5 543.6,769.7 549.0,770.8 C554.4,771.8 557.3,773.0 561.5,773.2 C565.7,773.5 569.4,772.9 574.0,772.5 C578.6,772.1 585.2,771.2 589.0,770.8 C592.8,770.2 595.2,773.0 596.5,769.5 C597.8,766.0 619.0,752.8 596.5,749.5 C574.0,746.2 484.0,748.2 461.5,749.5Z" fill="#8abeda"/><path d="M464.0,854.5 C464.6,849.5 466.1,841.2 469.0,837.0 C471.9,832.8 476.9,831.6 481.5,829.5 C486.1,827.4 492.3,826.6 496.5,824.5 C500.7,822.4 503.2,819.3 506.5,817.0 C509.8,814.7 511.9,811.8 516.5,810.8 C521.1,809.7 527.8,810.5 534.0,810.8 C540.2,811.0 547.8,811.6 554.0,812.0 C560.2,812.4 568.0,811.2 571.5,813.2 C575.0,815.3 574.8,820.1 575.2,824.5 C575.7,828.9 575.0,834.9 574.0,839.5 C573.0,844.1 571.5,848.2 569.0,852.0 C566.5,855.8 562.3,859.7 559.0,862.0 C555.7,864.3 552.8,865.3 549.0,865.8 C545.2,866.2 541.1,865.1 536.5,864.5 C531.9,863.9 526.9,862.0 521.5,862.0 C516.1,862.0 508.6,862.4 504.0,864.5 C499.4,866.6 497.8,872.0 494.0,874.5 C490.2,877.0 485.2,879.5 481.5,879.5 C477.8,879.5 474.2,876.6 471.5,874.5 C468.8,872.4 466.5,870.3 465.2,867.0 C464.0,863.7 463.4,859.5 464.0,854.5Z" fill="#8abeda"/><path d="M479.0,849.5 C479.6,847.0 481.9,843.5 484.0,842.0 C486.1,840.5 489.4,840.1 491.5,840.8 C493.6,841.4 495.9,843.7 496.5,845.8 C497.1,847.8 496.7,851.2 495.2,853.2 C493.8,855.3 490.2,857.6 487.8,858.2 C485.2,858.9 481.7,858.5 480.2,857.0 C478.8,855.5 478.4,852.0 479.0,849.5Z" fill="#4a7ab7"/><path d="M524.0,834.5 C524.6,832.8 526.9,830.3 529.0,829.5 C531.1,828.7 534.4,828.5 536.5,829.5 C538.6,830.5 540.9,833.7 541.5,835.8 C542.1,837.8 541.9,840.8 540.2,842.0 C538.6,843.2 534.0,843.7 531.5,843.2 C529.0,842.8 526.5,841.0 525.2,839.5 C524.0,838.0 523.4,836.2 524.0,834.5Z" fill="#4a7ab7"/><path d="M254.0,749.5 C242.3,750.8 251.5,755.2 254.0,757.0 C256.5,758.8 262.8,759.4 269.0,760.0 C275.2,760.6 284.8,760.6 291.5,760.8 C298.2,760.9 304.0,761.2 309.0,760.8 C314.0,760.3 319.0,760.1 321.5,758.2 C324.0,756.4 335.2,751.0 324.0,749.5 C312.8,748.0 265.7,748.2 254.0,749.5Z" fill="#4a7ab7"/><path d="M504.0,749.5 C488.6,750.8 500.7,755.1 504.0,757.0 C507.3,758.9 516.5,759.7 524.0,760.8 C531.5,761.8 541.9,763.0 549.0,763.2 C556.1,763.5 559.8,762.7 566.5,762.0 C573.2,761.3 584.0,759.6 589.0,759.0 C594.0,758.4 595.2,759.8 596.5,758.2 C597.8,756.7 611.9,751.0 596.5,749.5 C581.1,748.0 519.4,748.2 504.0,749.5Z" fill="#4a7ab7"/><path d="M519.0,749.5 C510.7,751.0 519.8,756.5 524.0,758.2 C528.2,760.0 537.3,759.8 544.0,760.0 C550.7,760.2 559.0,761.2 564.0,759.5 C569.0,757.8 581.5,751.2 574.0,749.5 C566.5,747.8 527.3,748.0 519.0,749.5Z" fill="#313695"/><g fill="none" stroke="#222" stroke-width="0.7" stroke-dasharray="1.5 2" stroke-opacity="0.8"><path d="M241.5,852.0 C241.7,845.8 242.3,836.2 244.0,829.5 C245.7,822.8 247.8,816.6 251.5,812.0 C255.2,807.4 261.1,805.5 266.5,802.0 C271.9,798.5 279.0,793.0 284.0,790.8 C289.0,788.5 293.2,787.6 296.5,788.2 C299.8,788.9 302.5,790.5 304.0,794.5 C305.5,798.5 305.7,805.8 305.2,812.0 C304.8,818.2 303.4,825.8 301.5,832.0 C299.6,838.2 296.9,844.1 294.0,849.5 C291.1,854.9 287.8,859.9 284.0,864.5 C280.2,869.1 275.2,874.1 271.5,877.0 C267.8,879.9 265.2,882.0 261.5,882.0 C257.8,882.0 252.1,879.5 249.0,877.0 C245.9,874.5 244.0,871.2 242.8,867.0 C241.5,862.8 241.3,858.2 241.5,852.0Z"/><path d="M342.8,857.0 C342.8,848.7 343.2,828.7 344.0,819.5 C344.8,810.3 345.7,806.6 347.8,802.0 C349.8,797.4 353.4,793.5 356.5,792.0 C359.6,790.5 362.8,791.2 366.5,793.2 C370.2,795.3 374.4,801.0 379.0,804.5 C383.6,808.0 389.0,811.2 394.0,814.5 C399.0,817.8 405.5,820.8 409.0,824.5 C412.5,828.2 414.0,832.4 415.2,837.0 C416.5,841.6 416.7,847.4 416.5,852.0 C416.3,856.6 415.7,861.4 414.0,864.5 C412.3,867.6 409.0,870.3 406.5,870.8 C404.0,871.2 401.9,868.7 399.0,867.0 C396.1,865.3 392.8,862.2 389.0,860.8 C385.2,859.3 380.2,858.0 376.5,858.2 C372.8,858.5 369.4,859.7 366.5,862.0 C363.6,864.3 361.7,869.5 359.0,872.0 C356.3,874.5 352.8,877.4 350.2,877.0 C347.8,876.6 345.2,872.8 344.0,869.5 C342.8,866.2 342.8,865.3 342.8,857.0Z"/><path d="M367.8,912.0 C368.2,908.7 368.8,902.4 371.5,899.5 C374.2,896.6 379.4,894.9 384.0,894.5 C388.6,894.1 395.7,894.5 399.0,897.0 C402.3,899.5 403.6,905.3 404.0,909.5 C404.4,913.7 404.0,918.7 401.5,922.0 C399.0,925.3 393.2,928.5 389.0,929.5 C384.8,930.5 379.8,929.9 376.5,928.2 C373.2,926.6 370.5,922.2 369.0,919.5 C367.5,916.8 367.3,915.3 367.8,912.0Z"/><path d="M196.5,814.5 C197.8,782.4 202.1,812.4 204.0,814.5 C205.9,816.6 206.9,819.9 207.8,827.0 C208.6,834.1 208.8,845.8 209.0,857.0 C209.2,868.2 207.3,888.2 209.0,894.5 C210.7,900.8 215.7,894.1 219.0,894.5 C222.3,894.9 225.7,895.3 229.0,897.0 C232.3,898.7 236.5,901.2 239.0,904.5 C241.5,907.8 243.2,912.4 244.0,917.0 C244.8,921.6 243.2,927.8 244.0,932.0 C244.8,936.2 245.7,939.7 249.0,942.0 C252.3,944.3 258.6,945.3 264.0,945.8 C269.4,946.2 275.7,945.5 281.5,944.5 C287.3,943.5 294.0,941.6 299.0,939.5 C304.0,937.4 308.2,935.3 311.5,932.0 C314.8,928.7 316.9,923.0 319.0,919.5 C321.1,916.0 322.3,912.0 324.0,910.8 C325.7,909.5 327.8,909.3 329.0,912.0 C330.2,914.7 331.1,921.2 331.5,927.0 C331.9,932.8 331.1,940.3 331.5,947.0 C331.9,953.7 332.3,962.0 334.0,967.0 C335.7,972.0 338.2,974.9 341.5,977.0 C344.8,979.1 348.6,979.3 354.0,979.5 C359.4,979.7 367.3,979.5 374.0,978.2 C380.7,977.0 389.0,974.3 394.0,972.0 C399.0,969.7 400.7,967.4 404.0,964.5 C407.3,961.6 411.1,957.2 414.0,954.5 C416.9,951.8 419.0,949.1 421.5,948.2 C424.0,947.4 427.8,937.2 429.0,949.5 C430.2,961.8 457.3,1009.9 429.0,1022.0 C400.7,1034.1 287.3,1027.4 259.0,1022.0 C230.7,1016.6 261.9,993.7 259.0,989.5 C256.1,985.3 246.5,995.1 241.5,997.0 C236.5,998.9 236.5,999.1 229.0,1000.8 C221.5,1002.4 201.9,1038.0 196.5,1007.0 C191.1,976.0 195.2,846.6 196.5,814.5Z"/><path d="M434.0,782.0 C434.2,777.8 436.1,772.2 439.0,769.5 C441.9,766.8 446.9,766.0 451.5,765.8 C456.1,765.5 461.9,767.6 466.5,768.2 C471.1,768.9 473.6,768.5 479.0,769.5 C484.4,770.5 492.8,773.2 499.0,774.5 C505.2,775.8 510.2,776.4 516.5,777.0 C522.8,777.6 530.7,777.6 536.5,778.2 C542.3,778.9 548.0,779.3 551.5,780.8 C555.0,782.2 557.3,784.7 557.8,787.0 C558.2,789.3 556.7,792.8 554.0,794.5 C551.3,796.2 546.5,796.6 541.5,797.0 C536.5,797.4 529.4,796.6 524.0,797.0 C518.6,797.4 513.2,797.8 509.0,799.5 C504.8,801.2 502.8,804.5 499.0,807.0 C495.2,809.5 491.1,812.6 486.5,814.5 C481.9,816.4 476.1,817.6 471.5,818.2 C466.9,818.9 462.5,818.7 459.0,818.2 C455.5,817.8 452.8,817.6 450.2,815.8 C447.8,813.9 446.1,810.5 444.0,807.0 C441.9,803.5 439.4,798.7 437.8,794.5 C436.1,790.3 433.8,786.2 434.0,782.0Z"/><path d="M459.0,907.0 C460.5,898.5 466.1,904.9 469.0,905.8 C471.9,906.6 474.0,908.9 476.5,912.0 C479.0,915.1 481.1,920.3 484.0,924.5 C486.9,928.7 490.7,933.9 494.0,937.0 C497.3,940.1 499.8,942.4 504.0,943.2 C508.2,944.1 514.4,943.2 519.0,942.0 C523.6,940.8 528.0,936.6 531.5,935.8 C535.0,934.9 538.2,935.1 540.2,937.0 C542.3,938.9 544.2,943.2 544.0,947.0 C543.8,950.8 541.1,955.8 539.0,959.5 C536.9,963.2 533.2,966.6 531.5,969.5 C529.8,972.4 528.2,974.1 529.0,977.0 C529.8,979.9 534.2,983.2 536.5,987.0 C538.8,990.8 541.3,993.7 542.8,999.5 C544.2,1005.3 554.2,1018.2 545.2,1022.0 C536.3,1025.8 498.8,1027.0 489.0,1022.0 C479.2,1017.0 488.2,999.5 486.5,992.0 C484.8,984.5 482.3,981.6 479.0,977.0 C475.7,972.4 469.6,967.8 466.5,964.5 C463.4,961.2 461.5,966.6 460.2,957.0 C459.0,947.4 457.5,915.5 459.0,907.0Z"/><path d="M577.8,887.0 C578.0,883.9 579.6,879.7 581.5,877.0 C583.4,874.3 586.5,871.8 589.0,870.8 C591.5,869.7 595.2,865.1 596.5,870.8 C597.8,876.4 597.8,899.1 596.5,904.5 C595.2,909.9 591.7,904.7 589.0,903.2 C586.3,901.8 582.1,898.5 580.2,895.8 C578.4,893.0 577.5,890.1 577.8,887.0Z"/><path d="M460.2,782.0 C461.1,778.5 463.4,775.3 466.5,773.2 C469.6,771.2 474.8,769.7 479.0,769.5 C483.2,769.3 488.2,769.9 491.5,772.0 C494.8,774.1 497.8,778.2 499.0,782.0 C500.2,785.8 500.2,790.8 499.0,794.5 C497.8,798.2 494.8,802.2 491.5,804.5 C488.2,806.8 482.8,808.2 479.0,808.2 C475.2,808.2 471.9,806.8 469.0,804.5 C466.1,802.2 463.0,798.2 461.5,794.5 C460.0,790.8 459.4,785.5 460.2,782.0Z"/><path d="M241.5,749.5 C218.2,750.8 240.7,754.5 241.5,757.0 C242.3,759.5 244.0,762.0 246.5,764.5 C249.0,767.0 253.2,769.9 256.5,772.0 C259.8,774.1 262.8,776.6 266.5,777.0 C270.2,777.4 273.6,775.3 279.0,774.5 C284.4,773.7 292.8,772.4 299.0,772.0 C305.2,771.6 310.7,772.2 316.5,772.0 C322.3,771.8 328.6,771.6 334.0,770.8 C339.4,769.9 344.0,768.0 349.0,767.0 C354.0,766.0 359.0,765.8 364.0,764.5 C369.0,763.2 376.1,762.0 379.0,759.5 C381.9,757.0 404.4,751.2 381.5,749.5 C358.6,747.8 264.8,748.2 241.5,749.5Z"/><path d="M461.5,749.5 C439.0,750.8 458.6,755.3 461.5,757.0 C464.4,758.7 471.9,758.7 479.0,759.5 C486.1,760.3 495.7,760.8 504.0,762.0 C512.3,763.2 521.5,765.5 529.0,767.0 C536.5,768.5 543.6,769.7 549.0,770.8 C554.4,771.8 557.3,773.0 561.5,773.2 C565.7,773.5 569.4,772.9 574.0,772.5 C578.6,772.1 585.2,771.2 589.0,770.8 C592.8,770.2 595.2,773.0 596.5,769.5 C597.8,766.0 619.0,752.8 596.5,749.5 C574.0,746.2 484.0,748.2 461.5,749.5Z"/><path d="M464.0,854.5 C464.6,849.5 466.1,841.2 469.0,837.0 C471.9,832.8 476.9,831.6 481.5,829.5 C486.1,827.4 492.3,826.6 496.5,824.5 C500.7,822.4 503.2,819.3 506.5,817.0 C509.8,814.7 511.9,811.8 516.5,810.8 C521.1,809.7 527.8,810.5 534.0,810.8 C540.2,811.0 547.8,811.6 554.0,812.0 C560.2,812.4 568.0,811.2 571.5,813.2 C575.0,815.3 574.8,820.1 575.2,824.5 C575.7,828.9 575.0,834.9 574.0,839.5 C573.0,844.1 571.5,848.2 569.0,852.0 C566.5,855.8 562.3,859.7 559.0,862.0 C555.7,864.3 552.8,865.3 549.0,865.8 C545.2,866.2 541.1,865.1 536.5,864.5 C531.9,863.9 526.9,862.0 521.5,862.0 C516.1,862.0 508.6,862.4 504.0,864.5 C499.4,866.6 497.8,872.0 494.0,874.5 C490.2,877.0 485.2,879.5 481.5,879.5 C477.8,879.5 474.2,876.6 471.5,874.5 C468.8,872.4 466.5,870.3 465.2,867.0 C464.0,863.7 463.4,859.5 464.0,854.5Z"/><path d="M479.0,849.5 C479.6,847.0 481.9,843.5 484.0,842.0 C486.1,840.5 489.4,840.1 491.5,840.8 C493.6,841.4 495.9,843.7 496.5,845.8 C497.1,847.8 496.7,851.2 495.2,853.2 C493.8,855.3 490.2,857.6 487.8,858.2 C485.2,858.9 481.7,858.5 480.2,857.0 C478.8,855.5 478.4,852.0 479.0,849.5Z"/><path d="M524.0,834.5 C524.6,832.8 526.9,830.3 529.0,829.5 C531.1,828.7 534.4,828.5 536.5,829.5 C538.6,830.5 540.9,833.7 541.5,835.8 C542.1,837.8 541.9,840.8 540.2,842.0 C538.6,843.2 534.0,843.7 531.5,843.2 C529.0,842.8 526.5,841.0 525.2,839.5 C524.0,838.0 523.4,836.2 524.0,834.5Z"/><path d="M254.0,749.5 C242.3,750.8 251.5,755.2 254.0,757.0 C256.5,758.8 262.8,759.4 269.0,760.0 C275.2,760.6 284.8,760.6 291.5,760.8 C298.2,760.9 304.0,761.2 309.0,760.8 C314.0,760.3 319.0,760.1 321.5,758.2 C324.0,756.4 335.2,751.0 324.0,749.5 C312.8,748.0 265.7,748.2 254.0,749.5Z"/><path d="M504.0,749.5 C488.6,750.8 500.7,755.1 504.0,757.0 C507.3,758.9 516.5,759.7 524.0,760.8 C531.5,761.8 541.9,763.0 549.0,763.2 C556.1,763.5 559.8,762.7 566.5,762.0 C573.2,761.3 584.0,759.6 589.0,759.0 C594.0,758.4 595.2,759.8 596.5,758.2 C597.8,756.7 611.9,751.0 596.5,749.5 C581.1,748.0 519.4,748.2 504.0,749.5Z"/><path d="M519.0,749.5 C510.7,751.0 519.8,756.5 524.0,758.2 C528.2,760.0 537.3,759.8 544.0,760.0 C550.7,760.2 559.0,761.2 564.0,759.5 C569.0,757.8 581.5,751.2 574.0,749.5 C566.5,747.8 527.3,748.0 519.0,749.5Z"/></g><g font-size="8.4" fill="#000" text-anchor="middle"><text x="306.5" y="763.5" transform="rotate(0 306.5 760.8)">-0.2</text><text x="336.5" y="772.8" transform="rotate(-10 336.5 770.0)">-0.1</text><text x="244.0" y="833.5" transform="rotate(-60 244.0 830.8)">0</text><text x="341.5" y="866.0" transform="rotate(-90 341.5 863.2)">0</text><text x="371.0" y="924.3" transform="rotate(-40 371.0 921.5)">0</text><text x="400.2" y="967.3" transform="rotate(-40 400.2 964.5)">0</text><text x="466.5" y="803.5" transform="rotate(-40 466.5 800.8)">0.1</text><text x="459.0" y="821.0" transform="rotate(-60 459.0 818.2)">0</text><text x="489.0" y="857.8" transform="rotate(-30 489.0 855.0)">-0.2</text><text x="537.8" y="842.3" transform="rotate(-30 537.8 839.5)">-0.2</text><text x="569.0" y="852.3" transform="rotate(-60 569.0 849.5)">-0.1</text><text x="576.5" y="883.5" transform="rotate(-60 576.5 880.8)">0</text><text x="541.0" y="940.3" transform="rotate(-40 541.0 937.5)">0</text><text x="551.5" y="764.3" transform="rotate(0 551.5 761.5)">-0.3</text><text x="559.0" y="769.3" transform="rotate(0 559.0 766.5)">-0.2</text><text x="557.8" y="775.3" transform="rotate(0 557.8 772.5)">-0.1</text><text x="239.0" y="1001.0" transform="rotate(-40 239.0 998.2)">0</text></g><path d="M202.4,1017.6 L202.4,1017.8 L204.3,1013.0 L204.3,927.1 L205.4,925.7 L205.8,917.4 L206.2,925.7 L206.0,924.7 L207.2,903.2 L206.9,902.9 L207.3,895.7 L207.7,902.9 L209.5,884.1 L211.5,888.9 L213.1,848.3 L212.9,852.8 L213.3,850.5 L213.7,852.8 L214.3,874.6 L214.4,869.6 L214.8,863.2 L215.2,869.6 L215.5,860.2 L217.2,769.5 L217.4,796.9 L217.8,795.7 L218.2,796.9 L218.6,831.6 L218.9,873.2 L219.3,860.4 L219.7,873.2 L219.6,888.9 L220.4,894.3 L220.8,890.5 L221.2,894.3 L221.5,896.0 L222.7,905.6 L223.4,926.6 L223.8,921.2 L224.2,926.6 L223.9,927.1 L225.1,950.9 L226.3,974.8 L226.4,981.0 L226.8,976.3 L227.2,981.0 L228.2,993.9 L229.4,1006.4 L229.8,1001.9 L230.2,1006.4 L229.8,1005.8 L231.0,1012.5 L233.4,998.7 L234.6,1012.5 L238.2,1012.5 L239.4,998.7 L240.1,898.4 L241.1,998.7 L242.5,1012.5 L257.3,1012.5 L258.5,977.2 L260.9,979.6 L261.1,979.1 L261.5,977.2 L261.9,979.1 L262.6,976.1 L263.0,973.0 L263.4,976.1 L263.2,974.8 L264.1,978.1 L264.5,975.0 L264.9,978.1 L265.6,979.6 L268.0,970.0 L268.6,969.9 L269.0,964.8 L269.4,969.9 L270.4,967.6 L270.1,968.3 L270.5,964.5 L270.9,968.3 L271.6,965.3 L272.0,959.1 L272.4,965.3 L272.8,962.9 L273.1,963.0 L273.5,959.1 L273.9,963.0 L275.2,960.5 L276.1,960.0 L276.5,947.3 L276.9,960.0 L277.6,958.1 L277.6,958.1 L278.0,950.5 L278.4,958.1 L279.1,955.1 L279.5,951.5 L279.9,955.1 L280.0,953.3 L282.3,936.6 L283.5,955.7 L283.6,955.6 L284.0,954.8 L284.4,955.6 L285.1,952.6 L285.5,945.6 L285.9,952.6 L285.9,950.9 L288.3,955.7 L290.7,946.2 L292.6,951.5 L293.0,948.9 L293.4,951.5 L293.1,950.9 L295.5,943.8 L295.6,946.5 L296.0,928.9 L296.4,946.5 L297.4,950.9 L299.0,967.6 L300.1,972.7 L300.5,962.7 L300.9,972.7 L301.4,974.8 L301.6,972.4 L302.0,969.7 L302.4,972.4 L303.1,963.4 L303.5,955.8 L303.9,963.4 L303.8,960.5 L304.6,963.6 L305.0,962.0 L305.4,963.6 L306.2,965.3 L306.1,967.1 L306.5,964.4 L306.9,967.1 L307.6,973.1 L308.0,971.4 L308.4,973.1 L308.6,974.8 L309.1,977.4 L309.5,973.6 L309.9,977.4 L311.0,979.6 L312.2,998.7 L314.6,1012.5 L320.5,1012.5 L321.7,998.7 L324.1,984.3 L326.0,993.9 L325.8,995.3 L326.2,986.9 L326.6,995.3 L327.7,998.7 L330.1,1012.5 L333.7,1003.4 L336.0,1012.5 L343.2,1012.5 L420.5,1013.7 L421.7,1012.0 L422.9,986.4 L424.1,998.6 L425.3,974.2 L426.5,925.5 L427.8,876.8 L428.5,852.4 L429.5,871.9 L430.0,857.7 L430.4,846.5 L430.8,857.7 L431.4,840.3 L431.5,836.3 L431.9,832.3 L432.3,836.3 L435.1,803.7 L436.0,795.7 L436.4,789.5 L436.8,795.7 L437.5,785.7 L437.9,782.7 L438.3,785.7 L438.7,779.4 L440.5,763.9 L440.9,758.5 L441.3,763.9 L441.6,757.4 L442.4,745.3 L446.5,746.1 L446.9,742.5 L447.3,746.1 L448.0,746.1 L448.4,745.0 L448.8,746.1 L453.8,745.3 L454.6,803.7 L455.8,852.4 L455.5,857.8 L455.9,855.7 L456.3,857.8 L457.0,901.2 L458.2,906.0 L458.5,906.2 L458.9,904.1 L459.3,906.2 L459.4,904.8 L460.6,925.5 L461.9,974.2 L461.5,975.5 L461.9,967.0 L462.3,975.5 L463.1,996.2 L464.5,1000.6 L464.9,996.0 L465.3,1000.6 L465.5,1001.0 L468.0,1005.9 L469.0,1008.6 L469.4,1006.9 L469.8,1008.6 L471.6,1010.8 L472.8,1013.7 L485.5,1013.7 L486.1,965.5 L486.2,967.4 L486.7,1013.7 L490.8,1013.7 L491.5,994.7 L491.7,996.7 L492.4,1013.7 L495.0,1013.7 L495.6,976.4 L495.7,978.4 L496.4,1013.7 L499.8,1013.7 L500.5,997.9 L500.6,999.8 L501.3,1013.7 L503.0,1013.7 L503.7,991.1 L503.8,993.0 L504.5,1013.7 L507.4,1013.7 L508.1,981.8 L508.3,983.7 L509.1,1013.7 L510.7,1013.7 L511.3,978.6 L511.5,980.6 L512.1,1013.7 L516.4,1013.7 L517.3,975.0 L517.5,976.9 L518.5,1013.7 L520.0,1013.7 L520.8,962.6 L521.0,964.5 L521.8,1013.7 L566.4,1013.7 L567.1,876.8 L568.1,857.3 L569.0,876.8 L570.0,1013.7 L582.4,1013.7 L583.7,1005.9 L584.9,1013.7 L587.3,1013.7 L587.3,1023.0 L587.3,1017.6Z" fill="#000"/></g><rect x="94.1" y="757.1" width="110.3" height="255.5" fill="#fff"/><clipPath id="lclip20"><rect x="94.1" y="757.1" width="110.3" height="255.5"/></clipPath><path d="M95.20,758.90 C100.35,759.40 115.58,760.78 126.10,761.90 C136.62,763.02 149.23,764.45 158.30,765.60 C167.37,766.75 175.15,767.77 180.50,768.80 C185.85,769.83 188.53,770.68 190.40,771.80 C192.27,772.92 192.93,774.07 191.70,775.50 C190.47,776.93 186.92,778.55 183.00,780.40 C179.08,782.25 173.15,784.73 168.20,786.60 C163.25,788.47 156.40,790.15 153.30,791.60 C150.20,793.05 150.63,793.45 149.60,795.30 C148.57,797.15 148.13,800.65 147.10,802.70 C146.07,804.75 144.22,805.33 143.40,807.60 C142.58,809.87 143.85,813.82 142.20,816.30 C140.55,818.78 136.80,820.23 133.50,822.50 C130.20,824.77 125.07,827.43 122.40,829.90 C119.73,832.37 118.12,833.80 117.50,837.30 C116.88,840.80 117.27,847.40 118.70,850.90 C120.13,854.40 123.02,856.03 126.10,858.30 C129.18,860.57 134.72,862.03 137.20,864.50 C139.68,866.97 139.35,870.02 141.00,873.10 C142.65,876.18 145.87,879.28 147.10,883.00 C148.33,886.72 149.02,892.10 148.40,895.40 C147.78,898.70 146.08,900.75 143.40,902.80 C140.72,904.85 134.98,906.05 132.30,907.70 C129.62,909.35 127.10,911.05 127.30,912.70 C127.50,914.35 130.82,915.95 133.50,917.60 C136.18,919.25 140.50,920.53 143.40,922.60 C146.30,924.67 148.92,927.12 150.90,930.00 C152.88,932.88 154.57,936.60 155.30,939.90 C156.03,943.20 156.03,946.50 155.30,949.80 C154.57,953.10 151.63,956.42 150.90,959.70 C150.17,962.98 150.50,965.80 150.90,969.50 C151.30,973.20 152.90,978.38 153.30,981.90 C153.70,985.42 154.33,988.33 153.30,990.60 C152.27,992.87 149.15,994.07 147.10,995.50 C145.05,996.93 140.78,997.55 141.00,999.20 C141.22,1000.85 146.13,1003.27 148.40,1005.40 C150.67,1007.53 153.57,1010.90 154.60,1012.00" fill="none" stroke="#8f4f3f" stroke-width="2.7" stroke-linejoin="round" stroke-linecap="round" clip-path="url(#lclip20)"/><path d="M94.1,757.1 H589.1 V1012.6 H94.1 Z M204.4,757.1 V1012.6" fill="none" stroke="#2b2b2b" stroke-width="1.7"/><line x1="90.9" y1="757.1" x2="94.1" y2="757.1" stroke="#2b2b2b" stroke-width="1.2"/><text x="86.3" y="763.3" font-size="18.5" text-anchor="end">1000</text><line x1="90.9" y1="789.0" x2="94.1" y2="789.0" stroke="#2b2b2b" stroke-width="1.2"/><text x="86.3" y="795.2" font-size="18.5" text-anchor="end">1500</text><line x1="90.9" y1="821.0" x2="94.1" y2="821.0" stroke="#2b2b2b" stroke-width="1.2"/><text x="86.3" y="827.2" font-size="18.5" text-anchor="end">2000</text><line x1="90.9" y1="852.9" x2="94.1" y2="852.9" stroke="#2b2b2b" stroke-width="1.2"/><text x="86.3" y="859.1" font-size="18.5" text-anchor="end">2500</text><line x1="90.9" y1="884.9" x2="94.1" y2="884.9" stroke="#2b2b2b" stroke-width="1.2"/><text x="86.3" y="891.0" font-size="18.5" text-anchor="end">3000</text><line x1="90.9" y1="916.8" x2="94.1" y2="916.8" stroke="#2b2b2b" stroke-width="1.2"/><text x="86.3" y="923.0" font-size="18.5" text-anchor="end">3500</text><line x1="90.9" y1="948.7" x2="94.1" y2="948.7" stroke="#2b2b2b" stroke-width="1.2"/><text x="86.3" y="954.9" font-size="18.5" text-anchor="end">4000</text><line x1="90.9" y1="980.7" x2="94.1" y2="980.7" stroke="#2b2b2b" stroke-width="1.2"/><text x="86.3" y="986.9" font-size="18.5" text-anchor="end">4500</text><line x1="90.9" y1="1012.6" x2="94.1" y2="1012.6" stroke="#2b2b2b" stroke-width="1.2"/><text x="86.3" y="1018.8" font-size="18.5" text-anchor="end">5000</text><line x1="99.5" y1="1012.6" x2="99.5" y2="1015.8" stroke="#2b2b2b" stroke-width="1.2"/><text x="96.0" y="1037.6" font-size="18.5" text-anchor="middle">-3</text><line x1="149.1" y1="1012.6" x2="149.1" y2="1015.8" stroke="#2b2b2b" stroke-width="1.2"/><text x="148.5" y="1037.6" font-size="18.5" text-anchor="middle">0</text><line x1="199.5" y1="1012.6" x2="199.5" y2="1015.8" stroke="#2b2b2b" stroke-width="1.2"/><text x="199.7" y="1037.6" font-size="18.5" text-anchor="middle">3</text><line x1="274.8" y1="1012.6" x2="274.8" y2="1015.8" stroke="#2b2b2b" stroke-width="1.2"/><text x="277.8" y="1037.6" font-size="18.5" text-anchor="middle">40°S</text><line x1="353.4" y1="1012.6" x2="353.4" y2="1015.8" stroke="#2b2b2b" stroke-width="1.2"/><text x="353.9" y="1037.6" font-size="18.5" text-anchor="middle">20°S</text><line x1="427.2" y1="1012.6" x2="427.2" y2="1015.8" stroke="#2b2b2b" stroke-width="1.2"/><text x="424.0" y="1037.6" font-size="18.5" text-anchor="middle">EQ</text><line x1="502.8" y1="1012.6" x2="502.8" y2="1015.8" stroke="#2b2b2b" stroke-width="1.2"/><text x="504.3" y="1037.6" font-size="18.5" text-anchor="middle">20°N</text><line x1="577.0" y1="1012.6" x2="577.0" y2="1015.8" stroke="#2b2b2b" stroke-width="1.2"/><text x="585.9" y="1037.6" font-size="18.5" text-anchor="middle">40°N</text><text x="145.3" y="1065.3" font-size="21" text-anchor="middle">RG (%)</text><text x="364.7" y="1066.8" font-size="21" text-anchor="middle">Latitude</text><text x="0" y="0" font-size="21" text-anchor="middle" transform="translate(35.8,865.3) rotate(-90)">Depth (m)</text><text x="42.3" y="775.3" font-size="35" text-anchor="end">(g)</text><linearGradient id="cbg20" x1="0" y1="0" x2="0" y2="1"><stop offset="0.000" stop-color="#a50026"/><stop offset="0.025" stop-color="#b10b26"/><stop offset="0.050" stop-color="#bd1726"/><stop offset="0.075" stop-color="#ca2427"/><stop offset="0.100" stop-color="#d62f27"/><stop offset="0.125" stop-color="#dd3d2d"/><stop offset="0.150" stop-color="#e54e35"/><stop offset="0.175" stop-color="#ec5c3b"/><stop offset="0.200" stop-color="#f46d43"/><stop offset="0.225" stop-color="#f67c4a"/><stop offset="0.250" stop-color="#f88c51"/><stop offset="0.275" stop-color="#fb9d59"/><stop offset="0.300" stop-color="#fdad60"/><stop offset="0.325" stop-color="#fdbb6d"/><stop offset="0.350" stop-color="#fdc778"/><stop offset="0.375" stop-color="#fed283"/><stop offset="0.400" stop-color="#fee090"/><stop offset="0.425" stop-color="#fee79b"/><stop offset="0.450" stop-color="#fff0a8"/><stop offset="0.475" stop-color="#fff7b3"/><stop offset="0.500" stop-color="#fffebe"/><stop offset="0.525" stop-color="#f7fcce"/><stop offset="0.550" stop-color="#f0f9db"/><stop offset="0.575" stop-color="#e7f6eb"/><stop offset="0.600" stop-color="#e0f3f8"/><stop offset="0.625" stop-color="#d4edf4"/><stop offset="0.650" stop-color="#c5e6f0"/><stop offset="0.675" stop-color="#b9e0ed"/><stop offset="0.700" stop-color="#aad8e9"/><stop offset="0.725" stop-color="#9dcee3"/><stop offset="0.750" stop-color="#90c3dd"/><stop offset="0.775" stop-color="#81b7d7"/><stop offset="0.800" stop-color="#74add1"/><stop offset="0.825" stop-color="#679ec9"/><stop offset="0.850" stop-color="#5c90c2"/><stop offset="0.875" stop-color="#5183bb"/><stop offset="0.900" stop-color="#4574b3"/><stop offset="0.925" stop-color="#4065ac"/><stop offset="0.950" stop-color="#3a54a4"/><stop offset="0.975" stop-color="#36459c"/><stop offset="1.000" stop-color="#313695"/></linearGradient><rect x="593.3" y="757.1" width="7.8" height="255.5" fill="url(#cbg20)" stroke="#2b2b2b" stroke-width="0.9"/><line x1="601.1" y1="758.7" x2="603.6" y2="758.7" stroke="#2b2b2b" stroke-width="1"/><text x="607.1" y="763.7" font-size="18.5" text-anchor="start">4</text><line x1="601.1" y1="790.2" x2="603.6" y2="790.2" stroke="#2b2b2b" stroke-width="1"/><text x="607.1" y="795.2" font-size="18.5" text-anchor="start">3</text><line x1="601.1" y1="821.8" x2="603.6" y2="821.8" stroke="#2b2b2b" stroke-width="1"/><text x="607.1" y="826.8" font-size="18.5" text-anchor="start">2</text><line x1="601.1" y1="853.3" x2="603.6" y2="853.3" stroke="#2b2b2b" stroke-width="1"/><text x="607.1" y="858.3" font-size="18.5" text-anchor="start">1</text><line x1="601.1" y1="884.9" x2="603.6" y2="884.9" stroke="#2b2b2b" stroke-width="1"/><text x="607.1" y="889.9" font-size="18.5" text-anchor="start">0</text><line x1="601.1" y1="916.4" x2="603.6" y2="916.4" stroke="#2b2b2b" stroke-width="1"/><text x="607.1" y="921.4" font-size="18.5" text-anchor="start">-1</text><line x1="601.1" y1="947.9" x2="603.6" y2="947.9" stroke="#2b2b2b" stroke-width="1"/><text x="607.1" y="952.9" font-size="18.5" text-anchor="start">-2</text><line x1="601.1" y1="979.5" x2="603.6" y2="979.5" stroke="#2b2b2b" stroke-width="1"/><text x="607.1" y="984.5" font-size="18.5" text-anchor="start">-3</text><line x1="601.1" y1="1011.0" x2="603.6" y2="1011.0" stroke="#2b2b2b" stroke-width="1"/><text x="607.1" y="1016.0" font-size="18.5" text-anchor="start">-4</text><clipPath id="clip21"><rect x="868.9" y="757.6" width="385.3" height="255.5"/></clipPath><g clip-path="url(#clip21)"><rect x="868.9" y="757.6" width="385.3" height="255.5" fill="#e9f6e8"/><path d="M891.8,749.5 C874.2,750.8 891.3,754.1 891.8,757.0 C892.2,759.9 892.0,763.7 894.2,767.0 C896.5,770.3 901.1,774.5 905.5,777.0 C909.9,779.5 916.3,780.3 920.5,782.0 C924.7,783.7 927.8,784.1 930.5,787.0 C933.2,789.9 934.7,794.9 936.8,799.5 C938.8,804.1 940.3,810.3 943.0,814.5 C945.7,818.7 949.7,822.8 953.0,824.5 C956.3,826.2 960.3,826.6 963.0,824.5 C965.7,822.4 967.8,817.0 969.2,812.0 C970.7,807.0 970.7,799.1 971.8,794.5 C972.8,789.9 973.2,787.0 975.5,784.5 C977.8,782.0 982.6,781.6 985.5,779.5 C988.4,777.4 991.3,774.9 993.0,772.0 C994.7,769.1 994.9,765.8 995.5,762.0 C996.1,758.2 1014.0,751.6 996.8,749.5 C979.5,747.4 909.2,748.2 891.8,749.5Z" fill="#fffebe"/><path d="M1068.0,749.5 C1064.0,750.8 1069.2,754.5 1070.5,757.0 C1071.8,759.5 1073.4,762.6 1075.5,764.5 C1077.6,766.4 1080.5,768.2 1083.0,768.2 C1085.5,768.2 1088.6,766.4 1090.5,764.5 C1092.4,762.6 1093.6,759.5 1094.2,757.0 C1094.9,754.5 1098.6,750.8 1094.2,749.5 C1089.9,748.2 1072.0,748.2 1068.0,749.5Z" fill="#fffebe"/><path d="M860.5,814.5 C862.2,800.8 867.2,815.8 870.5,814.5 C873.8,813.2 877.6,808.5 880.5,807.0 C883.4,805.5 885.1,804.5 888.0,805.8 C890.9,807.0 894.7,810.5 898.0,814.5 C901.3,818.5 905.3,824.1 908.0,829.5 C910.7,834.9 913.0,841.6 914.2,847.0 C915.5,852.4 915.7,857.0 915.5,862.0 C915.3,867.0 914.2,872.8 913.0,877.0 C911.8,881.2 910.5,884.3 908.0,887.0 C905.5,889.7 901.3,891.8 898.0,893.2 C894.7,894.7 891.3,895.1 888.0,895.8 C884.7,896.4 882.6,896.8 878.0,897.0 C873.4,897.2 863.4,910.8 860.5,897.0 C857.6,883.2 858.8,828.2 860.5,814.5Z" fill="#fffebe"/><path d="M860.5,939.5 C862.6,925.8 867.6,939.3 873.0,939.5 C878.4,939.7 886.3,940.1 893.0,940.8 C899.7,941.4 907.2,942.2 913.0,943.2 C918.8,944.3 923.4,945.5 928.0,947.0 C932.6,948.5 937.6,953.7 940.5,952.0 C943.4,950.3 945.5,942.0 945.5,937.0 C945.5,932.0 941.5,927.0 940.5,922.0 C939.5,917.0 938.8,911.2 939.2,907.0 C939.7,902.8 940.7,899.9 943.0,897.0 C945.3,894.1 949.2,891.4 953.0,889.5 C956.8,887.6 961.3,886.2 965.5,885.8 C969.7,885.3 973.8,885.8 978.0,887.0 C982.2,888.2 986.3,891.0 990.5,893.2 C994.7,895.5 998.8,898.9 1003.0,900.8 C1007.2,902.6 1011.8,903.9 1015.5,904.5 C1019.2,905.1 1022.2,905.3 1025.5,904.5 C1028.8,903.7 1032.6,901.6 1035.5,899.5 C1038.4,897.4 1040.1,894.5 1043.0,892.0 C1045.9,889.5 1048.8,886.4 1053.0,884.5 C1057.2,882.6 1063.0,881.8 1068.0,880.8 C1073.0,879.7 1078.0,878.9 1083.0,878.2 C1088.0,877.6 1093.8,878.5 1098.0,877.0 C1102.2,875.5 1103.8,872.8 1108.0,869.5 C1112.2,866.2 1119.2,862.0 1123.0,857.0 C1126.8,852.0 1127.6,844.9 1130.5,839.5 C1133.4,834.1 1137.2,828.7 1140.5,824.5 C1143.8,820.3 1146.8,817.2 1150.5,814.5 C1154.2,811.8 1159.2,809.5 1163.0,808.2 C1166.8,807.0 1169.7,806.0 1173.0,807.0 C1176.3,808.0 1179.7,811.2 1183.0,814.5 C1186.3,817.8 1189.7,822.4 1193.0,827.0 C1196.3,831.6 1199.7,836.2 1203.0,842.0 C1206.3,847.8 1210.1,855.3 1213.0,862.0 C1215.9,868.7 1217.6,876.6 1220.5,882.0 C1223.4,887.4 1226.8,891.2 1230.5,894.5 C1234.2,897.8 1239.1,901.2 1243.0,902.0 C1246.9,902.8 1251.1,899.9 1254.0,899.5 C1256.9,899.1 1259.4,879.1 1260.5,899.5 C1261.6,919.9 1327.2,1001.6 1260.5,1022.0 C1193.8,1042.4 927.2,1035.8 860.5,1022.0 C793.8,1008.2 858.4,953.2 860.5,939.5Z" fill="#fffebe"/><path d="M1163.0,749.5 C1147.2,750.8 1164.2,754.1 1165.5,757.0 C1166.8,759.9 1168.0,763.2 1170.5,767.0 C1173.0,770.8 1176.8,775.1 1180.5,779.5 C1184.2,783.9 1189.0,789.3 1193.0,793.2 C1197.0,797.2 1201.3,799.7 1204.2,803.2 C1207.2,806.8 1208.6,810.1 1210.5,814.5 C1212.4,818.9 1213.4,825.1 1215.5,829.5 C1217.6,833.9 1219.2,838.2 1223.0,840.8 C1226.8,843.3 1231.8,844.8 1238.0,845.0 C1244.2,845.2 1256.8,857.9 1260.5,842.0 C1264.2,826.1 1276.8,764.9 1260.5,749.5 C1244.2,734.1 1178.8,748.2 1163.0,749.5Z" fill="#fffebe"/><path d="M1159.2,892.0 C1159.2,887.2 1160.7,881.2 1163.0,877.0 C1165.3,872.8 1169.7,869.2 1173.0,867.0 C1176.3,864.8 1180.3,863.6 1183.0,864.0 C1185.7,864.4 1188.4,866.1 1189.2,869.5 C1190.1,872.9 1189.5,879.9 1188.0,884.5 C1186.5,889.1 1183.4,893.5 1180.5,897.0 C1177.6,900.5 1173.4,904.3 1170.5,905.8 C1167.6,907.2 1164.9,908.0 1163.0,905.8 C1161.1,903.5 1159.2,896.8 1159.2,892.0Z" fill="#e9f6e8"/><path d="M1125.5,932.0 C1126.5,924.7 1129.7,925.1 1133.0,923.2 C1136.3,921.4 1142.2,920.5 1145.5,920.8 C1148.8,921.0 1151.5,921.4 1153.0,924.5 C1154.5,927.6 1154.7,934.5 1154.2,939.5 C1153.8,944.5 1152.4,950.3 1150.5,954.5 C1148.6,958.7 1145.9,962.0 1143.0,964.5 C1140.1,967.0 1135.7,969.1 1133.0,969.5 C1130.3,969.9 1128.0,973.2 1126.8,967.0 C1125.5,960.8 1124.5,939.3 1125.5,932.0Z" fill="#e9f6e8"/><path d="M1150.5,982.0 C1151.3,977.4 1152.6,976.6 1155.5,974.5 C1158.4,972.4 1163.4,970.8 1168.0,969.5 C1172.6,968.2 1178.8,968.2 1183.0,967.0 C1187.2,965.8 1189.7,964.1 1193.0,962.0 C1196.3,959.9 1198.8,956.4 1203.0,954.5 C1207.2,952.6 1213.0,951.6 1218.0,950.8 C1223.0,949.9 1228.8,949.5 1233.0,949.5 C1237.2,949.5 1239.5,950.8 1243.0,950.8 C1246.5,950.8 1251.1,949.7 1254.0,949.5 C1256.9,949.3 1259.4,937.4 1260.5,949.5 C1261.6,961.6 1278.4,1009.9 1260.5,1022.0 C1242.6,1034.1 1171.3,1025.3 1153.0,1022.0 C1134.7,1018.7 1150.9,1008.7 1150.5,1002.0 C1150.1,995.3 1149.7,986.6 1150.5,982.0Z" fill="#e9f6e8"/><path d="M1178.0,1022.0 C1172.6,1017.8 1176.3,1002.8 1178.0,997.0 C1179.7,991.2 1183.8,989.7 1188.0,987.0 C1192.2,984.3 1198.0,982.6 1203.0,980.8 C1208.0,978.9 1213.0,977.1 1218.0,975.8 C1223.0,974.4 1229.0,972.3 1233.0,972.5 C1237.0,972.7 1240.5,974.6 1241.8,977.0 C1243.0,979.4 1242.4,983.7 1240.5,987.0 C1238.6,990.3 1234.2,993.7 1230.5,997.0 C1226.8,1000.3 1221.3,1002.8 1218.0,1007.0 C1214.7,1011.2 1217.2,1019.5 1210.5,1022.0 C1203.8,1024.5 1183.4,1026.2 1178.0,1022.0Z" fill="#c7e7f1"/><path d="M860.5,749.5 C863.0,744.5 873.2,747.0 875.5,749.5 C877.8,752.0 875.1,759.9 874.2,764.5 C873.4,769.1 872.8,774.5 870.5,777.0 C868.2,779.5 862.2,784.1 860.5,779.5 C858.8,774.9 858.0,754.5 860.5,749.5Z" fill="#c7e7f1"/><path d="M911.8,805.8 C911.5,803.5 914.0,800.6 915.5,800.0 C917.0,799.4 919.0,800.2 920.5,802.0 C922.0,803.8 924.0,808.7 924.2,810.8 C924.5,812.8 923.0,814.1 921.8,814.5 C920.5,814.9 918.4,814.7 916.8,813.2 C915.1,811.8 912.0,808.0 911.8,805.8Z" fill="#c7e7f1"/><path d="M929.2,854.5 C929.5,851.6 930.3,847.4 931.8,845.8 C933.2,844.1 936.2,843.0 938.0,844.5 C939.8,846.0 941.7,851.2 942.5,854.5 C943.3,857.8 943.5,861.8 943.0,864.5 C942.5,867.2 940.8,869.9 939.2,870.8 C937.7,871.6 935.0,870.8 933.5,869.5 C932.0,868.2 930.7,865.8 930.0,863.2 C929.3,860.8 929.0,857.4 929.2,854.5Z" fill="#c7e7f1"/><path d="M890.5,917.0 C891.1,914.3 893.0,910.3 895.5,908.2 C898.0,906.2 902.2,904.9 905.5,904.5 C908.8,904.1 913.2,904.3 915.5,905.8 C917.8,907.2 918.8,910.5 919.2,913.2 C919.7,916.0 919.5,919.5 918.0,922.0 C916.5,924.5 913.6,927.1 910.5,928.2 C907.4,929.4 902.4,929.6 899.2,929.0 C896.1,928.4 893.2,926.5 891.8,924.5 C890.3,922.5 889.9,919.7 890.5,917.0Z" fill="#c7e7f1"/><path d="M1008.0,749.5 C999.7,751.6 1008.0,758.2 1010.5,762.0 C1013.0,765.8 1018.4,769.3 1023.0,772.0 C1027.6,774.7 1033.0,776.2 1038.0,778.2 C1043.0,780.3 1048.8,783.0 1053.0,784.5 C1057.2,786.0 1060.9,788.2 1063.0,787.0 C1065.1,785.8 1065.5,780.3 1065.5,777.0 C1065.5,773.7 1063.8,770.3 1063.0,767.0 C1062.2,763.7 1060.9,759.9 1060.5,757.0 C1060.1,754.1 1069.2,750.8 1060.5,749.5 C1051.8,748.2 1016.3,747.4 1008.0,749.5Z" fill="#c7e7f1"/><path d="M1121.8,749.5 C1117.8,752.0 1121.1,759.5 1121.8,764.5 C1122.4,769.5 1123.6,775.8 1125.5,779.5 C1127.4,783.2 1130.5,786.6 1133.0,787.0 C1135.5,787.4 1138.8,784.5 1140.5,782.0 C1142.2,779.5 1142.2,775.3 1143.0,772.0 C1143.8,768.7 1145.1,765.8 1145.5,762.0 C1145.9,758.2 1149.5,751.6 1145.5,749.5 C1141.5,747.4 1125.7,747.0 1121.8,749.5Z" fill="#c7e7f1"/><path d="M905.5,749.5 C899.7,750.8 904.5,754.1 905.5,757.0 C906.5,759.9 908.8,764.1 911.8,767.0 C914.7,769.9 919.5,773.2 923.0,774.5 C926.5,775.8 930.3,775.8 933.0,774.5 C935.7,773.2 938.0,769.9 939.2,767.0 C940.5,764.1 940.3,759.9 940.5,757.0 C940.7,754.1 946.3,750.8 940.5,749.5 C934.7,748.2 911.3,748.2 905.5,749.5Z" fill="#fee99d"/><path d="M913.0,749.5 C909.5,750.8 913.4,754.7 914.2,757.0 C915.1,759.3 916.1,761.4 918.0,763.2 C919.9,765.1 923.0,767.8 925.5,768.2 C928.0,768.7 931.3,767.6 933.0,765.8 C934.7,763.9 935.1,759.7 935.5,757.0 C935.9,754.3 939.2,750.8 935.5,749.5 C931.8,748.2 916.5,748.2 913.0,749.5Z" fill="#fec87a"/><path d="M916.8,749.5 C914.7,750.8 917.0,754.9 918.0,757.0 C919.0,759.1 921.1,761.6 923.0,762.0 C924.9,762.4 928.0,761.6 929.2,759.5 C930.5,757.4 932.6,751.2 930.5,749.5 C928.4,747.8 918.8,748.2 916.8,749.5Z" fill="#fba35c"/><path d="M886.8,862.0 C887.0,858.2 887.8,852.8 889.2,849.5 C890.7,846.2 893.2,843.3 895.5,842.5 C897.8,841.7 901.2,842.1 903.0,844.5 C904.8,846.9 905.6,852.8 906.0,857.0 C906.4,861.2 906.6,865.8 905.5,869.5 C904.4,873.2 901.5,877.3 899.2,879.0 C897.0,880.7 893.6,880.7 891.8,879.5 C889.9,878.3 888.8,874.9 888.0,872.0 C887.2,869.1 886.5,865.8 886.8,862.0Z" fill="#fee99d"/><path d="M1174.2,947.0 C1174.2,942.0 1175.3,937.0 1176.8,932.0 C1178.2,927.0 1180.7,922.0 1183.0,917.0 C1185.3,912.0 1188.0,906.2 1190.5,902.0 C1193.0,897.8 1195.1,894.1 1198.0,892.0 C1200.9,889.9 1205.1,888.7 1208.0,889.5 C1210.9,890.3 1213.0,893.2 1215.5,897.0 C1218.0,900.8 1220.5,907.0 1223.0,912.0 C1225.5,917.0 1230.1,922.8 1230.5,927.0 C1230.9,931.2 1228.4,934.1 1225.5,937.0 C1222.6,939.9 1216.8,941.6 1213.0,944.5 C1209.2,947.4 1206.3,951.2 1203.0,954.5 C1199.7,957.8 1196.3,962.0 1193.0,964.5 C1189.7,967.0 1185.7,969.9 1183.0,969.5 C1180.3,969.1 1178.2,965.8 1176.8,962.0 C1175.3,958.2 1174.2,952.0 1174.2,947.0Z" fill="#fee99d"/><path d="M1195.5,912.0 C1196.1,910.3 1198.8,907.4 1200.5,907.0 C1202.2,906.6 1204.7,907.8 1205.5,909.5 C1206.3,911.2 1206.3,915.3 1205.5,917.0 C1204.7,918.7 1202.0,919.5 1200.5,919.5 C1199.0,919.5 1197.6,918.2 1196.8,917.0 C1195.9,915.8 1194.9,913.7 1195.5,912.0Z" fill="#fec87a"/><path d="M959.2,923.2 C959.5,921.5 960.5,918.3 961.8,917.5 C963.0,916.7 965.8,917.1 966.8,918.2 C967.7,919.4 968.1,922.6 967.5,924.5 C966.9,926.4 964.2,928.9 963.0,929.5 C961.8,930.1 960.6,929.3 960.0,928.2 C959.4,927.2 959.0,925.0 959.2,923.2Z" fill="#fee99d"/><path d="M860.5,947.0 C862.6,933.9 868.4,944.3 873.0,943.2 C877.6,942.2 883.4,940.8 888.0,940.8 C892.6,940.8 895.5,942.0 900.5,943.2 C905.5,944.5 912.6,946.4 918.0,948.2 C923.4,950.1 928.0,953.0 933.0,954.5 C938.0,956.0 941.3,956.6 948.0,957.0 C954.7,957.4 966.8,957.4 973.0,957.0 C979.2,956.6 981.3,955.8 985.5,954.5 C989.7,953.2 993.4,951.6 998.0,949.5 C1002.6,947.4 1008.0,944.1 1013.0,942.0 C1018.0,939.9 1023.0,938.0 1028.0,937.0 C1033.0,936.0 1038.0,935.3 1043.0,935.8 C1048.0,936.2 1053.0,937.6 1058.0,939.5 C1063.0,941.4 1068.4,944.1 1073.0,947.0 C1077.6,949.9 1081.3,954.1 1085.5,957.0 C1089.7,959.9 1095.9,953.7 1098.0,964.5 C1100.1,975.3 1137.6,1012.4 1098.0,1022.0 C1058.4,1031.6 900.1,1034.5 860.5,1022.0 C820.9,1009.5 858.4,960.1 860.5,947.0Z" fill="#fee99d"/><path d="M860.5,954.5 C863.0,943.2 870.1,954.3 875.5,954.5 C880.9,954.7 887.6,954.9 893.0,955.8 C898.4,956.6 903.0,958.0 908.0,959.5 C913.0,961.0 917.2,962.4 923.0,964.5 C928.8,966.6 934.2,970.3 943.0,972.0 C951.8,973.7 968.0,975.8 975.5,974.5 C983.0,973.2 983.4,967.4 988.0,964.5 C992.6,961.6 998.0,958.9 1003.0,957.0 C1008.0,955.1 1013.0,954.3 1018.0,953.2 C1023.0,952.2 1028.0,951.0 1033.0,950.8 C1038.0,950.5 1043.0,950.8 1048.0,952.0 C1053.0,953.2 1058.4,955.8 1063.0,958.2 C1067.6,960.8 1071.8,964.3 1075.5,967.0 C1079.2,969.7 1081.8,972.0 1085.5,974.5 C1089.2,977.0 1095.9,974.1 1098.0,982.0 C1100.1,989.9 1137.6,1015.3 1098.0,1022.0 C1058.4,1028.7 900.1,1033.2 860.5,1022.0 C820.9,1010.8 858.0,965.8 860.5,954.5Z" fill="#fec87a"/><path d="M895.5,1022.0 C875.1,1015.3 894.2,990.3 895.5,982.0 C896.8,973.7 899.7,974.3 903.0,972.0 C906.3,969.7 911.8,968.7 915.5,968.2 C919.2,967.8 920.9,968.0 925.5,969.5 C930.1,971.0 934.2,975.3 943.0,977.0 C951.8,978.7 969.7,979.5 978.0,979.5 C986.3,979.5 988.0,977.8 993.0,977.0 C998.0,976.2 1003.0,975.8 1008.0,974.5 C1013.0,973.2 1018.0,970.8 1023.0,969.5 C1028.0,968.2 1033.4,967.0 1038.0,967.0 C1042.6,967.0 1047.2,967.8 1050.5,969.5 C1053.8,971.2 1056.8,974.1 1058.0,977.0 C1059.2,979.9 1059.7,984.1 1058.0,987.0 C1056.3,989.9 1052.2,992.4 1048.0,994.5 C1043.8,996.6 1037.2,997.8 1033.0,999.5 C1028.8,1001.2 1025.5,1002.4 1023.0,1004.5 C1020.5,1006.6 1018.8,1009.1 1018.0,1012.0 C1017.2,1014.9 1038.4,1020.3 1018.0,1022.0 C997.6,1023.7 915.9,1028.7 895.5,1022.0Z" fill="#fba35c"/><path d="M905.5,1022.0 C901.8,1016.6 906.3,996.2 908.0,989.5 C909.7,982.8 912.6,984.1 915.5,982.0 C918.4,979.9 923.0,970.3 925.5,977.0 C928.0,983.7 933.8,1014.5 930.5,1022.0 C927.2,1029.5 909.2,1027.4 905.5,1022.0Z" fill="#f57245"/><path d="M978.0,1022.0 C971.8,1016.6 976.3,994.5 978.0,989.5 C979.7,984.5 983.8,990.8 988.0,992.0 C992.2,993.2 998.8,994.5 1003.0,997.0 C1007.2,999.5 1010.9,1002.8 1013.0,1007.0 C1015.1,1011.2 1021.3,1019.5 1015.5,1022.0 C1009.7,1024.5 984.2,1027.4 978.0,1022.0Z" fill="#f57245"/><path d="M915.5,1022.0 C913.6,1017.8 915.7,1002.4 916.8,997.0 C917.8,991.6 920.1,990.8 921.8,989.5 C923.4,988.2 925.7,984.1 926.8,989.5 C927.8,994.9 929.9,1016.6 928.0,1022.0 C926.1,1027.4 917.4,1026.2 915.5,1022.0Z" fill="#e14430"/><g fill="none" stroke="#222" stroke-width="0.7" stroke-dasharray="1.5 2" stroke-opacity="0.8"><path d="M891.8,749.5 C874.2,750.8 891.3,754.1 891.8,757.0 C892.2,759.9 892.0,763.7 894.2,767.0 C896.5,770.3 901.1,774.5 905.5,777.0 C909.9,779.5 916.3,780.3 920.5,782.0 C924.7,783.7 927.8,784.1 930.5,787.0 C933.2,789.9 934.7,794.9 936.8,799.5 C938.8,804.1 940.3,810.3 943.0,814.5 C945.7,818.7 949.7,822.8 953.0,824.5 C956.3,826.2 960.3,826.6 963.0,824.5 C965.7,822.4 967.8,817.0 969.2,812.0 C970.7,807.0 970.7,799.1 971.8,794.5 C972.8,789.9 973.2,787.0 975.5,784.5 C977.8,782.0 982.6,781.6 985.5,779.5 C988.4,777.4 991.3,774.9 993.0,772.0 C994.7,769.1 994.9,765.8 995.5,762.0 C996.1,758.2 1014.0,751.6 996.8,749.5 C979.5,747.4 909.2,748.2 891.8,749.5Z"/><path d="M1068.0,749.5 C1064.0,750.8 1069.2,754.5 1070.5,757.0 C1071.8,759.5 1073.4,762.6 1075.5,764.5 C1077.6,766.4 1080.5,768.2 1083.0,768.2 C1085.5,768.2 1088.6,766.4 1090.5,764.5 C1092.4,762.6 1093.6,759.5 1094.2,757.0 C1094.9,754.5 1098.6,750.8 1094.2,749.5 C1089.9,748.2 1072.0,748.2 1068.0,749.5Z"/><path d="M860.5,814.5 C862.2,800.8 867.2,815.8 870.5,814.5 C873.8,813.2 877.6,808.5 880.5,807.0 C883.4,805.5 885.1,804.5 888.0,805.8 C890.9,807.0 894.7,810.5 898.0,814.5 C901.3,818.5 905.3,824.1 908.0,829.5 C910.7,834.9 913.0,841.6 914.2,847.0 C915.5,852.4 915.7,857.0 915.5,862.0 C915.3,867.0 914.2,872.8 913.0,877.0 C911.8,881.2 910.5,884.3 908.0,887.0 C905.5,889.7 901.3,891.8 898.0,893.2 C894.7,894.7 891.3,895.1 888.0,895.8 C884.7,896.4 882.6,896.8 878.0,897.0 C873.4,897.2 863.4,910.8 860.5,897.0 C857.6,883.2 858.8,828.2 860.5,814.5Z"/><path d="M860.5,939.5 C862.6,925.8 867.6,939.3 873.0,939.5 C878.4,939.7 886.3,940.1 893.0,940.8 C899.7,941.4 907.2,942.2 913.0,943.2 C918.8,944.3 923.4,945.5 928.0,947.0 C932.6,948.5 937.6,953.7 940.5,952.0 C943.4,950.3 945.5,942.0 945.5,937.0 C945.5,932.0 941.5,927.0 940.5,922.0 C939.5,917.0 938.8,911.2 939.2,907.0 C939.7,902.8 940.7,899.9 943.0,897.0 C945.3,894.1 949.2,891.4 953.0,889.5 C956.8,887.6 961.3,886.2 965.5,885.8 C969.7,885.3 973.8,885.8 978.0,887.0 C982.2,888.2 986.3,891.0 990.5,893.2 C994.7,895.5 998.8,898.9 1003.0,900.8 C1007.2,902.6 1011.8,903.9 1015.5,904.5 C1019.2,905.1 1022.2,905.3 1025.5,904.5 C1028.8,903.7 1032.6,901.6 1035.5,899.5 C1038.4,897.4 1040.1,894.5 1043.0,892.0 C1045.9,889.5 1048.8,886.4 1053.0,884.5 C1057.2,882.6 1063.0,881.8 1068.0,880.8 C1073.0,879.7 1078.0,878.9 1083.0,878.2 C1088.0,877.6 1093.8,878.5 1098.0,877.0 C1102.2,875.5 1103.8,872.8 1108.0,869.5 C1112.2,866.2 1119.2,862.0 1123.0,857.0 C1126.8,852.0 1127.6,844.9 1130.5,839.5 C1133.4,834.1 1137.2,828.7 1140.5,824.5 C1143.8,820.3 1146.8,817.2 1150.5,814.5 C1154.2,811.8 1159.2,809.5 1163.0,808.2 C1166.8,807.0 1169.7,806.0 1173.0,807.0 C1176.3,808.0 1179.7,811.2 1183.0,814.5 C1186.3,817.8 1189.7,822.4 1193.0,827.0 C1196.3,831.6 1199.7,836.2 1203.0,842.0 C1206.3,847.8 1210.1,855.3 1213.0,862.0 C1215.9,868.7 1217.6,876.6 1220.5,882.0 C1223.4,887.4 1226.8,891.2 1230.5,894.5 C1234.2,897.8 1239.1,901.2 1243.0,902.0 C1246.9,902.8 1251.1,899.9 1254.0,899.5 C1256.9,899.1 1259.4,879.1 1260.5,899.5 C1261.6,919.9 1327.2,1001.6 1260.5,1022.0 C1193.8,1042.4 927.2,1035.8 860.5,1022.0 C793.8,1008.2 858.4,953.2 860.5,939.5Z"/><path d="M1163.0,749.5 C1147.2,750.8 1164.2,754.1 1165.5,757.0 C1166.8,759.9 1168.0,763.2 1170.5,767.0 C1173.0,770.8 1176.8,775.1 1180.5,779.5 C1184.2,783.9 1189.0,789.3 1193.0,793.2 C1197.0,797.2 1201.3,799.7 1204.2,803.2 C1207.2,806.8 1208.6,810.1 1210.5,814.5 C1212.4,818.9 1213.4,825.1 1215.5,829.5 C1217.6,833.9 1219.2,838.2 1223.0,840.8 C1226.8,843.3 1231.8,844.8 1238.0,845.0 C1244.2,845.2 1256.8,857.9 1260.5,842.0 C1264.2,826.1 1276.8,764.9 1260.5,749.5 C1244.2,734.1 1178.8,748.2 1163.0,749.5Z"/><path d="M1159.2,892.0 C1159.2,887.2 1160.7,881.2 1163.0,877.0 C1165.3,872.8 1169.7,869.2 1173.0,867.0 C1176.3,864.8 1180.3,863.6 1183.0,864.0 C1185.7,864.4 1188.4,866.1 1189.2,869.5 C1190.1,872.9 1189.5,879.9 1188.0,884.5 C1186.5,889.1 1183.4,893.5 1180.5,897.0 C1177.6,900.5 1173.4,904.3 1170.5,905.8 C1167.6,907.2 1164.9,908.0 1163.0,905.8 C1161.1,903.5 1159.2,896.8 1159.2,892.0Z"/><path d="M1125.5,932.0 C1126.5,924.7 1129.7,925.1 1133.0,923.2 C1136.3,921.4 1142.2,920.5 1145.5,920.8 C1148.8,921.0 1151.5,921.4 1153.0,924.5 C1154.5,927.6 1154.7,934.5 1154.2,939.5 C1153.8,944.5 1152.4,950.3 1150.5,954.5 C1148.6,958.7 1145.9,962.0 1143.0,964.5 C1140.1,967.0 1135.7,969.1 1133.0,969.5 C1130.3,969.9 1128.0,973.2 1126.8,967.0 C1125.5,960.8 1124.5,939.3 1125.5,932.0Z"/><path d="M1150.5,982.0 C1151.3,977.4 1152.6,976.6 1155.5,974.5 C1158.4,972.4 1163.4,970.8 1168.0,969.5 C1172.6,968.2 1178.8,968.2 1183.0,967.0 C1187.2,965.8 1189.7,964.1 1193.0,962.0 C1196.3,959.9 1198.8,956.4 1203.0,954.5 C1207.2,952.6 1213.0,951.6 1218.0,950.8 C1223.0,949.9 1228.8,949.5 1233.0,949.5 C1237.2,949.5 1239.5,950.8 1243.0,950.8 C1246.5,950.8 1251.1,949.7 1254.0,949.5 C1256.9,949.3 1259.4,937.4 1260.5,949.5 C1261.6,961.6 1278.4,1009.9 1260.5,1022.0 C1242.6,1034.1 1171.3,1025.3 1153.0,1022.0 C1134.7,1018.7 1150.9,1008.7 1150.5,1002.0 C1150.1,995.3 1149.7,986.6 1150.5,982.0Z"/><path d="M1178.0,1022.0 C1172.6,1017.8 1176.3,1002.8 1178.0,997.0 C1179.7,991.2 1183.8,989.7 1188.0,987.0 C1192.2,984.3 1198.0,982.6 1203.0,980.8 C1208.0,978.9 1213.0,977.1 1218.0,975.8 C1223.0,974.4 1229.0,972.3 1233.0,972.5 C1237.0,972.7 1240.5,974.6 1241.8,977.0 C1243.0,979.4 1242.4,983.7 1240.5,987.0 C1238.6,990.3 1234.2,993.7 1230.5,997.0 C1226.8,1000.3 1221.3,1002.8 1218.0,1007.0 C1214.7,1011.2 1217.2,1019.5 1210.5,1022.0 C1203.8,1024.5 1183.4,1026.2 1178.0,1022.0Z"/><path d="M860.5,749.5 C863.0,744.5 873.2,747.0 875.5,749.5 C877.8,752.0 875.1,759.9 874.2,764.5 C873.4,769.1 872.8,774.5 870.5,777.0 C868.2,779.5 862.2,784.1 860.5,779.5 C858.8,774.9 858.0,754.5 860.5,749.5Z"/><path d="M911.8,805.8 C911.5,803.5 914.0,800.6 915.5,800.0 C917.0,799.4 919.0,800.2 920.5,802.0 C922.0,803.8 924.0,808.7 924.2,810.8 C924.5,812.8 923.0,814.1 921.8,814.5 C920.5,814.9 918.4,814.7 916.8,813.2 C915.1,811.8 912.0,808.0 911.8,805.8Z"/><path d="M929.2,854.5 C929.5,851.6 930.3,847.4 931.8,845.8 C933.2,844.1 936.2,843.0 938.0,844.5 C939.8,846.0 941.7,851.2 942.5,854.5 C943.3,857.8 943.5,861.8 943.0,864.5 C942.5,867.2 940.8,869.9 939.2,870.8 C937.7,871.6 935.0,870.8 933.5,869.5 C932.0,868.2 930.7,865.8 930.0,863.2 C929.3,860.8 929.0,857.4 929.2,854.5Z"/><path d="M890.5,917.0 C891.1,914.3 893.0,910.3 895.5,908.2 C898.0,906.2 902.2,904.9 905.5,904.5 C908.8,904.1 913.2,904.3 915.5,905.8 C917.8,907.2 918.8,910.5 919.2,913.2 C919.7,916.0 919.5,919.5 918.0,922.0 C916.5,924.5 913.6,927.1 910.5,928.2 C907.4,929.4 902.4,929.6 899.2,929.0 C896.1,928.4 893.2,926.5 891.8,924.5 C890.3,922.5 889.9,919.7 890.5,917.0Z"/><path d="M1008.0,749.5 C999.7,751.6 1008.0,758.2 1010.5,762.0 C1013.0,765.8 1018.4,769.3 1023.0,772.0 C1027.6,774.7 1033.0,776.2 1038.0,778.2 C1043.0,780.3 1048.8,783.0 1053.0,784.5 C1057.2,786.0 1060.9,788.2 1063.0,787.0 C1065.1,785.8 1065.5,780.3 1065.5,777.0 C1065.5,773.7 1063.8,770.3 1063.0,767.0 C1062.2,763.7 1060.9,759.9 1060.5,757.0 C1060.1,754.1 1069.2,750.8 1060.5,749.5 C1051.8,748.2 1016.3,747.4 1008.0,749.5Z"/><path d="M1121.8,749.5 C1117.8,752.0 1121.1,759.5 1121.8,764.5 C1122.4,769.5 1123.6,775.8 1125.5,779.5 C1127.4,783.2 1130.5,786.6 1133.0,787.0 C1135.5,787.4 1138.8,784.5 1140.5,782.0 C1142.2,779.5 1142.2,775.3 1143.0,772.0 C1143.8,768.7 1145.1,765.8 1145.5,762.0 C1145.9,758.2 1149.5,751.6 1145.5,749.5 C1141.5,747.4 1125.7,747.0 1121.8,749.5Z"/><path d="M905.5,749.5 C899.7,750.8 904.5,754.1 905.5,757.0 C906.5,759.9 908.8,764.1 911.8,767.0 C914.7,769.9 919.5,773.2 923.0,774.5 C926.5,775.8 930.3,775.8 933.0,774.5 C935.7,773.2 938.0,769.9 939.2,767.0 C940.5,764.1 940.3,759.9 940.5,757.0 C940.7,754.1 946.3,750.8 940.5,749.5 C934.7,748.2 911.3,748.2 905.5,749.5Z"/><path d="M913.0,749.5 C909.5,750.8 913.4,754.7 914.2,757.0 C915.1,759.3 916.1,761.4 918.0,763.2 C919.9,765.1 923.0,767.8 925.5,768.2 C928.0,768.7 931.3,767.6 933.0,765.8 C934.7,763.9 935.1,759.7 935.5,757.0 C935.9,754.3 939.2,750.8 935.5,749.5 C931.8,748.2 916.5,748.2 913.0,749.5Z"/><path d="M916.8,749.5 C914.7,750.8 917.0,754.9 918.0,757.0 C919.0,759.1 921.1,761.6 923.0,762.0 C924.9,762.4 928.0,761.6 929.2,759.5 C930.5,757.4 932.6,751.2 930.5,749.5 C928.4,747.8 918.8,748.2 916.8,749.5Z"/><path d="M886.8,862.0 C887.0,858.2 887.8,852.8 889.2,849.5 C890.7,846.2 893.2,843.3 895.5,842.5 C897.8,841.7 901.2,842.1 903.0,844.5 C904.8,846.9 905.6,852.8 906.0,857.0 C906.4,861.2 906.6,865.8 905.5,869.5 C904.4,873.2 901.5,877.3 899.2,879.0 C897.0,880.7 893.6,880.7 891.8,879.5 C889.9,878.3 888.8,874.9 888.0,872.0 C887.2,869.1 886.5,865.8 886.8,862.0Z"/><path d="M1174.2,947.0 C1174.2,942.0 1175.3,937.0 1176.8,932.0 C1178.2,927.0 1180.7,922.0 1183.0,917.0 C1185.3,912.0 1188.0,906.2 1190.5,902.0 C1193.0,897.8 1195.1,894.1 1198.0,892.0 C1200.9,889.9 1205.1,888.7 1208.0,889.5 C1210.9,890.3 1213.0,893.2 1215.5,897.0 C1218.0,900.8 1220.5,907.0 1223.0,912.0 C1225.5,917.0 1230.1,922.8 1230.5,927.0 C1230.9,931.2 1228.4,934.1 1225.5,937.0 C1222.6,939.9 1216.8,941.6 1213.0,944.5 C1209.2,947.4 1206.3,951.2 1203.0,954.5 C1199.7,957.8 1196.3,962.0 1193.0,964.5 C1189.7,967.0 1185.7,969.9 1183.0,969.5 C1180.3,969.1 1178.2,965.8 1176.8,962.0 C1175.3,958.2 1174.2,952.0 1174.2,947.0Z"/><path d="M1195.5,912.0 C1196.1,910.3 1198.8,907.4 1200.5,907.0 C1202.2,906.6 1204.7,907.8 1205.5,909.5 C1206.3,911.2 1206.3,915.3 1205.5,917.0 C1204.7,918.7 1202.0,919.5 1200.5,919.5 C1199.0,919.5 1197.6,918.2 1196.8,917.0 C1195.9,915.8 1194.9,913.7 1195.5,912.0Z"/><path d="M959.2,923.2 C959.5,921.5 960.5,918.3 961.8,917.5 C963.0,916.7 965.8,917.1 966.8,918.2 C967.7,919.4 968.1,922.6 967.5,924.5 C966.9,926.4 964.2,928.9 963.0,929.5 C961.8,930.1 960.6,929.3 960.0,928.2 C959.4,927.2 959.0,925.0 959.2,923.2Z"/><path d="M860.5,947.0 C862.6,933.9 868.4,944.3 873.0,943.2 C877.6,942.2 883.4,940.8 888.0,940.8 C892.6,940.8 895.5,942.0 900.5,943.2 C905.5,944.5 912.6,946.4 918.0,948.2 C923.4,950.1 928.0,953.0 933.0,954.5 C938.0,956.0 941.3,956.6 948.0,957.0 C954.7,957.4 966.8,957.4 973.0,957.0 C979.2,956.6 981.3,955.8 985.5,954.5 C989.7,953.2 993.4,951.6 998.0,949.5 C1002.6,947.4 1008.0,944.1 1013.0,942.0 C1018.0,939.9 1023.0,938.0 1028.0,937.0 C1033.0,936.0 1038.0,935.3 1043.0,935.8 C1048.0,936.2 1053.0,937.6 1058.0,939.5 C1063.0,941.4 1068.4,944.1 1073.0,947.0 C1077.6,949.9 1081.3,954.1 1085.5,957.0 C1089.7,959.9 1095.9,953.7 1098.0,964.5 C1100.1,975.3 1137.6,1012.4 1098.0,1022.0 C1058.4,1031.6 900.1,1034.5 860.5,1022.0 C820.9,1009.5 858.4,960.1 860.5,947.0Z"/><path d="M860.5,954.5 C863.0,943.2 870.1,954.3 875.5,954.5 C880.9,954.7 887.6,954.9 893.0,955.8 C898.4,956.6 903.0,958.0 908.0,959.5 C913.0,961.0 917.2,962.4 923.0,964.5 C928.8,966.6 934.2,970.3 943.0,972.0 C951.8,973.7 968.0,975.8 975.5,974.5 C983.0,973.2 983.4,967.4 988.0,964.5 C992.6,961.6 998.0,958.9 1003.0,957.0 C1008.0,955.1 1013.0,954.3 1018.0,953.2 C1023.0,952.2 1028.0,951.0 1033.0,950.8 C1038.0,950.5 1043.0,950.8 1048.0,952.0 C1053.0,953.2 1058.4,955.8 1063.0,958.2 C1067.6,960.8 1071.8,964.3 1075.5,967.0 C1079.2,969.7 1081.8,972.0 1085.5,974.5 C1089.2,977.0 1095.9,974.1 1098.0,982.0 C1100.1,989.9 1137.6,1015.3 1098.0,1022.0 C1058.4,1028.7 900.1,1033.2 860.5,1022.0 C820.9,1010.8 858.0,965.8 860.5,954.5Z"/><path d="M895.5,1022.0 C875.1,1015.3 894.2,990.3 895.5,982.0 C896.8,973.7 899.7,974.3 903.0,972.0 C906.3,969.7 911.8,968.7 915.5,968.2 C919.2,967.8 920.9,968.0 925.5,969.5 C930.1,971.0 934.2,975.3 943.0,977.0 C951.8,978.7 969.7,979.5 978.0,979.5 C986.3,979.5 988.0,977.8 993.0,977.0 C998.0,976.2 1003.0,975.8 1008.0,974.5 C1013.0,973.2 1018.0,970.8 1023.0,969.5 C1028.0,968.2 1033.4,967.0 1038.0,967.0 C1042.6,967.0 1047.2,967.8 1050.5,969.5 C1053.8,971.2 1056.8,974.1 1058.0,977.0 C1059.2,979.9 1059.7,984.1 1058.0,987.0 C1056.3,989.9 1052.2,992.4 1048.0,994.5 C1043.8,996.6 1037.2,997.8 1033.0,999.5 C1028.8,1001.2 1025.5,1002.4 1023.0,1004.5 C1020.5,1006.6 1018.8,1009.1 1018.0,1012.0 C1017.2,1014.9 1038.4,1020.3 1018.0,1022.0 C997.6,1023.7 915.9,1028.7 895.5,1022.0Z"/><path d="M905.5,1022.0 C901.8,1016.6 906.3,996.2 908.0,989.5 C909.7,982.8 912.6,984.1 915.5,982.0 C918.4,979.9 923.0,970.3 925.5,977.0 C928.0,983.7 933.8,1014.5 930.5,1022.0 C927.2,1029.5 909.2,1027.4 905.5,1022.0Z"/><path d="M978.0,1022.0 C971.8,1016.6 976.3,994.5 978.0,989.5 C979.7,984.5 983.8,990.8 988.0,992.0 C992.2,993.2 998.8,994.5 1003.0,997.0 C1007.2,999.5 1010.9,1002.8 1013.0,1007.0 C1015.1,1011.2 1021.3,1019.5 1015.5,1022.0 C1009.7,1024.5 984.2,1027.4 978.0,1022.0Z"/><path d="M915.5,1022.0 C913.6,1017.8 915.7,1002.4 916.8,997.0 C917.8,991.6 920.1,990.8 921.8,989.5 C923.4,988.2 925.7,984.1 926.8,989.5 C927.8,994.9 929.9,1016.6 928.0,1022.0 C926.1,1027.4 917.4,1026.2 915.5,1022.0Z"/></g><g font-size="8.4" fill="#000" text-anchor="middle"><text x="920.5" y="764.3" transform="rotate(-40 920.5 761.5)">6</text><text x="914.2" y="776.0" transform="rotate(-50 914.2 773.2)">2</text><text x="974.2" y="781.8" transform="rotate(-60 974.2 779.0)">0</text><text x="928.0" y="793.5" transform="rotate(-40 928.0 790.8)">0</text><text x="921.0" y="812.3" transform="rotate(-60 921.0 809.5)">-2</text><text x="943.0" y="864.3" transform="rotate(-60 943.0 861.5)">-2</text><text x="888.0" y="869.8" transform="rotate(-60 888.0 867.0)">2</text><text x="912.5" y="887.3" transform="rotate(-60 912.5 884.5)">0</text><text x="914.2" y="928.5" transform="rotate(-60 914.2 925.8)">-2</text><text x="963.0" y="926.0" transform="rotate(-60 963.0 923.2)">2</text><text x="1024.2" y="763.5" transform="rotate(0 1024.2 760.8)">-4</text><text x="1079.2" y="769.8" transform="rotate(-40 1079.2 767.0)">0</text><text x="1061.8" y="787.8" transform="rotate(-60 1061.8 785.0)">-2</text><text x="1141.8" y="782.3" transform="rotate(-60 1141.8 779.5)">-2</text><text x="1185.5" y="794.8" transform="rotate(-40 1185.5 792.0)">0</text><text x="1163.0" y="812.8" transform="rotate(-40 1163.0 810.0)">0</text><text x="1181.0" y="894.8" transform="rotate(-60 1181.0 892.0)">0</text><text x="1198.5" y="919.8" transform="rotate(0 1198.5 917.0)">-4</text><text x="1173.5" y="943.5" transform="rotate(-70 1173.5 940.8)">2</text><text x="1070.5" y="949.8" transform="rotate(-40 1070.5 947.0)">2</text><text x="1061.0" y="961.0" transform="rotate(-40 1061.0 958.2)">4</text><text x="1041.8" y="966.0" transform="rotate(0 1041.8 963.2)">6</text><text x="1148.5" y="966.0" transform="rotate(-50 1148.5 963.2)">0</text><text x="983.0" y="996.0" transform="rotate(0 983.0 993.2)">8</text><text x="1156.8" y="982.3" transform="rotate(0 1156.8 979.5)">0</text><text x="1200.5" y="989.8" transform="rotate(0 1200.5 987.0)">-2</text><text x="1195.5" y="1004.8" transform="rotate(-40 1195.5 1002.0)">-4</text></g><path d="M866.9,1018.1 L866.9,1018.3 L868.8,1013.5 L868.8,927.6 L869.9,926.2 L870.3,917.9 L870.7,926.2 L870.5,925.2 L871.7,903.7 L871.4,903.4 L871.8,896.2 L872.2,903.4 L874.0,884.6 L876.0,889.4 L877.6,848.8 L877.4,853.3 L877.8,851.0 L878.2,853.3 L878.8,875.1 L878.9,870.1 L879.3,863.7 L879.7,870.1 L880.0,860.7 L881.7,770.0 L881.9,797.4 L882.3,796.2 L882.7,797.4 L883.1,832.1 L883.4,873.7 L883.8,860.9 L884.2,873.7 L884.1,889.4 L884.9,894.8 L885.3,891.0 L885.7,894.8 L886.0,896.5 L887.2,906.1 L887.9,927.1 L888.3,921.7 L888.7,927.1 L888.4,927.6 L889.6,951.4 L890.8,975.3 L890.9,981.5 L891.3,976.8 L891.7,981.5 L892.7,994.4 L893.9,1006.9 L894.3,1002.4 L894.7,1006.9 L894.3,1006.3 L895.5,1013.0 L897.9,999.2 L899.1,1013.0 L902.7,1013.0 L903.9,999.2 L904.6,898.9 L905.6,999.2 L907.0,1013.0 L921.8,1013.0 L923.0,977.7 L925.4,980.1 L925.6,979.6 L926.0,977.7 L926.4,979.6 L927.1,976.6 L927.5,973.5 L927.9,976.6 L927.7,975.3 L928.6,978.6 L929.0,975.5 L929.4,978.6 L930.1,980.1 L932.5,970.5 L933.1,970.4 L933.5,965.3 L933.9,970.4 L934.9,968.1 L934.6,968.8 L935.0,965.0 L935.4,968.8 L936.1,965.8 L936.5,959.6 L936.9,965.8 L937.3,963.4 L937.6,963.5 L938.0,959.6 L938.4,963.5 L939.7,961.0 L940.6,960.5 L941.0,947.8 L941.4,960.5 L942.1,958.6 L942.1,958.6 L942.5,951.0 L942.9,958.6 L943.6,955.6 L944.0,952.0 L944.4,955.6 L944.5,953.8 L946.8,937.1 L948.0,956.2 L948.1,956.1 L948.5,955.3 L948.9,956.1 L949.6,953.1 L950.0,946.1 L950.4,953.1 L950.4,951.4 L952.8,956.2 L955.2,946.7 L957.1,952.0 L957.5,949.4 L957.9,952.0 L957.6,951.4 L960.0,944.3 L960.1,947.0 L960.5,929.4 L960.9,947.0 L961.9,951.4 L963.5,968.1 L964.6,973.2 L965.0,963.2 L965.4,973.2 L965.9,975.3 L966.1,972.9 L966.5,970.2 L966.9,972.9 L967.6,963.9 L968.0,956.3 L968.4,963.9 L968.3,961.0 L969.1,964.1 L969.5,962.5 L969.9,964.1 L970.7,965.8 L970.6,967.6 L971.0,964.9 L971.4,967.6 L972.1,973.6 L972.5,971.9 L972.9,973.6 L973.1,975.3 L973.6,977.9 L974.0,974.1 L974.4,977.9 L975.5,980.1 L976.7,999.2 L979.1,1013.0 L985.0,1013.0 L986.2,999.2 L988.6,984.8 L990.5,994.4 L990.3,995.8 L990.7,987.4 L991.1,995.8 L992.2,999.2 L994.6,1013.0 L998.2,1003.9 L1000.5,1013.0 L1007.7,1013.0 L1085.0,1014.2 L1086.2,1012.5 L1087.4,986.9 L1088.6,999.1 L1089.8,974.7 L1091.0,926.0 L1092.3,877.3 L1093.0,852.9 L1094.0,872.4 L1094.5,858.2 L1094.9,847.0 L1095.3,858.2 L1095.9,840.8 L1096.0,836.8 L1096.4,832.8 L1096.8,836.8 L1099.6,804.2 L1100.5,796.2 L1100.9,790.0 L1101.3,796.2 L1102.0,786.2 L1102.4,783.2 L1102.8,786.2 L1103.2,779.9 L1105.0,764.4 L1105.4,759.0 L1105.8,764.4 L1106.1,757.9 L1106.9,745.8 L1111.0,746.6 L1111.4,743.0 L1111.8,746.6 L1112.5,746.6 L1112.9,745.5 L1113.3,746.6 L1118.3,745.8 L1119.1,804.2 L1120.3,852.9 L1120.0,858.3 L1120.4,856.2 L1120.8,858.3 L1121.5,901.7 L1122.7,906.5 L1123.0,906.7 L1123.4,904.6 L1123.8,906.7 L1123.9,905.3 L1125.1,926.0 L1126.4,974.7 L1126.0,976.0 L1126.4,967.5 L1126.8,976.0 L1127.6,996.7 L1129.0,1001.1 L1129.4,996.5 L1129.8,1001.1 L1130.0,1001.5 L1132.5,1006.4 L1133.5,1009.1 L1133.9,1007.4 L1134.3,1009.1 L1136.1,1011.3 L1137.3,1014.2 L1150.0,1014.2 L1150.6,966.0 L1150.7,967.9 L1151.2,1014.2 L1155.3,1014.2 L1156.0,995.2 L1156.2,997.2 L1156.9,1014.2 L1159.5,1014.2 L1160.1,976.9 L1160.2,978.9 L1160.9,1014.2 L1164.3,1014.2 L1165.0,998.4 L1165.1,1000.3 L1165.8,1014.2 L1167.5,1014.2 L1168.2,991.6 L1168.3,993.5 L1169.0,1014.2 L1171.9,1014.2 L1172.6,982.3 L1172.8,984.2 L1173.6,1014.2 L1175.2,1014.2 L1175.8,979.1 L1176.0,981.1 L1176.6,1014.2 L1180.9,1014.2 L1181.8,975.5 L1182.0,977.4 L1183.0,1014.2 L1184.5,1014.2 L1185.3,963.1 L1185.5,965.0 L1186.3,1014.2 L1230.9,1014.2 L1231.6,877.3 L1232.6,857.8 L1233.5,877.3 L1234.5,1014.2 L1246.9,1014.2 L1248.2,1006.4 L1249.4,1014.2 L1251.8,1014.2 L1251.8,1023.5 L1251.8,1018.1Z" fill="#000"/></g><rect x="760.0" y="757.6" width="108.9" height="255.5" fill="#fff"/><clipPath id="lclip21"><rect x="760.0" y="757.6" width="108.9" height="255.5"/></clipPath><path d="M820.60,758.20 C819.15,758.62 814.38,759.67 811.90,760.70 C809.42,761.73 806.93,762.77 805.70,764.40 C804.47,766.03 804.50,768.45 804.50,770.50 C804.50,772.55 805.37,774.02 805.70,776.70 C806.03,779.38 806.70,783.92 806.50,786.60 C806.30,789.28 804.63,790.33 804.50,792.80 C804.37,795.27 804.88,798.32 805.70,801.40 C806.52,804.48 807.95,808.00 809.40,811.30 C810.85,814.60 813.37,818.72 814.40,821.20 C815.43,823.68 815.60,823.32 815.60,826.20 C815.60,829.08 815.10,834.38 814.40,838.50 C813.70,842.62 811.90,846.37 811.40,850.90 C810.90,855.43 811.52,860.75 811.40,865.70 C811.28,870.65 810.62,876.07 810.70,880.60 C810.78,885.13 810.25,889.62 811.90,892.90 C813.55,896.18 816.48,898.23 820.60,900.30 C824.72,902.37 831.67,903.43 836.60,905.30 C841.53,907.17 849.78,909.65 850.20,911.50 C850.62,913.35 843.83,914.97 839.10,916.40 C834.37,917.83 826.13,918.45 821.80,920.10 C817.47,921.75 814.13,924.03 813.10,926.30 C812.07,928.57 813.33,930.62 815.60,933.70 C817.87,936.78 822.78,941.30 826.70,944.80 C830.62,948.30 835.38,952.02 839.10,954.70 C842.82,957.38 846.32,958.63 849.00,960.90 C851.68,963.17 854.58,965.83 855.20,968.30 C855.82,970.77 854.77,973.43 852.70,975.70 C850.63,977.97 845.88,979.63 842.80,981.90 C839.72,984.17 835.23,987.45 834.20,989.30 C833.17,991.15 833.30,991.97 836.60,993.00 C839.90,994.03 848.63,994.88 854.00,995.50 C859.37,996.12 863.63,996.28 868.80,996.70 C873.97,997.12 881.47,996.78 885.00,998.00 C888.53,999.22 892.70,1001.95 890.00,1004.00 C887.30,1006.05 875.22,1008.70 868.80,1010.30 C862.38,1011.90 855.47,1012.65 851.50,1013.60 C847.53,1014.55 846.08,1015.60 845.00,1016.00" fill="none" stroke="#0b6fbf" stroke-width="2.7" stroke-linejoin="round" stroke-linecap="round" clip-path="url(#lclip21)"/><path d="M760.0,757.6 H1254.2 V1013.1 H760.0 Z M868.9,757.6 V1013.1" fill="none" stroke="#2b2b2b" stroke-width="1.7"/><line x1="756.8" y1="757.6" x2="760.0" y2="757.6" stroke="#2b2b2b" stroke-width="1.2"/><text x="749.4" y="763.5" font-size="18.5" text-anchor="end">1000</text><line x1="756.8" y1="789.5" x2="760.0" y2="789.5" stroke="#2b2b2b" stroke-width="1.2"/><text x="749.4" y="795.4" font-size="18.5" text-anchor="end">1500</text><line x1="756.8" y1="821.5" x2="760.0" y2="821.5" stroke="#2b2b2b" stroke-width="1.2"/><text x="749.4" y="827.4" font-size="18.5" text-anchor="end">2000</text><line x1="756.8" y1="853.4" x2="760.0" y2="853.4" stroke="#2b2b2b" stroke-width="1.2"/><text x="749.4" y="859.3" font-size="18.5" text-anchor="end">2500</text><line x1="756.8" y1="885.4" x2="760.0" y2="885.4" stroke="#2b2b2b" stroke-width="1.2"/><text x="749.4" y="891.2" font-size="18.5" text-anchor="end">3000</text><line x1="756.8" y1="917.3" x2="760.0" y2="917.3" stroke="#2b2b2b" stroke-width="1.2"/><text x="749.4" y="923.2" font-size="18.5" text-anchor="end">3500</text><line x1="756.8" y1="949.2" x2="760.0" y2="949.2" stroke="#2b2b2b" stroke-width="1.2"/><text x="749.4" y="955.1" font-size="18.5" text-anchor="end">4000</text><line x1="756.8" y1="981.2" x2="760.0" y2="981.2" stroke="#2b2b2b" stroke-width="1.2"/><text x="749.4" y="987.1" font-size="18.5" text-anchor="end">4500</text><line x1="756.8" y1="1013.1" x2="760.0" y2="1013.1" stroke="#2b2b2b" stroke-width="1.2"/><text x="749.4" y="1019.0" font-size="18.5" text-anchor="end">5000</text><line x1="764.8" y1="1013.1" x2="764.8" y2="1016.3" stroke="#2b2b2b" stroke-width="1.2"/><text x="759.4" y="1038.1" font-size="18.5" text-anchor="middle">-25</text><line x1="814.8" y1="1013.1" x2="814.8" y2="1016.3" stroke="#2b2b2b" stroke-width="1.2"/><text x="814.3" y="1038.1" font-size="18.5" text-anchor="middle">0</text><line x1="864.8" y1="1013.1" x2="864.8" y2="1016.3" stroke="#2b2b2b" stroke-width="1.2"/><text x="865.9" y="1038.1" font-size="18.5" text-anchor="middle">25</text><line x1="939.3" y1="1013.1" x2="939.3" y2="1016.3" stroke="#2b2b2b" stroke-width="1.2"/><text x="942.9" y="1038.1" font-size="18.5" text-anchor="middle">40°S</text><line x1="1017.9" y1="1013.1" x2="1017.9" y2="1016.3" stroke="#2b2b2b" stroke-width="1.2"/><text x="1019.0" y="1038.1" font-size="18.5" text-anchor="middle">20°S</text><line x1="1091.7" y1="1013.1" x2="1091.7" y2="1016.3" stroke="#2b2b2b" stroke-width="1.2"/><text x="1089.2" y="1038.1" font-size="18.5" text-anchor="middle">EQ</text><line x1="1167.3" y1="1013.1" x2="1167.3" y2="1016.3" stroke="#2b2b2b" stroke-width="1.2"/><text x="1169.5" y="1038.1" font-size="18.5" text-anchor="middle">20°N</text><line x1="1241.5" y1="1013.1" x2="1241.5" y2="1016.3" stroke="#2b2b2b" stroke-width="1.2"/><text x="1251.8" y="1038.1" font-size="18.5" text-anchor="middle">40°N</text><text x="811.9" y="1065.8" font-size="21" text-anchor="middle">RG (%)</text><text x="1030.2" y="1067.3" font-size="21" text-anchor="middle">Latitude</text><text x="0" y="0" font-size="21" text-anchor="middle" transform="translate(698.8,865.0) rotate(-90)">Depth (m)</text><text x="705.7" y="775.6" font-size="35" text-anchor="end">(h)</text><linearGradient id="cbg21" x1="0" y1="0" x2="0" y2="1"><stop offset="0.000" stop-color="#a50026"/><stop offset="0.025" stop-color="#b10b26"/><stop offset="0.050" stop-color="#bd1726"/><stop offset="0.075" stop-color="#ca2427"/><stop offset="0.100" stop-color="#d62f27"/><stop offset="0.125" stop-color="#dd3d2d"/><stop offset="0.150" stop-color="#e54e35"/><stop offset="0.175" stop-color="#ec5c3b"/><stop offset="0.200" stop-color="#f46d43"/><stop offset="0.225" stop-color="#f67c4a"/><stop offset="0.250" stop-color="#f88c51"/><stop offset="0.275" stop-color="#fb9d59"/><stop offset="0.300" stop-color="#fdad60"/><stop offset="0.325" stop-color="#fdbb6d"/><stop offset="0.350" stop-color="#fdc778"/><stop offset="0.375" stop-color="#fed283"/><stop offset="0.400" stop-color="#fee090"/><stop offset="0.425" stop-color="#fee79b"/><stop offset="0.450" stop-color="#fff0a8"/><stop offset="0.475" stop-color="#fff7b3"/><stop offset="0.500" stop-color="#fffebe"/><stop offset="0.525" stop-color="#f7fcce"/><stop offset="0.550" stop-color="#f0f9db"/><stop offset="0.575" stop-color="#e7f6eb"/><stop offset="0.600" stop-color="#e0f3f8"/><stop offset="0.625" stop-color="#d4edf4"/><stop offset="0.650" stop-color="#c5e6f0"/><stop offset="0.675" stop-color="#b9e0ed"/><stop offset="0.700" stop-color="#aad8e9"/><stop offset="0.725" stop-color="#9dcee3"/><stop offset="0.750" stop-color="#90c3dd"/><stop offset="0.775" stop-color="#81b7d7"/><stop offset="0.800" stop-color="#74add1"/><stop offset="0.825" stop-color="#679ec9"/><stop offset="0.850" stop-color="#5c90c2"/><stop offset="0.875" stop-color="#5183bb"/><stop offset="0.900" stop-color="#4574b3"/><stop offset="0.925" stop-color="#4065ac"/><stop offset="0.950" stop-color="#3a54a4"/><stop offset="0.975" stop-color="#36459c"/><stop offset="1.000" stop-color="#313695"/></linearGradient><rect x="1257.6" y="757.6" width="8.1" height="255.5" fill="url(#cbg21)" stroke="#2b2b2b" stroke-width="0.9"/><line x1="1265.7" y1="773.6" x2="1268.2" y2="773.6" stroke="#2b2b2b" stroke-width="1"/><text x="1271.7" y="778.6" font-size="18.5" text-anchor="start">12</text><line x1="1265.7" y1="810.9" x2="1268.2" y2="810.9" stroke="#2b2b2b" stroke-width="1"/><text x="1271.7" y="815.9" font-size="18.5" text-anchor="start">8</text><line x1="1265.7" y1="848.1" x2="1268.2" y2="848.1" stroke="#2b2b2b" stroke-width="1"/><text x="1271.7" y="853.1" font-size="18.5" text-anchor="start">4</text><line x1="1265.7" y1="885.4" x2="1268.2" y2="885.4" stroke="#2b2b2b" stroke-width="1"/><text x="1271.7" y="890.4" font-size="18.5" text-anchor="start">0</text><line x1="1265.7" y1="922.6" x2="1268.2" y2="922.6" stroke="#2b2b2b" stroke-width="1"/><text x="1271.7" y="927.6" font-size="18.5" text-anchor="start">-4</text><line x1="1265.7" y1="959.8" x2="1268.2" y2="959.8" stroke="#2b2b2b" stroke-width="1"/><text x="1271.7" y="964.8" font-size="18.5" text-anchor="start">-8</text><line x1="1265.7" y1="997.1" x2="1268.2" y2="997.1" stroke="#2b2b2b" stroke-width="1"/><text x="1271.7" y="1002.1" font-size="18.5" text-anchor="start">-12</text><text x="1268.2" y="744.7" font-size="13.4">×10<tspan font-size="9.6" dy="-4">-3</tspan></text><clipPath id="clip22"><rect x="1518.0" y="757.1" width="384.5" height="256.0"/></clipPath><g clip-path="url(#clip22)"><rect x="1518.0" y="757.1" width="384.5" height="256.0" fill="#d1ecf4"/><path d="M1511.5,749.5 C1521.9,737.7 1563.4,748.9 1573.8,749.5 C1584.1,750.1 1574.2,751.8 1573.8,753.2 C1573.3,754.7 1573.3,757.2 1571.2,758.2 C1569.2,759.3 1565.0,758.9 1561.5,759.5 C1558.0,760.1 1553.4,761.0 1550.2,762.0 C1547.1,763.0 1544.6,763.5 1542.8,765.8 C1540.9,768.0 1540.0,770.8 1539.0,775.5 C1538.0,780.2 1537.3,788.0 1536.5,794.2 C1535.7,800.5 1535.2,809.0 1534.2,812.8 C1533.2,816.5 1532.0,815.5 1530.5,816.5 C1529.0,817.5 1528.7,818.4 1525.5,819.0 C1522.3,819.6 1513.8,831.8 1511.5,820.2 C1509.2,808.7 1501.1,761.3 1511.5,749.5Z" fill="#fffebe"/><path d="M1534.2,824.0 C1537.9,822.2 1548.0,825.2 1555.2,826.5 C1562.5,827.8 1573.0,831.5 1577.5,831.5 C1582.0,831.5 1581.5,829.6 1582.5,826.5 C1583.5,823.4 1582.9,817.1 1583.8,812.8 C1584.6,808.4 1585.2,803.8 1587.5,800.5 C1589.8,797.2 1593.4,795.5 1597.5,793.0 C1601.6,790.5 1607.3,788.0 1612.2,785.5 C1617.2,783.0 1623.1,779.5 1627.2,778.0 C1631.4,776.5 1636.0,775.1 1637.0,776.8 C1638.0,778.4 1634.7,783.4 1633.5,788.0 C1632.3,792.6 1630.8,799.1 1629.8,804.2 C1628.7,809.4 1627.7,813.4 1627.2,819.0 C1626.8,824.6 1627.5,831.5 1627.2,837.8 C1627.0,844.0 1626.8,851.1 1626.0,856.2 C1625.2,861.4 1623.5,864.6 1622.2,868.8 C1621.0,872.9 1619.5,877.1 1618.5,881.0 C1617.5,884.9 1616.8,888.1 1616.0,892.0 C1615.2,895.9 1615.0,900.3 1614.0,904.5 C1613.0,908.7 1612.3,913.9 1610.2,917.0 C1608.2,920.1 1605.5,921.9 1601.5,923.2 C1597.5,924.6 1591.9,924.4 1586.5,925.0 C1581.1,925.6 1574.4,926.2 1569.0,927.0 C1563.6,927.8 1559.0,928.7 1554.0,929.5 C1549.0,930.3 1543.6,931.2 1539.0,932.0 C1534.4,932.8 1531.1,934.0 1526.5,934.5 C1521.9,935.0 1514.0,941.2 1511.5,935.0 C1509.0,928.8 1509.0,904.2 1511.5,897.0 C1514.0,889.8 1523.0,895.3 1526.5,892.0 C1530.0,888.7 1531.7,882.8 1532.8,877.0 C1533.8,871.2 1532.9,863.7 1533.0,857.0 C1533.1,850.3 1533.3,842.5 1533.5,837.0 C1533.7,831.5 1530.6,825.8 1534.2,824.0Z" fill="#fffebe"/><path d="M1711.5,749.5 C1718.2,748.2 1744.8,748.2 1751.5,749.5 C1758.2,750.8 1751.9,751.6 1751.5,757.0 C1751.1,762.4 1749.8,773.7 1749.0,782.0 C1748.2,790.3 1747.8,800.3 1746.5,807.0 C1745.2,813.7 1743.6,818.7 1741.5,822.0 C1739.4,825.3 1736.9,825.8 1734.0,827.0 C1731.1,828.2 1727.8,828.9 1724.0,829.5 C1720.2,830.1 1715.7,830.3 1711.5,830.8 C1707.3,831.2 1702.8,830.5 1699.0,832.0 C1695.2,833.5 1691.1,836.2 1689.0,839.5 C1686.9,842.8 1686.5,847.8 1686.5,852.0 C1686.5,856.2 1687.3,861.2 1689.0,864.5 C1690.7,867.8 1692.8,870.1 1696.5,872.0 C1700.2,873.9 1706.5,874.9 1711.5,875.8 C1716.5,876.6 1722.3,876.0 1726.5,877.0 C1730.7,878.0 1734.2,879.1 1736.5,882.0 C1738.8,884.9 1739.6,888.2 1740.2,894.5 C1740.9,900.8 1740.5,911.2 1740.2,919.5 C1740.0,927.8 1739.8,938.2 1739.0,944.5 C1738.2,950.8 1737.3,953.2 1735.2,957.0 C1733.2,960.8 1730.0,964.5 1726.5,967.0 C1723.0,969.5 1718.2,970.3 1714.0,972.0 C1709.8,973.7 1706.1,975.3 1701.5,977.0 C1696.9,978.7 1691.5,980.8 1686.5,982.0 C1681.5,983.2 1676.1,984.7 1671.5,984.5 C1666.9,984.3 1662.5,982.8 1659.0,980.8 C1655.5,978.7 1653.2,976.0 1650.2,972.0 C1647.3,968.0 1644.2,962.0 1641.5,957.0 C1638.8,952.0 1636.1,947.0 1634.0,942.0 C1631.9,937.0 1630.0,932.0 1629.0,927.0 C1628.0,922.0 1627.8,917.0 1627.8,912.0 C1627.8,907.0 1628.0,902.0 1629.0,897.0 C1630.0,892.0 1632.3,887.0 1634.0,882.0 C1635.7,877.0 1637.3,871.6 1639.0,867.0 C1640.7,862.4 1641.9,858.7 1644.0,854.5 C1646.1,850.3 1648.6,845.3 1651.5,842.0 C1654.4,838.7 1658.2,836.6 1661.5,834.5 C1664.8,832.4 1667.8,832.0 1671.5,829.5 C1675.2,827.0 1680.2,823.2 1684.0,819.5 C1687.8,815.8 1691.1,811.2 1694.0,807.0 C1696.9,802.8 1699.2,798.7 1701.5,794.5 C1703.8,790.3 1706.1,786.2 1707.8,782.0 C1709.4,777.8 1711.0,773.7 1711.5,769.5 C1712.0,765.3 1711.0,760.3 1711.0,757.0 C1711.0,753.7 1704.8,750.8 1711.5,749.5Z" fill="#fffebe"/><path d="M1809.0,749.5 C1792.8,750.8 1810.2,754.1 1811.5,757.0 C1812.8,759.9 1814.0,763.7 1816.5,767.0 C1819.0,770.3 1822.8,774.1 1826.5,777.0 C1830.2,779.9 1834.8,781.6 1839.0,784.5 C1843.2,787.4 1847.3,791.4 1851.5,794.5 C1855.7,797.6 1859.8,802.4 1864.0,803.2 C1868.2,804.1 1872.3,801.0 1876.5,799.5 C1880.7,798.0 1883.6,795.8 1889.0,794.5 C1894.4,793.2 1905.7,799.5 1909.0,792.0 C1912.3,784.5 1925.7,756.6 1909.0,749.5 C1892.3,742.4 1825.2,748.2 1809.0,749.5Z" fill="#fffebe"/><path d="M1909.0,817.0 C1906.5,796.6 1897.3,817.8 1894.0,819.5 C1890.7,821.2 1890.7,823.7 1889.0,827.0 C1887.3,830.3 1885.7,835.3 1884.0,839.5 C1882.3,843.7 1880.7,847.8 1879.0,852.0 C1877.3,856.2 1875.9,861.2 1874.0,864.5 C1872.1,867.8 1869.4,872.4 1867.8,872.0 C1866.1,871.6 1865.0,865.8 1864.0,862.0 C1863.0,858.2 1863.2,852.6 1861.5,849.5 C1859.8,846.4 1857.8,844.5 1854.0,843.2 C1850.2,842.0 1844.0,842.4 1839.0,842.0 C1834.0,841.6 1829.0,841.0 1824.0,840.8 C1819.0,840.5 1813.6,840.3 1809.0,840.8 C1804.4,841.2 1799.8,841.0 1796.5,843.2 C1793.2,845.5 1791.5,850.1 1789.0,854.5 C1786.5,858.9 1783.6,864.1 1781.5,869.5 C1779.4,874.9 1778.0,881.6 1776.5,887.0 C1775.0,892.4 1773.2,897.8 1772.8,902.0 C1772.3,906.2 1773.4,907.8 1774.0,912.0 C1774.6,916.2 1776.1,921.6 1776.5,927.0 C1776.9,932.4 1776.1,939.1 1776.5,944.5 C1776.9,949.9 1777.8,954.9 1779.0,959.5 C1780.2,964.1 1781.5,968.2 1784.0,972.0 C1786.5,975.8 1789.8,979.5 1794.0,982.0 C1798.2,984.5 1804.4,985.8 1809.0,987.0 C1813.6,988.2 1816.5,989.5 1821.5,989.5 C1826.5,989.5 1833.6,988.2 1839.0,987.0 C1844.4,985.8 1849.8,984.1 1854.0,982.0 C1858.2,979.9 1860.7,977.4 1864.0,974.5 C1867.3,971.6 1870.7,967.8 1874.0,964.5 C1877.3,961.2 1880.7,957.4 1884.0,954.5 C1887.3,951.6 1889.8,949.1 1894.0,947.0 C1898.2,944.9 1906.5,963.7 1909.0,942.0 C1911.5,920.3 1911.5,837.4 1909.0,817.0Z" fill="#fffebe"/><path d="M1639.0,1017.0 C1627.8,1015.3 1641.5,1010.3 1644.0,1007.0 C1646.5,1003.7 1650.7,999.5 1654.0,997.0 C1657.3,994.5 1659.8,993.0 1664.0,992.0 C1668.2,991.0 1674.0,990.3 1679.0,990.8 C1684.0,991.2 1689.8,992.6 1694.0,994.5 C1698.2,996.4 1701.1,998.2 1704.0,1002.0 C1706.9,1005.8 1722.3,1014.5 1711.5,1017.0 C1700.7,1019.5 1650.2,1018.7 1639.0,1017.0Z" fill="#fffebe"/><path d="M1511.5,749.5 C1514.0,742.0 1523.8,746.6 1526.5,749.5 C1529.2,752.4 1528.0,761.6 1527.8,767.0 C1527.5,772.4 1526.3,777.8 1525.2,782.0 C1524.2,786.2 1523.8,789.9 1521.5,792.0 C1519.2,794.1 1513.2,801.6 1511.5,794.5 C1509.8,787.4 1509.0,757.0 1511.5,749.5Z" fill="#fed283"/><path d="M1511.5,749.5 C1513.4,744.5 1520.8,746.6 1522.8,749.5 C1524.8,752.4 1523.9,762.4 1523.5,767.0 C1523.1,771.6 1522.2,774.9 1520.2,777.0 C1518.2,779.1 1513.0,784.1 1511.5,779.5 C1510.0,774.9 1509.6,754.5 1511.5,749.5Z" fill="#f88c51"/><path d="M1571.5,899.5 C1571.8,896.4 1572.8,892.0 1575.2,889.5 C1577.8,887.0 1583.0,884.9 1586.5,884.5 C1590.0,884.1 1594.2,884.9 1596.5,887.0 C1598.8,889.1 1599.8,893.5 1600.2,897.0 C1600.7,900.5 1600.7,905.2 1599.0,908.2 C1597.3,911.2 1593.4,914.0 1590.2,915.0 C1587.1,916.0 1583.1,915.6 1580.2,914.5 C1577.4,913.4 1574.7,910.8 1573.2,908.2 C1571.8,905.8 1571.2,902.6 1571.5,899.5Z" fill="#fed283"/><path d="M1695.2,814.5 C1694.6,811.0 1695.0,805.8 1696.5,802.0 C1698.0,798.2 1700.7,794.5 1704.0,792.0 C1707.3,789.5 1712.3,788.2 1716.5,787.0 C1720.7,785.8 1725.2,784.7 1729.0,784.5 C1732.8,784.3 1736.9,783.7 1739.0,785.8 C1741.1,787.8 1741.9,793.0 1741.5,797.0 C1741.1,801.0 1739.0,805.8 1736.5,809.5 C1734.0,813.2 1730.7,817.0 1726.5,819.5 C1722.3,822.0 1715.9,823.9 1711.5,824.5 C1707.1,825.1 1703.0,824.9 1700.2,823.2 C1697.5,821.6 1695.9,818.0 1695.2,814.5Z" fill="#fed283"/><path d="M1721.5,749.5 C1718.2,751.2 1722.3,756.6 1724.0,759.5 C1725.7,762.4 1729.0,766.0 1731.5,767.0 C1734.0,768.0 1736.9,767.4 1739.0,765.8 C1741.1,764.1 1743.2,759.7 1744.0,757.0 C1744.8,754.3 1747.8,750.8 1744.0,749.5 C1740.2,748.2 1724.8,747.8 1721.5,749.5Z" fill="#fed283"/><path d="M1726.5,749.5 C1724.6,751.2 1727.3,757.4 1729.0,759.5 C1730.7,761.6 1734.6,763.7 1736.5,762.0 C1738.4,760.3 1741.9,751.6 1740.2,749.5 C1738.6,747.4 1728.4,747.8 1726.5,749.5Z" fill="#f88c51"/><path d="M1654.0,917.0 C1654.4,909.5 1655.2,907.0 1656.5,902.0 C1657.8,897.0 1659.4,891.2 1661.5,887.0 C1663.6,882.8 1666.1,878.9 1669.0,877.0 C1671.9,875.1 1675.7,874.9 1679.0,875.8 C1682.3,876.6 1685.2,880.5 1689.0,882.0 C1692.8,883.5 1696.9,883.7 1701.5,884.5 C1706.1,885.3 1712.3,885.8 1716.5,887.0 C1720.7,888.2 1723.8,889.5 1726.5,892.0 C1729.2,894.5 1731.7,897.8 1732.8,902.0 C1733.8,906.2 1733.8,912.8 1732.8,917.0 C1731.7,921.2 1730.0,924.9 1726.5,927.0 C1723.0,929.1 1716.5,928.7 1711.5,929.5 C1706.5,930.3 1700.7,930.8 1696.5,932.0 C1692.3,933.2 1689.4,934.5 1686.5,937.0 C1683.6,939.5 1681.5,943.2 1679.0,947.0 C1676.5,950.8 1674.0,956.4 1671.5,959.5 C1669.0,962.6 1666.3,965.3 1664.0,965.8 C1661.7,966.2 1659.4,965.1 1657.8,962.0 C1656.1,958.9 1654.6,954.5 1654.0,947.0 C1653.4,939.5 1653.6,924.5 1654.0,917.0Z" fill="#fed283"/><path d="M1694.0,907.0 C1693.8,904.2 1696.5,900.2 1699.0,898.2 C1701.5,896.2 1705.9,894.8 1709.0,895.0 C1712.1,895.2 1716.1,897.1 1717.8,899.5 C1719.4,901.9 1720.0,906.8 1719.0,909.5 C1718.0,912.2 1714.6,914.8 1711.5,915.8 C1708.4,916.7 1703.2,916.5 1700.2,915.0 C1697.3,913.5 1694.2,909.8 1694.0,907.0Z" fill="#f88c51"/><path d="M1810.2,874.5 C1810.5,870.3 1810.5,864.1 1812.8,862.0 C1815.0,859.9 1820.0,859.9 1824.0,862.0 C1828.0,864.1 1832.3,870.3 1836.5,874.5 C1840.7,878.7 1845.2,882.4 1849.0,887.0 C1852.8,891.6 1856.5,896.6 1859.0,902.0 C1861.5,907.4 1863.6,913.7 1864.0,919.5 C1864.4,925.3 1862.3,930.8 1861.5,937.0 C1860.7,943.2 1860.2,950.8 1859.0,957.0 C1857.8,963.2 1856.9,969.9 1854.0,974.5 C1851.1,979.1 1846.1,982.8 1841.5,984.5 C1836.9,986.2 1830.7,985.8 1826.5,984.5 C1822.3,983.2 1819.4,980.3 1816.5,977.0 C1813.6,973.7 1811.5,968.7 1809.0,964.5 C1806.5,960.3 1804.4,956.2 1801.5,952.0 C1798.6,947.8 1794.2,943.7 1791.5,939.5 C1788.8,935.3 1786.3,931.2 1785.2,927.0 C1784.2,922.8 1784.2,917.2 1785.2,914.5 C1786.3,911.8 1789.0,910.3 1791.5,910.8 C1794.0,911.2 1797.3,913.9 1800.2,917.0 C1803.2,920.1 1805.9,926.6 1809.0,929.5 C1812.1,932.4 1816.5,934.9 1819.0,934.5 C1821.5,934.1 1823.6,930.8 1824.0,927.0 C1824.4,923.2 1822.8,917.0 1821.5,912.0 C1820.2,907.0 1818.2,901.2 1816.5,897.0 C1814.8,892.8 1812.5,890.8 1811.5,887.0 C1810.5,883.2 1810.0,878.7 1810.2,874.5Z" fill="#fed283"/><path d="M1824.0,964.5 C1824.0,960.8 1826.5,957.0 1829.0,954.5 C1831.5,952.0 1835.7,949.9 1839.0,949.5 C1842.3,949.1 1846.7,949.9 1849.0,952.0 C1851.3,954.1 1852.5,958.7 1852.8,962.0 C1853.0,965.3 1852.5,969.3 1850.2,972.0 C1848.0,974.7 1842.5,977.4 1839.0,978.2 C1835.5,979.1 1831.5,979.3 1829.0,977.0 C1826.5,974.7 1824.0,968.2 1824.0,964.5Z" fill="#f88c51"/><path d="M1831.5,749.5 C1819.0,750.8 1832.3,753.7 1834.0,757.0 C1835.7,760.3 1837.8,765.3 1841.5,769.5 C1845.2,773.7 1851.1,779.5 1856.5,782.0 C1861.9,784.5 1868.6,785.3 1874.0,784.5 C1879.4,783.7 1884.8,779.9 1889.0,777.0 C1893.2,774.1 1895.7,769.9 1899.0,767.0 C1902.3,764.1 1907.3,762.4 1909.0,759.5 C1910.7,756.6 1921.9,751.2 1909.0,749.5 C1896.1,747.8 1844.0,748.2 1831.5,749.5Z" fill="#fed283"/><path d="M1849.0,749.5 C1842.8,750.8 1849.4,754.5 1851.5,757.0 C1853.6,759.5 1857.8,762.8 1861.5,764.5 C1865.2,766.2 1869.8,767.4 1874.0,767.0 C1878.2,766.6 1884.0,764.9 1886.5,762.0 C1889.0,759.1 1895.2,751.6 1889.0,749.5 C1882.8,747.4 1855.2,748.2 1849.0,749.5Z" fill="#f88c51"/><path d="M1542.8,804.2 C1542.3,799.3 1543.0,786.9 1544.0,781.8 C1545.0,776.6 1546.7,775.5 1549.0,773.2 C1551.3,771.0 1554.6,769.7 1557.8,768.2 C1560.9,766.8 1564.9,766.0 1567.8,764.5 C1570.6,763.0 1573.6,762.0 1575.0,759.5 C1576.4,757.0 1566.9,751.2 1576.2,749.5 C1585.6,747.8 1622.1,748.2 1631.0,749.5 C1639.9,750.8 1630.4,755.3 1629.8,757.0 C1629.1,758.7 1628.7,758.0 1627.2,759.5 C1625.8,761.0 1623.5,763.5 1621.0,765.8 C1618.5,768.0 1615.4,771.0 1612.2,773.2 C1609.1,775.5 1605.5,777.4 1602.2,779.2 C1599.0,781.1 1595.8,782.6 1592.5,784.2 C1589.2,785.9 1585.2,787.0 1582.5,789.2 C1579.8,791.5 1577.9,795.1 1576.2,798.0 C1574.6,800.9 1574.3,804.3 1572.5,806.8 C1570.7,809.2 1568.1,811.5 1565.2,812.8 C1562.4,814.0 1558.4,814.2 1555.2,814.0 C1552.1,813.8 1548.6,813.1 1546.5,811.5 C1544.4,809.9 1543.2,809.2 1542.8,804.2Z" fill="#8ec2dc"/><path d="M1662.0,749.5 C1654.0,750.8 1661.8,754.5 1662.0,757.0 C1662.2,759.5 1663.7,761.8 1663.2,764.5 C1662.8,767.2 1661.4,770.0 1659.5,773.2 C1657.6,776.5 1653.9,780.8 1652.0,784.2 C1650.1,787.8 1648.9,790.5 1648.2,794.2 C1647.6,798.0 1647.2,803.2 1648.2,806.8 C1649.3,810.2 1651.8,813.3 1654.5,815.2 C1657.2,817.2 1661.2,818.3 1664.5,818.5 C1667.8,818.7 1671.0,817.9 1674.2,816.5 C1677.5,815.1 1681.3,812.5 1684.2,810.2 C1687.2,808.0 1689.1,805.7 1691.8,803.0 C1694.4,800.3 1698.0,797.8 1700.2,794.2 C1702.5,790.8 1703.8,785.7 1705.2,782.0 C1706.7,778.3 1708.2,776.2 1709.0,772.0 C1709.8,767.8 1710.0,760.8 1710.2,757.0 C1710.5,753.2 1718.3,750.8 1710.2,749.5 C1702.2,748.2 1670.0,748.2 1662.0,749.5Z" fill="#8ec2dc"/><path d="M1770.2,789.5 C1771.1,784.5 1773.4,779.7 1776.5,777.0 C1779.6,774.3 1784.0,773.0 1789.0,773.2 C1794.0,773.5 1801.1,775.5 1806.5,778.2 C1811.9,781.0 1817.8,785.5 1821.5,789.5 C1825.2,793.5 1827.3,797.8 1829.0,802.0 C1830.7,806.2 1831.9,810.3 1831.5,814.5 C1831.1,818.7 1829.4,824.5 1826.5,827.0 C1823.6,829.5 1819.0,829.5 1814.0,829.5 C1809.0,829.5 1801.9,828.7 1796.5,827.0 C1791.1,825.3 1785.7,822.8 1781.5,819.5 C1777.3,816.2 1773.4,812.0 1771.5,807.0 C1769.6,802.0 1769.4,794.5 1770.2,789.5Z" fill="#8ec2dc"/><path d="M1699.0,854.5 C1699.4,851.2 1701.1,845.3 1704.0,842.0 C1706.9,838.7 1711.9,835.8 1716.5,834.5 C1721.1,833.2 1727.5,833.2 1731.5,834.5 C1735.5,835.8 1738.6,838.7 1740.2,842.0 C1741.9,845.3 1742.1,850.8 1741.5,854.5 C1740.9,858.2 1739.4,862.2 1736.5,864.5 C1733.6,866.8 1728.6,867.8 1724.0,868.2 C1719.4,868.7 1712.8,868.0 1709.0,867.0 C1705.2,866.0 1703.2,864.1 1701.5,862.0 C1699.8,859.9 1698.6,857.8 1699.0,854.5Z" fill="#8ec2dc"/><path d="M1544.0,967.0 C1544.2,962.8 1546.1,956.2 1549.0,952.0 C1551.9,947.8 1556.9,944.7 1561.5,942.0 C1566.1,939.3 1571.1,936.9 1576.5,935.8 C1581.9,934.6 1588.2,934.8 1594.0,935.0 C1599.8,935.2 1606.5,935.4 1611.5,937.0 C1616.5,938.6 1620.7,941.2 1624.0,944.5 C1627.3,947.8 1630.2,952.4 1631.5,957.0 C1632.8,961.6 1632.8,967.8 1631.5,972.0 C1630.2,976.2 1627.8,979.5 1624.0,982.0 C1620.2,984.5 1614.0,985.8 1609.0,987.0 C1604.0,988.2 1599.4,989.3 1594.0,989.5 C1588.6,989.7 1582.3,989.1 1576.5,988.2 C1570.7,987.4 1563.8,986.4 1559.0,984.5 C1554.2,982.6 1550.2,979.9 1547.8,977.0 C1545.2,974.1 1543.8,971.2 1544.0,967.0Z" fill="#8ec2dc"/><path d="M1714.0,969.5 C1714.3,967.4 1715.9,964.3 1717.8,963.2 C1719.6,962.2 1723.0,961.8 1725.2,963.2 C1727.5,964.7 1730.4,969.5 1731.0,972.0 C1731.6,974.5 1730.6,977.0 1729.0,978.2 C1727.4,979.5 1723.7,979.9 1721.5,979.5 C1719.3,979.1 1717.2,977.4 1716.0,975.8 C1714.8,974.1 1713.7,971.6 1714.0,969.5Z" fill="#8ec2dc"/><path d="M1661.5,1017.0 C1658.2,1014.7 1662.3,1006.2 1664.0,1003.2 C1665.7,1000.2 1668.8,999.4 1671.5,999.0 C1674.2,998.6 1678.2,999.4 1680.2,1000.8 C1682.3,1002.1 1683.4,1004.3 1684.0,1007.0 C1684.6,1009.7 1687.8,1015.3 1684.0,1017.0 C1680.2,1018.7 1664.8,1019.3 1661.5,1017.0Z" fill="#8ec2dc"/><path d="M1786.5,987.0 C1786.5,983.7 1788.6,981.2 1791.5,979.5 C1794.4,977.8 1799.4,976.6 1804.0,977.0 C1808.6,977.4 1814.4,979.5 1819.0,982.0 C1823.6,984.5 1827.3,989.9 1831.5,992.0 C1835.7,994.1 1839.8,995.3 1844.0,994.5 C1848.2,993.7 1852.3,990.8 1856.5,987.0 C1860.7,983.2 1864.8,976.6 1869.0,972.0 C1873.2,967.4 1877.3,962.2 1881.5,959.5 C1885.7,956.8 1889.4,956.2 1894.0,955.8 C1898.6,955.3 1906.5,946.8 1909.0,957.0 C1911.5,967.2 1921.1,1007.0 1909.0,1017.0 C1896.9,1027.0 1851.5,1017.4 1836.5,1017.0 C1821.5,1016.6 1824.4,1016.2 1819.0,1014.5 C1813.6,1012.8 1808.6,1009.5 1804.0,1007.0 C1799.4,1004.5 1794.4,1002.8 1791.5,999.5 C1788.6,996.2 1786.5,990.3 1786.5,987.0Z" fill="#8ec2dc"/><path d="M1552.8,789.2 C1553.1,787.2 1553.8,783.3 1555.2,781.8 C1556.7,780.2 1559.4,780.0 1561.5,780.0 C1563.6,780.0 1566.7,779.8 1567.8,781.8 C1568.8,783.7 1568.4,789.0 1567.8,791.8 C1567.1,794.5 1565.7,796.8 1564.0,798.0 C1562.3,799.2 1559.5,799.9 1557.8,799.2 C1556.0,798.6 1554.1,795.9 1553.2,794.2 C1552.4,792.6 1552.4,791.3 1552.8,789.2Z" fill="#4f81ba"/><path d="M1581.2,749.5 C1586.6,747.0 1607.1,748.2 1612.2,749.5 C1617.4,750.8 1612.7,754.7 1612.2,757.0 C1611.8,759.3 1611.0,761.2 1609.8,763.2 C1608.5,765.3 1607.2,768.0 1604.8,769.5 C1602.3,771.0 1598.3,772.1 1595.0,772.5 C1591.7,772.9 1587.4,772.6 1585.0,772.0 C1582.6,771.4 1581.6,770.0 1580.8,768.8 C1579.9,767.5 1579.9,767.7 1580.0,764.5 C1580.1,761.3 1575.9,752.0 1581.2,749.5Z" fill="#4f81ba"/><path d="M1678.0,749.5 C1673.5,750.8 1678.2,754.5 1678.0,757.0 C1677.8,759.5 1677.6,761.6 1676.8,764.5 C1675.9,767.4 1674.6,771.4 1673.0,774.2 C1671.4,777.1 1668.6,778.8 1667.0,781.8 C1665.4,784.7 1663.2,788.8 1663.2,791.8 C1663.2,794.7 1665.2,798.0 1667.0,799.2 C1668.8,800.5 1671.4,800.1 1674.2,799.2 C1677.1,798.4 1680.9,796.3 1684.2,794.2 C1687.6,792.2 1691.4,789.0 1694.2,786.8 C1697.1,784.5 1699.7,782.8 1701.5,780.5 C1703.3,778.2 1704.6,778.4 1705.2,773.2 C1705.9,768.1 1709.8,753.5 1705.2,749.5 C1700.7,745.5 1682.5,748.2 1678.0,749.5Z" fill="#4f81ba"/><path d="M1716.5,850.8 C1716.5,849.8 1718.2,848.9 1719.0,849.0 C1719.8,849.1 1721.5,850.6 1721.5,851.5 C1721.5,852.4 1719.8,854.6 1719.0,854.5 C1718.2,854.4 1716.5,851.7 1716.5,850.8Z" fill="#4f81ba"/><path d="M1560.2,962.0 C1560.7,958.7 1563.4,952.6 1566.5,949.5 C1569.6,946.4 1574.0,944.5 1579.0,943.2 C1584.0,942.0 1591.1,941.4 1596.5,942.0 C1601.9,942.6 1607.8,944.5 1611.5,947.0 C1615.2,949.5 1618.2,953.2 1619.0,957.0 C1619.8,960.8 1618.6,966.6 1616.5,969.5 C1614.4,972.4 1610.7,973.2 1606.5,974.5 C1602.3,975.8 1596.5,976.8 1591.5,977.0 C1586.5,977.2 1581.1,977.0 1576.5,975.8 C1571.9,974.5 1566.7,971.8 1564.0,969.5 C1561.3,967.2 1559.8,965.3 1560.2,962.0Z" fill="#4f81ba"/><path d="M1572.8,962.0 C1572.5,959.3 1575.0,956.4 1577.8,954.5 C1580.5,952.6 1585.2,951.0 1589.0,950.8 C1592.8,950.5 1597.8,951.6 1600.2,953.2 C1602.8,954.9 1604.0,958.0 1604.0,960.8 C1604.0,963.5 1602.8,967.6 1600.2,969.5 C1597.8,971.4 1592.5,971.8 1589.0,972.0 C1585.5,972.2 1581.7,972.4 1579.0,970.8 C1576.3,969.1 1573.0,964.7 1572.8,962.0Z" fill="#313695"/><path d="M1840.2,1008.2 C1840.2,1007.4 1841.8,1005.8 1842.8,1005.8 C1843.7,1005.8 1846.0,1007.4 1846.0,1008.2 C1846.0,1009.1 1843.7,1010.8 1842.8,1010.8 C1841.8,1010.8 1840.2,1009.1 1840.2,1008.2Z" fill="#4f81ba"/><g fill="none" stroke="#222" stroke-width="0.7" stroke-dasharray="1.5 2" stroke-opacity="0.8"><path d="M1511.5,749.5 C1521.9,737.7 1563.4,748.9 1573.8,749.5 C1584.1,750.1 1574.2,751.8 1573.8,753.2 C1573.3,754.7 1573.3,757.2 1571.2,758.2 C1569.2,759.3 1565.0,758.9 1561.5,759.5 C1558.0,760.1 1553.4,761.0 1550.2,762.0 C1547.1,763.0 1544.6,763.5 1542.8,765.8 C1540.9,768.0 1540.0,770.8 1539.0,775.5 C1538.0,780.2 1537.3,788.0 1536.5,794.2 C1535.7,800.5 1535.2,809.0 1534.2,812.8 C1533.2,816.5 1532.0,815.5 1530.5,816.5 C1529.0,817.5 1528.7,818.4 1525.5,819.0 C1522.3,819.6 1513.8,831.8 1511.5,820.2 C1509.2,808.7 1501.1,761.3 1511.5,749.5Z"/><path d="M1534.2,824.0 C1537.9,822.2 1548.0,825.2 1555.2,826.5 C1562.5,827.8 1573.0,831.5 1577.5,831.5 C1582.0,831.5 1581.5,829.6 1582.5,826.5 C1583.5,823.4 1582.9,817.1 1583.8,812.8 C1584.6,808.4 1585.2,803.8 1587.5,800.5 C1589.8,797.2 1593.4,795.5 1597.5,793.0 C1601.6,790.5 1607.3,788.0 1612.2,785.5 C1617.2,783.0 1623.1,779.5 1627.2,778.0 C1631.4,776.5 1636.0,775.1 1637.0,776.8 C1638.0,778.4 1634.7,783.4 1633.5,788.0 C1632.3,792.6 1630.8,799.1 1629.8,804.2 C1628.7,809.4 1627.7,813.4 1627.2,819.0 C1626.8,824.6 1627.5,831.5 1627.2,837.8 C1627.0,844.0 1626.8,851.1 1626.0,856.2 C1625.2,861.4 1623.5,864.6 1622.2,868.8 C1621.0,872.9 1619.5,877.1 1618.5,881.0 C1617.5,884.9 1616.8,888.1 1616.0,892.0 C1615.2,895.9 1615.0,900.3 1614.0,904.5 C1613.0,908.7 1612.3,913.9 1610.2,917.0 C1608.2,920.1 1605.5,921.9 1601.5,923.2 C1597.5,924.6 1591.9,924.4 1586.5,925.0 C1581.1,925.6 1574.4,926.2 1569.0,927.0 C1563.6,927.8 1559.0,928.7 1554.0,929.5 C1549.0,930.3 1543.6,931.2 1539.0,932.0 C1534.4,932.8 1531.1,934.0 1526.5,934.5 C1521.9,935.0 1514.0,941.2 1511.5,935.0 C1509.0,928.8 1509.0,904.2 1511.5,897.0 C1514.0,889.8 1523.0,895.3 1526.5,892.0 C1530.0,888.7 1531.7,882.8 1532.8,877.0 C1533.8,871.2 1532.9,863.7 1533.0,857.0 C1533.1,850.3 1533.3,842.5 1533.5,837.0 C1533.7,831.5 1530.6,825.8 1534.2,824.0Z"/><path d="M1711.5,749.5 C1718.2,748.2 1744.8,748.2 1751.5,749.5 C1758.2,750.8 1751.9,751.6 1751.5,757.0 C1751.1,762.4 1749.8,773.7 1749.0,782.0 C1748.2,790.3 1747.8,800.3 1746.5,807.0 C1745.2,813.7 1743.6,818.7 1741.5,822.0 C1739.4,825.3 1736.9,825.8 1734.0,827.0 C1731.1,828.2 1727.8,828.9 1724.0,829.5 C1720.2,830.1 1715.7,830.3 1711.5,830.8 C1707.3,831.2 1702.8,830.5 1699.0,832.0 C1695.2,833.5 1691.1,836.2 1689.0,839.5 C1686.9,842.8 1686.5,847.8 1686.5,852.0 C1686.5,856.2 1687.3,861.2 1689.0,864.5 C1690.7,867.8 1692.8,870.1 1696.5,872.0 C1700.2,873.9 1706.5,874.9 1711.5,875.8 C1716.5,876.6 1722.3,876.0 1726.5,877.0 C1730.7,878.0 1734.2,879.1 1736.5,882.0 C1738.8,884.9 1739.6,888.2 1740.2,894.5 C1740.9,900.8 1740.5,911.2 1740.2,919.5 C1740.0,927.8 1739.8,938.2 1739.0,944.5 C1738.2,950.8 1737.3,953.2 1735.2,957.0 C1733.2,960.8 1730.0,964.5 1726.5,967.0 C1723.0,969.5 1718.2,970.3 1714.0,972.0 C1709.8,973.7 1706.1,975.3 1701.5,977.0 C1696.9,978.7 1691.5,980.8 1686.5,982.0 C1681.5,983.2 1676.1,984.7 1671.5,984.5 C1666.9,984.3 1662.5,982.8 1659.0,980.8 C1655.5,978.7 1653.2,976.0 1650.2,972.0 C1647.3,968.0 1644.2,962.0 1641.5,957.0 C1638.8,952.0 1636.1,947.0 1634.0,942.0 C1631.9,937.0 1630.0,932.0 1629.0,927.0 C1628.0,922.0 1627.8,917.0 1627.8,912.0 C1627.8,907.0 1628.0,902.0 1629.0,897.0 C1630.0,892.0 1632.3,887.0 1634.0,882.0 C1635.7,877.0 1637.3,871.6 1639.0,867.0 C1640.7,862.4 1641.9,858.7 1644.0,854.5 C1646.1,850.3 1648.6,845.3 1651.5,842.0 C1654.4,838.7 1658.2,836.6 1661.5,834.5 C1664.8,832.4 1667.8,832.0 1671.5,829.5 C1675.2,827.0 1680.2,823.2 1684.0,819.5 C1687.8,815.8 1691.1,811.2 1694.0,807.0 C1696.9,802.8 1699.2,798.7 1701.5,794.5 C1703.8,790.3 1706.1,786.2 1707.8,782.0 C1709.4,777.8 1711.0,773.7 1711.5,769.5 C1712.0,765.3 1711.0,760.3 1711.0,757.0 C1711.0,753.7 1704.8,750.8 1711.5,749.5Z"/><path d="M1809.0,749.5 C1792.8,750.8 1810.2,754.1 1811.5,757.0 C1812.8,759.9 1814.0,763.7 1816.5,767.0 C1819.0,770.3 1822.8,774.1 1826.5,777.0 C1830.2,779.9 1834.8,781.6 1839.0,784.5 C1843.2,787.4 1847.3,791.4 1851.5,794.5 C1855.7,797.6 1859.8,802.4 1864.0,803.2 C1868.2,804.1 1872.3,801.0 1876.5,799.5 C1880.7,798.0 1883.6,795.8 1889.0,794.5 C1894.4,793.2 1905.7,799.5 1909.0,792.0 C1912.3,784.5 1925.7,756.6 1909.0,749.5 C1892.3,742.4 1825.2,748.2 1809.0,749.5Z"/><path d="M1909.0,817.0 C1906.5,796.6 1897.3,817.8 1894.0,819.5 C1890.7,821.2 1890.7,823.7 1889.0,827.0 C1887.3,830.3 1885.7,835.3 1884.0,839.5 C1882.3,843.7 1880.7,847.8 1879.0,852.0 C1877.3,856.2 1875.9,861.2 1874.0,864.5 C1872.1,867.8 1869.4,872.4 1867.8,872.0 C1866.1,871.6 1865.0,865.8 1864.0,862.0 C1863.0,858.2 1863.2,852.6 1861.5,849.5 C1859.8,846.4 1857.8,844.5 1854.0,843.2 C1850.2,842.0 1844.0,842.4 1839.0,842.0 C1834.0,841.6 1829.0,841.0 1824.0,840.8 C1819.0,840.5 1813.6,840.3 1809.0,840.8 C1804.4,841.2 1799.8,841.0 1796.5,843.2 C1793.2,845.5 1791.5,850.1 1789.0,854.5 C1786.5,858.9 1783.6,864.1 1781.5,869.5 C1779.4,874.9 1778.0,881.6 1776.5,887.0 C1775.0,892.4 1773.2,897.8 1772.8,902.0 C1772.3,906.2 1773.4,907.8 1774.0,912.0 C1774.6,916.2 1776.1,921.6 1776.5,927.0 C1776.9,932.4 1776.1,939.1 1776.5,944.5 C1776.9,949.9 1777.8,954.9 1779.0,959.5 C1780.2,964.1 1781.5,968.2 1784.0,972.0 C1786.5,975.8 1789.8,979.5 1794.0,982.0 C1798.2,984.5 1804.4,985.8 1809.0,987.0 C1813.6,988.2 1816.5,989.5 1821.5,989.5 C1826.5,989.5 1833.6,988.2 1839.0,987.0 C1844.4,985.8 1849.8,984.1 1854.0,982.0 C1858.2,979.9 1860.7,977.4 1864.0,974.5 C1867.3,971.6 1870.7,967.8 1874.0,964.5 C1877.3,961.2 1880.7,957.4 1884.0,954.5 C1887.3,951.6 1889.8,949.1 1894.0,947.0 C1898.2,944.9 1906.5,963.7 1909.0,942.0 C1911.5,920.3 1911.5,837.4 1909.0,817.0Z"/><path d="M1639.0,1017.0 C1627.8,1015.3 1641.5,1010.3 1644.0,1007.0 C1646.5,1003.7 1650.7,999.5 1654.0,997.0 C1657.3,994.5 1659.8,993.0 1664.0,992.0 C1668.2,991.0 1674.0,990.3 1679.0,990.8 C1684.0,991.2 1689.8,992.6 1694.0,994.5 C1698.2,996.4 1701.1,998.2 1704.0,1002.0 C1706.9,1005.8 1722.3,1014.5 1711.5,1017.0 C1700.7,1019.5 1650.2,1018.7 1639.0,1017.0Z"/><path d="M1511.5,749.5 C1514.0,742.0 1523.8,746.6 1526.5,749.5 C1529.2,752.4 1528.0,761.6 1527.8,767.0 C1527.5,772.4 1526.3,777.8 1525.2,782.0 C1524.2,786.2 1523.8,789.9 1521.5,792.0 C1519.2,794.1 1513.2,801.6 1511.5,794.5 C1509.8,787.4 1509.0,757.0 1511.5,749.5Z"/><path d="M1511.5,749.5 C1513.4,744.5 1520.8,746.6 1522.8,749.5 C1524.8,752.4 1523.9,762.4 1523.5,767.0 C1523.1,771.6 1522.2,774.9 1520.2,777.0 C1518.2,779.1 1513.0,784.1 1511.5,779.5 C1510.0,774.9 1509.6,754.5 1511.5,749.5Z"/><path d="M1571.5,899.5 C1571.8,896.4 1572.8,892.0 1575.2,889.5 C1577.8,887.0 1583.0,884.9 1586.5,884.5 C1590.0,884.1 1594.2,884.9 1596.5,887.0 C1598.8,889.1 1599.8,893.5 1600.2,897.0 C1600.7,900.5 1600.7,905.2 1599.0,908.2 C1597.3,911.2 1593.4,914.0 1590.2,915.0 C1587.1,916.0 1583.1,915.6 1580.2,914.5 C1577.4,913.4 1574.7,910.8 1573.2,908.2 C1571.8,905.8 1571.2,902.6 1571.5,899.5Z"/><path d="M1695.2,814.5 C1694.6,811.0 1695.0,805.8 1696.5,802.0 C1698.0,798.2 1700.7,794.5 1704.0,792.0 C1707.3,789.5 1712.3,788.2 1716.5,787.0 C1720.7,785.8 1725.2,784.7 1729.0,784.5 C1732.8,784.3 1736.9,783.7 1739.0,785.8 C1741.1,787.8 1741.9,793.0 1741.5,797.0 C1741.1,801.0 1739.0,805.8 1736.5,809.5 C1734.0,813.2 1730.7,817.0 1726.5,819.5 C1722.3,822.0 1715.9,823.9 1711.5,824.5 C1707.1,825.1 1703.0,824.9 1700.2,823.2 C1697.5,821.6 1695.9,818.0 1695.2,814.5Z"/><path d="M1721.5,749.5 C1718.2,751.2 1722.3,756.6 1724.0,759.5 C1725.7,762.4 1729.0,766.0 1731.5,767.0 C1734.0,768.0 1736.9,767.4 1739.0,765.8 C1741.1,764.1 1743.2,759.7 1744.0,757.0 C1744.8,754.3 1747.8,750.8 1744.0,749.5 C1740.2,748.2 1724.8,747.8 1721.5,749.5Z"/><path d="M1726.5,749.5 C1724.6,751.2 1727.3,757.4 1729.0,759.5 C1730.7,761.6 1734.6,763.7 1736.5,762.0 C1738.4,760.3 1741.9,751.6 1740.2,749.5 C1738.6,747.4 1728.4,747.8 1726.5,749.5Z"/><path d="M1654.0,917.0 C1654.4,909.5 1655.2,907.0 1656.5,902.0 C1657.8,897.0 1659.4,891.2 1661.5,887.0 C1663.6,882.8 1666.1,878.9 1669.0,877.0 C1671.9,875.1 1675.7,874.9 1679.0,875.8 C1682.3,876.6 1685.2,880.5 1689.0,882.0 C1692.8,883.5 1696.9,883.7 1701.5,884.5 C1706.1,885.3 1712.3,885.8 1716.5,887.0 C1720.7,888.2 1723.8,889.5 1726.5,892.0 C1729.2,894.5 1731.7,897.8 1732.8,902.0 C1733.8,906.2 1733.8,912.8 1732.8,917.0 C1731.7,921.2 1730.0,924.9 1726.5,927.0 C1723.0,929.1 1716.5,928.7 1711.5,929.5 C1706.5,930.3 1700.7,930.8 1696.5,932.0 C1692.3,933.2 1689.4,934.5 1686.5,937.0 C1683.6,939.5 1681.5,943.2 1679.0,947.0 C1676.5,950.8 1674.0,956.4 1671.5,959.5 C1669.0,962.6 1666.3,965.3 1664.0,965.8 C1661.7,966.2 1659.4,965.1 1657.8,962.0 C1656.1,958.9 1654.6,954.5 1654.0,947.0 C1653.4,939.5 1653.6,924.5 1654.0,917.0Z"/><path d="M1694.0,907.0 C1693.8,904.2 1696.5,900.2 1699.0,898.2 C1701.5,896.2 1705.9,894.8 1709.0,895.0 C1712.1,895.2 1716.1,897.1 1717.8,899.5 C1719.4,901.9 1720.0,906.8 1719.0,909.5 C1718.0,912.2 1714.6,914.8 1711.5,915.8 C1708.4,916.7 1703.2,916.5 1700.2,915.0 C1697.3,913.5 1694.2,909.8 1694.0,907.0Z"/><path d="M1810.2,874.5 C1810.5,870.3 1810.5,864.1 1812.8,862.0 C1815.0,859.9 1820.0,859.9 1824.0,862.0 C1828.0,864.1 1832.3,870.3 1836.5,874.5 C1840.7,878.7 1845.2,882.4 1849.0,887.0 C1852.8,891.6 1856.5,896.6 1859.0,902.0 C1861.5,907.4 1863.6,913.7 1864.0,919.5 C1864.4,925.3 1862.3,930.8 1861.5,937.0 C1860.7,943.2 1860.2,950.8 1859.0,957.0 C1857.8,963.2 1856.9,969.9 1854.0,974.5 C1851.1,979.1 1846.1,982.8 1841.5,984.5 C1836.9,986.2 1830.7,985.8 1826.5,984.5 C1822.3,983.2 1819.4,980.3 1816.5,977.0 C1813.6,973.7 1811.5,968.7 1809.0,964.5 C1806.5,960.3 1804.4,956.2 1801.5,952.0 C1798.6,947.8 1794.2,943.7 1791.5,939.5 C1788.8,935.3 1786.3,931.2 1785.2,927.0 C1784.2,922.8 1784.2,917.2 1785.2,914.5 C1786.3,911.8 1789.0,910.3 1791.5,910.8 C1794.0,911.2 1797.3,913.9 1800.2,917.0 C1803.2,920.1 1805.9,926.6 1809.0,929.5 C1812.1,932.4 1816.5,934.9 1819.0,934.5 C1821.5,934.1 1823.6,930.8 1824.0,927.0 C1824.4,923.2 1822.8,917.0 1821.5,912.0 C1820.2,907.0 1818.2,901.2 1816.5,897.0 C1814.8,892.8 1812.5,890.8 1811.5,887.0 C1810.5,883.2 1810.0,878.7 1810.2,874.5Z"/><path d="M1824.0,964.5 C1824.0,960.8 1826.5,957.0 1829.0,954.5 C1831.5,952.0 1835.7,949.9 1839.0,949.5 C1842.3,949.1 1846.7,949.9 1849.0,952.0 C1851.3,954.1 1852.5,958.7 1852.8,962.0 C1853.0,965.3 1852.5,969.3 1850.2,972.0 C1848.0,974.7 1842.5,977.4 1839.0,978.2 C1835.5,979.1 1831.5,979.3 1829.0,977.0 C1826.5,974.7 1824.0,968.2 1824.0,964.5Z"/><path d="M1831.5,749.5 C1819.0,750.8 1832.3,753.7 1834.0,757.0 C1835.7,760.3 1837.8,765.3 1841.5,769.5 C1845.2,773.7 1851.1,779.5 1856.5,782.0 C1861.9,784.5 1868.6,785.3 1874.0,784.5 C1879.4,783.7 1884.8,779.9 1889.0,777.0 C1893.2,774.1 1895.7,769.9 1899.0,767.0 C1902.3,764.1 1907.3,762.4 1909.0,759.5 C1910.7,756.6 1921.9,751.2 1909.0,749.5 C1896.1,747.8 1844.0,748.2 1831.5,749.5Z"/><path d="M1849.0,749.5 C1842.8,750.8 1849.4,754.5 1851.5,757.0 C1853.6,759.5 1857.8,762.8 1861.5,764.5 C1865.2,766.2 1869.8,767.4 1874.0,767.0 C1878.2,766.6 1884.0,764.9 1886.5,762.0 C1889.0,759.1 1895.2,751.6 1889.0,749.5 C1882.8,747.4 1855.2,748.2 1849.0,749.5Z"/><path d="M1542.8,804.2 C1542.3,799.3 1543.0,786.9 1544.0,781.8 C1545.0,776.6 1546.7,775.5 1549.0,773.2 C1551.3,771.0 1554.6,769.7 1557.8,768.2 C1560.9,766.8 1564.9,766.0 1567.8,764.5 C1570.6,763.0 1573.6,762.0 1575.0,759.5 C1576.4,757.0 1566.9,751.2 1576.2,749.5 C1585.6,747.8 1622.1,748.2 1631.0,749.5 C1639.9,750.8 1630.4,755.3 1629.8,757.0 C1629.1,758.7 1628.7,758.0 1627.2,759.5 C1625.8,761.0 1623.5,763.5 1621.0,765.8 C1618.5,768.0 1615.4,771.0 1612.2,773.2 C1609.1,775.5 1605.5,777.4 1602.2,779.2 C1599.0,781.1 1595.8,782.6 1592.5,784.2 C1589.2,785.9 1585.2,787.0 1582.5,789.2 C1579.8,791.5 1577.9,795.1 1576.2,798.0 C1574.6,800.9 1574.3,804.3 1572.5,806.8 C1570.7,809.2 1568.1,811.5 1565.2,812.8 C1562.4,814.0 1558.4,814.2 1555.2,814.0 C1552.1,813.8 1548.6,813.1 1546.5,811.5 C1544.4,809.9 1543.2,809.2 1542.8,804.2Z"/><path d="M1662.0,749.5 C1654.0,750.8 1661.8,754.5 1662.0,757.0 C1662.2,759.5 1663.7,761.8 1663.2,764.5 C1662.8,767.2 1661.4,770.0 1659.5,773.2 C1657.6,776.5 1653.9,780.8 1652.0,784.2 C1650.1,787.8 1648.9,790.5 1648.2,794.2 C1647.6,798.0 1647.2,803.2 1648.2,806.8 C1649.3,810.2 1651.8,813.3 1654.5,815.2 C1657.2,817.2 1661.2,818.3 1664.5,818.5 C1667.8,818.7 1671.0,817.9 1674.2,816.5 C1677.5,815.1 1681.3,812.5 1684.2,810.2 C1687.2,808.0 1689.1,805.7 1691.8,803.0 C1694.4,800.3 1698.0,797.8 1700.2,794.2 C1702.5,790.8 1703.8,785.7 1705.2,782.0 C1706.7,778.3 1708.2,776.2 1709.0,772.0 C1709.8,767.8 1710.0,760.8 1710.2,757.0 C1710.5,753.2 1718.3,750.8 1710.2,749.5 C1702.2,748.2 1670.0,748.2 1662.0,749.5Z"/><path d="M1770.2,789.5 C1771.1,784.5 1773.4,779.7 1776.5,777.0 C1779.6,774.3 1784.0,773.0 1789.0,773.2 C1794.0,773.5 1801.1,775.5 1806.5,778.2 C1811.9,781.0 1817.8,785.5 1821.5,789.5 C1825.2,793.5 1827.3,797.8 1829.0,802.0 C1830.7,806.2 1831.9,810.3 1831.5,814.5 C1831.1,818.7 1829.4,824.5 1826.5,827.0 C1823.6,829.5 1819.0,829.5 1814.0,829.5 C1809.0,829.5 1801.9,828.7 1796.5,827.0 C1791.1,825.3 1785.7,822.8 1781.5,819.5 C1777.3,816.2 1773.4,812.0 1771.5,807.0 C1769.6,802.0 1769.4,794.5 1770.2,789.5Z"/><path d="M1699.0,854.5 C1699.4,851.2 1701.1,845.3 1704.0,842.0 C1706.9,838.7 1711.9,835.8 1716.5,834.5 C1721.1,833.2 1727.5,833.2 1731.5,834.5 C1735.5,835.8 1738.6,838.7 1740.2,842.0 C1741.9,845.3 1742.1,850.8 1741.5,854.5 C1740.9,858.2 1739.4,862.2 1736.5,864.5 C1733.6,866.8 1728.6,867.8 1724.0,868.2 C1719.4,868.7 1712.8,868.0 1709.0,867.0 C1705.2,866.0 1703.2,864.1 1701.5,862.0 C1699.8,859.9 1698.6,857.8 1699.0,854.5Z"/><path d="M1544.0,967.0 C1544.2,962.8 1546.1,956.2 1549.0,952.0 C1551.9,947.8 1556.9,944.7 1561.5,942.0 C1566.1,939.3 1571.1,936.9 1576.5,935.8 C1581.9,934.6 1588.2,934.8 1594.0,935.0 C1599.8,935.2 1606.5,935.4 1611.5,937.0 C1616.5,938.6 1620.7,941.2 1624.0,944.5 C1627.3,947.8 1630.2,952.4 1631.5,957.0 C1632.8,961.6 1632.8,967.8 1631.5,972.0 C1630.2,976.2 1627.8,979.5 1624.0,982.0 C1620.2,984.5 1614.0,985.8 1609.0,987.0 C1604.0,988.2 1599.4,989.3 1594.0,989.5 C1588.6,989.7 1582.3,989.1 1576.5,988.2 C1570.7,987.4 1563.8,986.4 1559.0,984.5 C1554.2,982.6 1550.2,979.9 1547.8,977.0 C1545.2,974.1 1543.8,971.2 1544.0,967.0Z"/><path d="M1714.0,969.5 C1714.3,967.4 1715.9,964.3 1717.8,963.2 C1719.6,962.2 1723.0,961.8 1725.2,963.2 C1727.5,964.7 1730.4,969.5 1731.0,972.0 C1731.6,974.5 1730.6,977.0 1729.0,978.2 C1727.4,979.5 1723.7,979.9 1721.5,979.5 C1719.3,979.1 1717.2,977.4 1716.0,975.8 C1714.8,974.1 1713.7,971.6 1714.0,969.5Z"/><path d="M1661.5,1017.0 C1658.2,1014.7 1662.3,1006.2 1664.0,1003.2 C1665.7,1000.2 1668.8,999.4 1671.5,999.0 C1674.2,998.6 1678.2,999.4 1680.2,1000.8 C1682.3,1002.1 1683.4,1004.3 1684.0,1007.0 C1684.6,1009.7 1687.8,1015.3 1684.0,1017.0 C1680.2,1018.7 1664.8,1019.3 1661.5,1017.0Z"/><path d="M1786.5,987.0 C1786.5,983.7 1788.6,981.2 1791.5,979.5 C1794.4,977.8 1799.4,976.6 1804.0,977.0 C1808.6,977.4 1814.4,979.5 1819.0,982.0 C1823.6,984.5 1827.3,989.9 1831.5,992.0 C1835.7,994.1 1839.8,995.3 1844.0,994.5 C1848.2,993.7 1852.3,990.8 1856.5,987.0 C1860.7,983.2 1864.8,976.6 1869.0,972.0 C1873.2,967.4 1877.3,962.2 1881.5,959.5 C1885.7,956.8 1889.4,956.2 1894.0,955.8 C1898.6,955.3 1906.5,946.8 1909.0,957.0 C1911.5,967.2 1921.1,1007.0 1909.0,1017.0 C1896.9,1027.0 1851.5,1017.4 1836.5,1017.0 C1821.5,1016.6 1824.4,1016.2 1819.0,1014.5 C1813.6,1012.8 1808.6,1009.5 1804.0,1007.0 C1799.4,1004.5 1794.4,1002.8 1791.5,999.5 C1788.6,996.2 1786.5,990.3 1786.5,987.0Z"/><path d="M1552.8,789.2 C1553.1,787.2 1553.8,783.3 1555.2,781.8 C1556.7,780.2 1559.4,780.0 1561.5,780.0 C1563.6,780.0 1566.7,779.8 1567.8,781.8 C1568.8,783.7 1568.4,789.0 1567.8,791.8 C1567.1,794.5 1565.7,796.8 1564.0,798.0 C1562.3,799.2 1559.5,799.9 1557.8,799.2 C1556.0,798.6 1554.1,795.9 1553.2,794.2 C1552.4,792.6 1552.4,791.3 1552.8,789.2Z"/><path d="M1581.2,749.5 C1586.6,747.0 1607.1,748.2 1612.2,749.5 C1617.4,750.8 1612.7,754.7 1612.2,757.0 C1611.8,759.3 1611.0,761.2 1609.8,763.2 C1608.5,765.3 1607.2,768.0 1604.8,769.5 C1602.3,771.0 1598.3,772.1 1595.0,772.5 C1591.7,772.9 1587.4,772.6 1585.0,772.0 C1582.6,771.4 1581.6,770.0 1580.8,768.8 C1579.9,767.5 1579.9,767.7 1580.0,764.5 C1580.1,761.3 1575.9,752.0 1581.2,749.5Z"/><path d="M1678.0,749.5 C1673.5,750.8 1678.2,754.5 1678.0,757.0 C1677.8,759.5 1677.6,761.6 1676.8,764.5 C1675.9,767.4 1674.6,771.4 1673.0,774.2 C1671.4,777.1 1668.6,778.8 1667.0,781.8 C1665.4,784.7 1663.2,788.8 1663.2,791.8 C1663.2,794.7 1665.2,798.0 1667.0,799.2 C1668.8,800.5 1671.4,800.1 1674.2,799.2 C1677.1,798.4 1680.9,796.3 1684.2,794.2 C1687.6,792.2 1691.4,789.0 1694.2,786.8 C1697.1,784.5 1699.7,782.8 1701.5,780.5 C1703.3,778.2 1704.6,778.4 1705.2,773.2 C1705.9,768.1 1709.8,753.5 1705.2,749.5 C1700.7,745.5 1682.5,748.2 1678.0,749.5Z"/><path d="M1716.5,850.8 C1716.5,849.8 1718.2,848.9 1719.0,849.0 C1719.8,849.1 1721.5,850.6 1721.5,851.5 C1721.5,852.4 1719.8,854.6 1719.0,854.5 C1718.2,854.4 1716.5,851.7 1716.5,850.8Z"/><path d="M1560.2,962.0 C1560.7,958.7 1563.4,952.6 1566.5,949.5 C1569.6,946.4 1574.0,944.5 1579.0,943.2 C1584.0,942.0 1591.1,941.4 1596.5,942.0 C1601.9,942.6 1607.8,944.5 1611.5,947.0 C1615.2,949.5 1618.2,953.2 1619.0,957.0 C1619.8,960.8 1618.6,966.6 1616.5,969.5 C1614.4,972.4 1610.7,973.2 1606.5,974.5 C1602.3,975.8 1596.5,976.8 1591.5,977.0 C1586.5,977.2 1581.1,977.0 1576.5,975.8 C1571.9,974.5 1566.7,971.8 1564.0,969.5 C1561.3,967.2 1559.8,965.3 1560.2,962.0Z"/><path d="M1572.8,962.0 C1572.5,959.3 1575.0,956.4 1577.8,954.5 C1580.5,952.6 1585.2,951.0 1589.0,950.8 C1592.8,950.5 1597.8,951.6 1600.2,953.2 C1602.8,954.9 1604.0,958.0 1604.0,960.8 C1604.0,963.5 1602.8,967.6 1600.2,969.5 C1597.8,971.4 1592.5,971.8 1589.0,972.0 C1585.5,972.2 1581.7,972.4 1579.0,970.8 C1576.3,969.1 1573.0,964.7 1572.8,962.0Z"/><path d="M1840.2,1008.2 C1840.2,1007.4 1841.8,1005.8 1842.8,1005.8 C1843.7,1005.8 1846.0,1007.4 1846.0,1008.2 C1846.0,1009.1 1843.7,1010.8 1842.8,1010.8 C1841.8,1010.8 1840.2,1009.1 1840.2,1008.2Z"/></g><g font-size="8.4" fill="#000" text-anchor="middle"><text x="1524.5" y="777.8" transform="rotate(-60 1524.5 775.0)">4</text><text x="1529.0" y="789.3" transform="rotate(-60 1529.0 786.5)">2</text><text x="1532.8" y="804.8" transform="rotate(-60 1532.8 802.0)">0</text><text x="1601.5" y="772.8" transform="rotate(-20 1601.5 770.0)">-4</text><text x="1594.0" y="786.0" transform="rotate(0 1594.0 783.2)">-2</text><text x="1565.2" y="799.3" transform="rotate(-30 1565.2 796.5)">-4</text><text x="1692.8" y="786.0" transform="rotate(0 1692.8 783.2)">-4</text><text x="1692.8" y="797.3" transform="rotate(0 1692.8 794.5)">-2</text><text x="1714.0" y="801.0" transform="rotate(-20 1714.0 798.2)">2</text><text x="1730.2" y="769.3" transform="rotate(-20 1730.2 766.5)">4</text><text x="1785.2" y="766.8" transform="rotate(0 1785.2 764.0)">-2</text><text x="1827.8" y="806.8" transform="rotate(-60 1827.8 804.0)">-2</text><text x="1844.0" y="783.5" transform="rotate(-40 1844.0 780.8)">2</text><text x="1861.5" y="771.0" transform="rotate(-40 1861.5 768.2)">4</text><text x="1866.5" y="838.5" transform="rotate(-70 1866.5 835.8)">0</text><text x="1640.2" y="882.8" transform="rotate(-90 1640.2 880.0)">0</text><text x="1617.0" y="896.0" transform="rotate(-90 1617.0 893.2)">0</text><text x="1572.8" y="908.5" transform="rotate(-60 1572.8 905.8)">2</text><text x="1696.0" y="914.8" transform="rotate(-40 1696.0 912.0)">4</text><text x="1739.0" y="863.5" transform="rotate(-70 1739.0 860.8)">-2</text><text x="1652.8" y="951.0" transform="rotate(-90 1652.8 948.2)">2</text><text x="1817.8" y="948.5" transform="rotate(0 1817.8 945.8)">2</text><text x="1824.0" y="969.8" transform="rotate(-40 1824.0 967.0)">4</text><text x="1730.2" y="978.5" transform="rotate(-60 1730.2 975.8)">-2</text><text x="1666.5" y="1003.5" transform="rotate(0 1666.5 1000.8)">-2</text><text x="1791.5" y="984.3" transform="rotate(-40 1791.5 981.5)">-2</text><text x="1886.5" y="1006.0" transform="rotate(0 1886.5 1003.2)">-2</text><text x="1615.2" y="979.8" transform="rotate(-60 1615.2 977.0)">-4</text><text x="1629.0" y="987.3" transform="rotate(-60 1629.0 984.5)">-2</text></g><path d="M1516.0,1018.1 L1516.0,1017.8 L1517.9,1013.0 L1517.9,927.1 L1519.0,925.7 L1519.4,917.4 L1519.8,925.7 L1519.6,924.7 L1520.8,903.2 L1520.5,902.9 L1520.9,895.7 L1521.3,902.9 L1523.1,884.1 L1525.1,888.9 L1526.7,848.3 L1526.5,852.8 L1526.9,850.5 L1527.3,852.8 L1527.9,874.6 L1528.0,869.6 L1528.4,863.2 L1528.8,869.6 L1529.1,860.2 L1530.8,769.5 L1531.0,796.9 L1531.4,795.7 L1531.8,796.9 L1532.2,831.6 L1532.5,873.2 L1532.9,860.4 L1533.3,873.2 L1533.2,888.9 L1534.0,894.3 L1534.4,890.5 L1534.8,894.3 L1535.1,896.0 L1536.3,905.6 L1537.0,926.6 L1537.4,921.2 L1537.8,926.6 L1537.5,927.1 L1538.7,950.9 L1539.9,974.8 L1540.0,981.0 L1540.4,976.3 L1540.8,981.0 L1541.8,993.9 L1543.0,1006.4 L1543.4,1001.9 L1543.8,1006.4 L1543.4,1005.8 L1544.6,1012.5 L1547.0,998.7 L1548.2,1012.5 L1551.8,1012.5 L1553.0,998.7 L1553.7,898.4 L1554.7,998.7 L1556.1,1012.5 L1570.9,1012.5 L1572.1,977.2 L1574.5,979.6 L1574.7,979.1 L1575.1,977.2 L1575.5,979.1 L1576.2,976.1 L1576.6,973.0 L1577.0,976.1 L1576.8,974.8 L1577.7,978.1 L1578.1,975.0 L1578.5,978.1 L1579.2,979.6 L1581.6,970.0 L1582.2,969.9 L1582.6,964.8 L1583.0,969.9 L1584.0,967.6 L1583.7,968.3 L1584.1,964.5 L1584.5,968.3 L1585.2,965.3 L1585.6,959.1 L1586.0,965.3 L1586.4,962.9 L1586.7,963.0 L1587.1,959.1 L1587.5,963.0 L1588.8,960.5 L1589.7,960.0 L1590.1,947.3 L1590.5,960.0 L1591.2,958.1 L1591.2,958.1 L1591.6,950.5 L1592.0,958.1 L1592.7,955.1 L1593.1,951.5 L1593.5,955.1 L1593.6,953.3 L1595.9,936.6 L1597.1,955.7 L1597.2,955.6 L1597.6,954.8 L1598.0,955.6 L1598.7,952.6 L1599.1,945.6 L1599.5,952.6 L1599.5,950.9 L1601.9,955.7 L1604.3,946.2 L1606.2,951.5 L1606.6,948.9 L1607.0,951.5 L1606.7,950.9 L1609.1,943.8 L1609.2,946.5 L1609.6,928.9 L1610.0,946.5 L1611.0,950.9 L1612.6,967.6 L1613.7,972.7 L1614.1,962.7 L1614.5,972.7 L1615.0,974.8 L1615.2,972.4 L1615.6,969.7 L1616.0,972.4 L1616.7,963.4 L1617.1,955.8 L1617.5,963.4 L1617.4,960.5 L1618.2,963.6 L1618.6,962.0 L1619.0,963.6 L1619.8,965.3 L1619.7,967.1 L1620.1,964.4 L1620.5,967.1 L1621.2,973.1 L1621.6,971.4 L1622.0,973.1 L1622.2,974.8 L1622.7,977.4 L1623.1,973.6 L1623.5,977.4 L1624.6,979.6 L1625.8,998.7 L1628.2,1012.5 L1634.1,1012.5 L1635.3,998.7 L1637.7,984.3 L1639.6,993.9 L1639.4,995.3 L1639.8,986.9 L1640.2,995.3 L1641.3,998.7 L1643.7,1012.5 L1647.3,1003.4 L1649.6,1012.5 L1656.8,1012.5 L1734.1,1013.7 L1735.3,1012.0 L1736.5,986.4 L1737.7,998.6 L1738.9,974.2 L1740.1,925.5 L1741.4,876.8 L1742.1,852.4 L1743.1,871.9 L1743.6,857.7 L1744.0,846.5 L1744.4,857.7 L1745.0,840.3 L1745.1,836.3 L1745.5,832.3 L1745.9,836.3 L1748.7,803.7 L1749.6,795.7 L1750.0,789.5 L1750.4,795.7 L1751.1,785.7 L1751.5,782.7 L1751.9,785.7 L1752.3,779.4 L1754.1,763.9 L1754.5,758.5 L1754.9,763.9 L1755.2,757.4 L1756.0,745.3 L1760.1,746.1 L1760.5,742.5 L1760.9,746.1 L1761.6,746.1 L1762.0,745.0 L1762.4,746.1 L1767.4,745.3 L1768.2,803.7 L1769.4,852.4 L1769.1,857.8 L1769.5,855.7 L1769.9,857.8 L1770.6,901.2 L1771.8,906.0 L1772.1,906.2 L1772.5,904.1 L1772.9,906.2 L1773.0,904.8 L1774.2,925.5 L1775.5,974.2 L1775.1,975.5 L1775.5,967.0 L1775.9,975.5 L1776.7,996.2 L1778.1,1000.6 L1778.5,996.0 L1778.9,1000.6 L1779.1,1001.0 L1781.6,1005.9 L1782.6,1008.6 L1783.0,1006.9 L1783.4,1008.6 L1785.2,1010.8 L1786.4,1013.7 L1799.1,1013.7 L1799.7,965.5 L1799.8,967.4 L1800.3,1013.7 L1804.4,1013.7 L1805.1,994.7 L1805.3,996.7 L1806.0,1013.7 L1808.6,1013.7 L1809.2,976.4 L1809.3,978.4 L1810.0,1013.7 L1813.4,1013.7 L1814.1,997.9 L1814.2,999.8 L1814.9,1013.7 L1816.6,1013.7 L1817.3,991.1 L1817.4,993.0 L1818.1,1013.7 L1821.0,1013.7 L1821.7,981.8 L1821.9,983.7 L1822.7,1013.7 L1824.3,1013.7 L1824.9,978.6 L1825.1,980.6 L1825.7,1013.7 L1830.0,1013.7 L1830.9,975.0 L1831.1,976.9 L1832.1,1013.7 L1833.6,1013.7 L1834.4,962.6 L1834.6,964.5 L1835.4,1013.7 L1880.0,1013.7 L1880.7,876.8 L1881.7,857.3 L1882.6,876.8 L1883.6,1013.7 L1896.0,1013.7 L1897.3,1005.9 L1898.5,1013.7 L1900.9,1013.7 L1900.9,1023.0 L1900.9,1018.1Z" fill="#000"/></g><rect x="1408.0" y="757.1" width="110.0" height="256.0" fill="#fff"/><clipPath id="lclip22"><rect x="1408.0" y="757.1" width="110.0" height="256.0"/></clipPath><path d="M1469.60,758.20 C1468.35,758.82 1464.17,760.25 1462.10,761.90 C1460.03,763.55 1458.22,765.63 1457.20,768.10 C1456.18,770.57 1457.45,774.23 1456.00,776.70 C1454.55,779.17 1451.40,780.83 1448.50,782.90 C1445.60,784.97 1440.45,787.25 1438.60,789.10 C1436.75,790.95 1435.75,791.95 1437.40,794.00 C1439.05,796.05 1445.40,798.92 1448.50,801.40 C1451.60,803.88 1453.52,806.22 1456.00,808.90 C1458.48,811.58 1461.27,815.03 1463.40,817.50 C1465.53,819.97 1468.80,821.63 1468.80,823.70 C1468.80,825.77 1465.13,828.05 1463.40,829.90 C1461.67,831.75 1459.63,832.33 1458.40,834.80 C1457.17,837.27 1456.20,842.22 1456.00,844.70 C1455.80,847.18 1456.18,847.63 1457.20,849.70 C1458.22,851.77 1461.15,854.43 1462.10,857.10 C1463.05,859.77 1461.65,862.62 1462.90,865.70 C1464.15,868.78 1468.08,872.72 1469.60,875.60 C1471.12,878.48 1470.57,879.28 1472.00,883.00 C1473.43,886.72 1475.52,894.18 1478.20,897.90 C1480.88,901.62 1485.00,902.92 1488.10,905.30 C1491.20,907.68 1496.80,909.32 1496.80,912.20 C1496.80,915.08 1491.62,919.02 1488.10,922.60 C1484.58,926.18 1480.23,931.03 1475.70,933.70 C1471.17,936.37 1464.60,936.95 1460.90,938.60 C1457.20,940.25 1454.95,941.33 1453.50,943.60 C1452.05,945.87 1451.78,949.52 1452.20,952.20 C1452.62,954.88 1456.40,957.02 1456.00,959.70 C1455.60,962.38 1451.05,965.63 1449.80,968.30 C1448.55,970.97 1449.75,973.43 1448.50,975.70 C1447.25,977.97 1445.18,979.83 1442.30,981.90 C1439.42,983.97 1433.47,986.45 1431.20,988.10 C1428.93,989.75 1427.47,990.57 1428.70,991.80 C1429.93,993.03 1435.08,994.47 1438.60,995.50 C1442.12,996.53 1447.32,996.35 1449.80,998.00 C1452.28,999.65 1452.27,1002.98 1453.50,1005.40 C1454.73,1007.82 1456.58,1011.32 1457.20,1012.50" fill="none" stroke="#d92a48" stroke-width="2.7" stroke-linejoin="round" stroke-linecap="round" clip-path="url(#lclip22)"/><path d="M1408.0,757.1 H1902.5 V1013.1 H1408.0 Z M1518.0,757.1 V1013.1" fill="none" stroke="#2b2b2b" stroke-width="1.7"/><line x1="1404.8" y1="757.1" x2="1408.0" y2="757.1" stroke="#2b2b2b" stroke-width="1.2"/><text x="1398.4" y="763.2" font-size="18.5" text-anchor="end">1000</text><line x1="1404.8" y1="789.1" x2="1408.0" y2="789.1" stroke="#2b2b2b" stroke-width="1.2"/><text x="1398.4" y="795.2" font-size="18.5" text-anchor="end">1500</text><line x1="1404.8" y1="821.1" x2="1408.0" y2="821.1" stroke="#2b2b2b" stroke-width="1.2"/><text x="1398.4" y="827.2" font-size="18.5" text-anchor="end">2000</text><line x1="1404.8" y1="853.1" x2="1408.0" y2="853.1" stroke="#2b2b2b" stroke-width="1.2"/><text x="1398.4" y="859.2" font-size="18.5" text-anchor="end">2500</text><line x1="1404.8" y1="885.1" x2="1408.0" y2="885.1" stroke="#2b2b2b" stroke-width="1.2"/><text x="1398.4" y="891.2" font-size="18.5" text-anchor="end">3000</text><line x1="1404.8" y1="917.1" x2="1408.0" y2="917.1" stroke="#2b2b2b" stroke-width="1.2"/><text x="1398.4" y="923.2" font-size="18.5" text-anchor="end">3500</text><line x1="1404.8" y1="949.1" x2="1408.0" y2="949.1" stroke="#2b2b2b" stroke-width="1.2"/><text x="1398.4" y="955.2" font-size="18.5" text-anchor="end">4000</text><line x1="1404.8" y1="981.1" x2="1408.0" y2="981.1" stroke="#2b2b2b" stroke-width="1.2"/><text x="1398.4" y="987.2" font-size="18.5" text-anchor="end">4500</text><line x1="1404.8" y1="1013.1" x2="1408.0" y2="1013.1" stroke="#2b2b2b" stroke-width="1.2"/><text x="1398.4" y="1019.2" font-size="18.5" text-anchor="end">5000</text><line x1="1413.3" y1="1013.1" x2="1413.3" y2="1016.3" stroke="#2b2b2b" stroke-width="1.2"/><text x="1413.2" y="1038.1" font-size="18.5" text-anchor="middle">-40</text><line x1="1463.5" y1="1013.1" x2="1463.5" y2="1016.3" stroke="#2b2b2b" stroke-width="1.2"/><text x="1462.9" y="1038.1" font-size="18.5" text-anchor="middle">0</text><line x1="1514.1" y1="1013.1" x2="1514.1" y2="1016.3" stroke="#2b2b2b" stroke-width="1.2"/><text x="1512.8" y="1038.1" font-size="18.5" text-anchor="middle">40</text><line x1="1588.4" y1="1013.1" x2="1588.4" y2="1016.3" stroke="#2b2b2b" stroke-width="1.2"/><text x="1592.9" y="1038.1" font-size="18.5" text-anchor="middle">40°S</text><line x1="1667.0" y1="1013.1" x2="1667.0" y2="1016.3" stroke="#2b2b2b" stroke-width="1.2"/><text x="1669.0" y="1038.1" font-size="18.5" text-anchor="middle">20°S</text><line x1="1740.8" y1="1013.1" x2="1740.8" y2="1016.3" stroke="#2b2b2b" stroke-width="1.2"/><text x="1738.7" y="1038.1" font-size="18.5" text-anchor="middle">EQ</text><line x1="1816.4" y1="1013.1" x2="1816.4" y2="1016.3" stroke="#2b2b2b" stroke-width="1.2"/><text x="1818.8" y="1038.1" font-size="18.5" text-anchor="middle">20°N</text><line x1="1890.6" y1="1013.1" x2="1890.6" y2="1016.3" stroke="#2b2b2b" stroke-width="1.2"/><text x="1901.1" y="1038.1" font-size="18.5" text-anchor="middle">40°N</text><text x="1462.6" y="1065.8" font-size="21" text-anchor="middle">RG (%)</text><text x="1686.1" y="1067.3" font-size="21" text-anchor="middle">Latitude</text><text x="0" y="0" font-size="21" text-anchor="middle" transform="translate(1348.2,865.0) rotate(-90)">Depth (m)</text><text x="1353.7" y="776.8" font-size="35" text-anchor="end">(i)</text><linearGradient id="cbg22" x1="0" y1="0" x2="0" y2="1"><stop offset="0.000" stop-color="#a50026"/><stop offset="0.025" stop-color="#b10b26"/><stop offset="0.050" stop-color="#bd1726"/><stop offset="0.075" stop-color="#ca2427"/><stop offset="0.100" stop-color="#d62f27"/><stop offset="0.125" stop-color="#dd3d2d"/><stop offset="0.150" stop-color="#e54e35"/><stop offset="0.175" stop-color="#ec5c3b"/><stop offset="0.200" stop-color="#f46d43"/><stop offset="0.225" stop-color="#f67c4a"/><stop offset="0.250" stop-color="#f88c51"/><stop offset="0.275" stop-color="#fb9d59"/><stop offset="0.300" stop-color="#fdad60"/><stop offset="0.325" stop-color="#fdbb6d"/><stop offset="0.350" stop-color="#fdc778"/><stop offset="0.375" stop-color="#fed283"/><stop offset="0.400" stop-color="#fee090"/><stop offset="0.425" stop-color="#fee79b"/><stop offset="0.450" stop-color="#fff0a8"/><stop offset="0.475" stop-color="#fff7b3"/><stop offset="0.500" stop-color="#fffebe"/><stop offset="0.525" stop-color="#f7fcce"/><stop offset="0.550" stop-color="#f0f9db"/><stop offset="0.575" stop-color="#e7f6eb"/><stop offset="0.600" stop-color="#e0f3f8"/><stop offset="0.625" stop-color="#d4edf4"/><stop offset="0.650" stop-color="#c5e6f0"/><stop offset="0.675" stop-color="#b9e0ed"/><stop offset="0.700" stop-color="#aad8e9"/><stop offset="0.725" stop-color="#9dcee3"/><stop offset="0.750" stop-color="#90c3dd"/><stop offset="0.775" stop-color="#81b7d7"/><stop offset="0.800" stop-color="#74add1"/><stop offset="0.825" stop-color="#679ec9"/><stop offset="0.850" stop-color="#5c90c2"/><stop offset="0.875" stop-color="#5183bb"/><stop offset="0.900" stop-color="#4574b3"/><stop offset="0.925" stop-color="#4065ac"/><stop offset="0.950" stop-color="#3a54a4"/><stop offset="0.975" stop-color="#36459c"/><stop offset="1.000" stop-color="#313695"/></linearGradient><rect x="1906.4" y="757.1" width="8.2" height="256.0" fill="url(#cbg22)" stroke="#2b2b2b" stroke-width="0.9"/><line x1="1914.6" y1="788.6" x2="1917.1" y2="788.6" stroke="#2b2b2b" stroke-width="1"/><text x="1920.6" y="793.6" font-size="18.5" text-anchor="start">6</text><line x1="1914.6" y1="820.8" x2="1917.1" y2="820.8" stroke="#2b2b2b" stroke-width="1"/><text x="1920.6" y="825.8" font-size="18.5" text-anchor="start">4</text><line x1="1914.6" y1="852.9" x2="1917.1" y2="852.9" stroke="#2b2b2b" stroke-width="1"/><text x="1920.6" y="857.9" font-size="18.5" text-anchor="start">2</text><line x1="1914.6" y1="885.1" x2="1917.1" y2="885.1" stroke="#2b2b2b" stroke-width="1"/><text x="1920.6" y="890.1" font-size="18.5" text-anchor="start">0</text><line x1="1914.6" y1="917.3" x2="1917.1" y2="917.3" stroke="#2b2b2b" stroke-width="1"/><text x="1920.6" y="922.3" font-size="18.5" text-anchor="start">-2</text><line x1="1914.6" y1="949.4" x2="1917.1" y2="949.4" stroke="#2b2b2b" stroke-width="1"/><text x="1920.6" y="954.4" font-size="18.5" text-anchor="start">-4</text><line x1="1914.6" y1="981.6" x2="1917.1" y2="981.6" stroke="#2b2b2b" stroke-width="1"/><text x="1920.6" y="986.6" font-size="18.5" text-anchor="start">-6</text><text x="1915.7" y="748.7" font-size="13.4">×10<tspan font-size="9.6" dy="-4">-4</tspan></text></svg>
</body></html>
